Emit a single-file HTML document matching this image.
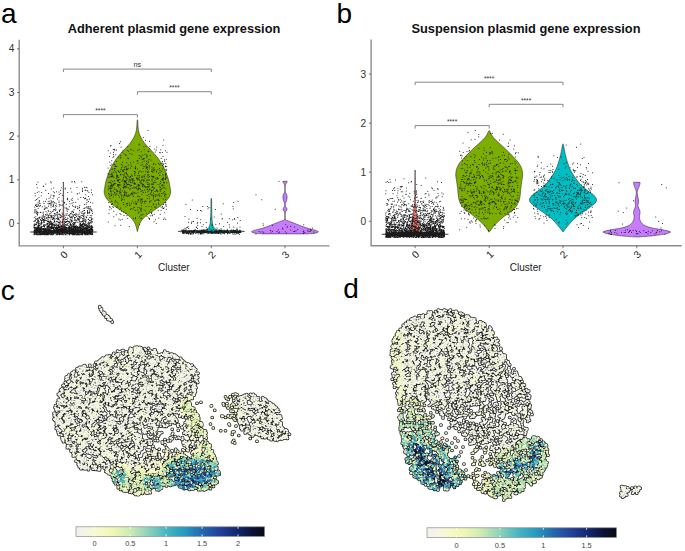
<!DOCTYPE html>
<html><head><meta charset="utf-8"><title>Plasmid gene expression</title>
<style>html,body{margin:0;padding:0;background:#fff}svg{display:block}text{font-family:'Liberation Sans', Arial, Helvetica, sans-serif}</style></head>
<body>
<svg width="685" height="551" viewBox="0 0 685 551">
<rect width="685" height="551" fill="#fff"/>
<g font-size="28" fill="#000"><text x="0.9" y="22.8">a</text><text x="336.5" y="23">b</text><text x="0.8" y="299.7">c</text><text x="343.2" y="297.6">d</text></g>
<g font-size="12.8" font-weight="bold" fill="#111" text-anchor="middle"><text x="174" y="32.8">Adherent plasmid gene expression</text><text x="526" y="33.3">Suspension plasmid gene expression</text></g>
<path d="M19.2 39.7V245.9H329.5" fill="none" stroke="#8c8c8c" stroke-width="1.4"/>
<path d="M19.2 223.4h-2.2M19.2 179.8h-2.2M19.2 136.1h-2.2M19.2 92.5h-2.2M19.2 48.8h-2.2M63.4 245.9v2.4M137.4 245.9v2.4M211.3 245.9v2.4M285 245.9v2.4" stroke="#555" stroke-width="0.8"/>
<g font-size="10.2" fill="#333" text-anchor="end"><text x="14.3" y="227">0</text><text x="14.3" y="183.3">1</text><text x="14.3" y="139.7">2</text><text x="14.3" y="96.1">3</text><text x="14.3" y="52.4">4</text></g>
<g font-size="10.2" fill="#222" text-anchor="end"><text transform="translate(68.4 255.2) rotate(-45)">0</text><text transform="translate(142.4 255.2) rotate(-45)">1</text><text transform="translate(216.3 255.2) rotate(-45)">2</text><text transform="translate(290 255.2) rotate(-45)">3</text></g>
<text x="173.8" y="270.6" font-size="10" fill="#222" text-anchor="middle">Cluster</text>
<path d="M371.1 39.4V245.8H681.7" fill="none" stroke="#8c8c8c" stroke-width="1.4"/>
<path d="M371.1 221.3h-2.2M371.1 172.2h-2.2M371.1 123.1h-2.2M371.1 74h-2.2M415.1 245.8v2.4M489.2 245.8v2.4M563 245.8v2.4M636.8 245.8v2.4" stroke="#555" stroke-width="0.8"/>
<g font-size="10.2" fill="#333" text-anchor="end"><text x="366.2" y="224.9">0</text><text x="366.2" y="175.8">1</text><text x="366.2" y="126.7">2</text><text x="366.2" y="77.6">3</text></g>
<g font-size="10.2" fill="#222" text-anchor="end"><text transform="translate(420.1 255.1) rotate(-45)">0</text><text transform="translate(494.2 255.1) rotate(-45)">1</text><text transform="translate(568 255.1) rotate(-45)">2</text><text transform="translate(641.8 255.1) rotate(-45)">3</text></g>
<text x="525.7" y="270.6" font-size="10" fill="#222" text-anchor="middle">Cluster</text>
<path d="M63.4 182.7C63.4 182.8 63.3 180.6 63.2 183.5C63.2 186.4 63.2 194.8 63.2 200C63.2 205.2 63.1 211.3 63 215C62.9 218.7 62.8 220.2 62.6 222C62.5 223.8 62.4 224.8 62.1 226C61.8 227.2 61.5 228.2 61 229C60.5 229.8 60.3 230.1 59.4 230.5C58.5 230.9 60.3 231.2 55.4 231.4C50.5 231.7 30.1 231.8 30.1 232C30.1 232.2 49.9 232.5 55.4 232.7C60.9 232.9 62.1 233.1 63.4 233.2L63.4 233.2C64.7 233.1 65.9 232.9 71.4 232.7C77 232.5 96.7 232.2 96.7 232C96.7 231.8 76.3 231.7 71.4 231.4C66.5 231.2 68.3 230.9 67.4 230.5C66.5 230.1 66.2 229.8 65.8 229C65.3 228.2 65 227.2 64.7 226C64.4 224.8 64.4 223.8 64.2 222C64 220.2 63.9 218.7 63.8 215C63.7 211.3 63.6 205.2 63.6 200C63.6 194.8 63.6 186.4 63.5 183.5C63.5 180.6 63.4 182.8 63.4 182.7Z" fill="#F8766D" stroke="#1a1a1a" stroke-width="0.5" stroke-linejoin="round"/>
<path d="M137.4 119.7C137.3 119.9 137.2 120 137.1 121C137 122 136.9 124.3 136.8 126C136.7 127.7 136.5 129.4 136.2 131C135.9 132.6 135.4 134.1 134.8 135.5C134.2 136.9 133.4 138.2 132.6 139.5C131.8 140.8 131.3 141.8 129.9 143.5C128.5 145.2 126.1 147.6 123.9 150C121.7 152.4 118.8 155.5 116.9 158C115 160.5 113.8 162.6 112.4 165C111.1 167.4 109.8 170 108.8 172.5C107.8 175 106.9 177.6 106.2 180C105.5 182.4 105.2 185 104.8 187C104.5 189 104 190.3 104.1 192C104.2 193.7 104.8 195.4 105.6 197C106.4 198.6 107.5 200 109 201.5C110.5 203 112.5 204.6 114.4 206C116.3 207.4 118.6 208.9 120.6 210.2C122.6 211.5 124.7 212.8 126.4 214C128.1 215.2 129.4 216.3 130.6 217.5C131.8 218.7 132.8 219.8 133.6 221C134.4 222.2 134.9 223.3 135.4 224.5C135.9 225.7 136.2 226.8 136.5 228C136.8 229.2 137.2 231 137.4 231.6L137.4 231.6C137.6 231 138 229.2 138.3 228C138.6 226.8 138.9 225.7 139.4 224.5C139.9 223.3 140.4 222.2 141.2 221C142 219.8 143 218.7 144.2 217.5C145.4 216.3 146.7 215.2 148.4 214C150.1 212.8 152.2 211.5 154.2 210.2C156.2 208.9 158.5 207.4 160.4 206C162.3 204.6 164.3 203 165.8 201.5C167.3 200 168.4 198.6 169.2 197C170 195.4 170.6 193.7 170.7 192C170.8 190.3 170.3 189 170 187C169.7 185 169.3 182.4 168.6 180C167.9 177.6 167 175 166 172.5C165 170 163.8 167.4 162.4 165C161.1 162.6 159.8 160.5 157.9 158C156 155.5 153.1 152.4 150.9 150C148.7 147.6 146.3 145.2 144.9 143.5C143.5 141.8 143 140.8 142.2 139.5C141.4 138.2 140.6 136.9 140 135.5C139.4 134.1 138.9 132.6 138.6 131C138.3 129.4 138.1 127.7 138 126C137.9 124.3 137.8 122 137.8 121C137.7 120 137.5 119.9 137.4 119.7Z" fill="#7CAE00" stroke="#1a1a1a" stroke-width="0.5" stroke-linejoin="round"/>
<path d="M211.3 198.5C211.2 198.6 211.1 197.7 211 199.3C210.9 200.9 210.9 205.2 210.9 208C210.9 210.8 210.8 213.7 210.7 216C210.6 218.3 210.5 220.3 210.3 222C210.1 223.7 209.9 224.9 209.5 226C209.1 227.1 208.9 227.8 207.7 228.5C206.5 229.2 207.2 229.7 202.3 230.2C197.4 230.7 178 231 178 231.4C178 231.8 196.8 232.1 202.3 232.4C207.9 232.7 209.8 232.9 211.3 233L211.3 233C212.8 232.9 214.8 232.7 220.3 232.4C225.9 232.1 244.6 231.8 244.6 231.4C244.6 231 225.2 230.7 220.3 230.2C215.4 229.7 216.1 229.2 214.9 228.5C213.7 227.8 213.5 227.1 213.1 226C212.7 224.9 212.5 223.7 212.3 222C212.1 220.3 212 218.3 211.9 216C211.8 213.7 211.8 210.8 211.7 208C211.7 205.2 211.7 200.9 211.6 199.3C211.5 197.7 211.4 198.6 211.3 198.5Z" fill="#00BFC4" stroke="#1a1a1a" stroke-width="0.5" stroke-linejoin="round"/>
<path d="M282.9 181.3C282.9 181.5 282.8 181.8 283.1 182.4C283.4 183.1 284.4 183.6 284.7 185.2C285 186.8 284.9 190.3 284.7 191.8C284.5 193.3 283.8 193.2 283.5 194C283.2 194.8 282.9 195.8 282.9 196.9C282.9 198 283.1 199.4 283.4 200.5C283.7 201.6 284.4 202.5 284.6 203.4C284.9 204.3 284.8 205.5 284.6 206.2C284.5 206.9 283.8 207.2 283.5 207.7C283.2 208.2 283 208.7 283 209.2C283 209.7 283.2 210.2 283.5 210.7C283.8 211.2 284.4 210.8 284.6 212.2C284.8 213.6 285.2 217.7 284.7 219.2C284.2 220.7 282.8 220.4 281.4 221C280 221.6 278.4 222.2 276.3 223C274.2 223.8 271.2 225.1 269 225.9C266.8 226.7 265.5 227.3 263.2 228C260.9 228.7 256.9 229.6 255 230.2C253.1 230.8 251.6 231.2 251.6 231.7C251.6 232.2 253.1 232.8 255 233.2C256.9 233.6 261.7 233.8 263 233.9L307 233.9C308.3 233.8 313.1 233.6 315 233.2C316.9 232.8 318.4 232.2 318.4 231.7C318.4 231.2 316.9 230.8 315 230.2C313.1 229.6 309.1 228.7 306.8 228C304.5 227.3 303.2 226.7 301 225.9C298.8 225.1 295.8 223.8 293.7 223C291.6 222.2 290 221.6 288.6 221C287.2 220.4 285.8 220.7 285.3 219.2C284.8 217.7 285.2 213.6 285.4 212.2C285.6 210.8 286.2 211.2 286.5 210.7C286.8 210.2 287 209.7 287 209.2C287 208.7 286.8 208.2 286.5 207.7C286.2 207.2 285.5 206.9 285.4 206.2C285.2 205.5 285.1 204.3 285.4 203.4C285.6 202.5 286.3 201.6 286.6 200.5C286.9 199.4 287.1 198 287.1 196.9C287.1 195.8 286.8 194.8 286.5 194C286.2 193.2 285.5 193.3 285.3 191.8C285.1 190.3 285 186.8 285.3 185.2C285.6 183.6 286.6 183.1 286.9 182.4C287.2 181.8 287.1 181.5 287.1 181.3Z" fill="#C77CFF" stroke="#1a1a1a" stroke-width="0.5" stroke-linejoin="round"/>
<path transform="scale(0.25)" d="M146 737h0m6-9h0m31 8h0m20-9h0m2 4h0m83-3h0m0-2h0m10 0h0m2 5h0m27-4h0m21 24h0m-4-2h0m-6 0h0m-8 4h0m-1 6h0m-21-9h0m-25 3h0m-22-1h0m0 4h0m-16-5h0m-30 1h0m-10 4h0m-30-12h0m-2 2h0m-24 5h0m-9 22h0m9-4h0m7-2h0m11 3h0m0 0h0m16-9h0m11 13h0m19-7h0m5 4h0m8-4h0m10 1h0m1 10h0m5-17h0m1 13h0m28-4h0m16-2h0m22 8h0m0-2h0m8-2h0m13-6h0m0-2h0m11-4h0m0 2h0m2 17h0m5-17h0m3 2h0m5 5h0m10-9h0m0 11h0m4 8h0m-12 17h0m-4-10h0m-3 13h0m-8-7h0m-1 2h0m-4 1h0m-4-5h0m-11 0h0m-11 6h0m-23-3h0m-4 6h0m-14 0h0m-1-6h0m-1 3h0m-19-15h0m-14 9h0m-6 6h0m-13-13h0m-2 4h0m-2-6h0m-1 13h0m-8-14h0m-2 8h0m-6 5h0m-10 3h0m-21-13h0m-9 6h0m-5 6h0m-5 3h0m-5-15h0m0 18h0m6 16h0m5-6h0m1 8h0m4-17h0m0 4h0m0 6h0m3 1h0m15-6h0m1 7h0m6-9h0m10 8h0m1-7h0m3 10h0m2-3h0m1-9h0m2 8h0m2 4h0m2-13h0m1 5h0m0 8h0m3-5h0m3-5h0m1 0h0m0 12h0m3-7h0m3 0h0m0 1h0m6 3h0m11-11h0m0 5h0m1 9h0m6 1h0m5-15h0m10 8h0m1-3h0m6 8h0m13-12h0m2 10h0m8-2h0m1-12h0m4 8h0m10 1h0m35 8h0m7-2h0m2-16h0m1 9h0m6-3h0m8 3h0m9 3h0m-7 23h0m-1 4h0m-2-13h0m-1 2h0m-1 7h0m-3 1h0m-1-2h0m-1-6h0m-1-2h0m-3 6h0m-3-5h0m-3 4h0m-5 1h0m-3 2h0m0 0h0m-17-13h0m-1 10h0m-1-3h0m-5 7h0m-1-8h0m-1 6h0m-7-9h0m-1 6h0m-2-2h0m-4 11h0m-3-13h0m-3-5h0m-13 6h0m-2 10h0m-6-1h0m-2-4h0m-2 1h0m-5-2h0m-10-11h0m-6 1h0m-3 17h0m-4-14h0m-12 1h0m-1 12h0m-1-15h0m-1 10h0m-4 6h0m-3 1h0m0-1h0m0-11h0m-1-5h0m-3 3h0m-7 3h0m0-6h0m-10 2h0m-5 8h0m-2-2h0m0 2h0m-5 0h0m-2 0h0m-1 3h0m0-11h0m-2 14h0m-8-11h0m-7-6h0m-3 4h0m-4-2h0m-2 10h0m-3-8h0m-1 0h0m-3 1h0m-2-5h0m-2 1h0m0-2h0m-2 17h0m-1-9h0m0 15h0m0 8h0m1-6h0m4-5h0m0 11h0m2 4h0m1-10h0m0 0h0m1 3h0m2 10h0m1-7h0m0 2h0m1-4h0m9 1h0m2-1h0m9 3h0m1-4h0m1 11h0m8-1h0m2-13h0m4 7h0m3 7h0m2-18h0m2 5h0m4 13h0m1-5h0m0-1h0m3-8h0m2 6h0m5-6h0m5-1h0m2 10h0m2 2h0m2-1h0m1-14h0m3 15h0m2-7h0m2 10h0m1-11h0m1 4h0m4 5h0m2-15h0m1 4h0m0 10h0m2-16h0m0 18h0m1 1h0m7-7h0m3 5h0m13-1h0m4-16h0m1 15h0m0-9h0m8 11h0m5-3h0m2 2h0m3-9h0m0 5h0m3 7h0m1-15h0m1 3h0m2 3h0m1 9h0m4 0h0m1-2h0m4-4h0m2 6h0m6-2h0m5-1h0m1-14h0m2 6h0m6 4h0m3-6h0m0 7h0m4-10h0m2 10h0m0 4h0m3-4h0m0-11h0m1 9h0m1 0h0m10-2h0m0 5h0m0-12h0m0 4h0m2 4h0m4 3h0m1-5h0m1-5h0m1 8h0m7-8h0m2-3h0m1 7h0m1 7h0m1 22h0m-4-15h0m0 14h0m-1 4h0m-1-3h0m0-8h0m-1 1h0m-3-7h0m-2 8h0m-5 8h0m-1-2h0m-2-15h0m-4 10h0m-2-2h0m-1-4h0m-4 12h0m-1 0h0m0-1h0m-3-14h0m0 7h0m-1 5h0m0-8h0m-2 0h0m-1 10h0m-1-15h0m-1 0h0m-1 12h0m-4-11h0m0 8h0m-3 2h0m-1-7h0m-3 7h0m-1-2h0m0-4h0m-1 0h0m0 11h0m-2 1h0m-1-4h0m-1-11h0m-1 9h0m-1 4h0m0 1h0m-4-11h0m-4-5h0m-1 9h0m-1 9h0m-1-4h0m-1-5h0m-1 1h0m-2-10h0m-2 4h0m-3 7h0m-2-1h0m0-6h0m-1 5h0m-2-2h0m-2 8h0m-2-7h0m0 1h0m-1 9h0m-1-13h0m0-4h0m-6 0h0m-1 11h0m-3-1h0m-3 6h0m-1-17h0m-3 16h0m-1-8h0m-2-6h0m0 12h0m-5 1h0m-3-10h0m-2 13h0m-2-16h0m-2 4h0m-1 2h0m-3 2h0m0-9h0m-1 6h0m-4 10h0m-1-3h0m-2-1h0m-1 5h0m0 0h0m0-11h0m0 1h0m-1 9h0m-1-7h0m-1-7h0m0-2h0m-1 13h0m-3-1h0m-4-13h0m-1 15h0m-1 0h0m0-11h0m-3 10h0m0-4h0m-1-2h0m0-7h0m-1 13h0m-2-3h0m0 5h0m-2 1h0m-2-7h0m0-6h0m0-4h0m-1 8h0m-1-5h0m0 3h0m-2 9h0m-2-8h0m-1-6h0m-3 9h0m-1 0h0m-1-1h0m-2-8h0m-1 4h0m0 4h0m-1-1h0m0 0h0m0 9h0m-1-6h0m-3-12h0m-2 13h0m-1-2h0m0-1h0m-1-10h0m-4 5h0m-1 10h0m-2-4h0m-1 7h0m0-11h0m-3 1h0m0-7h0m-1 16h0m-2-2h0m-1-11h0m-1 5h0m-1 4h0m-5 5h0m-2-10h0m-1 4h0m-2 1h0m-1-3h0m-3 6h0m-3-16h0m0 19h0m0-5h0m-5 4h0m0 0h0m-1-5h0m-1-6h0m0 9h0m-6-6h0m-1 16h0m1 11h0m0-13h0m3 11h0m1-13h0m1 16h0m0-14h0m4 12h0m0-6h0m1 9h0m0-8h0m4-8h0m0 4h0m0 5h0m1-2h0m0 1h0m0 1h0m0-5h0m2-5h0m0 13h0m1 4h0m1-14h0m0 3h0m1 6h0m6 2h0m0-16h0m1 12h0m0 7h0m1-17h0m0 9h0m0 7h0m0-9h0m1-4h0m1-3h0m0 12h0m1-4h0m0-10h0m3 0h0m2 1h0m2 7h0m0-8h0m0 9h0m0-4h0m2 5h0m0 8h0m0-11h0m1-5h0m3-2h0m1 1h0m2 17h0m1-16h0m3 12h0m1-10h0m0 13h0m2 2h0m0-12h0m0 6h0m0-8h0m0 9h0m1-10h0m0 3h0m1-3h0m2 3h0m1 8h0m0-4h0m1-2h0m2 7h0m0-9h0m0 1h0m1 9h0m1-7h0m0-7h0m0 3h0m1 8h0m1 2h0m0-10h0m1 12h0m0-12h0m1 8h0m1-6h0m1 3h0m1 8h0m0-3h0m0 3h0m2-3h0m0-1h0m0-2h0m0 3h0m2 3h0m2-3h0m0 0h0m0 0h0m1-7h0m2-7h0m1 15h0m0-10h0m0-3h0m1 4h0m4 11h0m1-6h0m1-8h0m1 14h0m2 0h0m0-13h0m4 1h0m0 1h0m1 2h0m1 6h0m3-7h0m1 2h0m1 2h0m0 6h0m0-16h0m1 9h0m2-7h0m1 14h0m1-8h0m5-4h0m0 3h0m0-3h0m1-2h0m3 14h0m4-6h0m2-8h0m1-1h0m1 14h0m0-8h0m2-2h0m1-1h0m0 3h0m1 9h0m0-13h0m1 0h0m3 10h0m1-1h0m0-15h0m0 6h0m3-1h0m0 1h0m2 6h0m2-2h0m0-3h0m1 0h0m3 7h0m0 4h0m1-3h0m0-7h0m0 11h0m1-2h0m0 0h0m1 2h0m0-2h0m1-15h0m0-1h0m0 7h0m1-1h0m2-1h0m0-6h0m1 3h0m1 10h0m2 5h0m2-8h0m1 8h0m0-3h0m1-1h0m1-13h0m1 8h0m1 8h0m0-4h0m3-2h0m1-11h0m0 1h0m1-1h0m0 8h0m3-5h0m4 6h0m2-9h0m4 8h0m1-8h0m1 18h0m0-13h0m1 9h0m1 5h0m0-6h0m1 2h0m0-3h0m2 7h0m0-13h0m1 1h0m2 0h0m1 10h0m2-2h0m0 4h0m0-15h0m1 14h0m0-11h0m1-3h0m0 13h0m0 2h0m1-3h0m0-2h0m0-14h0m1 11h0m1 5h0m1-13h0m1 11h0m0-11h0m1 13h0m0 1h0m1-12h0m3-5h0m1 12h0m0-2h0m0-4h0m0 11h0m1 1h0m1-17h0m0 18h0m1 0h0m2 0h0m3-6h0m2-1h0m2-4h0m0 10h0m0 1h0m0 0h0m1-5h0m0-5h0m2-7h0m1 14h0m0-13h0m0-1h0m1 10h0m0-11h0m3 7h0m1 2h0m0 0h0m1-10h0m0 12h0m2-7h0m1 2h0m2 1h0m1 29h0m0 1h0m0 0h0m0-8h0m-1 6h0m0-9h0m-1 10h0m0 1h0m-1-2h0m0 3h0m0-11h0m-1 5h0m0-4h0m0-6h0m-1 14h0m0-3h0m-1-3h0m0 7h0m0-6h0m0-2h0m0 0h0m0-4h0m0-4h0m-1 16h0m0-7h0m0-7h0m-1 15h0m0-12h0m-1 12h0m0-6h0m-1 5h0m0-2h0m-1 0h0m-1-6h0m0 7h0m0-6h0m0-5h0m-1 10h0m0-14h0m-1 16h0m0 1h0m0-9h0m-2 0h0m0-3h0m-2 10h0m0-2h0m0-10h0m-1 12h0m0-10h0m0 2h0m0-4h0m0 6h0m0-10h0m-1 18h0m0-1h0m-1-4h0m0 4h0m0-15h0m0 12h0m0 1h0m0-11h0m-1 7h0m0 5h0m0-13h0m0 3h0m-1 11h0m0-1h0m0-3h0m0 4h0m-1-2h0m0 3h0m0-11h0m0 6h0m-1 5h0m0-2h0m0 1h0m0 0h0m0-11h0m0-4h0m-1 14h0m0-6h0m0 6h0m-1-4h0m-1 3h0m0 3h0m0-8h0m0-9h0m0-2h0m0 16h0m0-7h0m-1 7h0m0-3h0m0-10h0m-1 6h0m0 0h0m-2 5h0m0 2h0m0-3h0m0 4h0m0-17h0m-1 17h0m0-3h0m0-10h0m0-2h0m-1 17h0m0-1h0m0 0h0m-1-2h0m0-6h0m-1 7h0m0-5h0m0-2h0m-1 4h0m0-8h0m-1 11h0m0-1h0m-1 2h0m0-7h0m0-8h0m0 3h0m-1 9h0m0 3h0m-1-2h0m0 0h0m0 3h0m0-8h0m-2 0h0m0-10h0m0 15h0m0-5h0m0 6h0m0-11h0m0 1h0m-1 8h0m0-11h0m-1 14h0m0-11h0m0 8h0m0-15h0m-1 19h0m0-16h0m-1 14h0m0-5h0m-2-3h0m0 7h0m0-13h0m0-1h0m-1 12h0m0-8h0m0 3h0m0 2h0m-1 8h0m-1 0h0m-1-9h0m0-1h0m0-2h0m0 1h0m-1 5h0m0 6h0m0-16h0m-1 9h0m0 2h0m0-4h0m-1 7h0m0 1h0m0-3h0m0-5h0m-1 2h0m0-3h0m-1 8h0m0-5h0m0-1h0m-1-4h0m0 12h0m-1-1h0m0 0h0m-1 0h0m0-6h0m0-6h0m0 1h0m-1 6h0m0 6h0m0-5h0m0 0h0m0-6h0m-1 1h0m-1 2h0m0-1h0m-1 2h0m0-6h0m0 3h0m-1 7h0m0-15h0m-1 18h0m0-6h0m0 6h0m-1-2h0m0-8h0m-1 7h0m0 2h0m0-1h0m0-9h0m0 10h0m0-12h0m0-1h0m-1 14h0m0-4h0m-1-3h0m0 7h0m0-8h0m0 4h0m0-11h0m0 14h0m-1-10h0m0 6h0m0 4h0m0-10h0m0-1h0m-1 4h0m-1 1h0m0 7h0m0-16h0m0 2h0m-1 2h0m-1 2h0m-1 9h0m0 1h0m0-6h0m0 3h0m0 2h0m0-15h0m0 0h0m0 2h0m-1 1h0m0 6h0m0-10h0m0-2h0m-1 16h0m0 3h0m0 0h0m0-18h0m-1 14h0m0 4h0m0-2h0m-1-11h0m0 11h0m0 1h0m0-3h0m-1 1h0m0-7h0m-1 7h0m-1-1h0m0-2h0m0-7h0m0 13h0m0-3h0m0-16h0m0 5h0m-1 13h0m0-3h0m0-4h0m-1-1h0m0-1h0m0-1h0m0 0h0m0-8h0m-1 19h0m0-3h0m0-3h0m0 4h0m0-4h0m0-3h0m-1 1h0m0-1h0m0-7h0m0 11h0m-3-4h0m0 8h0m0-11h0m-1 11h0m0-1h0m0-9h0m0 7h0m0-15h0m-1 12h0m0-6h0m-1 8h0m0-9h0m-1 8h0m0-3h0m0 9h0m0-2h0m0 0h0m0-8h0m-1 3h0m0 3h0m0 3h0m-1-2h0m0 1h0m0-14h0m-1 12h0m0 0h0m0 0h0m0-1h0m0-4h0m-1 2h0m-3 7h0m0-1h0m0-18h0m0 1h0m-1 16h0m0-4h0m0-12h0m0 10h0m-1 2h0m0-4h0m-1 1h0m0 1h0m0 7h0m0-2h0m0-16h0m-1 17h0m0 0h0m0-3h0m-1 0h0m0-13h0m-1 11h0m0-4h0m0 7h0m0-6h0m0-8h0m-1 14h0m0-6h0m-1 5h0m0 4h0m0-3h0m-1 2h0m0-11h0m0 0h0m-1 12h0m0-8h0m0 8h0m-1-4h0m0 4h0m0-2h0m0-7h0m-1-8h0m0 8h0m-1 9h0m0-8h0m-1-2h0m0 11h0m0-2h0m-1-13h0m-1 10h0m0-1h0m-1 1h0m0 4h0m0-5h0m0 3h0m0 2h0m-1 0h0m0-18h0m-1 17h0m0-10h0m-1 10h0m0-10h0m0 0h0m0 2h0m-1 6h0m0-3h0m-1-6h0m0 12h0m-1-16h0m-1 11h0m0 2h0m0-10h0m0 10h0m-1 2h0m0-1h0m0-8h0m-1-8h0m-1 19h0m-1-9h0m0 2h0m-1 5h0m0-12h0m0 8h0m0-7h0m-1 5h0m0 3h0m0-2h0m-1 4h0m-1 3h0m0-9h0m-1-2h0m0 9h0m0-13h0m-1-2h0m0 6h0m0 8h0m0-8h0m0-5h0m-1 15h0m0-13h0m0 5h0m-1-4h0m-1 13h0m0-2h0m0-4h0m0-3h0m0-10h0m-1 17h0m0-6h0m0-9h0m0 2h0m-1 7h0m-1 6h0m0-1h0m-1 1h0m0-8h0m-1 4h0m0-3h0m-1 8h0m0-2h0m0-11h0m0 5h0m-1 4h0m0 5h0m0-14h0m0 5h0m-1 4h0m0 5h0m-1-6h0m0-11h0m-1 11h0m0-2h0m0 3h0m-1-1h0m-1 6h0m0-9h0m-1 9h0m0-11h0m0-6h0m-2 15h0m0 0h0m0-15h0m-1 7h0m0 4h0m0-8h0m0-4h0m-1 14h0m-1-1h0m0 3h0m0-1h0m0-7h0m-1 3h0m0 1h0m-2 1h0m0-3h0m-1-1h0m0 3h0m-1-3h0m0-3h0m0-3h0m0-2h0m-1 4h0m0 8h0m0-2h0m0-12h0m-1 10h0m-1 4h0m-1-11h0m0 2h0m0 3h0m0 3h0m-1 4h0m0-2h0m-1 6h0m-1-9h0m-2-3h0m0 8h0m-1 1h0m0-2h0m0-6h0m0 2h0m0 0h0m0 0h0m0-5h0m-1 10h0m0 0h0m0-6h0m0-9h0m0 9h0m-1 7h0m0 2h0m0-17h0m-1 8h0m0-9h0m-1 16h0m0 1h0m0-1h0m-1-12h0m0 5h0m0-3h0m0 12h0m0-16h0m-1 13h0m0 4h0m0-12h0m-1 5h0m0 1h0m-1 3h0m0-7h0m0-3h0m-1 6h0m0-2h0m-1-5h0m0 11h0m0-6h0m0-5h0m-1 13h0m0-12h0m0 11h0m0-14h0m0 7h0m0 1h0m0 0h0m-1 6h0m0-3h0m0 2h0m-3 1h0m0 2h0m-2-5h0m-1 2h0m0-15h0m0 0h0m-2 13h0m0-6h0m0 9h0m-1-11h0m0 2h0m0 9h0m0-14h0m-1 14h0m-1-3h0m0-10h0m0-1h0m-1 14h0m0 0h0m0-14h0m0 0h0m-1 10h0m0-8h0m0-5h0m-1 18h0m-1 0h0m-1-4h0m0-1h0m-1 3h0m-1-11h0m-1 12h0m-1-2h0m0 2h0m0 0h0m0-10h0m0-1h0m-1 10h0m0-6h0m-1 7h0m0-1h0m0-3h0m-1-5h0m0 8h0m0-1h0m-1-6h0m-1 9h0m0-2h0m0-4h0m0 0h0m-1 3h0m0 3h0m0 1h0m-1-4h0m0 0h0m0-11h0m-1 11h0m0 1h0m0 3h0m-1-7h0m0-12h0m-1 19h0m0-2h0m0-15h0m-1 9h0m0 8h0m0-3h0m0-7h0m-1 5h0m0-1h0m0-4h0m0-3h0m0 1h0m-1-5h0m0 6h0m0 0h0m-1 7h0m0-10h0m0-3h0m-1 14h0m0-13h0m0 12h0m0-3h0m0 0h0m0-7h0m0-3h0m-1 17h0m0-3h0m0-5h0m0 2h0m-1 0h0m-1 1h0m0-6h0m-1 8h0m0-4h0m-1-1h0m0 7h0m-1 0h0m0-1h0m0 1h0m0-1h0m0-3h0m-1 5h0m0-6h0m0 4h0m-1-2h0m0-5h0m-1 9h0m0-2h0m0-7h0m-1 8h0m-1-5h0m0 5h0m0 0h0m-1-15h0m0 10h0m-1-10h0m-1-1h0m0 8h0m-1 5h0m0-6h0m-1-2h0m0-7h0m0 10h0m0-9h0m0 21h0m0 14h0m0-1h0m0 4h0m0-13h0m0 0h0m0 3h0m1 0h0m0 5h0m0 1h0m0-10h0m1 0h0m0 7h0m0-4h0m0 1h0m0-8h0m0-1h0m0 1h0m0 6h0m0-5h0m1 2h0m0 1h0m0 6h0m0-7h0m0 1h0m1 6h0m0-3h0m0 3h0m0-9h0m0 7h0m0-2h0m0 10h0m0-4h0m0 2h0m1-6h0m0-2h0m1 0h0m0 1h0m0 0h0m1-3h0m0-1h0m1 15h0m0 0h0m0-8h0m0-9h0m0 10h0m1-1h0m0-10h0m0 7h0m0 1h0m0 7h0m1-13h0m0-3h0m0 5h0m0 7h0m0 6h0m1-6h0m0 1h0m0-13h0m0 10h0m1 8h0m0-11h0m0 5h0m1-7h0m0 2h0m0-1h0m0 7h0m0-11h0m1 17h0m0-17h0m1-1h0m0 4h0m0-5h0m0 1h0m0 14h0m0-10h0m0 4h0m0 0h0m0-3h0m1 1h0m0-2h0m0 0h0m1 0h0m0 10h0m0-5h0m0-6h0m1 13h0m0-8h0m0 10h0m1-19h0m0 8h0m0-1h0m0-3h0m1 12h0m0-11h0m0 5h0m0-8h0m0 2h0m1-2h0m0 4h0m0 8h0m0-9h0m0 6h0m0-3h0m0 0h0m1-6h0m0 10h0m0-5h0m0-3h0m0 5h0m0-1h0m0-3h0m0 6h0m0-4h0m1-7h0m0 18h0m0 1h0m0-3h0m0-5h0m1-7h0m0 0h0m0-4h0m0 15h0m0-2h0m0-13h0m1 7h0m0 11h0m0-3h0m1 4h0m0-9h0m0 0h0m0 2h0m0-4h0m1-1h0m0-4h0m0 8h0m0-10h0m0 5h0m1 6h0m0-7h0m0 5h0m0-1h0m0 8h0m0-1h0m1-4h0m0 6h0m1-18h0m1 3h0m0 3h0m1-2h0m0 2h0m0 8h0m0 2h0m0 3h0m1-14h0m0-1h0m0 5h0m0-3h0m1-3h0m0 2h0m0 6h0m1 1h0m0 6h0m0-3h0m1-12h0m0 2h0m1 2h0m0 6h0m1-3h0m0 4h0m0-11h0m0 12h0m0-6h0m1 9h0m0-13h0m0 3h0m0 3h0m1-10h0m0 2h0m0-3h0m0 3h0m0 0h0m1 1h0m0 8h0m0-9h0m0-3h0m0 1h0m0 11h0m0 1h0m1 2h0m0 4h0m0-17h0m0 3h0m0-5h0m0 11h0m1-4h0m0-3h0m0-3h0m0-1h0m0 17h0m0-14h0m0 1h0m1 0h0m0 7h0m1 1h0m0-4h0m0 0h0m0 4h0m1-9h0m0 10h0m0 4h0m0-8h0m0-4h0m0-4h0m0-1h0m0 3h0m1-3h0m0 2h0m0 10h0m0 7h0m0-13h0m0-4h0m0 12h0m0 2h0m1-4h0m0-4h0m0-4h0m0-3h0m0 1h0m0 3h0m1-1h0m0 4h0m0 1h0m0-6h0m0 10h0m0-2h0m1 4h0m0-4h0m0-10h0m0 18h0m0-12h0m0-7h0m1 4h0m0 0h0m0 14h0m0-7h0m0 8h0m0-15h0m0 3h0m1 12h0m0 0h0m0-4h0m0-9h0m1 9h0m0-5h0m0 8h0m0-6h0m0 7h0m1-17h0m0 0h0m0 7h0m0 1h0m0 0h0m1 9h0m0-18h0m0 6h0m0-5h0m0-1h0m1 5h0m0 13h0m0-18h0m0 10h0m0 8h0m0-5h0m1 5h0m0-11h0m0 5h0m0-7h0m0-3h0m0 6h0m0-7h0m0 8h0m0-9h0m1 12h0m0-7h0m0 10h0m0-12h0m0-2h0m1-1h0m0 7h0m1 6h0m0-8h0m0 3h0m0-2h0m0-3h0m1 8h0m0-7h0m0 2h0m0-7h0m0 5h0m0 2h0m1-5h0m0 4h0m0 8h0m0-4h0m0-3h0m1 5h0m0 0h0m0 5h0m0-5h0m0-11h0m0 2h0m0 14h0m0-2h0m0-5h0m1 7h0m0-14h0m0-2h0m0 1h0m1 6h0m0-5h0m0 1h0m0 5h0m0 0h0m0-5h0m0 15h0m0-13h0m1 4h0m0 0h0m1-2h0m0-5h0m0 10h0m0 6h0m0-16h0m0 1h0m1 3h0m0-3h0m0 5h0m0-8h0m1 1h0m0 9h0m0-11h0m0 14h0m0-3h0m0 6h0m0-16h0m0 2h0m0 6h0m0-9h0m1 13h0m0-11h0m0 8h0m0 7h0m0-6h0m1-4h0m0-3h0m0 2h0m0-1h0m0 11h0m0-14h0m1 8h0m0-9h0m0 0h0m0 18h0m1 0h0m0-6h0m1-9h0m0 6h0m1 9h0m0-15h0m0-3h0m0 8h0m0-8h0m0 2h0m1 16h0m0-14h0m0 5h0m0-2h0m0 11h0m0-17h0m1 2h0m0 5h0m0 3h0m0 2h0m1-9h0m0-3h0m0 7h0m0-4h0m0-3h0m0 4h0m0-1h0m0-3h0m1 5h0m0 11h0m0-17h0m0 5h0m0-2h0m0-2h0m1 12h0m0-9h0m0-5h0m0 2h0m0 4h0m0-5h0m1 4h0m0 6h0m0-7h0m1-1h0m0 4h0m0-5h0m0 11h0m1-11h0m0 2h0m0 1h0m0-3h0m0 7h0m1 4h0m0-6h0m1-1h0m0-3h0m0 1h0m0 5h0m0 4h0m0-7h0m0 6h0m1 0h0m0-12h0m0 4h0m0-1h0m0 3h0m1 4h0m0-2h0m0-5h0m0-3h0m0 5h0m0 5h0m0-2h0m1-1h0m0 0h0m0-4h0m0 6h0m0 0h0m0 10h0m1-19h0m0 0h0m0 5h0m0 3h0m0-6h0m0 3h0m1-4h0m0 5h0m0 4h0m0 0h0m0 3h0m0-10h0m0 6h0m0-6h0m1 5h0m0 5h0m0-11h0m0 6h0m0 9h0m0-6h0m1 4h0m0-3h0m0-9h0m0 3h0m1-2h0m0-3h0m0 11h0m0-11h0m0 18h0m0-18h0m0 8h0m1 4h0m0-13h0m0 17h0m0-4h0m1-4h0m0-2h0m0-1h0m0 0h0m0 1h0m0-5h0m1 8h0m0 7h0m0-13h0m0 8h0m1-8h0m0 7h0m0-8h0m0 1h0m1-3h0m0 3h0m0-3h0m1 9h0m0-3h0m0 3h0m0-3h0m0-7h0m0 12h0m1-3h0m0-7h0m0 15h0m0-17h0m0 3h0m0 13h0m0-1h0m0-9h0m0 10h0m1-12h0m0-2h0m0 9h0m0 0h0m1 2h0m0-10h0m0 16h0m1-1h0m0-14h0m0 10h0m0-2h0m0-12h0m1 1h0m0 10h0m0-2h0m0 0h0m0-4h0m0 3h0m1 1h0m0-3h0m0-4h0m0 9h0m0-6h0m0 6h0m0-3h0m0 5h0m1-10h0m0 11h0m0-12h0m0 0h0m1 16h0m0-13h0m1-5h0m0 0h0m1 5h0m0 13h0m0-12h0m0-2h0m0 0h0m1-1h0m0 3h0m0 2h0m0-1h0m0-7h0m0 13h0m0-13h0m0 0h0m0 11h0m1 1h0m0-7h0m0-4h0m0 5h0m1-3h0m0 4h0m0 2h0m1 3h0m0-6h0m0 13h0m0-3h0m0-14h0m0-2h0m1 14h0m0-11h0m0 7h0m0 1h0m0-6h0m0 2h0m1-2h0m0 0h0m0 2h0m0 7h0m0 1h0m0-14h0m0 7h0m0 2h0m1-6h0m0-2h0m0 2h0m1-2h0m0 7h0m0-4h0m0 6h0m0-2h0m1-9h0m0 5h0m0 14h0m0-7h0m0-10h0m1 17h0m0-12h0m0 4h0m0-6h0m0-5h0m1 2h0m0 10h0m0-8h0m0-4h0m1 8h0m0-1h0m0 3h0m0 1h0m0-4h0m1-7h0m0 2h0m0 2h0m0-3h0m0 4h0m0 0h0m1 10h0m0-10h0m1 3h0m0-2h0m0-3h0m0 6h0m1-6h0m0 16h0m0-6h0m0-1h0m0-10h0m0-2h0m0 16h0m0-10h0m0 3h0m1-5h0m0 1h0m0 14h0m1-19h0m0 8h0m0-1h0m1-1h0m0 4h0m1-10h0m0 9h0m0 1h0m1-4h0m0 9h0m1-11h0m0 7h0m0 1h0m1 1h0m0-12h0m0 6h0m0 5h0m0-2h0m0 9h0m0-12h0m1 2h0m0-6h0m0 2h0m0 1h0m1 0h0m0-5h0m0 9h0m0 2h0m0 1h0m0 1h0m0-12h0m1 1h0m0 8h0m0 2h0m0-9h0m0 9h0m1-9h0m0 9h0m0-11h0m0 4h0m1-3h0m0 4h0m0-5h0m1 1h0m0 11h0m0-1h0m1-9h0m1-4h0m0 15h0m0-4h0m0 6h0m0-4h0m0-13h0m0 16h0m1-13h0m0 1h0m0 4h0m1 11h0m0-19h0m0 19h0m1-11h0m0 6h0m0 4h0m0-11h0m0-2h0m0 6h0m0-7h0m0-1h0m1 9h0m0 1h0m0-4h0m0 1h0m1-4h0m0-3h0m0-2h0m1 3h0m0 0h0m0 9h0m0-6h0m0 7h0m0-10h0m1-3h0m0 0h0m0 9h0m0-7h0m0 10h0m0-5h0m1-5h0m0 5h0m0-8h0m0 8h0m0 7h0m0-15h0m0 11h0m0-10h0m1 15h0m0-15h0m0-1h0m0 5h0m0 4h0m2 5h0m0-9h0m0-1h0m0-2h0m0-1h0m1 11h0m0-2h0m0-6h0m0-2h0m1 4h0m0-5h0m0 17h0m0-16h0m0-2h0m1 14h0m0-3h0m0-8h0m0 5h0m0 11h0m1 0h0m0-10h0m1-6h0m0 9h0m0-6h0m0-4h0m0 9h0m0-7h0m0 6h0m1-5h0m0 2h0m0-1h0m0-5h0m1 18h0m0-4h0m0-10h0m0 2h0m1 1h0m0 6h0m0-13h0m0 18h0m1 0h0m0-9h0m0-5h0m0 7h0m0-8h0m0 0h0m0 6h0m1-1h0m1 3h0m0-7h0m0 10h0m0 4h0m0-5h0m0-5h0m1 6h0m0-9h0m0 0h0m0 10h0m0-13h0m0-3h0m0 12h0m1 3h0m0-3h0m1-8h0m1 0h0m0 9h0m0-10h0m0 1h0m0-2h0m0 5h0m0 1h0m1-2h0m0-2h0m0 12h0m0-10h0m0 2h0m1-6h0m0 0h0m0 17h0m0 0h0m0-8h0m0-9h0m0-1h0m1 18h0m0-3h0m0-7h0m0-5h0m0 3h0m1-3h0m0 7h0m1-10h0m0 3h0m0-4h0m0 0h0m0 19h0m1-15h0m0 2h0m0-1h0m0-2h0m0 5h0m1 2h0m0-10h0m0 5h0m0-5h0m0 4h0m0 15h0m0 0h0m0-6h0m0-12h0m1 15h0m0-5h0m0-8h0m1 2h0m0 11h0m0-11h0m0-1h0m0 15h0m0-11h0m0-4h0m0 9h0m0-2h0m1 8h0m0-17h0m0-1h0m0 6h0m0 4h0m1 0h0m0-4h0m0-2h0m0 12h0m0-8h0m0 7h0m1-5h0m0-6h0m0-3h0m0 14h0m0-9h0m0 12h0m1 0h0m1-16h0m0 16h0m0-18h0m0 5h0m0 0h0m0-2h0m0-3h0m0 1h0m0 5h0m0-1h0m1-3h0m0 2h0m0 0h0m0-4h0m0 11h0m1-9h0m0 16h0m0-9h0m0-3h0m0 3h0m0 9h0m0-6h0m0-8h0m1 1h0m0 12h0m0 0h0m0-17h0m1 3h0m0 15h0m0-19h0m0 4h0m0 2h0m0 7h0m0-13h0m0 11h0m1-2h0m0 8h0m0-13h0m1 1h0m0-4h0m0 6h0m0 4h0m0-5h0m1 6h0m0-1h0m0-3h0m1 2h0m0-6h0m0 0h0m0 3h0m0-6h0m0 6h0m1 11h0m0-9h0m0 1h0m1 2h0m0-7h0m0 1h0m0-5h0m0 3h0m0-2h0m0 7h0m0-5h0m0 12h0m1-13h0m0 8h0m0-9h0m0 7h0m0-5h0m0 11h0m1-12h0m0 5h0m0-4h0m0 1h0m0-4h0m1 6h0m0 4h0m0-8h0m0 2h0m0 14h0m0-11h0m0 3h0m0 3h0m1-10h0m0 11h0m0-14h0m0 2h0m0 1h0m1 11h0m0 2h0m0-9h0m0 10h0m0-15h0m0 8h0m0-6h0m1 4h0m0 10h0m0-5h0m0-14h0m0 6h0m0-6h0m0 8h0m1 0h0m0-5h0m0 0h0m0 2h0m0 4h0m0-9h0m0 8h0m0-5h0m1 6h0m0-6h0m0 2h0m0-3h0m1 1h0m0 5h0m0-2h0m0-5h0m0 6h0m0 2h0m0-9h0m1 14h0m0-8h0m0-1h0m0 6h0m1-10h0m0 4h0m0 4h0m0-3h0m0-5h0m1 15h0m0-13h0m0 9h0m1-6h0m0 4h0m0-6h0m0 9h0m0 0h0m0-5h0m0-5h0m0 11h0m1 3h0m0 1h0m0-14h0m0 14h0m0 1h0m0-2h0m1-13h0m0 1h0m0 1h0m0-1h0m0 9h0m1-6h0m0-4h0m0 2h0m0 4h0m1-6h0m0 13h0m0-13h0m0 14h0m0-10h0m0-6h0m0 6h0m0 5h0m1-3h0m0 5h0m0-6h0m0 10h0m0-13h0m0-5h0m0 17h0m1-3h0m0-12h0m0 0h0m0 2h0m0 0h0m1 6h0m0-3h0m0 3h0m0-7h0m1-3h0m0 11h0m0-3h0m0-2h0m0 0h0m0-3h0m0-3h0m1 6h0m0-4h0m0 10h0m0 3h0m0-15h0m0 7h0m0-8h0m0 12h0m1 7h0m0-12h0m0 1h0m0-6h0m1 3h0m0 3h0m0 2h0m0 9h0m0-12h0m0-2h0m0 1h0m0-4h0m1 7h0m0-2h0m0 7h0m1-4h0m0 3h0m0-10h0m0 2h0m0-5h0m0 2h0m0 17h0m0-4h0m0-14h0m1 11h0m0 0h0m0 7h0m0-13h0m0-2h0m0 5h0m1-3h0m0-1h0m0 7h0m0-8h0m0 0h0m1 4h0m0 6h0m0-1h0m0-9h0m0 3h0m1 5h0m0-11h0m0 8h0m0-5h0m0 2h0m0-6h0m0 1h0m0 6h0m0 8h0m1-6h0m0-4h0m0-1h0m0 6h0m0 0h0m1 4h0m0-12h0m0 12h0m0-10h0m0-3h0m0 13h0m1-7h0m0-2h0m0 6h0m0-9h0m0 9h0m0-11h0m0 18h0m0-14h0m1 7h0m0-11h0m0 5h0m0-1h0m0 7h0m1 5h0m0-15h0m0 13h0m1-12h0m0 13h0m0-4h0m0 0h0m1-5h0m0-1h0m0-5h0m0 8h0m0-1h0m1-7h0m0 4h0m0 0h0m0 3h0m0 0h0m0 0h0m0 2h0m0 9h0m1-5h0m0 3h0m0-3h0m1-9h0m0 5h0m0-3h0m0 12h0m0-10h0m1 2h0m0-4h0m0 6h0m0-9h0m0 2h0m0 0h0m1 6h0m0-11h0m0 19h0m0-14h0m1 1h0m0-5h0m0 17h0m0-10h0m0-7h0m0 1h0m1 11h0m0 2h0m0-14h0m0 4h0m1-2h0m0 13h0m0-11h0m0-4h0m0 2h0" stroke="#1a1a1a" stroke-width="4.5" stroke-linecap="round" fill="none"/>
<path transform="scale(0.25)" d="M592 521h0m-19 29h0m-95 24h0m4-7h0m77 9h0m23-15h0m16 4h0m57-5h0m-3 21h0m-9 18h0m-16-11h0m-8 8h0m-19-11h0m-2 9h0m-15-9h0m-6 14h0m-2-12h0m-18 11h0m-2-18h0m-31 19h0m-1-2h0m-12-10h0m-27 1h0m-25 9h0m-2 0h0m-4 1h0m-9-16h0m-2 2h0m-9 19h0m8 9h0m13-3h0m0 9h0m5-15h0m4 16h0m3-19h0m22 9h0m4-6h0m4 12h0m7 3h0m6-17h0m5 4h0m5 9h0m9 3h0m5-14h0m18-2h0m14 6h0m15 10h0m12-12h0m3 0h0m1 0h0m25 3h0m4-8h0m14 10h0m2 1h0m8-1h0m13-7h0m6 6h0m-3 28h0m-7 2h0m-6-13h0m-7 8h0m-44-12h0m-5 15h0m-6-13h0m-4 4h0m0-8h0m-9 14h0m-3 0h0m-2 4h0m-1-18h0m-3 16h0m-2-8h0m-3-4h0m-5 9h0m-1 0h0m0-11h0m-43 12h0m-5-2h0m-5-10h0m-20 7h0m-1-7h0m-2 10h0m-8-4h0m-18-3h0m-3 5h0m-14-4h0m1 22h0m6 8h0m2-13h0m8 14h0m4 0h0m7-11h0m19 12h0m5-9h0m17 2h0m15 0h0m11-3h0m15-4h0m3-2h0m0 2h0m1 9h0m17-4h0m1 10h0m7-15h0m0 0h0m9 10h0m0-9h0m3 12h0m3-13h0m1 6h0m11-10h0m11 14h0m0 4h0m8-1h0m11-4h0m5 5h0m5-4h0m6-2h0m0-6h0m3 13h0m2-4h0m4-10h0m0-1h0m4 10h0m4 23h0m0-11h0m-5 1h0m0-3h0m-1 15h0m-6-11h0m-4 8h0m-1-14h0m-12 12h0m-7 5h0m-12-1h0m0 1h0m-3-8h0m-3 4h0m-5 2h0m0-9h0m-11-1h0m0 5h0m-1-10h0m-6 15h0m0-7h0m-3-4h0m-1 4h0m-1 4h0m-2-13h0m-3 6h0m-5-2h0m-2 8h0m-9-13h0m-14 16h0m-7-5h0m-1-6h0m0 10h0m-2-3h0m-13-6h0m-3-6h0m-2 12h0m-9-12h0m0 13h0m-2 4h0m-4 2h0m0-5h0m-1-6h0m0 10h0m-2 1h0m-2-13h0m-4 11h0m-1 0h0m0-8h0m-7-6h0m-3 6h0m-1 8h0m-2 0h0m-17-11h0m-4-2h0m-1 2h0m-1 9h0m-1-10h0m-3 9h0m-8 2h0m-1 2h0m-5-16h0m-11 10h0m1 22h0m3 3h0m3-14h0m2 16h0m6-4h0m1-3h0m0 6h0m7-9h0m3-8h0m5 6h0m2 4h0m7-9h0m2 4h0m4 3h0m3-3h0m1 13h0m0-2h0m2 2h0m7-15h0m0 1h0m0-2h0m1 15h0m1-18h0m1 6h0m5 7h0m5-4h0m1 4h0m2 2h0m1 1h0m29-11h0m1 10h0m1-9h0m3 5h0m12 3h0m1-7h0m5-3h0m5 3h0m7 0h0m8 12h0m3-14h0m6 4h0m3-1h0m0 9h0m0-8h0m1-5h0m13 2h0m2-2h0m4 5h0m0-5h0m4-3h0m9 7h0m1-3h0m8 9h0m6-5h0m0-8h0m7 4h0m4 14h0m11-1h0m1-1h0m1-4h0m2-10h0m1 27h0m-4-3h0m0 6h0m-1 2h0m0 3h0m-1-17h0m-6 15h0m-1-5h0m-2 1h0m-2 6h0m0-3h0m-5 4h0m-6-17h0m-6 12h0m-3-1h0m-1-4h0m-2 8h0m-5-4h0m-7-3h0m0-4h0m-1-1h0m-1 0h0m-4 1h0m0 6h0m-1 7h0m-2-15h0m-8 2h0m-3-6h0m-2 10h0m-1 8h0m-3-14h0m-8 9h0m-4-6h0m-1-2h0m0-1h0m-7 6h0m0-6h0m-1 14h0m-2-10h0m-8-5h0m-1 6h0m0 8h0m0-8h0m-3 6h0m-2-13h0m-1 1h0m-1 16h0m-1-4h0m-2-3h0m0-1h0m-1 2h0m-6-12h0m-7 15h0m-1-1h0m-3-11h0m0 14h0m-2-4h0m0-14h0m-4 7h0m0 12h0m-1-14h0m-3 4h0m-2 8h0m-4-12h0m-2 11h0m-2-16h0m-3 11h0m0 2h0m-2-3h0m-1-3h0m-4-3h0m-4-1h0m-1 13h0m0-6h0m-14 9h0m-4-1h0m-1-9h0m-4-6h0m0 5h0m-1 11h0m0-18h0m-2 8h0m-1-9h0m0 5h0m-2 9h0m-9-5h0m-5-7h0m0 5h0m0-2h0m-4-1h0m-1 3h0m-2-2h0m-4 3h0m-1 0h0m-6 1h0m2 21h0m4 0h0m3 0h0m1 1h0m1-8h0m2 13h0m5-11h0m0 0h0m1 13h0m3-2h0m2-3h0m0 3h0m1-13h0m3 10h0m8-10h0m1 15h0m3-15h0m0-2h0m1 3h0m0 14h0m4-8h0m0 9h0m1-9h0m9-5h0m2-5h0m7 13h0m0-9h0m0 3h0m1 11h0m1-16h0m1 4h0m2 2h0m0-4h0m1 1h0m2 5h0m0 4h0m1-13h0m3 16h0m2 0h0m3 0h0m1-10h0m4 11h0m0-17h0m2 0h0m0 7h0m2 2h0m6 1h0m0-7h0m2-1h0m5-1h0m0 11h0m1-4h0m0 5h0m2 3h0m3-2h0m10 3h0m3 1h0m4-17h0m1 7h0m3-3h0m0 9h0m4-13h0m0 10h0m2 4h0m5-16h0m0 4h0m0 13h0m4-16h0m6 7h0m3-7h0m4 8h0m0 8h0m1 0h0m0-16h0m3 15h0m3-16h0m1 16h0m7 0h0m2-12h0m0 13h0m1-1h0m4-5h0m0 6h0m4-7h0m2-8h0m4 8h0m9 8h0m7-2h0m3-3h0m1-7h0m7 13h0m2-18h0m2 8h0m2 3h0m2-2h0m9 1h0m-3 24h0m-7-6h0m-1-8h0m-1 11h0m-6-8h0m-1 9h0m-1-11h0m-2 17h0m-3-9h0m-1 8h0m-1 1h0m-2-12h0m-21 6h0m0-2h0m-3 6h0m-2-9h0m-2-1h0m-2 2h0m-8 7h0m-2 1h0m0-13h0m-1 12h0m-3-9h0m-2 2h0m-2 9h0m-1-13h0m0 1h0m-1 10h0m-1-8h0m-6 2h0m-1-4h0m-1 0h0m-3-4h0m-4 5h0m0 0h0m-1-7h0m-1 5h0m-8 12h0m-3-3h0m0-11h0m-2 0h0m-2 11h0m-1-6h0m-1 10h0m0-17h0m-1 14h0m-5-10h0m-1 8h0m-3-3h0m-4 2h0m-4-4h0m-4 4h0m-5-10h0m-3 13h0m-2-11h0m-2-4h0m0 16h0m-5-5h0m-6-3h0m-1-8h0m-3 11h0m-1-6h0m-3 3h0m-2-3h0m-3 3h0m0-8h0m0 13h0m-3-3h0m-9-10h0m-2 15h0m-5-12h0m-1-1h0m0 6h0m-5-5h0m-5 14h0m-6 1h0m-2-6h0m-3-12h0m-2 2h0m-2 5h0m-3 6h0m0-8h0m0-4h0m-3 12h0m-1-11h0m0 13h0m-1-8h0m-1 5h0m-4 1h0m-1 0h0m0 0h0m-1-8h0m-2 14h0m1 14h0m5 5h0m4-16h0m0 3h0m1 1h0m1 6h0m8-8h0m0 14h0m5-6h0m2-3h0m4 9h0m2-14h0m1 10h0m2-9h0m2-2h0m1 4h0m6 5h0m1-7h0m2 6h0m0-11h0m2 9h0m1 9h0m5-15h0m7 7h0m2-7h0m0 13h0m1 3h0m1-12h0m1 5h0m5 4h0m1-6h0m16 7h0m2-1h0m1-1h0m1-3h0m4 3h0m0 4h0m1-11h0m4 4h0m3-3h0m5 5h0m7-14h0m1 11h0m12-6h0m1 0h0m3 12h0m3-15h0m1 7h0m1 0h0m6-9h0m3 9h0m9-2h0m4 11h0m0-15h0m7 12h0m3-12h0m0 6h0m0 10h0m2-15h0m1-3h0m6 11h0m6-6h0m3 13h0m2-16h0m1-3h0m4 7h0m1-4h0m3 16h0m4-4h0m3-10h0m5 9h0m2 0h0m7-3h0m2 4h0m1-9h0m4 10h0m2 2h0m0 13h0m-2 7h0m-2-13h0m-2-3h0m-4 14h0m-1-1h0m-8-11h0m-6-1h0m-1 1h0m-4 13h0m-5-16h0m0 16h0m-7-11h0m-2-6h0m-6 9h0m0-8h0m0 6h0m-1 9h0m-4-16h0m-12 15h0m0-9h0m-8 8h0m-1-13h0m-18 15h0m-4 2h0m-1-1h0m-5-2h0m-1-9h0m-6 12h0m-1-13h0m-2 0h0m-16 0h0m-15-2h0m-1 0h0m-4-3h0m-2 6h0m-3-2h0m-4-1h0m-5-1h0m-3 17h0m-2-10h0m0-6h0m0 6h0m-6 9h0m-1-2h0m-1-14h0m0 2h0m-2 8h0m-7-4h0m-4-7h0m-13 1h0m-8 6h0m-7-6h0m-1-2h0m-5 13h0m-1-8h0m-4 25h0m11 8h0m1-13h0m3 10h0m10-7h0m2-7h0m6 7h0m4 8h0m14-14h0m7 8h0m2 8h0m10-3h0m3 0h0m1-2h0m8-1h0m8 2h0m4-10h0m6 8h0m7-5h0m2 11h0m0-5h0m1 3h0m1-3h0m5-5h0m2-6h0m8 3h0m3-4h0m0 0h0m1 13h0m3-3h0m2-6h0m7 1h0m2 6h0m3-8h0m2 2h0m15-1h0m0 3h0m5-5h0m9 12h0m1 4h0m5-15h0m4-3h0m2 17h0m7-16h0m2 10h0m1 5h0m1-15h0m18 15h0m6-6h0m3 6h0m0-7h0m2 15h0m0 12h0m-1-17h0m-8 11h0m-2 3h0m-4-2h0m0-7h0m-1 7h0m-5-4h0m-20-1h0m-4 2h0m-1-1h0m-12-1h0m-3 11h0m-8-12h0m-12 0h0m-17 10h0m-1-13h0m-2 9h0m-1 6h0m-4-6h0m-7-2h0m-14-1h0m-2 0h0m-3 7h0m-8-2h0m-3 4h0m-2-16h0m-1-2h0m-9 2h0m-7 5h0m-20 5h0m-4 7h0m-9-14h0m-3 5h0m-14 0h0m-2-5h0m-6 10h0m-5-5h0m-1-4h0m-2 13h0m-1 14h0m19-8h0m10 14h0m15-5h0m4 4h0m2-14h0m9 4h0m8 5h0m38-11h0m10-2h0m3 12h0m2-4h0m8-5h0m1 2h0m7 12h0m8-16h0m7 12h0m11-6h0m8 7h0m1-4h0m10 7h0m16-16h0m8 16h0m3-16h0m15 10h0m4 26h0m-6-5h0m-2 6h0m-20-6h0m-13 7h0m-13-19h0m0 3h0m-8 0h0m-3 11h0m0 3h0m-4-5h0m-6-7h0m-21-5h0m0 13h0m-3-13h0m-1 13h0m-5-6h0m-16 8h0m0-4h0m-8 2h0m-23 1h0m-3-12h0m-12 0h0m-7 15h0m-13-1h0m-21-9h0m-22 21h0m48-8h0m77 17h0m58-10h0m9 6h0m-108 13h0m-34-5h0m-23 2h0" stroke="#1a1a1a" stroke-width="4.5" stroke-linecap="round" fill="none"/>
<path transform="scale(0.25)" d="M744 817h0m25-17h0m124 15h0m42-5h0m17-5h0m-19 30h0m-1-10h0m-70 13h0m-26-8h0m-4 5h0m-2-9h0m-19 0h0m-49 12h0m28 4h0m12 0h0m5 2h0m78 12h0m66 14h0m-12 8h0m-1-4h0m-7 5h0m-14-4h0m-27 0h0m-2 0h0m-31-7h0m-15 8h0m-39 3h0m-15-6h0m-32 3h0m-16-10h0m14 23h0m12 4h0m0-5h0m6-2h0m2-1h0m15 8h0m2-4h0m11 2h0m11 8h0m12-9h0m38 7h0m15-2h0m32-6h0m7 10h0m33-7h0m11-10h0m-1 26h0m-11 10h0m-1-6h0m-3 7h0m-10-11h0m-17 0h0m-9 9h0m-14-11h0m-11 9h0m-16-3h0m-14 6h0m-3-8h0m-1-10h0m-3 0h0m-7 16h0m-9 1h0m-3 2h0m-3-9h0m-10 9h0m-7-13h0m-17-5h0m-1 13h0m-3-4h0m-2-2h0m-3 11h0m-27-5h0m-2-7h0m-3 2h0m-4 2h0m-2 6h0m-4-4h0m-5 4h0m-8 6h0m1-2h0m0-1h0m1 7h0m0-5h0m1 5h0m0 3h0m0 1h0m1-2h0m0-5h0m0 9h0m0 0h0m0-7h0m1-4h0m0 5h0m0-4h0m0 0h0m1 1h0m0 0h0m0-1h0m0 1h0m1 1h0m0-2h0m1 7h0m0 0h0m0 1h0m0 3h0m0-8h0m1 6h0m1-10h0m0 8h0m0-9h0m0 6h0m1 5h0m1-5h0m1-5h0m1 6h0m2-1h0m0 3h0m0-8h0m1 3h0m0 2h0m0 2h0m0 5h0m0-6h0m1 3h0m0-1h0m1-7h0m0 5h0m1-1h0m0 2h0m0-1h0m0 5h0m1-9h0m0 0h0m0 1h0m1 9h0m0-5h0m0-1h0m0-1h0m1 3h0m0 1h0m1-2h0m1-5h0m0 8h0m1-1h0m0-1h0m0-1h0m1 5h0m0-11h0m0 5h0m0 8h0m1-8h0m1 0h0m1-5h0m1 1h0m0 4h0m0 2h0m0-6h0m1 2h0m0-3h0m0 10h0m1-5h0m0 4h0m0-10h0m0 6h0m1-3h0m0-1h0m0 12h0m1-11h0m0 12h0m1-4h0m0-1h0m2 0h0m0-7h0m0 7h0m0-9h0m0 1h0m0 1h0m1 3h0m0-5h0m0 4h0m1-2h0m0 11h0m1-7h0m0 0h0m1-1h0m1 2h0m1-6h0m0-1h0m0 5h0m1 4h0m0 4h0m1-7h0m0-8h0m0 13h0m0-7h0m0-2h0m1 5h0m0-2h0m1 4h0m0-4h0m0 1h0m0-7h0m0 4h0m1 1h0m0 0h0m0-4h0m1 5h0m0-4h0m1-2h0m0-2h0m0 5h0m1 0h0m1-1h0m0 5h0m1-8h0m2 13h0m1-1h0m0-6h0m1 4h0m0-2h0m0 0h0m1-7h0m1 6h0m1 1h0m0-3h0m1-3h0m1 4h0m1 4h0m0-5h0m0-2h0m0 0h0m1 2h0m0 3h0m0-1h0m1 3h0m0 5h0m1-6h0m0-3h0m0-1h0m1 1h0m0-2h0m0 5h0m1-4h0m0 4h0m1-4h0m0 4h0m0-5h0m1-2h0m2 5h0m0-1h0m0 5h0m1 0h0m0-4h0m0-2h0m0 9h0m0-11h0m1 10h0m0-10h0m0 0h0m0 6h0m1-6h0m1-1h0m0 14h0m0-5h0m1-4h0m0-2h0m1 0h0m1 6h0m0-5h0m0 1h0m0-8h0m0 14h0m0-4h0m0-3h0m1 7h0m0-3h0m0-7h0m0 6h0m1-7h0m0 0h0m1 7h0m1-9h0m0 4h0m1 3h0m0-2h0m0-2h0m0 12h0m0-9h0m0 3h0m1-2h0m1 0h0m0-1h0m0-1h0m1-1h0m0-1h0m0 0h0m0-2h0m0 2h0m1 1h0m0 8h0m1-11h0m0 5h0m0 3h0m1-3h0m0 1h0m0-3h0m0 1h0m1 3h0m0-3h0m0 3h0m0 1h0m0-4h0m0 0h0m0 1h0m1 0h0m0-5h0m1 2h0m0 1h0m0 5h0m1-2h0m0-2h0m1 1h0m0 1h0m0 2h0m1-5h0m0 6h0m0-2h0m1-1h0m0 0h0m0 2h0m1-4h0m0-6h0m1 5h0m0 4h0m3-5h0m0 3h0m1 0h0m0 5h0m0-8h0m1 6h0m0 1h0m0 3h0m1-4h0m0-2h0m1 4h0m1-4h0m0-3h0m0 6h0m1-3h0m1-1h0m1 0h0m1-2h0m0 0h0m1 8h0m0-7h0m0 2h0m1-5h0m0 7h0m2-4h0m1 2h0m0-1h0m2 7h0m0-1h0m0-9h0m0 5h0m1 1h0m0 0h0m0-2h0m0 3h0m1-1h0m0-5h0m0-2h0m0-3h0m1 9h0m1 4h0m1-4h0m1 2h0m0-1h0m2-1h0m0 3h0m0-3h0m0 0h0m1-1h0m0-3h0m0 4h0m1 4h0m0-5h0m1-5h0m0 3h0m1 7h0m1-6h0m1-3h0m0 1h0m1 5h0m0-1h0m0-6h0m0 2h0m1 1h0m0 1h0m0 6h0m1-3h0m1-2h0m0-4h0m1 2h0m0 0h0m0-1h0m0-4h0m1 2h0m0 10h0m1-10h0m0 9h0m1-7h0m1 3h0m0 5h0m0-2h0m1-6h0m0 4h0m1 1h0m0 2h0m2-6h0m0 7h0m1-4h0m1 5h0m1-11h0m1-3h0m0 7h0m0 3h0m0-1h0m1-5h0m0 4h0m0 0h0m1 2h0m0 2h0m0-11h0m1 6h0m0-2h0m1 2h0m1-5h0m0 1h0m0 5h0m1 6h0m0-6h0m0-6h0m1 5h0m0 9h0m1-7h0m0-9h0m1 8h0m0-4h0m0 4h0m1-1h0m0-2h0m1 1h0m0 6h0m1-1h0m0-6h0m1-3h0m0 4h0m0-1h0m1 7h0m0-2h0m0-1h0m0-1h0m1 1h0m0-2h0m2 4h0m0 2h0m1-4h0m0-5h0m0 5h0m1-9h0m0 9h0m1 0h0m0-5h0m1 10h0m0-7h0m1 8h0m0-10h0m1 5h0m0-2h0m1-3h0m0-1h0m1 3h0m1-4h0m1 7h0m1-3h0m1 1h0m0-3h0m2-1h0m0 7h0m1-9h0m0 7h0m1-8h0m0 10h0m0 0h0m0-8h0m0 8h0m0 4h0m1-4h0m0 1h0m1 0h0m0-5h0m0-2h0m1 5h0m0 1h0m0-7h0m1 7h0m0-2h0m0-2h0m1-1h0m1 4h0m0 2h0m1 0h0m3-3h0m0 5h0m1-13h0m0 2h0m1 5h0m1-1h0m1 3h0m2-10h0m0 9h0m0-5h0m1 5h0m0 0h0m0-1h0m0 1h0m1 1h0m1 2h0m0-1h0m0-1h0m1-9h0m0 0h0m1 4h0m0 1h0m0 1h0m1 2h0m0 8h0m0-10h0m1 3h0m0-1h0m0-6h0m0 2h0m0 1h0m1-6h0m0 11h0m0-2h0m1-2h0m1 0h0m0 3h0m0-7h0m0 6h0m0-8h0m1 9h0m0 2h0m1 0h0m0-6h0m0-2h0m0 1h0m1 6h0m0-9h0m0 9h0m0 0h0m0-3h0m1-4h0m0 0h0m0 3h0m0 10h0m0-6h0m0-4h0m1-1h0m0 1h0m0 2h0m0 1h0m1-2h0m0 3h0m0-9h0m0 7h0m0-1h0m1 2h0m1-4h0m0 5h0m1 0h0m0-5h0m0 2h0m0-3h0m1 5h0m0-4h0m0 0h0m1-3h0m0 4h0m0 8h0m0-12h0m1 8h0m0-5h0m1 0h0m0 4h0m0-1h0m0-5h0m1-2h0m0 1h0m1 5h0m0-1h0m0-1h0m1 7h0m1 1h0m1-4h0m0-1h0m1-2h0m0 0h0m0 5h0m0-8h0m0 7h0m1-4h0m0 0h0m0-2h0m0 5h0m1-4h0m0-2h0m1 5h0m0 8h0m0-13h0m1-3h0m1 8h0m0-3h0m0 4h0m0-9h0m1 6h0m1-4h0m1 4h0m0 3h0m0-6h0" stroke="#1a1a1a" stroke-width="4.5" stroke-linecap="round" fill="none"/>
<path transform="scale(0.25)" d="M1116 725h0m-92 54h0m23 20h0m54 38h0m-49 58h0m91 4h0m72 0h0m35 13h0m-8 5h0m-51 0h0m-13-9h0m-15-3h0m-14 4h0m0-2h0m-18 9h0m0-4h0m-18 7h0m-22-17h0m-38-1h0m-29 35h0m12-10h0m7 2h0m8-1h0m4 4h0m27-10h0m2 7h0m6-3h0m18 1h0m7 5h0m2-3h0m24-1h0m5 5h0m17-12h0m12 6h0m4 0h0m5-3h0m29 3h0m1 6h0m0 2h0m1-10h0m4 6h0m13-10h0m0 4h0m5 2h0m5-2h0m3-3h0m0-1h0m11 8h0" stroke="#1a1a1a" stroke-width="4.5" stroke-linecap="round" fill="none"/>
<path d="M415.1 171.2C415.1 171.3 415 168.9 415 172C414.9 175.1 414.9 185.3 414.9 190C414.9 194.7 414.8 197.3 414.7 200C414.6 202.7 414.4 203.9 414.2 206.2C414 208.5 413.6 211.3 413.2 213.9C412.9 216.5 412.7 219.3 412.3 221.6C411.9 223.9 411.3 226.3 410.8 227.8C410.3 229.3 409.9 229.7 409.3 230.5C408.7 231.3 408.4 231.9 407.4 232.4C406.4 232.9 407.4 233.1 403.1 233.4C398.8 233.7 381.5 234 381.8 234.3C382.1 234.6 399.6 235 405.1 235.3C410.7 235.6 413.4 235.8 415.1 235.9L415.1 235.9C416.8 235.8 419.6 235.6 425.1 235.3C430.7 235 448.1 234.6 448.4 234.3C448.7 234 431.4 233.7 427.1 233.4C422.8 233.1 423.8 232.9 422.8 232.4C421.8 231.9 421.5 231.3 420.9 230.5C420.3 229.7 419.9 229.3 419.4 227.8C418.9 226.3 418.3 223.9 417.9 221.6C417.5 219.3 417.3 216.5 417 213.9C416.6 211.3 416.2 208.5 416 206.2C415.8 203.9 415.6 202.7 415.5 200C415.4 197.3 415.3 194.7 415.3 190C415.3 185.3 415.3 175.1 415.2 172C415.2 168.9 415.1 171.3 415.1 171.2Z" fill="#F8766D" stroke="#1a1a1a" stroke-width="0.5" stroke-linejoin="round"/>
<path d="M489.2 130.5C489 130.8 488.6 131.3 488.2 132C487.8 132.7 487.5 133.6 487 134.5C486.5 135.4 485.7 136.6 485 137.5C484.3 138.4 483.7 139 482.6 140.1C481.5 141.2 480.1 142.5 478.4 144C476.7 145.5 474.6 147.3 472.6 149.2C470.6 151.1 468.3 153.4 466.6 155.2C464.9 157 463.5 158.5 462.2 160C460.9 161.5 459.7 162.7 458.8 164.2C457.9 165.7 457.1 167.2 456.6 169C456.1 170.8 455.7 172.8 455.7 174.8C455.7 176.8 456.3 178.7 456.6 181C456.9 183.3 457.3 186.1 457.6 188.4C457.9 190.7 457.9 193 458.2 195C458.5 197 458.5 198.5 459.2 200.4C459.9 202.3 461 204.7 462.2 206.4C463.4 208.1 464.9 209.2 466.4 210.5C467.9 211.8 469.6 212.8 471.2 214C472.8 215.2 474.7 216.8 476.2 218C477.7 219.2 478.9 220.2 480.2 221.5C481.5 222.8 483.1 224.2 484.2 225.5C485.3 226.8 486.1 227.9 486.9 229C487.7 230.1 488.8 231.7 489.2 232.2L489.2 232.2C489.6 231.7 490.7 230.1 491.5 229C492.3 227.9 493.1 226.8 494.2 225.5C495.3 224.2 496.9 222.8 498.2 221.5C499.5 220.2 500.7 219.2 502.2 218C503.7 216.8 505.6 215.2 507.2 214C508.8 212.8 510.5 211.8 512 210.5C513.5 209.2 515 208.1 516.2 206.4C517.4 204.7 518.5 202.3 519.2 200.4C519.9 198.5 519.9 197 520.2 195C520.5 193 520.5 190.7 520.8 188.4C521.1 186.1 521.5 183.3 521.8 181C522.1 178.7 522.7 176.8 522.7 174.8C522.7 172.8 522.3 170.8 521.8 169C521.3 167.2 520.5 165.7 519.6 164.2C518.7 162.7 517.5 161.5 516.2 160C514.9 158.5 513.5 157 511.8 155.2C510.1 153.4 507.8 151.1 505.8 149.2C503.8 147.3 501.7 145.5 500 144C498.3 142.5 496.9 141.2 495.8 140.1C494.7 139 494.1 138.4 493.4 137.5C492.7 136.6 491.9 135.4 491.4 134.5C490.9 133.6 490.6 132.7 490.2 132C489.8 131.3 489.4 130.8 489.2 130.5Z" fill="#7CAE00" stroke="#1a1a1a" stroke-width="0.5" stroke-linejoin="round"/>
<path d="M563 143.8C562.9 144.2 562.6 144.8 562.3 146C562 147.2 561.8 149 561.4 151C561 153 560.4 155.7 559.8 158C559.2 160.3 558.3 162.9 557.6 165C556.9 167.1 556.3 168.5 555.4 170.3C554.5 172.1 553.2 174.2 552 176C550.8 177.8 549.6 179.4 548.4 181C547.2 182.6 546.1 184 544.8 185.3C543.5 186.6 541.9 187.9 540.5 189C539.1 190.1 537.7 191.1 536.4 192C535.1 192.9 533.8 193.7 532.8 194.6C531.8 195.5 531 196.6 530.4 197.5C529.8 198.4 529.3 199.1 529.4 200C529.5 200.9 529.8 201.8 530.8 203C531.8 204.2 533.5 205.4 535.6 207C537.7 208.6 541.1 210.8 543.4 212.5C545.7 214.2 547.8 215.6 549.6 217C551.4 218.4 552.8 219.8 554 221C555.2 222.2 556 223.3 557 224.5C558 225.7 559 226.8 560 228C561 229.2 562.5 231.3 563 232L563 232C563.5 231.3 565 229.2 566 228C567 226.8 568 225.7 569 224.5C570 223.3 570.8 222.2 572 221C573.2 219.8 574.6 218.4 576.4 217C578.2 215.6 580.3 214.2 582.6 212.5C584.9 210.8 588.3 208.6 590.4 207C592.5 205.4 594.2 204.2 595.2 203C596.2 201.8 596.5 200.9 596.6 200C596.7 199.1 596.2 198.4 595.6 197.5C595 196.6 594.2 195.5 593.2 194.6C592.2 193.7 590.9 192.9 589.6 192C588.3 191.1 586.9 190.1 585.5 189C584.1 187.9 582.5 186.6 581.2 185.3C579.9 184 578.8 182.6 577.6 181C576.4 179.4 575.2 177.8 574 176C572.8 174.2 571.5 172.1 570.6 170.3C569.7 168.5 569.1 167.1 568.4 165C567.7 162.9 566.8 160.3 566.2 158C565.6 155.7 565 153 564.6 151C564.2 149 564 147.2 563.7 146C563.4 144.8 563.1 144.2 563 143.8Z" fill="#00BFC4" stroke="#1a1a1a" stroke-width="0.5" stroke-linejoin="round"/>
<path d="M633.6 182.3C633.6 182.5 633.4 182.9 633.6 183.6C633.7 184.3 634.1 185.4 634.5 186.5C634.9 187.6 635.6 189 635.9 190C636.2 191 636.4 191.5 636.4 192.5C636.4 193.5 636.1 194.6 635.9 196C635.7 197.4 635 199.6 635 201.2C635 202.8 635.6 204.5 635.6 205.6C635.6 206.7 635.2 207 634.9 208C634.6 209 633.8 210.2 633.6 211.4C633.4 212.6 633.8 213.9 633.9 215C634 216.1 634.2 216.9 634.1 217.9C634 218.9 633.7 220 633.2 221C632.7 222 632.1 222.9 631.3 223.7C630.5 224.5 629.5 225.2 628.3 225.8C627.1 226.4 625.6 226.9 624 227.3C622.4 227.8 620.7 228.1 618.8 228.5C616.9 228.9 614.5 229.1 612.4 229.5C610.3 229.9 607.9 230.4 606.3 230.8C604.7 231.2 602.9 231.6 603 232.1C603.1 232.6 604.8 233.1 606.8 233.6C608.8 234.1 611.8 234.6 614.8 235C617.8 235.4 621.1 235.9 624.8 236.2C628.5 236.5 634.8 236.9 636.8 237L636.8 237C638.8 236.9 645.1 236.5 648.8 236.2C652.5 235.9 655.8 235.4 658.8 235C661.8 234.6 664.8 234.1 666.8 233.6C668.8 233.1 670.5 232.6 670.6 232.1C670.7 231.6 668.9 231.2 667.3 230.8C665.7 230.4 663.3 229.9 661.2 229.5C659.1 229.1 656.7 228.9 654.8 228.5C652.9 228.1 651.2 227.8 649.6 227.3C648 226.9 646.5 226.4 645.3 225.8C644.1 225.2 643.1 224.5 642.3 223.7C641.5 222.9 640.9 222 640.4 221C639.9 220 639.6 218.9 639.5 217.9C639.4 216.9 639.6 216.1 639.7 215C639.8 213.9 640.2 212.6 640 211.4C639.8 210.2 639 209 638.7 208C638.4 207 638 206.7 638 205.6C638 204.5 638.6 202.8 638.6 201.2C638.5 199.6 637.9 197.4 637.7 196C637.5 194.6 637.2 193.5 637.2 192.5C637.2 191.5 637.4 191 637.7 190C638 189 638.7 187.6 639.1 186.5C639.5 185.4 639.9 184.3 640 183.6C640.1 182.9 640 182.5 640 182.3Z" fill="#C77CFF" stroke="#1a1a1a" stroke-width="0.5" stroke-linejoin="round"/>
<path transform="scale(0.25)" d="M1703 712h0m-87 3h0m-56 2h0m-16 12h0m5-3h0m6 4h0m8-2h0m19-8h0m52 11h0m10-3h0m2-2h0m21 12h0m83-11h0m16 3h0m-14 27h0m-1-3h0m-21 1h0m-3-4h0m-42-9h0m-59 10h0m-17-6h0m-4 0h0m0 3h0m-4 8h0m0-10h0m-9 6h0m-14-2h0m-4 4h0m-31 20h0m1-12h0m26-1h0m2 13h0m7-13h0m12 10h0m1-9h0m13 4h0m6 0h0m13 11h0m0-2h0m1-12h0m14 9h0m18-8h0m0 7h0m8-8h0m0 11h0m0-6h0m1-5h0m1 13h0m33-1h0m4-2h0m7-9h0m4 11h0m21-15h0m16 12h0m15-1h0m6 4h0m-4 11h0m-14-4h0m-7 8h0m0-4h0m-5 5h0m-27-9h0m-15 6h0m-16 4h0m-1 1h0m-15-6h0m-4 1h0m-3-7h0m-4 10h0m-16 7h0m-3-11h0m-6-4h0m-17 8h0m-5-8h0m-10 13h0m-7 1h0m-3-7h0m-3-8h0m-17 10h0m-4 1h0m-6 0h0m-5 5h0m-6-1h0m-3 15h0m2 3h0m3 1h0m2-14h0m11 13h0m3 2h0m1-2h0m3-11h0m6-1h0m12 4h0m5-5h0m8 6h0m3-6h0m0 16h0m5 0h0m1-11h0m3 5h0m2-6h0m1 10h0m3-12h0m2 14h0m1-2h0m11-2h0m16 4h0m2-14h0m6 13h0m9 1h0m0-18h0m2 9h0m3-2h0m1-5h0m8 5h0m2-3h0m2 10h0m2 1h0m3-9h0m3 3h0m1-6h0m5 12h0m5 3h0m7-1h0m4-11h0m1-5h0m0 8h0m6-4h0m4 0h0m0 7h0m2-13h0m1 10h0m4 2h0m1 6h0m4-10h0m8 3h0m3 8h0m8-12h0m5-2h0m11 28h0m-1-4h0m-11-4h0m-1 13h0m-5-5h0m-3-8h0m-3 2h0m-3-1h0m-3 12h0m-2-13h0m-3 6h0m-3 4h0m-2 4h0m0-3h0m-5-11h0m-8 2h0m-1 7h0m-4-13h0m-8 13h0m-1-8h0m-5-4h0m-2 7h0m0 2h0m0 7h0m-3-14h0m-1 2h0m-1-3h0m-2 16h0m0-6h0m-1-11h0m0 11h0m-10-1h0m0-2h0m-2 0h0m0 9h0m-3-16h0m-1 7h0m0 8h0m-6-13h0m-3 4h0m-3-1h0m-2 0h0m-2-6h0m-3 4h0m-2 4h0m-2-2h0m-2-2h0m-2-6h0m-1 5h0m0 13h0m-1-13h0m-3-1h0m-4 9h0m-7 4h0m-1-1h0m-2 1h0m0-1h0m-2 1h0m-1 0h0m0-5h0m-1 6h0m0-15h0m-9-3h0m-2 3h0m-8 14h0m-2-9h0m-5 9h0m0-10h0m-4 12h0m-1-16h0m-1 13h0m-8-16h0m-6 0h0m-5 19h0m0-8h0m-2-6h0m-8 1h0m0 5h0m-4 5h0m0-2h0m-5 3h0m-2 0h0m-6-15h0m-5 30h0m1-1h0m7-8h0m3 2h0m0 13h0m2-4h0m1-13h0m1 5h0m1 10h0m1-3h0m11-3h0m2-5h0m5 12h0m1-17h0m2 10h0m2 7h0m2-5h0m0 5h0m1-13h0m1 1h0m1 8h0m3 0h0m0-6h0m2 11h0m6-4h0m1-4h0m1 7h0m0 0h0m0-2h0m4-11h0m1 15h0m4-14h0m3 14h0m3-17h0m3 16h0m2-16h0m1 7h0m2-4h0m2-2h0m1 8h0m7-8h0m1 2h0m1 13h0m1-17h0m2 5h0m2 1h0m1 10h0m3 0h0m2 0h0m3-2h0m2-13h0m1 17h0m6-18h0m1 1h0m1 6h0m1-1h0m5-5h0m2 17h0m3-13h0m3-1h0m0-5h0m0 5h0m1 1h0m4-4h0m0 0h0m2 11h0m0-5h0m1 8h0m0-2h0m2-12h0m3 7h0m3-6h0m1-2h0m1 18h0m1-4h0m1-12h0m2 0h0m1 0h0m1 13h0m2-2h0m1-12h0m2 3h0m2 13h0m3-4h0m0-7h0m2-5h0m2 12h0m2 2h0m3-4h0m0 2h0m6-5h0m0 7h0m1-14h0m1 5h0m1 11h0m3 1h0m0-15h0m4 12h0m2-5h0m0-8h0m1 2h0m1-5h0m0 1h0m1 1h0m1 11h0m0-11h0m1 5h0m0 4h0m3-6h0m3-1h0m1 3h0m6 1h0m0 7h0m2-11h0m1 12h0m1 1h0m1-5h0m1-11h0m1 6h0m2 3h0m5-1h0m1 10h0m2-7h0m1-12h0m4 12h0m0-12h0m1 22h0m0 4h0m-2 10h0m-1-12h0m0 6h0m-1 7h0m-1-12h0m-1 13h0m-1-11h0m-1-1h0m-2-1h0m0 5h0m-2-9h0m0 18h0m-1-3h0m-2-2h0m0-4h0m-1-9h0m0 2h0m-2 1h0m-2 12h0m0-3h0m0 2h0m-1-9h0m-4-5h0m0 18h0m-1-3h0m0 1h0m-1 0h0m-2-9h0m-1 6h0m-1-6h0m-4-5h0m-5 14h0m-1-1h0m-1 3h0m-3-3h0m0-13h0m-1 4h0m-3 12h0m-1-9h0m0 4h0m-2 5h0m-1-3h0m0-1h0m-1-8h0m-2-3h0m0 8h0m0 3h0m-1-7h0m0-4h0m-1 15h0m0-2h0m-5-6h0m0-7h0m-2 6h0m-1 8h0m-2-17h0m-1 0h0m-2 1h0m-2 0h0m0 17h0m-1-15h0m-3 6h0m-1-8h0m-1 16h0m-1-13h0m-1 0h0m-1 4h0m0 6h0m-3 1h0m-1-1h0m-2-15h0m0 18h0m0-17h0m-3 12h0m0 1h0m-3 1h0m0-11h0m-1-2h0m-1 8h0m-3-7h0m-1 10h0m0 2h0m0-1h0m-1-5h0m-1 3h0m-2-8h0m-3 2h0m-2 3h0m0 6h0m-3-12h0m-1 10h0m-4 0h0m-1 2h0m0-13h0m-2 15h0m-3-5h0m0-3h0m-2 8h0m-2-6h0m-1 7h0m0-4h0m0-8h0m-1 13h0m-1-10h0m-5 1h0m-3-1h0m0 3h0m0-7h0m-1 11h0m0-16h0m-1 7h0m0-5h0m-1 6h0m-2 7h0m-1 3h0m-1-5h0m-2-10h0m-1 3h0m-3-3h0m0 13h0m-2-5h0m-1 7h0m-1-18h0m0 1h0m-3 4h0m-1 5h0m-1-8h0m-3 17h0m0-6h0m-1 5h0m0-4h0m0 2h0m-1-6h0m0-7h0m0 4h0m-4 8h0m-3-11h0m0 15h0m0-13h0m-3 11h0m-10-15h0m-1 8h0m0-6h0m-7 11h0m-1 2h0m-2-5h0m-1-3h0m0-2h0m-1-5h0m0 12h0m-1-4h0m0-4h0m-1 9h0m-2-1h0m0 2h0m-1-13h0m-1-2h0m-1 9h0m-2-1h0m-1 4h0m-1 6h0m0-11h0m-2 11h0m-1-5h0m-4-14h0m-1 12h0m-4-4h0m-3-2h0m0 4h0m-1 4h0m-2 4h0m-1-6h0m0-6h0m-1 9h0m-1-3h0m-1 4h0m-1-10h0m-2 5h0m0 8h0m0-19h0m0 13h0m1 9h0m0 7h0m1 7h0m0-12h0m1 15h0m1-10h0m1-4h0m0-1h0m0-2h0m2-1h0m0 11h0m1-9h0m2 10h0m0 0h0m2-2h0m0-1h0m2 8h0m1 0h0m1-6h0m0 4h0m1-2h0m0 3h0m0-7h0m1 4h0m1-1h0m1-7h0m1 12h0m1-12h0m0 7h0m1-3h0m0-9h0m0 12h0m0 6h0m1-9h0m0-10h0m2 19h0m1-19h0m2 5h0m0 12h0m2-15h0m2 10h0m0-10h0m0 17h0m1-8h0m1 6h0m1-14h0m0 14h0m3 0h0m0-14h0m0 16h0m2-18h0m1 15h0m2-7h0m3 0h0m2 8h0m2-10h0m0 10h0m0-15h0m1 3h0m2 10h0m0 3h0m0-16h0m1 7h0m3 10h0m1-16h0m1 3h0m2 1h0m1 12h0m2-14h0m1 5h0m0 1h0m0 0h0m2 1h0m1 1h0m0-13h0m1 16h0m1 0h0m1-2h0m0-8h0m1 4h0m0 9h0m1-17h0m1 11h0m1-5h0m2-3h0m0 0h0m1 2h0m1 1h0m3 11h0m1-4h0m1-6h0m1 0h0m0 3h0m1 6h0m1-1h0m0-11h0m1 2h0m2-6h0m3 17h0m1-15h0m2 2h0m0-2h0m0 12h0m1-9h0m0 9h0m2-8h0m0-3h0m1 0h0m2 10h0m0-1h0m1 2h0m0-15h0m1 11h0m1-8h0m0 1h0m1-4h0m0 11h0m0 3h0m0-6h0m3-3h0m1-3h0m2 2h0m3 11h0m0-11h0m0 5h0m2-9h0m1 11h0m1-9h0m1 11h0m2-13h0m1 17h0m0-2h0m1 2h0m0-10h0m0 11h0m1-9h0m0 0h0m1-5h0m1 1h0m1 3h0m1-1h0m1-1h0m1 3h0m0-2h0m0-6h0m1 3h0m1-2h0m1 12h0m0-6h0m1 6h0m2-3h0m0 1h0m0 5h0m1-11h0m1 10h0m1-12h0m0-2h0m1 13h0m5-1h0m1 4h0m0-5h0m2-4h0m0 6h0m0-6h0m1 9h0m0 0h0m0-3h0m1-12h0m0-2h0m3 17h0m1-4h0m1-8h0m1 12h0m4-1h0m2-4h0m0-1h0m3-4h0m2 9h0m0-4h0m0-7h0m1-2h0m1 9h0m0 0h0m1-9h0m0 14h0m1-6h0m1 6h0m1-5h0m0-13h0m1 8h0m0 9h0m1-2h0m0-12h0m2-1h0m0-2h0m1 9h0m1 9h0m0-14h0m0-2h0m2 16h0m0-15h0m1 8h0m1-3h0m0-3h0m0-6h0m3 5h0m0 1h0m0 10h0m0-11h0m1 9h0m1-3h0m1 0h0m0-5h0m1 8h0m2-2h0m0 0h0m1 5h0m2-6h0m0-5h0m2 8h0m1-5h0m0 5h0m0-9h0m1 11h0m1-9h0m0-4h0m1 6h0m0-7h0m2 5h0m0-6h0m0 15h0m1 3h0m1-1h0m0-6h0m1-10h0m0-2h0m0 0h0m0 5h0m1 14h0m0-17h0m3 9h0m1-7h0m0 0h0m1 6h0m0-7h0m1 14h0m1-7h0m2 6h0m1-1h0m0-7h0m1-2h0m0 9h0m4-6h0m0-4h0m1 0h0m0-1h0m0 6h0m0 0h0m1 2h0m3-11h0m1 7h0m0-4h0m5 29h0m-2-8h0m0 1h0m-1 4h0m-1 9h0m-1-11h0m-1-3h0m-1 6h0m0-5h0m0 0h0m-1 5h0m-2-7h0m-1 2h0m0 13h0m0-13h0m-2 12h0m-1-10h0m-1-6h0m0 14h0m-1-13h0m0 2h0m-1 1h0m-1 11h0m0 2h0m0-8h0m0-11h0m-1 10h0m-1-6h0m0 6h0m-1 3h0m0-5h0m0 9h0m-1-7h0m0 0h0m0-4h0m-1 3h0m0-3h0m0 10h0m-1-12h0m0-2h0m-1 0h0m-4 16h0m-1-4h0m-1 4h0m-1-3h0m-1 4h0m0-17h0m-1 15h0m0-12h0m0 11h0m-1 3h0m0-1h0m0-2h0m-1-5h0m0-3h0m0 7h0m0-12h0m0 3h0m-1-1h0m-1 9h0m-1-11h0m0 6h0m0-1h0m0 7h0m-2-13h0m0 12h0m0-9h0m0 13h0m-1-5h0m-1-2h0m-1-4h0m-1 4h0m0 8h0m0-6h0m-1 2h0m0 0h0m0 3h0m0-1h0m-1 1h0m0-8h0m-1 6h0m0-9h0m-1 4h0m0 8h0m0-7h0m-1 4h0m-4-7h0m0-5h0m0 11h0m-1 2h0m0 1h0m0 1h0m0 0h0m0-16h0m0 9h0m-1-7h0m-1 1h0m0 5h0m-1 0h0m0 6h0m0-5h0m0 6h0m0-16h0m0 11h0m0 2h0m-2 2h0m0-1h0m0-5h0m0 4h0m0 0h0m-1-7h0m-2 3h0m0 2h0m0-2h0m0 5h0m-1 3h0m0-9h0m0 8h0m-1-9h0m0 3h0m0-10h0m-1 10h0m0-2h0m0-2h0m0 5h0m-1 6h0m0-12h0m-1 0h0m-1 6h0m-1 6h0m0-12h0m0-5h0m0 10h0m0 4h0m0-6h0m-1 1h0m0-1h0m0-10h0m-2 4h0m0 7h0m0 1h0m-1 1h0m0-11h0m-1 10h0m0 6h0m-1 0h0m0-4h0m0 4h0m0-7h0m-1 4h0m-1-11h0m0 13h0m0-6h0m-1-5h0m-1 10h0m0-9h0m0-2h0m-1 0h0m0 0h0m-1-4h0m0 10h0m0-3h0m0 9h0m-1-15h0m-1 11h0m0 3h0m-1-10h0m-1 11h0m0-14h0m-1-2h0m0 1h0m-1 2h0m0-1h0m-1 8h0m0 8h0m-1-6h0m0 5h0m-1 1h0m0-6h0m-1 2h0m0-13h0m0 14h0m-2-13h0m-1 5h0m0-2h0m-1-6h0m-1 12h0m-1-2h0m-1-10h0m-1 16h0m-1-4h0m0-12h0m0 11h0m0-1h0m-1-3h0m-2 1h0m0 10h0m-1 0h0m0-6h0m0 4h0m0-6h0m-1 2h0m-2 4h0m-1-3h0m-4-3h0m0 4h0m-1 0h0m0-10h0m0 6h0m0-3h0m-2 12h0m0-9h0m0-2h0m-1 9h0m-1-13h0m-1 15h0m0-11h0m0 11h0m-1-7h0m-1 5h0m0-11h0m0-1h0m-1 1h0m0-2h0m-1 1h0m-1 12h0m-1-13h0m0 2h0m-1-3h0m0 2h0m0 0h0m0-5h0m-1 9h0m-2-7h0m0 12h0m-1 5h0m-1-5h0m0-7h0m-1 6h0m-1-11h0m0 3h0m-1 4h0m0-6h0m-1-1h0m-3 15h0m0 1h0m0-11h0m0 4h0m0-4h0m-2-4h0m0 11h0m0-14h0m0 1h0m-1 15h0m-1-4h0m0 0h0m-1 0h0m0-5h0m0 2h0m-1-7h0m-1 0h0m0 8h0m-1-10h0m0 16h0m0-12h0m0-1h0m-2-1h0m-1 5h0m0 10h0m0-8h0m-1 5h0m0-7h0m-1-2h0m-1 14h0m0-16h0m0-3h0m-1 6h0m0-3h0m-1 13h0m-1-4h0m-1-2h0m0 0h0m0 1h0m-1 6h0m0-2h0m-1 2h0m-1-2h0m-1 4h0m-1-2h0m0 0h0m0 1h0m-1-10h0m0 9h0m0-16h0m0 7h0m-1 3h0m0-2h0m0 7h0m-1 0h0m0-15h0m0 3h0m-3 11h0m0-12h0m0-3h0m-1 1h0m0 14h0m-1 3h0m0-14h0m-3 10h0m-1 5h0m0-16h0m0 16h0m-1-11h0m-1 1h0m0 4h0m-2 1h0m-1 0h0m-1 2h0m-1-14h0m-1-1h0m0 7h0m0 10h0m0-16h0m-1 16h0m-1-1h0m0-7h0m-1 2h0m-1-4h0m0 4h0m-1-6h0m0-4h0m-1 8h0m0 1h0m-1 3h0m-1-5h0m0 1h0m-1-5h0m0 0h0m-1 2h0m-1 2h0m0-2h0m-1 11h0m-1 1h0m-1-11h0m-1 3h0m0-6h0m0 5h0m0 1h0m0-1h0m0 3h0m-1 1h0m0-10h0m-1 5h0m0 5h0m0-2h0m-1-1h0m-1 7h0m-1-15h0m0 13h0m0-8h0m-1 9h0m-2-11h0m-2 4h0m-1 7h0m-1-11h0m0 2h0m-2 1h0m0-3h0m0-3h0m0 3h0m-1 11h0m-1-8h0m0-2h0m0 12h0m-2-9h0m-3-10h0m-1 15h0m0-12h0m0 14h0m0-11h0m-1 13h0m-1-15h0m0 15h0m-1-11h0m0 2h0m0 6h0m-1-11h0m0 6h0m-2 4h0m0 3h0m-1-12h0m-1 11h0m0-10h0m0 3h0m-1 7h0m0 2h0m-1-13h0m0-1h0m0 3h0m0-3h0m-2 10h0m-1-9h0m0-1h0m-1 10h0m-1 4h0m-1-4h0m-1-11h0m0 14h0m-1 19h0m1-4h0m0 5h0m1-10h0m0 10h0m0 0h0m0 1h0m0-11h0m0-3h0m0-2h0m1 9h0m1-1h0m0-1h0m1 9h0m0-9h0m0 8h0m0 0h0m0-4h0m0-8h0m0 7h0m0 4h0m0-13h0m0-3h0m1 18h0m0-3h0m0-6h0m0-3h0m0 10h0m0-6h0m0 6h0m1-8h0m0 7h0m0 1h0m0-3h0m0-2h0m0 6h0m0-6h0m0 3h0m0 2h0m0-8h0m0 3h0m1-3h0m0-1h0m1 7h0m0-2h0m0 2h0m0-1h0m0 3h0m0 0h0m0-6h0m1 2h0m1-12h0m1 17h0m0 0h0m0 0h0m0-18h0m1 12h0m0 5h0m0-9h0m0 9h0m0-5h0m0-2h0m0-8h0m1 14h0m0 2h0m0-12h0m0 6h0m0 7h0m0-11h0m1 8h0m0 2h0m0-4h0m0-1h0m0 4h0m0-12h0m0 14h0m0 0h0m1-4h0m0 0h0m1 2h0m0 2h0m0-8h0m0-3h0m0 4h0m0 2h0m1 1h0m0 3h0m0 0h0m0 0h0m0-18h0m1 16h0m0-2h0m0 2h0m0-2h0m0-13h0m1 17h0m1 1h0m0-7h0m0 4h0m0-3h0m0 1h0m0-8h0m0 10h0m0 3h0m0-19h0m1 0h0m0 6h0m0 10h0m0 1h0m0-2h0m0-11h0m0-3h0m1 5h0m0 3h0m0 9h0m0-4h0m0 2h0m0 3h0m0-6h0m0 5h0m0-1h0m1 1h0m0-4h0m0 0h0m0 1h0m0-4h0m0-8h0m1 6h0m0 10h0m0-2h0m0 1h0m0-3h0m0-4h0m1 2h0m0 5h0m0-6h0m0 3h0m0 3h0m0-8h0m0 8h0m0-1h0m0-4h0m0 2h0m1-7h0m0-1h0m0 10h0m0-3h0m0 4h0m0 0h0m1-2h0m0 3h0m0-2h0m0-1h0m0-1h0m0-5h0m0-2h0m0-7h0m1 18h0m0-1h0m0-4h0m0 5h0m0-11h0m0 11h0m0-2h0m0-1h0m0-16h0m1 15h0m0-2h0m0 4h0m0-7h0m0 4h0m0-4h0m0 7h0m0-2h0m0 0h0m0-14h0m0-1h0m1 9h0m0 6h0m0-4h0m0-10h0m1 14h0m0 2h0m0-9h0m0 5h0m0 1h0m0-2h0m0 7h0m0-19h0m1 18h0m0-9h0m0 8h0m0 2h0m0-14h0m0 8h0m0 6h0m0-4h0m0-1h0m0-12h0m1 6h0m0 8h0m0-8h0m0 6h0m0 0h0m0 5h0m0-2h0m0-6h0m1 2h0m0 1h0m0-6h0m0 10h0m1-4h0m0-2h0m0 2h0m0-6h0m0 2h0m1 6h0m0-6h0m0 8h0m0-5h0m0 4h0m0-4h0m0 3h0m0-1h0m0-14h0m0-1h0m1 15h0m0-9h0m0 10h0m0-12h0m0-1h0m1 6h0m1-1h0m0 9h0m0-6h0m0 5h0m0 1h0m0-13h0m0 0h0m1 13h0m0-2h0m0 1h0m0 2h0m0-16h0m0 13h0m0-15h0m0 4h0m1 15h0m0-3h0m0-4h0m0-5h0m0 11h0m0-5h0m0 6h0m0-19h0m1 9h0m0-1h0m0 9h0m0 2h0m0-13h0m0 10h0m0-16h0m0 3h0m1 6h0m0 6h0m0 0h0m0-12h0m1 10h0m0 2h0m0 2h0m1-5h0m0 2h0m0 5h0m0-1h0m0-7h0m0 6h0m0-1h0m1 3h0m1-4h0m0 3h0m0 0h0m0-4h0m0 0h0m0 1h0m0-3h0m0-11h0m1 16h0m0 0h0m0 2h0m0-15h0m1 12h0m0-2h0m0 3h0m0-8h0m0 4h0m0-9h0m1 9h0m0 4h0m0-3h0m0 1h0m0-3h0m1 2h0m0-1h0m0 1h0m0 0h0m0 4h0m1-11h0m0 8h0m0-6h0m1 8h0m0 2h0m0 0h0m0-4h0m0 3h0m0-6h0m0 7h0m0-2h0m0-5h0m0-9h0m1 15h0m0-5h0m0-5h0m0 3h0m0 7h0m0-3h0m0-8h0m0 9h0m0-16h0m1 16h0m0-2h0m0 2h0m0 3h0m0-7h0m0-12h0m1 19h0m0-1h0m0-5h0m0 0h0m0 0h0m0 2h0m0 4h0m0-4h0m0-2h0m0-12h0m1 17h0m0 0h0m0-3h0m0-5h0m0-1h0m0 10h0m0-16h0m0-1h0m1 13h0m0 2h0m0 2h0m0-3h0m0-4h0m1-2h0m0 7h0m0-8h0m0 8h0m0 1h0m0-15h0m0 10h0m0 4h0m1-2h0m0 0h0m0 1h0m0 3h0m0-3h0m0 2h0m0-7h0m0 6h0m0-8h0m0 8h0m0-8h0m1 2h0m0 3h0m0 5h0m0-6h0m0 5h0m1 1h0m0-13h0m0-3h0m0-1h0m0-1h0m1 6h0m0 10h0m1-2h0m0 0h0m0-1h0m0 0h0m0-14h0m1 4h0m0 13h0m0-5h0m0-1h0m0 3h0m0-8h0m0 11h0m0-15h0m0 8h0m0 7h0m0 2h0m1-5h0m0 1h0m0 0h0m0-3h0m0 6h0m0 0h0m0-8h0m0 7h0m0-7h0m1 9h0m0-5h0m0-4h0m1 2h0m0 3h0m0-4h0m0 2h0m0-9h0m1 12h0m0-5h0m0 5h0m0-12h0m0 8h0m0 3h0m0-1h0m0-6h0m0-6h0m0 5h0m1 3h0m0 7h0m0-4h0m0 3h0m1-2h0m0 3h0m0-6h0m1 2h0m0 4h0m0-7h0m0 6h0m0 1h0m0-4h0m0 3h0m0-5h0m1 7h0m0-1h0m0-6h0m0 4h0m1-10h0m0 8h0m0 0h0m0 2h0m0-5h0m0 9h0m0-5h0m0-4h0m1 3h0m0-10h0m1 16h0m0-1h0m0 0h0m0 1h0m0-10h0m0-6h0m0 13h0m0-3h0m0 3h0m0-13h0m1 15h0m0-4h0m0 4h0m0-7h0m0 3h0m0-1h0m0 0h0m0-3h0m0 9h0m0-3h0m1 0h0m0-4h0m0 2h0m0 3h0m0-4h0m0 3h0m1 0h0m0-10h0m0 9h0m0-9h0m0-4h0m1 6h0m0 11h0m0-16h0m0 0h0m1 11h0m0 1h0m0-7h0m0 1h0m0 4h0m0 6h0m0-4h0m0-1h0m0 4h0m0-15h0m0 0h0m1 14h0m0-6h0m0 5h0m0-6h0m1 1h0m0 7h0m0-12h0m0 13h0m0-3h0m0 0h0m1-6h0m0 5h0m0-3h0m0-5h0m1 1h0m0 6h0m0-3h0m0-5h0m0 13h0m0 0h0m0-16h0m1 16h0m0-3h0m0-6h0m0-2h0m0 11h0m0 0h0m0-2h0m0-5h0m0-9h0m0-1h0m1 12h0m0 4h0m0 0h0m0-8h0m0 0h0m0 8h0m0-3h0m0 3h0m0-10h0m0 6h0m1 3h0m0-1h0m0 3h0m0-15h0m1 2h0m0 11h0m0 1h0m0 0h0m1-2h0m0-6h0m0 3h0m0 0h0m0-2h0m0 8h0m0-8h0m0-7h0m1 6h0m0 6h0m0 2h0m0-16h0m0 2h0m1 12h0m0 2h0m0-5h0m1 3h0m0 3h0m0-7h0m0-2h0m0 5h0m0-2h0m0-4h0m0 6h0m0-1h0m0 0h0m0 5h0m0-1h0m0 1h0m0-8h0m1-1h0m0 6h0m0 3h0m0-9h0m0 1h0m0 0h0m0-8h0m1 7h0m0 9h0m0-11h0m1 6h0m0-2h0m0 5h0m0-6h0m0 6h0m0-4h0m0-2h0m0 7h0m0-4h0m0 1h0m0-4h0m1 4h0m0-1h0m0-6h0m0 10h0m0-2h0m0 3h0m0-7h0m1 0h0m0 4h0m0-11h0m0 8h0m0 5h0m0-16h0m1 16h0m0 1h0m0-6h0m0 4h0m0-7h0m0 1h0m0 3h0m0-11h0m0-2h0m1 8h0m0 3h0m0-4h0m0-5h0m1 14h0m0-5h0m0-5h0m0 11h0m0-4h0m0-13h0m1 17h0m0-3h0m0 0h0m0 0h0m0 3h0m0-16h0m0 0h0m1 12h0m0 4h0m0-4h0m0-10h0m1 4h0m0 1h0m0 1h0m0 1h0m0-2h0m0-7h0m1 11h0m0 3h0m0-12h0m0 11h0m0 4h0m0-19h0m1 10h0m0 1h0m0-9h0m0 10h0m0-9h0m0 7h0m0 8h0m0-15h0m1 7h0m0 3h0m0 6h0m1-4h0m0 4h0m0-7h0m0 3h0m0-1h0m0 3h0m0-4h0m0-2h0m0 7h0m0-14h0m1 9h0m0-2h0m0 8h0m0-9h0m1 6h0m0 3h0m0-3h0m0-1h0m0-3h0m0 0h0m0 0h0m0-3h0m0-6h0m1 5h0m0 6h0m0 3h0m0 0h0m0 2h0m1 0h0m0-12h0m0 11h0m1-1h0m0-3h0m0 4h0m0-2h0m0-16h0m1 11h0m0-7h0m0 15h0m0-5h0m0 0h0m0-13h0m0 2h0m1 16h0m0-7h0m0 3h0m0 1h0m0-5h0m0 7h0m0-11h0m0-5h0m1 7h0m0 7h0m0-4h0m1 2h0m0-1h0m0-1h0m0 3h0m0-15h0m1 19h0m0-2h0m0-6h0m0 7h0m0-6h0m0 7h0m0-19h0m0 4h0m0-4h0m1 17h0m0 0h0m0-8h0m0 8h0m0-4h0m0-8h0m0 5h0m1 3h0m1 5h0m0-1h0m0-11h0m0-2h0m0 14h0m0 1h0m0-3h0m0-2h0m0 1h0m0-15h0m1 17h0m0-8h0m0 9h0m0-14h0m0 8h0m0 0h0m0-7h0m0 14h0m0-7h0m0 2h0m1-3h0m0 2h0m0 3h0m0-5h0m0 8h0m0-7h0m1 4h0m0 1h0m0-5h0m0 7h0m0-9h0m0 9h0m0 0h0m1 0h0m0-13h0m0 11h0m0 1h0m0-2h0m0-4h0m1-4h0m0-1h0m0 10h0m0-6h0m0-2h0m0 9h0m0-12h0m1 11h0m0 2h0m0-5h0m0 4h0m0-14h0m0 15h0m1-2h0m0-3h0m0 2h0m0 3h0m0-2h0m0-16h0m0 0h0m1 17h0m0-6h0m0-1h0m0 5h0m0 1h0m0 2h0m1-1h0m0-11h0m0 8h0m0-11h0m0 7h0m0-3h0m1 9h0m0 2h0m0-11h0m1 8h0m0 1h0m0-3h0m0 1h0m0 1h0m1-3h0m0 3h0m0 3h0m0-8h0m0 4h0m0 2h0m0 0h0m0-4h0m0-5h0m1 4h0m0 4h0m0-6h0m0 0h0m0 7h0m1-2h0m0 0h0m1-3h0m0 3h0m1-6h0m0 0h0m0 5h0m1 2h0m0-5h0m0-8h0m0 13h0m0-2h0m0-8h0m0 13h0m0-2h0m1 2h0m0-4h0m0-8h0m0-1h0m0 1h0m0 4h0m0-7h0m1 8h0m0-4h0m0 9h0m0-15h0m1 10h0m0 7h0m0-3h0m0 3h0m0-16h0m1 15h0m0-4h0m0 2h0m0 1h0m0-1h0m0 0h0m0-5h0m0 3h0m0-1h0m0 3h0m0-7h0m0 4h0m0 1h0m0-12h0m1 13h0m0 3h0m0-6h0m0 7h0m1-8h0m0 2h0m0 1h0m0 2h0m1-1h0m0-5h0m0 6h0m0 2h0m0-12h0m0 9h0m0 2h0m0 1h0m0-18h0m0 0h0m1 11h0m0-2h0m0 1h0m0 5h0m0-6h0m1 9h0m0-4h0m0 4h0m0-2h0m0-4h0m0 4h0m0 3h0m0-7h0m0-12h0m1 16h0m0-7h0m0 10h0m0-5h0m0 1h0m1 4h0m0-19h0m0 18h0m0 0h0m0-3h0m1 4h0m0-1h0m0-3h0m1-2h0m0 6h0m0-3h0m0 0h0m0-7h0m1 6h0m0 0h0m0 4h0m0-3h0m0-5h0m0-1h0m0 2h0m0 4h0m0 3h0m0-16h0m1 16h0m0-3h0m0-1h0m0 1h0m0 1h0m0-1h0m1 1h0m0 2h0m0-11h0m1 4h0m0 2h0m1 0h0m0 2h0m0-7h0m0-9h0m1 9h0m1-8h0m0 16h0m0-2h0m0-4h0m0-3h0m1 9h0m0 2h0m0-7h0m0 7h0m0-3h0m0 2h0m0-4h0m0 1h0m0-13h0m1 13h0m0 3h0m0-2h0m0 1h0m0 1h0m0-4h0m0-5h0m0 0h0m0 6h0m0-13h0m0 13h0m0-4h0m0-10h0m1 11h0m0-3h0m0 7h0m0 3h0m0-1h0m1-5h0m0 2h0m0-5h0m0 2h0m0-5h0m0-3h0m0-4h0m1 11h0m0 5h0m0-1h0m1 0h0m0-4h0m0 0h0m0-5h0m0 11h0m0-4h0m1 3h0m0-1h0m0-8h0m0 12h0m0-19h0m0 0h0m1 19h0m0 0h0m0-8h0m0-3h0m0 9h0m0 0h0m0-3h0m1 2h0m0-4h0m0 2h0m0 4h0m0-14h0m0 8h0m0 1h0m0-4h0m0 4h0m0 1h0m0 5h0m0 0h0m1-7h0m0-3h0m0 3h0m0 6h0m0 1h0m0-17h0m1 14h0m0 2h0m0 1h0m0-9h0m0 6h0m0-7h0m0 8h0m0 2h0m0-19h0m0 1h0m0 0h0m1 18h0m0-8h0m0-8h0m1 5h0m0 8h0m0 0h0m1 0h0m0 0h0m0 0h0m0-6h0m0 7h0m1-9h0m0 10h0m0-3h0m0-9h0m0 10h0m0-5h0m0-5h0m0 7h0m0 2h0m0 4h0m1 0h0m0-11h0m0 3h0m0 5h0m0-6h0m0-6h0m1 7h0m0-1h0m0 6h0m0-8h0m0 11h0m0-2h0m0-2h0m1 4h0m0-11h0m0 1h0m0 9h0m0-2h0m0-6h0m0-1h0m0-5h0m1 10h0m0 0h0m0-2h0m0-2h0m0 8h0m0 1h0m0-19h0m1 9h0m0 3h0m0 7h0m0-6h0m0-6h0m1 8h0m0-3h0m0 2h0m0-2h0m1 7h0m0-3h0m0-1h0m0-2h0m0-8h0m0 10h0m0 3h0m0-8h0m0-9h0m1 15h0m0 1h0m0-4h0m0 2h0m0-5h0m0 8h0m0-2h0m0-2h0m0 1h0m0-15h0m1 14h0m0 5h0m0-12h0m0-5h0m0 9h0m1 7h0m0-1h0m0-11h0m0 13h0m0 0h0m0-9h0m1 3h0m0 1h0m0 2h0m0-5h0m0 3h0m0 5h0m0-9h0m0 0h0m0 8h0m0-5h0m0 4h0m0-5h0m0-1h0m0 5h0m1-15h0m0 17h0m0-3h0m0-8h0m0 6h0m0-1h0m0 1h0m0 0h0m0-1h0m0 4h0m0 0h0m0-6h0m1 3h0m0-1h0m0 1h0m0 3h0m0 2h0m0-8h0m0-4h0m0 10h0m1 3h0m0-9h0m0 4h0m0 0h0m0-10h0m1 11h0m0-6h0m0-2h0m0 0h0m0-3h0m0 13h0m1 2h0m0-5h0m0-9h0m0 9h0m0 1h0m0-3h0m0 5h0m0-3h0m1 0h0m0-2h0m0 7h0m0-8h0m0-8h0m0-3h0m1 16h0m0 0h0m0-2h0m0-1h0m0-7h0m0 10h0m0-6h0m0-7h0m0-3h0m1 16h0m0 0h0m0-3h0m0-12h0m0 1h0m1 9h0m0 6h0m0 0h0m0-6h0m1 1h0m0 3h0m0-1h0m0 5h0m0-4h0m0-5h0m0 7h0m1 1h0m0-15h0m0 14h0m0 1h0m1-5h0m0-1h0m0-2h0m0 3h0m0 6h0m0-1h0m0-8h0m0 9h0m1-7h0m0 3h0m0 0h0m0 1h0m0-3h0m0-5h0m0 0h0m0 5h0m1-3h0m0 3h0m0 6h0m0-7h0m0-10h0m1 16h0m0-3h0m0-6h0m0 5h0m0 1h0m0 2h0m0-3h0m1 1h0m0 4h0m0 0h0m0 0h0m0 0h0m0-3h0m1-7h0m0 7h0m0-10h0m0 5h0m0-2h0m0 7h0m0 2h0m0-3h0m0 3h0m0-13h0m0-2h0m1 3h0m0 4h0m0 8h0m0-18h0m1 18h0m0-1h0m0 0h0m0-2h0m0 1h0m0 1h0m0-13h0m1-4h0m0 15h0m0-11h0m1 12h0m0 1h0m0-1h0m0-1h0m0 2h0m0-10h0m0 9h0m1 2h0m0-5h0m0-1h0m0 7h0m0-9h0m0 6h0m1 3h0m0-9h0m1 9h0m0-9h0m1 7h0m0-3h0m0-7h0m0 10h0m0-13h0m0 10h0m0-12h0m1 15h0m0-6h0m0 5h0m0-3h0m0 2h0m0 1h0m1-2h0m0-2h0m0-8h0m0 13h0m0-1h0m0 3h0m1-6h0m0 1h0m0 1h0m0 1h0m1-1h0m0 0h0m0-1h0m0 3h0m0-3h0m1-3h0m0 2h0m0 3h0m0 0h0m0 2h0m0-5h0m0 2h0m0-3h0m0 5h0m0 1h0m0 1h0m0-18h0m1 11h0m0-1h0m0 5h0m0-12h0m0 0h0m1 6h0m0 2h0m0 2h0m0 3h0m0 1h0m0 0h0m1-9h0m0 5h0m0-2h0m0 6h0m0 1h0m0-6h0m0-1h0m1 0h0m0-1h0m0-1h0m0 8h0m0-10h0m0-7h0m0-1h0m1 16h0m0-7h0m0 10h0m1 0h0m0-15h0m1 15h0m0-3h0m0-5h0m0 5h0m0-5h0m0 6h0m0-11h0m1 7h0m0-10h0m0 7h0m0 8h0m0-16h0m1 10h0m0 7h0m0-16h0m0 9h0m0 3h0m0-5h0m0 5h0m0-6h0m0 7h0m0-3h0m0-9h0m1 10h0m0-1h0m0 6h0m0-5h0m0-1h0m0 2h0m0 2h0m1 1h0m0-7h0m0-2h0m0-1h0m0 5h0m0 3h0m0-4h0m0 4h0m0-1h0m1-6h0m0 3h0m0 5h0m0-5h0m0 1h0m0 0h0m0-13h0m1 19h0m0 0h0m0-7h0m0-5h0m0 2h0m0 10h0m1-4h0m0-4h0m0-11h0m0 4h0m1 12h0m0 3h0m0-10h0m0 9h0m0-12h0m1-1h0m0 9h0m0 1h0m0-6h0m0 3h0m0 3h0m0-5h0m0 2h0m0-8h0m1 13h0m0-11h0m0-6h0m1 12h0m0 1h0m0 6h0m0-9h0m0 6h0m0-2h0m0 1h0m0 4h0m0-19h0m0 4h0m1 14h0m0-16h0m0 2h0m0 0h0m1 11h0m0-2h0m0 1h0m0-12h0m1 16h0m0-3h0m0-4h0m0-3h0m0 15h0m0 3h0m0-4h0m-1 3h0m0-4h0m0 0h0m-1 7h0m-1-8h0m0 4h0m0-4h0m0 3h0m-1 4h0m0-7h0m0 2h0m-1 7h0m0-6h0m-1-2h0m0-1h0m0 9h0m-1-6h0m-1-1h0m0 2h0m0 6h0m-1-7h0m-1 7h0m0-3h0m0-3h0m0-4h0m-1 2h0m0 5h0m0-7h0m0 8h0m0-6h0m-1-2h0m0 9h0m-1-1h0m0-7h0m0 1h0m0 7h0m0 1h0m-1-6h0m0-2h0m0-1h0m-1 7h0m0-1h0m0-4h0m-2 6h0m0-1h0m-1-5h0m-1 2h0m0-1h0m0 2h0m-1 4h0m0-10h0m0 2h0m0-1h0m0 4h0m0 1h0m-1-6h0m0 0h0m0 3h0m0-3h0m0 4h0m-1 2h0m0-5h0m-1 9h0m0-5h0m-1 2h0m0-1h0m-1-3h0m0 4h0m0-1h0m0 0h0m-1-4h0m-1 2h0m-1 3h0m-1-1h0m0-6h0m-2 0h0m0 0h0m-1 1h0m0 1h0m0 2h0m0-3h0m0-1h0m0 3h0m-1 2h0m-1 1h0m0-6h0m-1 5h0m0-4h0m0 9h0m-1-5h0m-1-4h0m0 0h0m0 4h0m0-3h0m0-1h0m0 5h0m0-5h0m0-1h0m-1 1h0m-1 3h0m0 3h0m-1-3h0m0 0h0m0-1h0m-1-3h0m-1 1h0m0 0h0m0 5h0m0-3h0m0-3h0m0 0h0m-1 0h0m0 5h0m0-4h0m0-1h0m0 0h0m-1 5h0m0-2h0m0 3h0m-1-5h0m0 7h0m0-6h0m0-2h0m0 8h0m-1-5h0m0 6h0m0-9h0m0 1h0m0 4h0m0-5h0m-1 1h0m-1 7h0m-1-7h0m0 5h0m0 1h0m0 3h0m0 0h0m0-3h0m0 0h0m0 0h0m-1-5h0m0 1h0m0 2h0m0 4h0m0-2h0m-1-3h0m-1-4h0m0 2h0m-1-1h0m-1 0h0m-1-1h0m-1 2h0m-1-2h0m0 10h0m0-3h0m0-4h0m0 7h0m0-4h0m-1-5h0m0 7h0m-1-7h0m0 9h0m0-2h0m0-8h0m-1 8h0m-1-2h0m0-2h0m-1 3h0m0-6h0m-1 9h0m0-9h0m0 9h0m0-7h0m-1 1h0m-1-4h0m0 0h0m-1 0h0m0 1h0m-1 0h0m0 5h0m0-4h0m0 7h0m0-5h0m-1 2h0m0-3h0m-1-1h0m0-2h0m0 0h0m0 0h0m0 1h0m0 4h0m-2-2h0m0-3h0m0 2h0m0 0h0m-1 3h0m0 4h0m-1-8h0m0-1h0m-1 0h0m0 4h0m0-4h0m-1 1h0m0 4h0m0-2h0m-1 0h0m0 5h0m0-5h0m0 1h0m0-3h0m0 0h0m0-1h0m-1 7h0m0-2h0m0 0h0m0-5h0m0 6h0m-1-3h0m0 1h0m0 6h0m0-6h0m0-2h0m-1-1h0m0 2h0m-1 0h0m-1 2h0m0-4h0m0-1h0m0 2h0m-1 8h0m-1-9h0m0 2h0m0-3h0m0 4h0m0 6h0m0-6h0m0 0h0m0 4h0m-1 2h0m0-3h0m0-2h0m0-3h0m-1-2h0m0 0h0m0 0h0m0 4h0m0 6h0m-1-5h0m0-4h0m-1 0h0m0 3h0m0-2h0m0 3h0m0 2h0m-1-3h0m-1 3h0m0-7h0m0 1h0m0 8h0m0-5h0m-1 1h0m0-5h0m0 1h0m0 5h0m-1 4h0m0-5h0m0-5h0m0 1h0m-1 9h0m0-7h0m-1 0h0m0-3h0m0 3h0m0-2h0m0 0h0m-1 9h0m0-6h0m-1-3h0m-1 1h0m0 1h0m-1-3h0m0 1h0m-1 1h0m0 0h0m-1-2h0m0 6h0m-1-4h0m0 1h0m0-2h0m0-1h0m0 6h0m0-3h0m-1 5h0m0-7h0m-1 1h0m0 7h0m0-5h0m-1-4h0m0 0h0m0 4h0m0-1h0m-1 4h0m0-7h0m0 10h0m0-8h0m0-1h0m0 3h0m-1 0h0m-1-3h0m0-1h0m0 0h0m-1 3h0m-1 3h0m0-5h0m-2 9h0m0-9h0m0 5h0m0-4h0m-1 2h0m0-1h0m0 7h0m-1-4h0m0-5h0m0 3h0m-1-3h0m0 0h0m0 3h0m-1 0h0m-1 6h0m0-10h0m0 0h0m0 0h0m-2 9h0m-1-8h0m0 0h0m-1 4h0m0-1h0m-1-2h0m0 1h0m0 2h0m0-4h0m0 2h0m-1-3h0m0 0h0m0 1h0m-1-1h0m0 7h0m-1 3h0m0-7h0m-1 1h0m-2 3h0m0-3h0m-1 3h0m0-6h0m-1 2h0m0-2h0m-1 2h0m-1 6h0m0-6h0m0 4h0m-1-6h0m0 1h0m0 0h0m-1 0h0m0 4h0m-1-3h0m0-1h0m0 5h0m0-4h0m0-2h0m-1-1h0m0 2h0m-1-1h0m0 7h0m0-5h0m-1-2h0m0 3h0m-1 2h0m0-3h0m0-2h0m0 4h0m0 0h0m-1 0h0m0-1h0m0-2h0m-1 1h0m0-2h0m0 0h0m-1 8h0m0-9h0m0 3h0m-1 2h0m0 3h0m0-8h0m-1 7h0m0-4h0m0 5h0m0-2h0m-1-6h0m0 0h0m-1 3h0m0 1h0m0 1h0m-1-5h0m0 1h0m0 2h0m0 4h0m-1-1h0m0-2h0m0 0h0m0-3h0m0-1h0m0 0h0m0 3h0m-1 2h0m-1-3h0m0 3h0m0-5h0m0 1h0m0-1h0m-1 6h0m0-2h0m0 1h0m0-4h0m0 1h0m-1 8h0m0 0h0m0-10h0m-1 1h0m-1 3h0m0-2h0m-1-1h0m0 1h0m0 5h0m0-3h0m-1-2h0m0 3h0m-1-1h0m0 3h0m-1 0h0m0-7h0m-1 4h0m-1-3h0m0-1h0m-1 0h0m0 0h0m0 6h0m-1-5h0m0-1h0m-1 4h0m0-1h0m-1-2h0m0 2h0m0 6h0m0-2h0m0-1h0m-1 2h0m0-8h0m-1 1h0m0 2h0m-1-2h0m0 8h0m0-7h0m-1 1h0m-1 3h0m0-2h0m-1 1h0m0-4h0m0 0h0m-1 5h0m-2-4h0m0 4h0m-1-4h0m0 3h0m0-5h0m-2 7h0m0-6h0m0 4h0m0 1h0m-1-5h0m0 5h0m0-1h0m0-1h0m-1-3h0m0 2h0m0 2h0m0-3h0m0-2h0m-1 3h0m0-1h0m0 3h0m0 3h0m0-7h0m0-1h0m0 9h0m-1-9h0m-1 1h0m0 4h0m0 2h0m0-4h0m0-2h0m-1-1h0m0 5h0m-1 1h0m0-5h0m0 0h0m-1 1h0m0-1h0m0-1h0m0 4h0m0-1h0m0-3h0m0 0h0m0 9h0m-1-3h0m0-4h0m-1 0h0m-1 2h0m0 0h0m0 0h0m-1-3h0m0 6h0m-1-4h0m0-3h0m0 1h0m0 2h0m0 7h0m-1-8h0m0 0h0m0 8h0m-1-2h0m0-7h0m-1 7h0m0-6h0m0 0h0m0-2h0m-1 2h0m0-1h0m0 8h0m0-3h0m0-4h0m0 1h0m0 4h0m0-6h0m0 1h0m-1-1h0m0 7h0m0-7h0m-1 2h0m0-1h0m0 7h0m-1-8h0m0 0h0m-1 0h0m0 8h0m-1-5h0m-1-1h0m0 5h0m-1-3h0m0-4h0m0 1h0m0 0h0m0 8h0m0-5h0m-1 1h0m0-6h0m-1 4h0m0 2h0m-2-2h0m0-1h0m0 5h0m0-4h0m0 6h0m-1-8h0m0 2h0m0-2h0m-1 0h0m-1 1h0m0 1h0m0 1h0m-1-5h0m0 1h0m-1 0h0m-1 6h0m0-5h0m0 2h0m0-1h0m-1 0h0m0 0h0m0 1h0m0 2h0m-1 0h0m0-3h0m-1-2h0m-1 2h0m-1-1h0m0 0h0m-1 6h0m0-6h0m0-1h0m-1 9h0m-1-9h0m0 5h0m0-5h0m0 3h0m-1-4h0m0 5h0m0 3h0m-1-5h0m0-3h0m-1 9h0m0-6h0m0-1h0m0 5h0m-1-6h0m0 2h0m-1 1h0m0-4h0m0 9h0m-1 1h0m0-5h0m-1 5h0m0-4h0m0 0h0m0-6h0m-1 5h0m0-5h0m0 4h0m0-3h0m0-1h0m0 7h0m-1-5h0m0 0h0m0-2h0m-1 8h0m0-7h0m-1 3h0m0-3h0m0 1h0m0-2h0m-1 0h0m0 5h0m0-5h0m0 0h0m0 5h0m0-3h0m-1 5h0m0-3h0m0 6h0m-1-9h0m0 2h0m0-2h0m-1 5h0m0-5h0m0 1h0m0 7h0m-1-5h0m-1-2h0m0 1h0m-1 0h0m0 1h0m-1 2h0m0-1h0m0 4h0" stroke="#1a1a1a" stroke-width="4.5" stroke-linecap="round" fill="none"/>
<path transform="scale(0.25)" d="M1872 529h0m29-7h0m14 16h0m48-3h0m7-2h0m43 4h0m-98 10h0m-15 11h0m-15 1h0m-33 13h0m146-12h0m36 12h0m6-12h0m18 23h0m-3 13h0m-21-11h0m-2 0h0m-71 4h0m-25 3h0m-21 1h0m-39-2h0m-37 14h0m14 5h0m15-4h0m8-2h0m2-2h0m18 16h0m38-3h0m3-13h0m9 7h0m11 7h0m2-7h0m3 6h0m2-4h0m4-6h0m1 4h0m2 6h0m43-6h0m21 9h0m27-4h0m2-4h0m9 1h0m-10 17h0m-27 8h0m-3-8h0m-9 9h0m-4 1h0m-2-17h0m0 18h0m-9-16h0m-7 15h0m-7-9h0m0-3h0m-11 6h0m-12 2h0m-28-10h0m0 10h0m-9-2h0m-9-4h0m-8 10h0m-17-15h0m-3 6h0m-14-2h0m-1-1h0m-18-1h0m-6 7h0m-11-9h0m-2 9h0m-2-12h0m-2 2h0m7 37h0m1-16h0m8 10h0m6 5h0m5-16h0m21 16h0m8-16h0m2 8h0m16 8h0m11-4h0m3-3h0m4-11h0m3 19h0m0-4h0m8 3h0m1-8h0m1 9h0m3-17h0m0 1h0m5 11h0m5-12h0m2 10h0m25 5h0m4 0h0m3-17h0m6 12h0m2 0h0m13 0h0m10-6h0m5-5h0m12 14h0m7-1h0m11-7h0m1 8h0m0 1h0m8 12h0m-10 5h0m-21-7h0m-3 0h0m-4 11h0m-2-6h0m-5-2h0m0-1h0m-4-1h0m-8 7h0m-5 4h0m-12-13h0m-9-4h0m-5 3h0m-1 0h0m-1 14h0m-3-14h0m-2 7h0m-1 5h0m-18-4h0m-2-7h0m-4 2h0m-7 5h0m-5-11h0m-7-1h0m-16 13h0m-3 6h0m-2-12h0m-2 2h0m-1-2h0m-12-7h0m-12 2h0m-2 7h0m-9 2h0m-1-11h0m-19 14h0m-6 1h0m13 5h0m4 10h0m4 1h0m1-8h0m3 0h0m9 10h0m3 0h0m2-5h0m1 4h0m3-12h0m7 18h0m13-11h0m0 5h0m7-5h0m4 1h0m1 7h0m14-13h0m9 6h0m9 7h0m3-15h0m14 13h0m2 0h0m13 3h0m0-5h0m4-4h0m3 0h0m3 0h0m4 3h0m1-1h0m1-9h0m2 16h0m5 3h0m2-12h0m3-3h0m10 0h0m3 0h0m13 1h0m0 5h0m1-3h0m2-3h0m3 11h0m15-13h0m3 11h0m0-10h0m1-3h0m5 2h0m4 30h0m-5 0h0m-2-4h0m-14 0h0m-5 3h0m0-2h0m-6 7h0m0-10h0m-3 12h0m-4-7h0m-18-6h0m-2 4h0m0 3h0m-1-10h0m0 9h0m-1-9h0m-8 13h0m-5-8h0m-1 12h0m-1 0h0m-2-18h0m-1 4h0m0 4h0m-5-1h0m-3 10h0m-12-2h0m-1-11h0m-3-3h0m-1 2h0m-2 6h0m-5-2h0m0-7h0m-4 13h0m-1-8h0m-3 9h0m-16 4h0m-3-9h0m-3-3h0m-1-4h0m-2-1h0m-6 5h0m-1-1h0m-1 3h0m-1 4h0m-2-12h0m-4-1h0m-5 1h0m-2 11h0m-1-1h0m-1 0h0m-4 8h0m-2-15h0m0 2h0m-1 2h0m-3 11h0m-2-9h0m-4-2h0m-9-8h0m-1 16h0m-1-10h0m-3 8h0m-4 5h0m0-1h0m-1-3h0m-2-13h0m-6 4h0m-2 10h0m-4-13h0m-3-2h0m-1 8h0m0 9h0m-5 0h0m-3 18h0m2-10h0m9 0h0m0 0h0m2 4h0m3 1h0m5 2h0m2 3h0m1-9h0m4 6h0m2-13h0m1 19h0m2-5h0m3-5h0m0 6h0m2-1h0m3-13h0m3 13h0m10-4h0m2 4h0m0-5h0m4-3h0m0 3h0m35-5h0m8-3h0m0 1h0m5 8h0m1 7h0m4 0h0m6-13h0m1 10h0m10-5h0m5-2h0m3 0h0m5-6h0m3 9h0m4-8h0m0 15h0m2-5h0m5 2h0m1-14h0m3 9h0m2 9h0m1-2h0m5-11h0m2 12h0m2 1h0m16-6h0m3-8h0m0 11h0m1-6h0m4 2h0m1-10h0m2 10h0m2-8h0m1-2h0m4 8h0m4-1h0m6-3h0m2 1h0m2-5h0m4 10h0m3 18h0m-1-7h0m-13 17h0m0-2h0m-3-1h0m-5-11h0m-3 12h0m-1-1h0m-6-12h0m-2 1h0m-2 6h0m-2 8h0m-1-18h0m-4 18h0m-1-2h0m-9 0h0m0 2h0m-6-10h0m-8 5h0m-1 4h0m-4-8h0m0 9h0m-7-11h0m-2 9h0m0-7h0m-2 0h0m0 4h0m-2-7h0m-1 11h0m0-1h0m-2 0h0m-10-1h0m0 0h0m-3-7h0m-2 2h0m0-3h0m-10 2h0m-1-9h0m0 8h0m-16-5h0m-5 10h0m-1-12h0m-9 9h0m-2-5h0m-13 10h0m-2-8h0m-4 8h0m-3-10h0m-7 12h0m-2-16h0m-11 0h0m-10-1h0m0 0h0m-11 4h0m-2 9h0m-7 0h0m-7-2h0m-2-8h0m-3 10h0m-1-3h0m6 9h0m4 3h0m8-2h0m12 3h0m0 9h0m6-7h0m8-6h0m1 7h0m2 4h0m1 2h0m1-4h0m0 1h0m4-3h0m0 12h0m4-8h0m0-4h0m3-2h0m7-1h0m9-1h0m2 11h0m0-3h0m1-7h0m2 4h0m5 6h0m8-9h0m0 8h0m1-3h0m0-6h0m3 4h0m3 4h0m5-12h0m6 7h0m6 1h0m1 10h0m5-14h0m0 1h0m1 7h0m0-11h0m6 6h0m3 12h0m1-7h0m0-4h0m3 4h0m4-12h0m4 8h0m6 11h0m4-7h0m6-9h0m9 2h0m4 4h0m5-2h0m5-2h0m5 0h0m2 8h0m1-4h0m6 4h0m6-3h0m4-5h0m4-1h0m4 1h0m1-1h0m2 4h0m13 2h0m0 22h0m-1-11h0m-11 18h0m-6-14h0m-6 2h0m-5 12h0m-2-19h0m-4 18h0m-15-6h0m-2 5h0m-8-17h0m-3 15h0m-2-8h0m0 5h0m-3-3h0m-7-9h0m-1 0h0m-2 3h0m-16 12h0m-11 1h0m-4 1h0m-12-7h0m0 5h0m-5-8h0m-3 7h0m0-11h0m-1 7h0m-2 6h0m-2-12h0m-8 4h0m-3-6h0m-16 3h0m-2-1h0m-1 7h0m0-2h0m-2-7h0m-4 0h0m-4 13h0m-4-5h0m-3-7h0m-2 0h0m-1 1h0m-7 3h0m-1-5h0m-14 16h0m-4 0h0m-2-1h0m-3-2h0m-5 0h0m-4-9h0m-1 13h0m-5 0h0m-1 13h0m5-11h0m2 8h0m4-8h0m0 9h0m1-5h0m6 14h0m5-2h0m8-7h0m12 6h0m3 2h0m6-9h0m2 2h0m6-1h0m2 3h0m4 4h0m1-13h0m1 3h0m6-3h0m1 14h0m4-7h0m2-7h0m1 10h0m0-6h0m2 8h0m1-10h0m1 4h0m5 5h0m4-15h0m2 18h0m3-12h0m3-5h0m10 14h0m3-12h0m0 11h0m1-3h0m3 5h0m3-6h0m5-5h0m1 4h0m2-2h0m2-1h0m2 0h0m3 4h0m2 4h0m2 4h0m1-18h0m0 15h0m8-15h0m1 6h0m1-5h0m8-1h0m2 6h0m10 0h0m1 5h0m5 7h0m0-12h0m8 10h0m7-8h0m2 5h0m9-3h0m0 1h0m3-11h0m2 16h0m6-3h0m2-2h0m2 6h0m1-15h0m4 2h0m2-4h0m2 5h0m2 28h0m-6 2h0m-8 3h0m-4 0h0m-8-16h0m-2 5h0m0 2h0m-4 7h0m-11-7h0m0-4h0m-4 11h0m0-1h0m-1-4h0m-2-6h0m-4 7h0m-2 5h0m-11-17h0m-6 15h0m-7 3h0m-1 0h0m-4-10h0m-1 2h0m-8-5h0m-4 7h0m-17 5h0m0-13h0m-2 10h0m-14 5h0m0-9h0m-4-1h0m-5 6h0m-3-4h0m-4 5h0m0-16h0m-1 16h0m-5-1h0m-1-15h0m-1 19h0m-3-19h0m-6 11h0m-6 8h0m-1-14h0m-4 4h0m-9-4h0m-9-1h0m0 10h0m-2 1h0m-2-13h0m-1 16h0m-5-11h0m-2-6h0m0 13h0m-4-14h0m-1 6h0m-3-1h0m-1 4h0m-12-5h0m-6 29h0m5-7h0m11-6h0m1 10h0m2 4h0m5-12h0m1 2h0m9 9h0m1 4h0m8-8h0m5-9h0m8 11h0m9-2h0m11 6h0m2-7h0m12 2h0m5 7h0m5-16h0m1 8h0m10 0h0m1-9h0m5 8h0m1 7h0m5-2h0m7 2h0m14-1h0m15-2h0m1 1h0m2-7h0m2 10h0m12-16h0m4 15h0m8 4h0m3-11h0m2 11h0m2-4h0m1 1h0m4-9h0m5 0h0m5-5h0m8 7h0m0 3h0m13 18h0m-11-9h0m-7 7h0m-12 8h0m-3-12h0m-3 7h0m-83 1h0m-5 3h0m-4-1h0m-6 1h0m-1-7h0m-1 7h0m-10 0h0m-10-10h0m-9 13h0m-1-17h0m-10 11h0m-18-12h0m-5 17h0m-13-2h0m-14 0h0m33 13h0m3 4h0m3-8h0m1 0h0m4 4h0m14-7h0m0 4h0m1 8h0m75 4h0m40-17h0m9 11h0m5-1h0m31-2h0m-49 18h0m-1 7h0m-34-12h0m0 12h0m-41-11h0m-18 6h0m-1-8h0m-53 9h0m-28 10h0m115 2h0m0 2h0" stroke="#1a1a1a" stroke-width="4.5" stroke-linecap="round" fill="none"/>
<path transform="scale(0.25)" d="M2323 576h0m-17 13h0m-41-9h0m71 49h0m-7 5h0m-84-6h0m-15 2h0m-15-7h0m-62 6h0m-1-4h0m13 26h0m38 5h0m53-1h0m0 1h0m8-5h0m26 5h0m5-4h0m15 1h0m12 6h0m32-5h0m-7 22h0m-2-6h0m-35 0h0m-17 7h0m-13-6h0m-16-4h0m-3 5h0m-26 5h0m-23 1h0m-2-13h0m-21 0h0m-13 10h0m-11-3h0m-14-12h0m-2 6h0m-11 21h0m1-1h0m0-1h0m19 14h0m2-9h0m36 0h0m0-8h0m5 8h0m2-9h0m6 4h0m1 4h0m57 9h0m27-16h0m3 2h0m0 5h0m2-6h0m4 0h0m21 10h0m9 5h0m19-13h0m0 0h0m18 6h0m-20 27h0m-9-16h0m-10 6h0m-7 9h0m-2-11h0m-1 0h0m-1-2h0m-12 1h0m0 4h0m-18 1h0m-1 9h0m-12-1h0m-1-13h0m-6 10h0m-2 2h0m-3-6h0m-5 6h0m-7-8h0m-6 3h0m-7-3h0m0 10h0m-5-18h0m-7 18h0m-12-6h0m-9-6h0m-2 5h0m-26 3h0m-1-15h0m-3 8h0m-1-4h0m-5 15h0m-3-11h0m-5 1h0m-14-5h0m0 14h0m-6-10h0m-3 11h0m0-10h0m-2 16h0m10-1h0m1 7h0m1 4h0m2-14h0m0 2h0m0-1h0m1 3h0m0 4h0m1 4h0m14-6h0m9 5h0m2-12h0m2 2h0m2 14h0m10-15h0m5 4h0m6 14h0m7-1h0m3-2h0m17-8h0m7 2h0m1 3h0m4 4h0m11-14h0m18-1h0m8-2h0m3 19h0m4-3h0m1-11h0m4-5h0m5 13h0m1-11h0m0 10h0m11 6h0m15-16h0m6 4h0m5 3h0m1-1h0m3 8h0m4-7h0m1-7h0m0 11h0m1-1h0m3-5h0m1 12h0m4-7h0m1 3h0m1 2h0m2-1h0m15 2h0m-4 18h0m-2-8h0m-3 5h0m-7 2h0m-13 4h0m-3-11h0m-1-8h0m-2 6h0m-2 4h0m-7-10h0m0 16h0m-1 1h0m-4 0h0m0-6h0m-11-8h0m-8 10h0m-2 0h0m-6-1h0m-5-6h0m-8-5h0m-2 7h0m-1 6h0m-11-12h0m-2 10h0m-2 1h0m-2-6h0m-7-3h0m-6 6h0m-4-8h0m-5 14h0m-3-16h0m-1 10h0m-3-5h0m-7 2h0m-2 5h0m0 0h0m-15-3h0m-12-1h0m-8 10h0m-4-13h0m-5-2h0m-1 3h0m-3-5h0m-9 5h0m-11 9h0m0-13h0m-16 15h0m-3 5h0m1 14h0m10-7h0m7 7h0m7-12h0m5 1h0m3 14h0m0-15h0m1 8h0m5 0h0m6-11h0m1 17h0m0-4h0m3-10h0m5 3h0m2 4h0m1-6h0m3 2h0m3 3h0m0 9h0m2-15h0m3 1h0m2 10h0m4-9h0m2 6h0m2 0h0m1-10h0m12 10h0m5 0h0m5-10h0m2 12h0m1-8h0m7-6h0m1 2h0m3 14h0m1-14h0m9 11h0m2 5h0m2-16h0m2 15h0m0-10h0m9 7h0m0 5h0m6-12h0m3-6h0m9 14h0m0-1h0m4-2h0m9 6h0m0-9h0m2 10h0m1-5h0m0-12h0m2 8h0m0-7h0m2 11h0m2 4h0m3-17h0m1 16h0m1-15h0m2 13h0m0-6h0m3-5h0m3-2h0m8 7h0m2-9h0m1 13h0m0-9h0m7 10h0m5-2h0m0-4h0m6-8h0m4 10h0m0-6h0m-6 28h0m-7 0h0m-6 0h0m-4 0h0m-1-4h0m0-7h0m-9 9h0m0 1h0m-7-7h0m-7 3h0m-7 1h0m-2-4h0m0 12h0m-4-5h0m-2-6h0m-7 2h0m-1 12h0m-4-2h0m-4-16h0m-5 13h0m-5 3h0m-16-15h0m-4 5h0m-14 1h0m0-2h0m-6 2h0m-3-5h0m-6 14h0m-1-7h0m0 7h0m-1-5h0m-2-1h0m-3-9h0m-7 16h0m-1 1h0m-1-16h0m-6 5h0m-3 8h0m-4 3h0m-3-8h0m-2 6h0m-2-2h0m-3-9h0m-2 13h0m-2-11h0m-2 10h0m-1-17h0m-2 4h0m-2 7h0m-4 7h0m-3-14h0m-1 14h0m-3-4h0m-4-15h0m-8 19h0m-2-9h0m-2 0h0m-5 9h0m-6-11h0m-1-6h0m-1 26h0m4-8h0m1 16h0m6 0h0m4-7h0m0-9h0m10 18h0m3-7h0m8 3h0m3-4h0m9-3h0m2 7h0m0-1h0m11-8h0m1 10h0m0-6h0m14 6h0m0-1h0m4 1h0m7-7h0m3 3h0m3-4h0m3 7h0m1 1h0m7-6h0m0-8h0m2 12h0m2-9h0m5 1h0m3 9h0m1 1h0m2 2h0m1-1h0m0-8h0m1-7h0m0 12h0m4 0h0m4-11h0m1 17h0m6-3h0m2 0h0m3-4h0m1-7h0m2 6h0m4-9h0m3 10h0m2-5h0m1 8h0m3 3h0m0-10h0m3 3h0m7 1h0m1-1h0m18 1h0m2 2h0m4 0h0m1 4h0m1-9h0m0-8h0m0 5h0m4 6h0m2-12h0m4 10h0m0 1h0m0-9h0m1-2h0m5 8h0m2-7h0m2 18h0m1-12h0m1 11h0m1-15h0m1 7h0m5 3h0m3-3h0m3 7h0m5 12h0m-13-4h0m-5 6h0m-9-8h0m-1 7h0m-5 9h0m-12-6h0m-1-5h0m-2 4h0m-4-11h0m-4 13h0m-1 1h0m0-10h0m-1 6h0m-12-6h0m-3 0h0m0 8h0m-1-13h0m-2 4h0m-6 0h0m-1 5h0m-3 5h0m-3-6h0m0 9h0m-2 1h0m-6-13h0m0 4h0m-4-6h0m-1 13h0m-5-3h0m-4-5h0m-1-3h0m-11-5h0m-8 17h0m-1-11h0m-3-6h0m-2 19h0m-3-9h0m-1 3h0m-5-12h0m-3 13h0m-4-3h0m-3-11h0m-5 14h0m-5 2h0m-5-1h0m-2-9h0m-4 7h0m0-8h0m-8 14h0m-6-9h0m0-7h0m-9 1h0m-1 2h0m-19 11h0m-4-14h0m-3 1h0m-6 12h0m-2-2h0m0-11h0m5 29h0m12-7h0m1 11h0m0-2h0m33 4h0m3-12h0m3-6h0m13 3h0m4-2h0m6 5h0m4 9h0m13-8h0m9 10h0m3-7h0m20 3h0m4 4h0m0-10h0m1 8h0m7-13h0m5 2h0m3-2h0m1 4h0m3 5h0m3-7h0m11 7h0m5-9h0m0 7h0m2 6h0m6 2h0m7-5h0m8-6h0m1 9h0m13 1h0m2-16h0m9 8h0m9-3h0m0 5h0m2-6h0m4 25h0m-4-7h0m-10 1h0m-9 10h0m-7-3h0m-12 0h0m-3-10h0m-12 1h0m-4 0h0m-7 6h0m0-6h0m-76 16h0m-28-7h0m-1-10h0m-10 12h0m-1-12h0m-2 6h0m-8 1h0m-12-4h0m-4 11h0m-3 3h0m-13-4h0m-3-8h0m36 27h0m12-10h0m47 9h0m2-3h0m28-7h0m0 15h0m5-5h0m38 8h0m13-4h0m5-1h0m32-6h0m-4 25h0m-21-12h0m-19 9h0" stroke="#1a1a1a" stroke-width="4.5" stroke-linecap="round" fill="none"/>
<path transform="scale(0.25)" d="M2476 731h0m171 7h0m18 13h0m-131 52h0m-27 29h0m-34 12h0m20 6h0m130 18h0m-133 28h0m145-10h0m15 8h0m-6 18h0m-134 7h0m-75 14h0m5-1h0m1 6h0m0-17h0m1 4h0m4 6h0m0 7h0m13-8h0m3-8h0m6 11h0m18-4h0m11 1h0m5-10h0m0 9h0m12 0h0m4-6h0m1 3h0m2-4h0m5 7h0m6-7h0m11-1h0m2 14h0m1-9h0m2 8h0m4 1h0m5-10h0m4 5h0m14-7h0m8 7h0m3 0h0m6 5h0m1-10h0m10 5h0m7-7h0m10 12h0m5-4h0m2-3h0m3-6h0m9 5h0m7-4h0m14 14h0" stroke="#1a1a1a" stroke-width="4.5" stroke-linecap="round" fill="none"/>
<path d="M63.4 72.1V69.1H211.3V72.1" fill="none" stroke="#6a6a6a" stroke-width="0.8"/><text x="137.3" y="66.8" font-size="7.2" fill="#333" text-anchor="middle">ns</text>
<path d="M137.4 94.7V91.7H211.3V94.7" fill="none" stroke="#6a6a6a" stroke-width="0.8"/><text x="174.4" y="90.1" font-size="6.6" fill="#333" text-anchor="middle">****</text>
<path d="M63.4 117.6V114.6H137.4V117.6" fill="none" stroke="#6a6a6a" stroke-width="0.8"/><text x="100.4" y="113" font-size="6.6" fill="#333" text-anchor="middle">****</text>
<path d="M415.1 85.2V82.2H563V85.2" fill="none" stroke="#6a6a6a" stroke-width="0.8"/><text x="489.1" y="80.6" font-size="6.6" fill="#333" text-anchor="middle">****</text>
<path d="M489.2 107.3V104.3H563V107.3" fill="none" stroke="#6a6a6a" stroke-width="0.8"/><text x="526.1" y="102.7" font-size="6.6" fill="#333" text-anchor="middle">****</text>
<path d="M415.1 128.6V125.6H489.2V128.6" fill="none" stroke="#6a6a6a" stroke-width="0.8"/><text x="452.1" y="124" font-size="6.6" fill="#333" text-anchor="middle">****</text>
<g id="umap-c">
<g transform="scale(0.25)" fill="none" stroke-linecap="round">
<path d="M406 1235h0m-4 4h0m-3-13h0m0 4h0m7 10h0m0 5h0m5 7h0m4-3h0m1 10h0m3-2h0m0-5h0m25 27h0m-7 0h0m0-7h0m-3 1h0m-1-6h0m-1 11h0m-2-12h0m0 2h0m-2-5h0m-2 0h0m-2 6h0m18 11h0m7 8h0m171 111h0m-3 0h0m-23-6h0m-10 6h0m-5-5h0m-13-2h0m-1 7h0m-2-6h0m-4-4h0m-1 7h0m-3-5h0m-1 3h0m0 5h0m-2-6h0m-4-5h0m0 11h0m-1 0h0m-3-7h0m-3 6h0m-1-9h0m-2 9h0m-1-6h0m-9 4h0m-4-1h0m-3-2h0m-66 20h0m10 5h0m2 1h0m2-3h0m1-12h0m2 11h0m2 4h0m3-12h0m3-1h0m1 9h0m8-13h0m5 0h0m8 13h0m1-3h0m1 7h0m1-12h0m5 9h0m8-15h0m0 5h0m1-5h0m0 5h0m0 4h0m0 2h0m0 4h0m3-4h0m1 2h0m1-4h0m2-9h0m3 3h0m0 15h0m4-2h0m4-4h0m0 4h0m1-10h0m1-4h0m3 2h0m1 7h0m2-5h0m1 11h0m1-16h0m1 8h0m3-4h0m2 9h0m2-8h0m3-5h0m1 14h0m2-8h0m0 10h0m4-2h0m3-12h0m1-2h0m0 7h0m3-4h0m0 12h0m4-3h0m0-2h0m7-12h0m12 10h0m5-9h0m7 5h0m1 3h0m2 6h0m5-9h0m0 7h0m0 0h0m3-8h0m2 0h0m0 10h0m4-7h0m0 1h0m2 8h0m9 1h0m5 1h0m6-3h0m7 2h0m3-6h0m0 6h0m3-14h0m4 6h0m1 6h0m2 2h0m5-7h0m1 8h0m10 0h0m3-3h0m3 2h0m2-1h0m36 22h0m-3-6h0m-9-1h0m-3 1h0m-2-5h0m-2-2h0m-1 6h0m-2-8h0m-3 6h0m-2-10h0m-1 4h0m-1 0h0m0 7h0m0 1h0m-3-8h0m0-3h0m-8 7h0m-1-2h0m-5-2h0m-3-3h0m-6 5h0m-5 7h0m-2-11h0m0 3h0m-1-3h0m0 12h0m0 3h0m-4-13h0m-5 13h0m-2-16h0m-13-1h0m-3 1h0m-2-1h0m0 15h0m-1-5h0m-6-3h0m0 9h0m-5-7h0m-3-5h0m-1 9h0m-2-11h0m-4 16h0m-3-4h0m-2-12h0m-2 1h0m-2 15h0m-15-15h0m-5 9h0m-2-12h0m-3 10h0m0 4h0m-3-10h0m-1 7h0m-1 3h0m-1 4h0m-4-15h0m-2 2h0m-3 11h0m-1-4h0m-1-2h0m-2 8h0m-1 1h0m-7-2h0m-4-3h0m-3-11h0m-2 12h0m-1-11h0m-3 8h0m-1 0h0m-6 4h0m-1-9h0m-3 6h0m0 3h0m-4-15h0m0 5h0m-4 0h0m0 11h0m-4-9h0m-16-3h0m-4 2h0m-5 5h0m-3-10h0m0 4h0m-1 3h0m-4-3h0m0 9h0m-2-5h0m-4 4h0m-4-10h0m-11 1h0m-2 1h0m-3 13h0m-1-7h0m-1-11h0m-2-1h0m-1 13h0m-13-10h0m0 12h0m-3-9h0m-3 12h0m-1-7h0m-2-6h0m-1 10h0m-2-10h0m0 10h0m0 3h0m-3-9h0m-4 5h0m-1-1h0m-3 6h0m-5-7h0m0 5h0m-5 0h0m-21 12h0m8-1h0m0 1h0m0 6h0m4-10h0m3 5h0m2-10h0m0 3h0m6 3h0m0 11h0m2 2h0m2-15h0m4 12h0m4-3h0m2-11h0m0 2h0m1 10h0m1 1h0m4-15h0m2 7h0m2 3h0m4-6h0m0 13h0m1-11h0m1 12h0m2-14h0m1 7h0m1 4h0m1-13h0m2-2h0m0 9h0m2-2h0m2-3h0m1-2h0m0 11h0m0 6h0m2-19h0m0 5h0m1 13h0m2-7h0m6-2h0m6-9h0m5 7h0m5 12h0m1-5h0m1 4h0m11-15h0m0 10h0m4-3h0m3-1h0m0 5h0m1-14h0m1 1h0m1 10h0m2 1h0m11 6h0m3-4h0m2-2h0m3-5h0m2 6h0m2-2h0m6-5h0m0 6h0m3-10h0m2 0h0m1-1h0m10 4h0m3-4h0m2 14h0m0 2h0m2-15h0m1 5h0m4 1h0m0 3h0m0 2h0m3-12h0m2 0h0m12 3h0m7 9h0m2-4h0m3-9h0m4 6h0m3-5h0m4 11h0m0 2h0m1-12h0m0 2h0m2 13h0m2-10h0m2 1h0m0 11h0m1-3h0m1-14h0m4 3h0m1 6h0m3 8h0m1-17h0m2 4h0m1 7h0m3-6h0m1 4h0m3-10h0m1 16h0m1-1h0m3-9h0m3-7h0m2 6h0m5 13h0m0 0h0m1-9h0m1 1h0m4-8h0m0 11h0m4-5h0m1 8h0m1-13h0m2 11h0m3-7h0m2 11h0m1-9h0m1-8h0m0-2h0m4 15h0m3-5h0m7 9h0m2-3h0m3-3h0m2-10h0m1 16h0m2-10h0m1 1h0m4 0h0m0 6h0m5 2h0m4-10h0m10 8h0m7 3h0m1-11h0m1-1h0m2 0h0m1 2h0m2 8h0m2-8h0m0 8h0m2-15h0m3 1h0m7 6h0m1 4h0m6 1h0m8 2h0m4 3h0m26 19h0m-5-4h0m-3-5h0m-1 7h0m-2-6h0m-4-10h0m-3 12h0m-3-5h0m0 5h0m-1-9h0m-5 6h0m-1-2h0m-1 10h0m-4-16h0m0 14h0m-3-5h0m-8-6h0m-1 8h0m0 7h0m-2-17h0m0 12h0m-1-14h0m0 10h0m-2 7h0m-2-12h0m-2 4h0m-1-7h0m-1 13h0m-1-10h0m0 9h0m-10-8h0m-5-4h0m-6 5h0m-7 8h0m-7-3h0m-4-11h0m-2 3h0m-1-1h0m-1 1h0m-2 8h0m-2 6h0m-3-11h0m-1-5h0m-1 3h0m-7 8h0m-1-11h0m-5-2h0m-2 13h0m0 5h0m-1-10h0m-3-5h0m-4 6h0m-1 4h0m-2-9h0m-5 0h0m-2 11h0m-2 4h0m-3-9h0m-3 8h0m-3-9h0m0 7h0m-7-15h0m0 15h0m-1-4h0m-1 7h0m-6-5h0m-2-12h0m-2-2h0m0 7h0m-5 5h0m-1-6h0m-5 3h0m-2 10h0m-1-5h0m-1-4h0m-5-9h0m-2 7h0m0 8h0m-4-7h0m0 5h0m-11-8h0m-1-3h0m-2 7h0m-1 5h0m-2-10h0m0 7h0m-5-4h0m0 11h0m-3-4h0m-9-9h0m-1-4h0m-3 9h0m-2-9h0m-4 2h0m0 5h0m-5 2h0m-6 8h0m-7-13h0m-1-3h0m0 12h0m-3-14h0m0 8h0m-4 5h0m-1-12h0m-3 9h0m0 5h0m-1-8h0m-1-6h0m-2 9h0m-1 1h0m-1-12h0m-1 11h0m-3-7h0m-4 7h0m0-3h0m-5 6h0m-1-13h0m-6 8h0m-1-5h0m-8-3h0m-1 6h0m-1 6h0m0 5h0m-1-13h0m-7 9h0m-6 0h0m-1-2h0m-6 7h0m-8-18h0m0 12h0m-3-11h0m0 1h0m-5 6h0m-2 6h0m-2-7h0m-3 11h0m-1-5h0m-4-5h0m-1 7h0m-4-13h0m-1 12h0m-6-5h0m0 9h0m-2-13h0m0 12h0m-1-6h0m-3-8h0m-3 2h0m-2 0h0m-1 9h0m0 4h0m-2-13h0m-2 6h0m-2-10h0m-2 17h0m-4-12h0m-2 1h0m-9-8h0m-8 14h0m-4 4h0m-4-4h0m-3-13h0m0 3h0m-6 10h0m-1 2h0m-7-1h0m-3-8h0m-3-5h0m-1 11h0m-1 4h0m-3-13h0m-2 4h0m0 5h0m-3 5h0m-5-9h0m0 3h0m-6-3h0m-4 4h0m-3 3h0m-3-1h0m-20 17h0m3-2h0m1 8h0m2-3h0m1-3h0m1-7h0m13-1h0m6 10h0m1-13h0m0 11h0m4-7h0m0 10h0m1-15h0m3 8h0m3-7h0m2 10h0m1-1h0m4-2h0m3-7h0m1 7h0m1-5h0m0-2h0m0 10h0m6 5h0m1-6h0m2 7h0m4-4h0m2-6h0m8-1h0m0 3h0m1 6h0m1-6h0m14-8h0m1 7h0m0 7h0m2-9h0m1 1h0m0 11h0m4-12h0m1 6h0m1 7h0m1-14h0m5 11h0m11-16h0m5 3h0m6 7h0m1-4h0m4-4h0m1 10h0m3-8h0m2 6h0m0 7h0m3-7h0m0 3h0m0 5h0m0 0h0m2-11h0m3 9h0m3-6h0m16 0h0m1 3h0m4-9h0m2 14h0m1-12h0m1 8h0m1-14h0m2 6h0m4 2h0m1-7h0m1 5h0m7-3h0m0 6h0m3 8h0m3-10h0m0 4h0m1 8h0m4-12h0m3 7h0m1-3h0m4 7h0m1-11h0m1 4h0m4 7h0m4-11h0m5-4h0m0 5h0m4-6h0m0 0h0m0 8h0m2-10h0m0 15h0m3-8h0m0 9h0m3-12h0m6 5h0m1 6h0m2-9h0m2 7h0m3 4h0m2-14h0m1-3h0m2 5h0m0 6h0m2 6h0m3-17h0m6 11h0m4 0h0m4 6h0m1-14h0m3 11h0m4-14h0m0 5h0m1 12h0m16 2h0m3-10h0m1 7h0m1-14h0m2 15h0m1-9h0m2 5h0m3-4h0m1 8h0m2-7h0m5-6h0m1 6h0m13 1h0m3-7h0m4 10h0m1-10h0m3 11h0m2-11h0m1 6h0m1 1h0m1-1h0m2 6h0m2 2h0m1-15h0m2 1h0m1 3h0m3 0h0m5-1h0m0 9h0m4-15h0m2 10h0m1 6h0m3-12h0m2 11h0m3-15h0m2 16h0m3-2h0m2-3h0m3 2h0m2-8h0m4 12h0m9-6h0m1-3h0m0 9h0m4-12h0m1 5h0m1-7h0m6 15h0m1-6h0m2 7h0m2-16h0m4 2h0m0 13h0m1-8h0m0 8h0m3 0h0m4-4h0m1-12h0m2 14h0m1-6h0m2-2h0m1 11h0m3-16h0m0 8h0m3 8h0m4-11h0m0 8h0m1-16h0m4 11h0m2-5h0m0 9h0m6-3h0m2 4h0m1 0h0m1-13h0m1 9h0m1-7h0m6 7h0m1-10h0m0 7h0m6-6h0m0 12h0m0-1h0m0 5h0m2-10h0m3-5h0m5 9h0m8 0h0m-1 17h0m-4-2h0m0 4h0m-1-11h0m-3 11h0m-3-4h0m0 11h0m-1-9h0m-16-3h0m-3 8h0m-1-3h0m-1-7h0m-3-4h0m0 18h0m-1-13h0m-1-4h0m0 12h0m-3-6h0m-1-3h0m-4 11h0m-1-7h0m-3 10h0m-2-17h0m-2 11h0m0 5h0m-4-4h0m-1-9h0m-3-2h0m0 10h0m-1 6h0m-3-14h0m-2 6h0m-1-9h0m-1 15h0m-2-10h0m-4 0h0m-1 5h0m-1 7h0m-4-8h0m-1-9h0m0 15h0m-4-11h0m-15 9h0m-1-13h0m0 14h0m0 3h0m-6-7h0m-5 2h0m-1-8h0m-3 5h0m-2-7h0m-1 13h0m-2-15h0m-2 8h0m0 8h0m-3-13h0m-1 6h0m-2-11h0m0 16h0m-3-10h0m-5-6h0m-2 13h0m-6 2h0m-1-13h0m-2 16h0m-1-18h0m-3 10h0m-3 7h0m-7-5h0m-1-2h0m-2 4h0m-2-6h0m-4-5h0m0 8h0m-3 6h0m-1-14h0m-1 0h0m-2 11h0m0 5h0m-1-11h0m-10 2h0m-2-6h0m-15 10h0m-1 3h0m-3-4h0m-4 4h0m-2-3h0m-5 4h0m-2-10h0m-3-7h0m-1 3h0m-2-4h0m-3 12h0m-1-5h0m-2 7h0m-1-9h0m-2 11h0m-7-15h0m-17 3h0m-3 0h0m-2 9h0m0 4h0m-3-12h0m0 10h0m-2-15h0m-1 1h0m0 18h0m-1-8h0m-5-7h0m0 13h0m-2-9h0m-2 8h0m-2 1h0m-1-14h0m-2 16h0m-1-13h0m0 4h0m-1 1h0m-2 4h0m-3-13h0m-2 4h0m0 7h0m-1-10h0m0 16h0m-1-6h0m-1-4h0m-4-8h0m-1 9h0m-3-8h0m0-1h0m0 6h0m-2 7h0m-5-8h0m-1 4h0m-3 7h0m-1-3h0m-4-11h0m-3-1h0m-2 2h0m-3 7h0m-2 2h0m-3-12h0m-1 13h0m-1-9h0m-1-4h0m-5 2h0m-7 4h0m0-3h0m-7 5h0m0 4h0m-1-1h0m-3-11h0m-6 0h0m0 10h0m-2 6h0m-5 0h0m-1-7h0m0 2h0m-2-11h0m-4 1h0m-12 11h0m-1-4h0m-6 1h0m-1-5h0m-1-2h0m-1 0h0m0 13h0m-4-3h0m-2-1h0m-2-10h0m-2 6h0m-2 2h0m-1-2h0m-7 3h0m-1 8h0m-5-6h0m-4-5h0m-2-7h0m-2 6h0m0 7h0m-6 2h0m-1-14h0m-1 6h0m0 4h0m-4 0h0m-2-10h0m-1 6h0m-1 10h0m-3-13h0m-1 2h0m0 6h0m-1 3h0m-4-16h0m-4 6h0m-4 0h0m-1 9h0m0 0h0m-1 2h0m-1-10h0m-2 3h0m0 5h0m-6-1h0m-6-1h0m-1 1h0m-6-7h0m-1 7h0m-2-2h0m-1-8h0m-1 15h0m-13-19h0m-2 7h0m-1 8h0m-3-9h0m-1 10h0m-3-6h0m0-2h0m0 11h0m-1-1h0m-3 12h0m3 7h0m3-1h0m12 2h0m6-5h0m1-2h0m0 4h0m4 2h0m2-17h0m3 5h0m0 11h0m3-9h0m2-7h0m0 13h0m3 5h0m8 0h0m2-7h0m2-3h0m1 8h0m5-14h0m5-2h0m1 18h0m2-13h0m7 1h0m0 12h0m1-1h0m2-16h0m1 7h0m6-1h0m1-3h0m5 1h0m0 2h0m0 5h0m12-11h0m1 1h0m1 15h0m3-3h0m1-5h0m1 7h0m4-14h0m0 10h0m1-7h0m4 13h0m3-14h0m3 7h0m0 5h0m1-10h0m2-4h0m0-2h0m1 19h0m3-4h0m1-7h0m3-7h0m0 14h0m4-7h0m3 8h0m2-11h0m2 4h0m0 10h0m2-12h0m8-2h0m2 0h0m4 11h0m2-16h0m2 11h0m1-4h0m1-4h0m3 16h0m3-14h0m0 8h0m2 1h0m8-5h0m1 6h0m6-2h0m4-9h0m2 8h0m2 4h0m1 3h0m3-4h0m3-15h0m3 19h0m1-18h0m1 14h0m1 4h0m2-16h0m4 12h0m1-9h0m0 10h0m4-12h0m1 0h0m6 11h0m2-4h0m3-4h0m0 8h0m6-6h0m2-6h0m1 16h0m3-1h0m7-14h0m9 4h0m1 5h0m0 6h0m2-12h0m1 7h0m3-2h0m3-4h0m1 7h0m2-1h0m5-5h0m4 2h0m1-8h0m2 6h0m8-5h0m3-4h0m3 2h0m1 12h0m3-13h0m1 3h0m4 1h0m1 8h0m2-9h0m0 5h0m4 8h0m3-12h0m2 5h0m2-1h0m0 8h0m9-1h0m1-3h0m4-13h0m2 16h0m5-1h0m5-15h0m1 16h0m3-2h0m1-11h0m1 0h0m0 8h0m1 0h0m2 8h0m4-17h0m1 4h0m4 6h0m0 3h0m1-4h0m1-9h0m2 2h0m0 5h0m3 5h0m8 3h0m8-17h0m5 3h0m2 11h0m10-11h0m1 2h0m11 1h0m4 10h0m2-8h0m5 5h0m1-8h0m4 2h0m0 8h0m5-6h0m1-5h0m2 12h0m4-11h0m0 7h0m1-9h0m1 13h0m3 3h0m0-2h0m3-8h0m1 5h0m1-6h0m1 8h0m1-13h0m3 12h0m1-3h0m2 3h0m1-5h0m1-7h0m0 8h0m3-10h0m0 7h0m2-3h0m6-1h0m2-3h0m5 8h0m1 7h0m2-16h0m0 17h0m5-4h0m3 2h0m6 1h0m4-16h0m2 12h0m3 4h0m5 1h0m5-14h0m2-2h0m2 5h0m2 4h0m-7 21h0m-3-4h0m-1 12h0m-1-19h0m0 9h0m-1-6h0m-1 13h0m-3-3h0m-2-9h0m0 13h0m-3-9h0m0 7h0m-10-1h0m-3-5h0m-3-9h0m0 14h0m-2-6h0m-3-6h0m-5 0h0m-4 5h0m-4-1h0m-2 2h0m0 5h0m-1 1h0m-1-13h0m0 14h0m-2 1h0m-1 1h0m-1-11h0m-1 7h0m-2 0h0m-1 1h0m0 5h0m-1-2h0m-10-11h0m-4-4h0m-1 10h0m-2-9h0m0 5h0m-2 2h0m-1-10h0m-1 14h0m-3-11h0m-1 12h0m-1-5h0m-5 3h0m-7-12h0m-10 12h0m-3-7h0m-4-6h0m0 8h0m0 6h0m-3-12h0m-3 16h0m-3-13h0m-1 8h0m-4 3h0m-7-8h0m-6-1h0m-7-2h0m-2 7h0m-1 6h0m-2-9h0m0 8h0m-5-6h0m0-3h0m-1 10h0m-3-16h0m-2 11h0m-1-9h0m-1 12h0m-1-10h0m0 10h0m-4-4h0m-4 4h0m-2-10h0m-1 2h0m-2 8h0m-1-13h0m0 6h0m-4 10h0m-1-6h0m-1-10h0m-1 15h0m-2-11h0m-2 3h0m0 5h0m-3-14h0m-3 8h0m-1-9h0m-1 12h0m0 7h0m-4-15h0m0 12h0m-2-10h0m-1 4h0m-6 2h0m0 4h0m-5-6h0m-3 6h0m-1-13h0m-7 6h0m-1 1h0m-3-8h0m-1-2h0m-1 6h0m-1 10h0m-4-13h0m-4 2h0m-1 5h0m-4-2h0m-9 3h0m-1-7h0m-3 11h0m-2-5h0m-3 2h0m-5-7h0m-1-2h0m0 16h0m-2-13h0m-2 4h0m-1 0h0m-4-8h0m-2 7h0m-1 2h0m-3-10h0m0 3h0m0 7h0m-4-2h0m-4-6h0m-4 10h0m-5-4h0m-10-5h0m-5 0h0m-4 8h0m-5 5h0m-1-14h0m0 1h0m-1 5h0m-3-6h0m-1 12h0m-2-6h0m-3-9h0m-3 4h0m-21 5h0m-7 7h0m-1-3h0m0 0h0m-4-1h0m0 7h0m-3-2h0m-4-10h0m-9-4h0m-3 6h0m-1 8h0m-4-2h0m-1-9h0m-4 13h0m-1-14h0m-1 4h0m-2 3h0m-2 1h0m-1-12h0m-3 4h0m-2 9h0m-3-3h0m-3-7h0m0 4h0m-1-6h0m0 14h0m-4-15h0m-2 8h0m-1 5h0m-5-1h0m-4 6h0m-1-17h0m0 6h0m-4-5h0m-3 0h0m-1 3h0m-4-1h0m-1 10h0m-1-2h0m-4 3h0m-1-6h0m-2-7h0m-3 2h0m-1 9h0m-2-2h0m-3 5h0m-1-15h0m-1 15h0m-3 2h0m-5-13h0m-3-6h0m-2 8h0m-2-4h0m-1-1h0m0 3h0m-4 9h0m-4-12h0m-3 12h0m-1-11h0m-5 4h0m-6 5h0m-8 0h0m-4-10h0m-4-2h0m-1 1h0m-2 15h0m-4-1h0m-13 21h0m5-5h0m3 3h0m1-15h0m3 3h0m1 8h0m5-9h0m0 6h0m10-3h0m0 13h0m3-8h0m0 3h0m4-9h0m0 14h0m1-16h0m0 12h0m1-7h0m2 8h0m2-12h0m1 5h0m0 3h0m0 7h0m2-15h0m3-3h0m1 0h0m0 17h0m1-2h0m5 4h0m6-3h0m14-13h0m3 6h0m2-5h0m1 15h0m1-8h0m2-11h0m0 18h0m4-14h0m1 3h0m0 9h0m2 0h0m4-3h0m1-10h0m1 6h0m0 7h0m1-16h0m6 13h0m1-5h0m0 2h0m0 9h0m10-17h0m3 1h0m2-3h0m1 19h0m3-1h0m3-5h0m6-13h0m5 0h0m1 3h0m7 0h0m4 7h0m2-9h0m12 17h0m2-7h0m2 0h0m1-6h0m4 7h0m2-10h0m0 5h0m2-6h0m1 1h0m2 2h0m1-4h0m1 0h0m1 3h0m3 3h0m2 11h0m16-1h0m3-15h0m1 4h0m1 5h0m1 5h0m1-2h0m2 3h0m3-16h0m1 15h0m3 4h0m1-7h0m5 1h0m4-2h0m1-7h0m0 13h0m1-16h0m2 0h0m1 9h0m3 8h0m1-15h0m1 8h0m1-2h0m6-8h0m1 4h0m0 12h0m7-2h0m3 2h0m2-15h0m2-2h0m0 12h0m4 3h0m1-10h0m3 7h0m6 0h0m1-4h0m3 6h0m1-10h0m1 8h0m3 6h0m4-11h0m1 10h0m1-17h0m0 13h0m5-13h0m3 13h0m6 1h0m5 4h0m11 0h0m1-12h0m8-4h0m1 15h0m5-6h0m0 7h0m1-14h0m2 1h0m0 7h0m5-3h0m2-8h0m1 18h0m3-15h0m2 4h0m3 4h0m0 7h0m1-17h0m3 14h0m2-16h0m1 3h0m8 15h0m12-14h0m0 7h0m0-2h0m2-8h0m2 3h0m0 3h0m1 8h0m4-4h0m4-4h0m1-4h0m4 6h0m0 7h0m0 3h0m2-6h0m2-4h0m3-4h0m0 13h0m1-4h0m2 2h0m3-4h0m3 6h0m1-9h0m6-2h0m2-7h0m8 2h0m10 7h0m5 2h0m2-8h0m3 15h0m2-12h0m0 10h0m1-5h0m2-4h0m0 3h0m1-10h0m5 16h0m1-3h0m2-13h0m2 17h0m0 2h0m4-9h0m9 5h0m0-1h0m1-4h0m0 3h0m3-6h0m3 0h0m3 0h0m2-4h0m3 15h0m3-15h0m0 7h0m6 5h0m3-5h0m1 1h0m1 5h0m3-6h0m1-5h0m2-4h0m4 6h0m9-3h0m9-1h0m2 14h0m1-1h0m2-13h0m1 4h0m0 9h0m2-4h0m2-8h0m1 3h0m150 11h0m9-2h0m7 2h0m39 0h0m15-1h0m11 0h0m49 20h0m-2 2h0m-1-2h0m-5-4h0m-2 5h0m-1-8h0m-17 1h0m-2 8h0m-6-9h0m0 8h0m0-1h0m-6-15h0m0 6h0m0 5h0m-5 4h0m-3-15h0m-1 7h0m-2 3h0m-1 2h0m-1 2h0m-1-15h0m-11 14h0m-4 2h0m-1-6h0m-4-8h0m0 7h0m-8-9h0m0 16h0m-1-10h0m-3 9h0m0 1h0m-3-12h0m-2 5h0m-1 8h0m-3 0h0m-1-11h0m-1 5h0m-3-3h0m-6 4h0m-1 4h0m-1-7h0m-11-4h0m-6 6h0m-14-6h0m-1 2h0m-7 10h0m-7-4h0m-4-7h0m-126-6h0m-7 4h0m0 4h0m0 5h0m-6-3h0m0-1h0m-1-3h0m-2 8h0m-2-13h0m-1 1h0m0 2h0m0 9h0m0 2h0m-2-7h0m-1-5h0m0 14h0m-5-14h0m-3 11h0m-8-15h0m0 5h0m-3 11h0m-7 2h0m-2 1h0m-7-4h0m-12-5h0m-1-7h0m-5 5h0m-2-7h0m0 5h0m-5-3h0m-4-1h0m-2 8h0m-3-2h0m0 6h0m-7-1h0m-4 3h0m-1-9h0m-10 8h0m-4-6h0m-2-2h0m-2 11h0m-4-3h0m0 0h0m-2 4h0m-1-17h0m0 4h0m-2-3h0m-1 16h0m-4-3h0m-2-1h0m-1-15h0m-1 7h0m-1 2h0m-4-2h0m0 12h0m-14-11h0m-3-6h0m-3 4h0m-1 6h0m-6-2h0m-1 7h0m-2-14h0m0 11h0m-3-14h0m-1 9h0m-2 9h0m-1-16h0m-3 4h0m-1 10h0m0-2h0m-3 1h0m-1-12h0m0 4h0m-5 9h0m-6-14h0m-2 5h0m0 10h0m-2-5h0m-5-7h0m-1 3h0m0 9h0m-1-14h0m-2 10h0m-1 2h0m-2-7h0m-1 10h0m-2-13h0m-2 8h0m-6 2h0m-3-13h0m-1 1h0m-8 6h0m-1-7h0m-4 2h0m-4-1h0m-1 7h0m-1 9h0m-2-17h0m0 12h0m-1-4h0m-1 8h0m-1-17h0m-4 6h0m-3-7h0m-1 8h0m-2 9h0m-3-11h0m0 4h0m-3-10h0m0 2h0m-1 15h0m-5-1h0m-2-7h0m-6-7h0m-1-1h0m-2 4h0m-6 4h0m-1-3h0m-5 4h0m-9 1h0m-10-11h0m-2 3h0m-3 12h0m-3-4h0m-1 5h0m-2-12h0m-1 1h0m-3-2h0m0 2h0m-3 14h0m-2-6h0m-1-8h0m-3-2h0m0 12h0m-2-8h0m-2 4h0m-1 5h0m-1-11h0m-3 1h0m-1-6h0m0 11h0m-3 5h0m-13-8h0m-2 5h0m-2-2h0m0 3h0m-1 0h0m-3 4h0m-3-11h0m-3 12h0m-1-7h0m-3-4h0m0 10h0m-2-2h0m-2-16h0m-4 8h0m-4-6h0m-1 7h0m0 7h0m-2-3h0m-1-13h0m-5 19h0m-1-13h0m0 5h0m-2-5h0m-1 2h0m-2 2h0m-4-1h0m-1-3h0m-1 2h0m-3 8h0m-1 2h0m-3-16h0m0 4h0m-1 11h0m-2-14h0m0 9h0m-3-4h0m-7 10h0m-2-14h0m0 5h0m-1-5h0m-1-4h0m-4 17h0m-4-11h0m-2 6h0m-3-5h0m0 7h0m-7-10h0m-5 14h0m-2-17h0m-2 2h0m0 16h0m-2-16h0m0-3h0m-3 0h0m-2 18h0m-3-9h0m0 7h0m-1-11h0m-2 10h0m-1-10h0m0 13h0m-2-12h0m-8-1h0m-2 1h0m0 10h0m-1-4h0m-2-10h0m-4 1h0m-3 0h0m-4 6h0m-5 7h0m-1-3h0m-8 3h0m-4 3h0m-1-6h0m-2-6h0m-1-1h0m-4-4h0m-7 27h0m1 8h0m2-17h0m3 11h0m1-11h0m1 4h0m2 12h0m4-11h0m1 3h0m1 9h0m2-9h0m3-5h0m0 12h0m3-14h0m0 13h0m0 2h0m4-3h0m2 4h0m1-17h0m0 7h0m0 12h0m6-15h0m1-2h0m1 14h0m2-2h0m3-4h0m2 2h0m2-5h0m3-3h0m1 14h0m6-8h0m1-6h0m2 1h0m3 13h0m4-11h0m4 7h0m2-11h0m1 16h0m1-12h0m3-3h0m0 10h0m4-14h0m0 8h0m1-2h0m0 9h0m2-13h0m3 8h0m0 5h0m2-12h0m2 5h0m5 8h0m4 3h0m8-3h0m1-8h0m2 2h0m2-4h0m3 10h0m0 3h0m5-16h0m0 8h0m1-2h0m1-5h0m9 12h0m1-16h0m0 7h0m1-5h0m5 13h0m3-15h0m4 13h0m0 5h0m3-5h0m3-11h0m2 7h0m0 9h0m1-7h0m1 6h0m2-16h0m0 12h0m4-1h0m0 4h0m1-15h0m0 4h0m5 10h0m1 2h0m6-17h0m2 14h0m6-6h0m0 2h0m6-7h0m7-3h0m0 7h0m0 8h0m2-14h0m5 4h0m4 2h0m1 10h0m2-12h0m1 6h0m4-2h0m1 3h0m3 3h0m1-14h0m0 6h0m2 1h0m2 4h0m2-10h0m6-1h0m8 11h0m1 2h0m3-9h0m1 13h0m2-7h0m1-4h0m2 4h0m1 3h0m1-4h0m2 5h0m2-1h0m1 1h0m3-11h0m1 0h0m1 3h0m1 4h0m4 6h0m5-2h0m3 0h0m3-5h0m2-4h0m0 6h0m2-9h0m1 14h0m1-14h0m0 9h0m2 6h0m2-13h0m0 4h0m1-5h0m0 1h0m4 6h0m1-10h0m0 18h0m1-10h0m14 4h0m2-10h0m4 7h0m0 6h0m2-3h0m1-13h0m0 9h0m0 10h0m4-6h0m1-6h0m5-1h0m4-6h0m0 12h0m1 3h0m2 1h0m2-12h0m0 15h0m6-5h0m3 5h0m4-12h0m1-5h0m3 9h0m2-8h0m3 1h0m3-3h0m4 6h0m1-5h0m7 5h0m1-4h0m0 5h0m4-7h0m2-1h0m3 8h0m3-6h0m4 10h0m6-12h0m1 9h0m3-6h0m15 4h0m2-4h0m5 3h0m0 4h0m2 1h0m4-10h0m0 2h0m4 6h0m2-4h0m3 3h0m0 4h0m3-10h0m4 8h0m0 6h0m1-16h0m0 9h0m2 6h0m1-13h0m0 6h0m4-1h0m2-5h0m0 11h0m2 4h0m4-9h0m6 9h0m7-16h0m1 15h0m6-3h0m0 1h0m3-1h0m1-4h0m5 9h0m2-3h0m1 0h0m1-6h0m1-6h0m0 16h0m1-8h0m5 5h0m1-9h0m0 5h0m1-6h0m3-1h0m4-4h0m0 1h0m5 15h0m3-5h0m4-2h0m1 8h0m3-7h0m2 3h0m1 2h0m27-3h0m16-4h0m89 5h0m15 0h0m24 2h0m3-14h0m1 17h0m17-8h0m6 7h0m2-4h0m1-12h0m0 9h0m2 0h0m2-6h0m2 7h0m3-4h0m0 9h0m0-1h0m6-11h0m3 13h0m2-6h0m2-11h0m0 7h0m1 8h0m20-16h0m2 2h0m4 2h0m3 8h0m4-12h0m1 3h0m1 14h0m1 1h0m1-7h0m1 4h0m2-9h0m1 10h0m0 3h0m2-19h0m0 9h0m3 4h0m4-5h0m3 6h0m2 0h0m3-3h0m6-2h0m0 8h0m1 1h0m4-7h0m2-8h0m2 7h0m0 7h0m1-1h0m7-15h0m2 17h0m2-12h0m8 11h0m1-7h0m4 3h0m4 4h0m24 20h0m-7-8h0m-1 3h0m-4 2h0m-2-9h0m-1 4h0m0 4h0m-2-13h0m0 9h0m-4-2h0m-1-5h0m0 8h0m0 2h0m-3-3h0m-1 9h0m-1-17h0m-3 6h0m-1 7h0m-3-8h0m-1 3h0m-3-7h0m-3 12h0m0-1h0m-2 4h0m-10-3h0m-1-14h0m-2 13h0m-5-9h0m-5 13h0m-2-10h0m0 11h0m-2-10h0m-7 4h0m0 2h0m-1-10h0m-1 8h0m-3-9h0m0 6h0m-5-2h0m0 9h0m-7-12h0m0 4h0m-4-7h0m0 6h0m-4-6h0m-1 7h0m-6 2h0m-2-1h0m-1-5h0m-3 0h0m-5 5h0m-2-7h0m-2 13h0m0 4h0m-2-12h0m-5 6h0m-1-6h0m-5-2h0m-1 5h0m-2-8h0m-4 2h0m-1 12h0m-1-12h0m-4 15h0m-2-9h0m-1-1h0m-4-6h0m-6 5h0m-1-1h0m-7 1h0m-12 2h0m-2-9h0m-14 11h0m-5-9h0m-12-3h0m-49 3h0m-1 1h0m-70 9h0m-4 3h0m-2-5h0m-2-1h0m-5-4h0m-1-4h0m0 10h0m-1-7h0m-2-2h0m0 5h0m0 7h0m-1-9h0m-1-4h0m0 9h0m0 4h0m-2-10h0m0 8h0m-1-12h0m-1 5h0m-1 0h0m0 8h0m-1-7h0m-1 2h0m-2 5h0m-1-6h0m-1-7h0m-1 0h0m0 15h0m0 1h0m-2-17h0m0 16h0m-7-13h0m-7 14h0m-2-13h0m-2-1h0m0 4h0m-8 1h0m-4 11h0m-4-17h0m-3 16h0m-4-17h0m0 12h0m-2-13h0m0 9h0m-1-4h0m-2-3h0m-1 12h0m-4-8h0m-6-3h0m-1 7h0m-3-7h0m-1 14h0m0 2h0m-2-2h0m-1-8h0m-2-4h0m-4 12h0m-1-13h0m0 4h0m0 5h0m-2-13h0m-2 12h0m-4-4h0m-2 11h0m-6 0h0m-3-15h0m-7 8h0m-1-11h0m0 6h0m-3 6h0m-3-1h0m-2-9h0m-1-1h0m0 7h0m-5 6h0m-1-6h0m-7 1h0m-5-3h0m-3 6h0m-7-10h0m-6-1h0m-3 7h0m0 2h0m0 3h0m-2-7h0m0 12h0m-1-19h0m-4 14h0m-3-8h0m0 11h0m-3-12h0m-1 9h0m-3-9h0m-4 2h0m-3-4h0m0 3h0m0 7h0m-4-12h0m0 6h0m-3-4h0m-2 9h0m-5-7h0m-4 11h0m-3-10h0m0 9h0m-2 4h0m-5-3h0m-1-11h0m-1-2h0m-5 14h0m-2-17h0m-1 9h0m-6-3h0m0 5h0m-1-8h0m-3 6h0m-1 4h0m-1-13h0m-3 0h0m-7 1h0m-1 9h0m-2 9h0m-4-16h0m-5 12h0m-3-14h0m-7 15h0m-3-11h0m-6-1h0m0 13h0m-1-4h0m-5-9h0m-1 14h0m-4-15h0m-1-1h0m-2 17h0m-2-11h0m-3 10h0m-2-13h0m-1 1h0m0 6h0m-3-2h0m-1 7h0m-5-4h0m-2 5h0m-2-5h0m-3-13h0m-2 1h0m0 16h0m-2-7h0m-3-1h0m-1 6h0m-6-5h0m0 6h0m-1-10h0m-4-2h0m-14 0h0m-3 11h0m0 3h0m-1-18h0m0 3h0m-1 7h0m-7-4h0m0 1h0m-1 10h0m-3-2h0m0 4h0m-1-9h0m-1-8h0m-4 3h0m-1 5h0m-1 2h0m-1 7h0m-1-15h0m0 14h0m-5-18h0m0 12h0m-2-4h0m-1 8h0m-1-12h0m-4 2h0m0 4h0m-5-10h0m0 11h0m-3-5h0m-1 0h0m-2-6h0m-1 15h0m-1 0h0m-1-10h0m-5 2h0m-3-6h0m-2 16h0m-6-14h0m-4 10h0m-2-9h0m0 5h0m0 7h0m-2 1h0m-2-2h0m-1-8h0m-2-4h0m0 4h0m-3-7h0m-4 18h0m-1-16h0m-6 14h0m-1-16h0m-4 8h0m-1-7h0m0 18h0m-2-2h0m-4-8h0m-1 6h0m-1-11h0m0 5h0m-3-5h0m-1 13h0m-4-5h0m0 7h0m-2-10h0m-1 0h0m0 10h0m-1-1h0m-1-13h0m-3 4h0m0 5h0m-7-8h0m-2 11h0m-1-8h0m-2-9h0m0 3h0m-1 16h0m-4-6h0m-1-1h0m0 6h0m-3-5h0m-7 4h0m-7-7h0m0 8h0m0-1h0m-3 0h0m-3-6h0m-1 6h0m-1 1h0m-1-12h0m-5-2h0m0 15h0m-4-5h0m-3 4h0m-4-5h0m-1 2h0m0 4h0m-2-17h0m-2 8h0m-4 23h0m3 0h0m8-9h0m10 13h0m2-2h0m2 4h0m3-5h0m1-8h0m1 3h0m5-2h0m0 6h0m3-9h0m0 4h0m6 0h0m1-6h0m2-2h0m2 11h0m2-1h0m1 9h0m3-7h0m3 7h0m5-11h0m1 7h0m2-1h0m9-1h0m3-5h0m2-6h0m2 0h0m2 0h0m1 6h0m1-6h0m1 8h0m2 9h0m5-7h0m1-2h0m5-5h0m1-3h0m0 17h0m1-10h0m3 4h0m2-7h0m0 4h0m0 6h0m3-15h0m12 8h0m5-9h0m3 6h0m1-2h0m0 4h0m3 7h0m1-8h0m4-5h0m0 10h0m1 1h0m1 6h0m1-7h0m4-4h0m1 4h0m0 7h0m1-17h0m0 4h0m7 11h0m2-9h0m0 7h0m2-5h0m4 4h0m2-12h0m2 7h0m1 4h0m5 1h0m3 5h0m4-11h0m2-7h0m2 13h0m1-13h0m5 11h0m6-9h0m1-3h0m0 16h0m2-2h0m1 5h0m3-8h0m2 6h0m2-2h0m11-15h0m10 3h0m0 10h0m3-3h0m1 3h0m4-8h0m0 5h0m3 4h0m1-12h0m0 11h0m2 2h0m13-10h0m1 7h0m1-3h0m4 6h0m3-12h0m2 1h0m1 7h0m1 3h0m6-10h0m0 1h0m3 8h0m3-13h0m1 7h0m2 6h0m3-12h0m2 10h0m1-4h0m1 4h0m4-5h0m1-4h0m0 11h0m1 5h0m4-5h0m9-11h0m8 10h0m2-5h0m3-7h0m1 6h0m6-4h0m0 4h0m3 7h0m3 3h0m5-3h0m3-4h0m0 8h0m2 2h0m2-13h0m2 5h0m1-7h0m0 12h0m3 3h0m1-2h0m1-6h0m2-11h0m1 11h0m5-7h0m1 2h0m0 9h0m8-10h0m1 7h0m0 5h0m2-2h0m1-13h0m3 9h0m2-5h0m2-2h0m1 3h0m9 7h0m9 4h0m3-6h0m1-11h0m4 11h0m1 5h0m3-2h0m4-14h0m3 1h0m2 14h0m2-15h0m10-1h0m5 6h0m0 12h0m1-8h0m3-3h0m3 7h0m2-6h0m0 11h0m1-4h0m1-12h0m2 8h0m2-8h0m0 3h0m2-5h0m3 8h0m3 2h0m3-8h0m2 9h0m4-6h0m5 1h0m4-6h0m1 1h0m0 8h0m8 0h0m4-2h0m5 4h0m5-4h0m2-8h0m1 13h0m1-13h0m0 17h0m2-13h0m2-2h0m0 16h0m1-3h0m0 0h0m1-13h0m0 13h0m1-10h0m1 13h0m1-1h0m3-7h0m1 6h0m2-14h0m1 9h0m1-2h0m7-6h0m0 9h0m4 7h0m1-17h0m0 11h0m4-3h0m2 2h0m0 6h0m1-13h0m2-1h0m2 12h0m5-3h0m1-11h0m2 12h0m1 0h0m5-7h0m3-2h0m0 9h0m5 3h0m0-1h0m1 0h0m1 2h0m71-17h0m65 3h0m8 1h0m10 9h0m10-3h0m2 7h0m1-15h0m1 13h0m1-4h0m2-6h0m4 9h0m1-8h0m0 6h0m3 1h0m1-7h0m3 10h0m1-16h0m2 9h0m1 8h0m1-15h0m5 3h0m0 9h0m2-9h0m6 0h0m1 3h0m5-4h0m2 6h0m1 0h0m0-1h0m5 6h0m1-9h0m3 2h0m1 5h0m4 2h0m3-12h0m13 13h0m4-2h0m4 0h0m1-13h0m0 4h0m1 13h0m2-13h0m1 8h0m2-9h0m7-5h0m0 19h0m2-5h0m4-13h0m0 3h0m8 7h0m2 0h0m8-6h0m0 10h0m1-6h0m4-5h0m0 2h0m1 8h0m1-1h0m5 1h0m3-13h0m4 6h0m0 9h0m3-8h0m4 10h0m3-14h0m2-3h0m3 3h0m7 2h0m9 27h0m-1-3h0m-1-6h0m-2 4h0m-2 8h0m-3-14h0m-2 7h0m0 7h0m-1-12h0m-5 14h0m-1-14h0m-3 5h0m-1 9h0m-1-6h0m-2-8h0m-4-1h0m0 8h0m0 8h0m-4-12h0m-5-6h0m0 18h0m-1-16h0m-1 7h0m-3 6h0m-1-13h0m-2 13h0m-2-7h0m-3 0h0m-3 7h0m-7-10h0m-5-1h0m-3-4h0m-1 10h0m-1-1h0m-2 5h0m-3-7h0m-1 3h0m-2-8h0m-10 3h0m-1 5h0m-3-9h0m-3 5h0m-1 2h0m0 3h0m-4 7h0m-2-10h0m-1-8h0m0 10h0m0 2h0m-2-8h0m-1 5h0m-3-4h0m-5 7h0m-3-11h0m-9-1h0m-8 1h0m-3 4h0m-2 13h0m-2-16h0m0 7h0m-4-9h0m-6-1h0m-1 0h0m-5 8h0m0-2h0m-1-5h0m-4 6h0m0 12h0m-1-19h0m-3 7h0m-3 8h0m-1-12h0m-1 7h0m-2-5h0m-13-1h0m-1 11h0m-7-14h0m-4 2h0m-4 7h0m-8-8h0m0 4h0m-11 4h0m-10-5h0m-4 1h0m-1-2h0m-38 6h0m-54 2h0m0 7h0m-1-7h0m-2-11h0m0 12h0m-2-4h0m0 4h0m-1-8h0m-1-5h0m-1 12h0m-1-6h0m-3-6h0m0 10h0m0 8h0m-2-16h0m0 4h0m0-1h0m0 4h0m-1 1h0m-3-4h0m-1 9h0m-3-13h0m-5 15h0m-1-7h0m-9 6h0m-8-14h0m-6 9h0m-10-11h0m0 0h0m-3 8h0m-10-6h0m-2 4h0m-13 13h0m-3-3h0m-1-3h0m-4-5h0m-2-2h0m-1 12h0m-2-8h0m-2 7h0m-2-16h0m-2 10h0m-1-6h0m-1 0h0m-1 14h0m-3-4h0m-2-5h0m-1 2h0m-2 7h0m-2-7h0m-2 2h0m-2-1h0m-2-7h0m-5-5h0m-4 0h0m-6 4h0m-5 0h0m-2 0h0m0 4h0m-4 6h0m0 3h0m-1-10h0m-2 6h0m-1 4h0m-1-9h0m-1-7h0m-1 14h0m-3-9h0m0 2h0m-1 0h0m-3 0h0m-4-8h0m-1 5h0m-5 2h0m0 7h0m-2-15h0m-1 4h0m-3 10h0m-1-1h0m-1-6h0m-2-4h0m-4 8h0m-5-2h0m-3-5h0m-4-4h0m-1 16h0m-1-11h0m-2 9h0m-1-13h0m-1 7h0m-6-5h0m0-2h0m-1 6h0m-3-2h0m-1 11h0m-1-5h0m-1-8h0m-1-2h0m0 13h0m0 5h0m-11-16h0m-1 1h0m-5 7h0m-1-8h0m-4 16h0m-1-16h0m-1 5h0m-4-5h0m0 12h0m-2-3h0m-1-12h0m-1 18h0m-4-6h0m-4 2h0m-8 2h0m-3 3h0m-3-2h0m-8-11h0m-4-2h0m0 7h0m0 5h0m-5 0h0m-1-4h0m-2 3h0m-6-15h0m-10 4h0m-1 2h0m-6 0h0m-2 0h0m0 6h0m-4 7h0m-7-4h0m-4 4h0m-1-17h0m-2 10h0m-5-2h0m-1 7h0m-2-12h0m-2 10h0m0-1h0m-1 5h0m-2 0h0m-2-10h0m-5 4h0m-1 2h0m-11-4h0m-1-4h0m-12 12h0m-4-13h0m0 8h0m-5 2h0m-1-1h0m-2-12h0m-6-2h0m-2 8h0m-3-4h0m0 8h0m-5-13h0m-1 7h0m0 9h0m-1 1h0m-3-16h0m-1 8h0m-4 10h0m-1-16h0m-2 1h0m0 3h0m0 6h0m-2 4h0m-4-4h0m-1-6h0m-1-3h0m-20 13h0m-1-14h0m-3 10h0m-1-13h0m0 18h0m-2-8h0m-3-1h0m0 7h0m-5-4h0m-2-12h0m0 9h0m-4-6h0m0 8h0m-5-3h0m-7-7h0m-2-1h0m-7 14h0m-4 0h0m-2-12h0m0 9h0m-2 0h0m0 4h0m-2-12h0m-4 9h0m-1-6h0m-3-2h0m0 13h0m0 2h0m-4-12h0m0 11h0m-5-11h0m-2 4h0m-3 5h0m0-4h0m-1-12h0m-1 8h0m-4-5h0m0 7h0m0 9h0m-2-9h0m-3 5h0m-1-3h0m-8-12h0m-1 3h0m-4 6h0m0 9h0m-1-13h0m-1 4h0m-5 1h0m-1-9h0m0 6h0m0 3h0m-1-7h0m-1 16h0m-1-5h0m-7-5h0m-1 2h0m0 5h0m-1-9h0m-2-7h0m-3 3h0m0-2h0m-1 16h0m0-1h0m4 5h0m5 7h0m1 6h0m1-11h0m4 12h0m2-7h0m2 6h0m3-10h0m2 5h0m1 9h0m2-3h0m3-13h0m2 5h0m2 4h0m7 6h0m5-4h0m2-8h0m3 2h0m1 9h0m2-3h0m0 5h0m1-16h0m1-2h0m1 9h0m1 10h0m3-2h0m1-4h0m1-9h0m1 4h0m8 2h0m1-9h0m0 5h0m1 4h0m5-6h0m2 11h0m1-5h0m4 6h0m11 1h0m1-17h0m8 5h0m0 10h0m4 1h0m4-5h0m5-7h0m0 11h0m4-6h0m3-6h0m2-2h0m7 7h0m1 8h0m1-15h0m4 18h0m1-19h0m3 14h0m3-10h0m0 5h0m0 4h0m1-9h0m2 7h0m3-2h0m3-8h0m2 4h0m16-1h0m10 12h0m5 0h0m4-2h0m6 5h0m1-10h0m1 0h0m6-3h0m3 12h0m1-6h0m4-12h0m0 8h0m1 6h0m3 0h0m1-13h0m2 16h0m2-8h0m2-4h0m0 8h0m3-6h0m1 7h0m4 0h0m2-8h0m1-1h0m0 7h0m0 5h0m4-8h0m0 9h0m4-3h0m1-4h0m2-11h0m5 18h0m1-17h0m3 0h0m12 8h0m1 9h0m4-3h0m2 4h0m3-4h0m1-6h0m0 2h0m1-6h0m1-1h0m6 3h0m1 6h0m1-11h0m10 8h0m0 9h0m1-14h0m5 7h0m2-5h0m1 11h0m1-11h0m1-7h0m3 19h0m5-18h0m2 2h0m3 3h0m1 2h0m3-5h0m5-2h0m1 5h0m2-4h0m1 10h0m2-6h0m9 0h0m0 13h0m1-6h0m3-13h0m0 4h0m7 5h0m1 1h0m0 3h0m3 4h0m5-3h0m4-3h0m2-7h0m0 6h0m6 8h0m1-7h0m2-6h0m0 1h0m1-6h0m2 2h0m4 8h0m1 8h0m6-7h0m2 6h0m1-12h0m0 11h0m5-8h0m3-4h0m15-4h0m2 16h0m9 1h0m4 2h0m4-16h0m4 3h0m4-6h0m0 18h0m14-9h0m0 9h0m7-15h0m1 7h0m3-4h0m1 2h0m1-4h0m5 8h0m9-7h0m2 14h0m4-1h0m25 1h0m2-9h0m6-8h0m0 3h0m2 3h0m0 7h0m1-5h0m1-8h0m1 13h0m2-8h0m0-1h0m2 3h0m0-1h0m0 6h0m3-9h0m0-1h0m2 9h0m1 3h0m0 2h0m1-9h0m8-2h0m1 1h0m0 7h0m2-13h0m0 17h0m2-11h0m0 8h0m2-10h0m0 1h0m0 6h0m2-8h0m2-1h0m3 11h0m3-13h0m3 8h0m2-2h0m0 1h0m7 3h0m4-1h0m0 2h0m1 2h0m1-3h0m1 4h0m0 2h0m0-1h0m35-1h0m74 0h0m25-15h0m15 1h0m0 6h0m3 7h0m3-1h0m1-8h0m2 6h0m1-6h0m0 3h0m5 4h0m1-13h0m2 2h0m2 15h0m2-5h0m3-4h0m5-5h0m0 5h0m3 0h0m0 7h0m1-4h0m3 4h0m11 0h0m0 4h0m6-11h0m4-2h0m0 11h0m7-1h0m5-10h0m0 7h0m3 6h0m3-12h0m1 3h0m1 7h0m1 0h0m5 2h0m7-17h0m2 13h0m2-12h0m2 3h0m1 8h0m1-6h0m4-7h0m0 17h0m3-12h0m1 4h0m2 6h0m3-4h0m8-4h0m1-2h0m2 2h0m0 7h0m4-14h0m0 4h0m11 8h0m2 6h0m3-15h0m1 7h0m5-1h0m1-5h0m2-4h0m1 8h0m2 5h0m2-13h0m1 4h0m3 1h0m4 8h0m1 4h0m2-8h0m0 9h0m1-4h0m19 24h0m-11-5h0m-4-4h0m-1 9h0m-2-7h0m-1-8h0m-1 0h0m-1 14h0m-3-4h0m-1-13h0m-3 8h0m-4-4h0m0 9h0m-1-7h0m-8 5h0m-1 7h0m-2-12h0m-3 4h0m0 7h0m-1-4h0m0 2h0m-3-9h0m-5-3h0m0 8h0m0 5h0m-6-15h0m-1 9h0m-2-1h0m-2 0h0m0 7h0m-2-14h0m-1-2h0m-3-1h0m-1 10h0m-1-9h0m-1 9h0m-2 9h0m-5-9h0m-5-6h0m-2-1h0m-8-1h0m0 11h0m-6-9h0m0 1h0m-4 0h0m-3 0h0m0 11h0m-2-16h0m-2 19h0m-2-7h0m-1-10h0m-3 7h0m-3-8h0m-2 18h0m-1-11h0m-2 3h0m-5-9h0m-1 13h0m-2-7h0m-1 3h0m0 7h0m-16-3h0m-1-1h0m-11-7h0m-4 1h0m-4 7h0m-2-5h0m0 9h0m-4-14h0m-1 7h0m-19-8h0m-26-4h0m-65 12h0m-46-9h0m-3 12h0m-2-15h0m-8 18h0m-4-11h0m-3 7h0m-2 2h0m0 0h0m-2-11h0m-1 5h0m-3-1h0m-4 2h0m-2-10h0m-4 2h0m0 15h0m-6-9h0m-5-7h0m0 13h0m0 3h0m-1-9h0m0 0h0m-4 2h0m-1 7h0m-5 0h0m-3 1h0m-4-8h0m-1 5h0m-4-12h0m-6 7h0m-2-2h0m-15-4h0m-23 12h0m-18-17h0m-5 6h0m-7-3h0m-3 3h0m-2-6h0m-11 5h0m-13 1h0m-3 9h0m-4-7h0m-1 6h0m-1-14h0m-1 1h0m0 9h0m-1-3h0m-1 10h0m-2-9h0m-1 8h0m-3-13h0m-2 0h0m-4-1h0m0-2h0m-5 2h0m-2 16h0m-5-18h0m-3 18h0m-4-2h0m-4 2h0m-8 0h0m-1-2h0m-3 1h0m-1-15h0m0 5h0m0 3h0m-3-4h0m-5 2h0m-2 6h0m-2-13h0m-2 9h0m-2-4h0m-4-2h0m-7 2h0m-10 8h0m-3-12h0m-2 11h0m-2 2h0m-1-12h0m-3 2h0m0 14h0m0-2h0m-4-11h0m-3 12h0m-2-16h0m0 6h0m-4 10h0m-10-11h0m-3 10h0m-1-7h0m-4-4h0m-1 10h0m-4-6h0m0 8h0m-1-17h0m-2 12h0m-1-10h0m-3-1h0m0 17h0m-2-10h0m0 6h0m-4-13h0m0 10h0m-3-8h0m-11 3h0m-9-1h0m-1-5h0m-1 17h0m-2-8h0m-3 7h0m-1-11h0m-2 7h0m-2-5h0m0 10h0m-1-12h0m-4 4h0m-1 5h0m-1-9h0m-1-5h0m0 9h0m-2-2h0m0 10h0m-1-16h0m-5-2h0m-8 16h0m-4-10h0m-1-6h0m-4 10h0m-13-4h0m-4 5h0m-1-11h0m0 13h0m-2-11h0m-1 5h0m-2 3h0m-2 1h0m0 5h0m-2 1h0m-6-4h0m0 1h0m-4-1h0m-5-12h0m-2 6h0m-1 6h0m-4-7h0m-5 13h0m-1-18h0m-5 12h0m-3 4h0m-3-5h0m-2 2h0m-7 1h0m-2-3h0m-5-9h0m0 4h0m-5 7h0m-2 4h0m-2-12h0m0 2h0m-1 3h0m-3-2h0m-1 7h0m-2-5h0m-2 7h0m-1-17h0m-8 1h0m-3 4h0m-3-3h0m-2 3h0m-7 0h0m-1 13h0m-3 0h0m0-2h0m-3-5h0m-1 4h0m-1-4h0m-2 4h0m-5 3h0m-3-18h0m-2 9h0m-1 0h0m-1-3h0m-1 4h0m-1-9h0m-3 3h0m-2-5h0m-1 18h0m-1-9h0m0 5h0m-1-14h0m-1 4h0m-1-4h0m-1 11h0m-5-4h0m-4 11h0m-4-5h0m-3-3h0m-3 5h0m-1-14h0m0 13h0m6 9h0m2 8h0m3 7h0m4-13h0m2-3h0m3 17h0m6-9h0m3-10h0m3 9h0m1 6h0m3-6h0m3-1h0m1-6h0m0 3h0m4 2h0m0 9h0m2-16h0m0 16h0m1-12h0m1 1h0m1 6h0m4-9h0m5 7h0m0 1h0m1 8h0m5-10h0m2 6h0m2-4h0m1-5h0m2 9h0m1-6h0m3 1h0m2-9h0m0 18h0m9-6h0m1-12h0m1 4h0m3 7h0m0 5h0m7-6h0m0 5h0m3-7h0m1 9h0m1-17h0m1 7h0m2 8h0m1-3h0m1 6h0m2-16h0m2 16h0m2-11h0m0 5h0m3 4h0m1-11h0m0 6h0m3 2h0m1-9h0m1 10h0m2-4h0m0 3h0m5 3h0m1 2h0m1-13h0m3 7h0m1 0h0m3-12h0m0 2h0m4 0h0m13 11h0m1-8h0m2-1h0m0-2h0m6 16h0m2-10h0m0 9h0m8-14h0m1 16h0m5-14h0m1 13h0m1-17h0m0 18h0m3-10h0m8 8h0m5-13h0m2 6h0m4-10h0m0 12h0m3-5h0m0-1h0m0 11h0m2-12h0m1 14h0m5-10h0m1-8h0m0 8h0m5-1h0m2-3h0m3 2h0m0 9h0m2-4h0m8-12h0m2 18h0m9 0h0m4-5h0m1-9h0m0 14h0m4-11h0m1-2h0m4 2h0m3-5h0m1 14h0m1-10h0m2 6h0m3-7h0m1-4h0m1 17h0m2-8h0m0 3h0m3-9h0m5 7h0m2-2h0m0 9h0m7 0h0m1-1h0m0 1h0m1-14h0m6 7h0m1-11h0m3 9h0m1-6h0m2 5h0m2-7h0m0 14h0m3-11h0m2-2h0m3 11h0m0 3h0m1-12h0m2-2h0m5 13h0m21-8h0m1-4h0m2 3h0m3 6h0m3-9h0m1 5h0m3 2h0m4-10h0m1 0h0m3 19h0m11-14h0m4-3h0m0 9h0m2-5h0m9-6h0m0 6h0m0 5h0m2 5h0m3-16h0m12 11h0m1 6h0m3-4h0m7-3h0m42 8h0m2-5h0m22-12h0m22 12h0m6-5h0m2 3h0m1 5h0m2-4h0m2-9h0m1 1h0m2-2h0m2 11h0m2-1h0m1-12h0m1 12h0m2 6h0m1-1h0m1-12h0m1 5h0m7 5h0m4-2h0m1 3h0m1-12h0m6 0h0m0-3h0m5 14h0m9 3h0m0 0h0m2-17h0m1 14h0m1-9h0m1 4h0m0 2h0m2-1h0m1 6h0m1-5h0m1-6h0m1 2h0m3-5h0m0 11h0m1-14h0m0 14h0m1 4h0m7-14h0m0 7h0m2 4h0m2-4h0m0-8h0m2 8h0m59-8h0m19 0h0m27 15h0m1-10h0m6-1h0m45 2h0m0 3h0m3-12h0m1 5h0m3 2h0m1-2h0m4 0h0m1-2h0m3 10h0m3 0h0m4 4h0m2-12h0m0 3h0m4 2h0m0 6h0m1-12h0m3 15h0m1-14h0m1 7h0m4-7h0m3 8h0m2-13h0m0 6h0m2 11h0m1-5h0m4-7h0m0 13h0m2-12h0m6-1h0m0 11h0m2 1h0m1-13h0m1 4h0m5 4h0m1 7h0m2-6h0m1 1h0m4-5h0m1 9h0m1-8h0m1-3h0m3-1h0m0 3h0m15-2h0m1 7h0m0 5h0m2-1h0m7-7h0m4-9h0m4 5h0m2 0h0m3 9h0m0 1h0m3-14h0m0 6h0m3 5h0m8-2h0m0 6h0m1-1h0m6-3h0m1-11h0m4-3h0m9 8h0m1-7h0m1 1h0m8-1h0m1 10h0m0 8h0m1-16h0m2 7h0m8 7h0m-8 17h0m-2-6h0m-2-4h0m0 5h0m-2-9h0m-3 12h0m-1-9h0m-2 9h0m-1-7h0m-2-4h0m-3 5h0m-1-1h0m0 9h0m-2-4h0m0 4h0m-1-5h0m0 7h0m-5-2h0m-1-4h0m-4 6h0m-7 3h0m-3-14h0m-1-3h0m-1 12h0m-4-7h0m0-2h0m-2 9h0m-1 5h0m-2-12h0m-8 4h0m-4 8h0m-2-5h0m-4-11h0m-1 6h0m-1 5h0m-1-6h0m-1-6h0m0 12h0m-7-11h0m-1 3h0m-4-6h0m-2 7h0m-1 4h0m-4-6h0m-7 5h0m-1-8h0m-11 0h0m-27 2h0m-9 10h0m-46-12h0m-130 10h0m-2-10h0m-2 4h0m-3-6h0m0 19h0m-1-11h0m-21-4h0m-7 12h0m-3-11h0m-6 10h0m0 4h0m-3-1h0m-2-9h0m-4-5h0m-2 5h0m0 5h0m-1-3h0m-2 6h0m-3-4h0m-5-10h0m-27 13h0m-1-6h0m-2 8h0m-8-5h0m-2 0h0m-4-4h0m-8 5h0m-5-8h0m-12 9h0m-3-1h0m-1 0h0m-4-3h0m-21 7h0m-26-13h0m-3-3h0m-2 12h0m-11-2h0m-9-6h0m-3 1h0m-3 2h0m-7-3h0m-26 13h0m-5-18h0m0 4h0m-1 6h0m-1 5h0m-5-16h0m0 5h0m-3 1h0m0 9h0m0 0h0m-3-14h0m-3 18h0m-1-8h0m-1-9h0m0 3h0m-4 7h0m-2-12h0m-4 19h0m-1-9h0m-4-6h0m0 10h0m-8-7h0m-3 1h0m0 1h0m0 7h0m-5-6h0m-4-9h0m-5 4h0m-1 2h0m-1-4h0m0 10h0m-3-12h0m-1 1h0m-3 6h0m-1 7h0m-4-5h0m-5 8h0m-1 0h0m-4-16h0m-1 8h0m-5-4h0m-1 2h0m-2-1h0m-5-7h0m0 14h0m-1-11h0m0 7h0m-3 4h0m-1-9h0m-4 4h0m0 7h0m-1-10h0m0 12h0m-3 0h0m-1-5h0m-3-7h0m-6-6h0m-1 7h0m-6-4h0m-6 0h0m-2 6h0m-2-1h0m0 5h0m-1 1h0m-3 5h0m-2-3h0m-3-12h0m-3 15h0m-2-10h0m-2 1h0m-2-3h0m-6 4h0m-2-8h0m-1 4h0m-2 9h0m-2-11h0m-1 6h0m-7 5h0m-3-6h0m-6 2h0m-7 1h0m-2-8h0m-2 5h0m-1 5h0m-5-7h0m-3 7h0m0 3h0m-1-14h0m0-1h0m-2 6h0m0 10h0m-3-3h0m-4-9h0m-1-4h0m-3-3h0m-3 8h0m-4-6h0m-2 5h0m-4-1h0m-2 5h0m-3 1h0m-5 0h0m0 6h0m-4-15h0m0 9h0m-1-1h0m-4 7h0m-1-6h0m-1 3h0m-3-12h0m0 5h0m-2-2h0m-2 6h0m-1-10h0m-5 11h0m-1-13h0m-3 19h0m-1-12h0m-3 6h0m-3-1h0m0 7h0m-10-1h0m-11-10h0m-1-2h0m0 13h0m-1-19h0m-3 11h0m0 4h0m-1-15h0m0 9h0m-3-6h0m-4 9h0m-1 6h0m-5-1h0m-1-6h0m-1-10h0m3 19h0m4 2h0m0 5h0m12-2h0m1-3h0m1 9h0m3 1h0m4-3h0m4 5h0m3-8h0m4 7h0m3-13h0m3 2h0m0 17h0m10-16h0m0 10h0m1 3h0m7-9h0m2-3h0m0 7h0m2-9h0m4 4h0m0 6h0m1-10h0m1 0h0m3 1h0m3 5h0m2 6h0m4 2h0m0-3h0m1 0h0m0 1h0m1-9h0m0 4h0m0 6h0m2 4h0m1-18h0m1 11h0m2-4h0m1-3h0m2 6h0m3-8h0m1 14h0m3 2h0m2-18h0m1 9h0m7 0h0m2-4h0m3-3h0m2 2h0m2 3h0m2 6h0m4-4h0m1-8h0m1-2h0m1 10h0m2 7h0m4-13h0m0 7h0m1-7h0m0 14h0m5-1h0m1-15h0m14 6h0m0 11h0m3-18h0m0 11h0m0 5h0m2-17h0m0 7h0m1-1h0m0 7h0m5-9h0m1 10h0m3-6h0m3-8h0m0 4h0m2 15h0m2-15h0m4 11h0m0-2h0m6-5h0m2-4h0m10-4h0m2 17h0m3-15h0m17 8h0m9-4h0m3-5h0m6 2h0m3 13h0m2-10h0m6 7h0m5 2h0m1-13h0m2 11h0m5 2h0m1-13h0m0 10h0m5-3h0m3-9h0m7 18h0m4 0h0m2-18h0m3 1h0m2 4h0m1 6h0m3 7h0m2-11h0m0 12h0m1-16h0m2 9h0m2-11h0m2 5h0m0 4h0m2-5h0m0 11h0m1 0h0m4-16h0m6 8h0m1 9h0m6-5h0m2 1h0m0 1h0m6-5h0m3-5h0m0 15h0m9-17h0m3 0h0m0 6h0m1 3h0m0 6h0m2-16h0m1 15h0m4 1h0m1-14h0m2 8h0m14-9h0m10 1h0m18 4h0m1 3h0m0 3h0m10 6h0m12-15h0m10-1h0m50 6h0m1 4h0m3-2h0m2-7h0m4 10h0m1 3h0m2-11h0m5 7h0m1-1h0m4 3h0m2-10h0m0 3h0m1 5h0m2-3h0m22 5h0m6-2h0m3-6h0m1 9h0m2 0h0m1-4h0m9 6h0m3-4h0m3-6h0m6 11h0m5-5h0m0-2h0m2-8h0m7 7h0m3 6h0m97-9h0m5-7h0m4 11h0m89-7h0m73-5h0m9 0h0m-270 20h0m0 7h0m0 11h0m-2-17h0m0 14h0m-1-13h0m-1 3h0m-2-2h0m0 8h0m-1 3h0m-1 1h0m-1-12h0m0 2h0m-4 8h0m-3-7h0m-5 0h0m-3 0h0m-10-2h0m0-3h0m0 5h0m-3-2h0m0 1h0m0 8h0m-1 2h0m-1-1h0m0 4h0m-1-10h0m0 1h0m0 0h0m-1 4h0m0 3h0m-1-5h0m-1 8h0m-1-14h0m0 13h0m-2 0h0m-1-10h0m-2-5h0m-2 14h0m-13-8h0m-7 8h0m-6-12h0m-10 10h0m-2-14h0m-1 7h0m-1 2h0m-3-4h0m-1-6h0m-8 2h0m-6 17h0m-28-2h0m-32-1h0m-1 2h0m-4-8h0m-29 7h0m-19 0h0m-6-12h0m-1 11h0m-1-10h0m-22 12h0m-3-18h0m-1 3h0m-6-3h0m-8 1h0m0 3h0m0 11h0m-2-5h0m-1-8h0m-1 16h0m-3-7h0m-2 7h0m-2-11h0m-1-4h0m-4-2h0m-6 9h0m-1 6h0m-2-10h0m0 12h0m-3-12h0m0 7h0m-10 0h0m-5 2h0m-3-11h0m-5 4h0m-7-8h0m-3 14h0m-4 3h0m-7-16h0m-11 7h0m-1-1h0m-7 11h0m-2-5h0m-4 6h0m-3-11h0m-2 5h0m-3-13h0m-2 1h0m-1 3h0m0 13h0m-2-4h0m-1-6h0m-4-1h0m-2 11h0m-1-10h0m0-1h0m0 9h0m-1-5h0m0 1h0m-7-10h0m-3 8h0m-3-8h0m-2 0h0m-2 2h0m0 7h0m-6 3h0m-5-5h0m-1 3h0m-2-10h0m-1 11h0m0 7h0m-1-14h0m-2 4h0m-2-8h0m0 4h0m0 13h0m-2-4h0m-4-4h0m-2-8h0m0 10h0m-1 3h0m-1 4h0m-1-1h0m-4-14h0m-1 3h0m-3-7h0m-1 4h0m-2 6h0m-1-7h0m-4 15h0m-1-3h0m-1-12h0m-4 0h0m-2 12h0m-2-10h0m-1 5h0m-8 5h0m-1-15h0m-5 9h0m-8 9h0m-4-7h0m-1-10h0m-5 1h0m-4-2h0m-2 8h0m-4-3h0m0 7h0m-5-6h0m-1 9h0m-1-15h0m0 16h0m-1-12h0m-2 5h0m-4 0h0m-1 9h0m-1-15h0m-4 8h0m-12 0h0m-1 8h0m-2-15h0m-1 13h0m-1-16h0m-2 0h0m0 10h0m-4-2h0m-3 3h0m-1 5h0m-2-3h0m-7-3h0m-3-4h0m-1-5h0m-4 1h0m-1 8h0m15 13h0m0-1h0m1 2h0m7-5h0m0 13h0m2-9h0m0 3h0m0 2h0m1 10h0m2-2h0m3-14h0m2 0h0m5 16h0m5-4h0m2-14h0m4 2h0m0 11h0m4-8h0m1 9h0m1-11h0m2 6h0m0 3h0m5-3h0m17-2h0m2 3h0m3-10h0m2 3h0m3 4h0m1 5h0m2-9h0m0-2h0m4 13h0m2-1h0m1-10h0m2 6h0m2-5h0m5 10h0m3-7h0m1 9h0m0 1h0m2-9h0m5 0h0m1 6h0m1-5h0m1 8h0m1-14h0m4 5h0m1 2h0m10 8h0m1-8h0m2-8h0m1 13h0m1-5h0m3 3h0m1 5h0m4-9h0m3-9h0m0 15h0m1-12h0m0 6h0m3-4h0m0 8h0m2-5h0m3-7h0m0 9h0m1 1h0m0 5h0m3-11h0m3 9h0m2 0h0m1-6h0m7-2h0m2 7h0m0 3h0m3-3h0m2-13h0m1 15h0m2-13h0m8-1h0m4 11h0m1-9h0m6 9h0m0 5h0m3-10h0m0 6h0m0 4h0m3-13h0m3 4h0m1 4h0m1-1h0m9-4h0m1-3h0m1 8h0m7 4h0m1-16h0m1 17h0m5-18h0m2 7h0m7 4h0m2-9h0m0-1h0m0 6h0m3 8h0m2-12h0m0 4h0m0 8h0m2-11h0m0 6h0m3-10h0m0 7h0m1-4h0m2-1h0m3 2h0m4 11h0m1-3h0m1 6h0m6-18h0m0 12h0m1-8h0m2 9h0m2-8h0m1-1h0m18 13h0m6-3h0m1 4h0m7-8h0m2-10h0m2 14h0m2-4h0m1-10h0m7 13h0m8 0h0m2 5h0m1-14h0m0 4h0m1 11h0m2-8h0m0 8h0m2 0h0m2-16h0m1 8h0m0 8h0m2-16h0m1 4h0m10 10h0m18-13h0m9 0h0m0 13h0m2-3h0m1-5h0m1 9h0m1-2h0m2-10h0m12 13h0m1-2h0m4-15h0m2 2h0m12 0h0m9 1h0m0 9h0m6 4h0m11-1h0m1-6h0m0 8h0m7-17h0m12-2h0m4 3h0m15 9h0m5-5h0m4-3h0m0 3h0m3 5h0m2 7h0m1-2h0m1-16h0m1 2h0m0 4h0m1 0h0m2-5h0m1 1h0m2 2h0m1 12h0m1-1h0m1-2h0m1-11h0m0 14h0m3-1h0m1-5h0m1-5h0m1 2h0m1 6h0m0 5h0m1-15h0m3 3h0m8 11h0m7-7h0m2-5h0m1-3h0m1 12h0m1-14h0m0 10h0m1 5h0m4-2h0m1-12h0m0 16h0m4-10h0m1-8h0m0 15h0m2-10h0m1 4h0m1 0h0m1 9h0m3-5h0m2 3h0m1-12h0m0 6h0m3-6h0m2 12h0m8 16h0m-1 7h0m-2-10h0m-1-7h0m-5 1h0m-1-3h0m-1 5h0m-1 2h0m0-1h0m-1-1h0m0 3h0m0 1h0m0 9h0m-2-7h0m-1-2h0m-2 4h0m-8 4h0m-4-17h0m-4 15h0m-1-12h0m-1 2h0m-4-1h0m0 12h0m-3-12h0m0 5h0m-3 7h0m-1-4h0m0 1h0m-1 0h0m-2 0h0m0 4h0m0 2h0m-2-11h0m0 2h0m-1-1h0m-1 3h0m-3 6h0m-2-4h0m-2-14h0m-1 19h0m-2-11h0m-1-7h0m-2 3h0m-1 13h0m-1-12h0m0 6h0m-1-11h0m0 19h0m-2-15h0m0 3h0m-1-7h0m0 6h0m-3-4h0m-1 0h0m0-2h0m0 6h0m0 10h0m-3-10h0m-4 6h0m-4 4h0m-2-8h0m-8 11h0m-8-6h0m-10-7h0m-4 9h0m0 1h0m-2-15h0m0 7h0m-3 6h0m-3 3h0m-1-16h0m0-1h0m-3 2h0m-3 17h0m-4-19h0m-5 5h0m0 5h0m-1-5h0m0-1h0m0 5h0m-2 0h0m-1-4h0m-1 5h0m-1 1h0m-1 0h0m-1 0h0m0 3h0m-1-5h0m-2-8h0m-3 9h0m-8 0h0m-3 6h0m-1 2h0m-3 0h0m-5-17h0m-1 1h0m0 6h0m0 5h0m-13-13h0m-1 11h0m-2 4h0m-1-3h0m-1-4h0m-1-4h0m0-2h0m-5 10h0m-17-3h0m-1 2h0m-1 0h0m-1-8h0m-11 6h0m-14 10h0m-3-18h0m-8 10h0m-3 1h0m-3 7h0m-8-13h0m0 12h0m-6-18h0m-4 2h0m-1 7h0m-1-2h0m-2 4h0m-4 6h0m-5-3h0m-15-7h0m-1-7h0m-12 10h0m-1 8h0m-5 0h0m-1-10h0m-1 4h0m0 6h0m-1-1h0m-4-10h0m-3 5h0m0 4h0m-8 1h0m-5-5h0m-1-9h0m0 6h0m-3-2h0m-1-2h0m-1-5h0m0 11h0m-1 4h0m-5 1h0m-2-10h0m-2-2h0m-1-4h0m-7 2h0m-2 2h0m-1 7h0m0 1h0m-2-10h0m-3 6h0m0 10h0m-1-7h0m-9 3h0m-2-5h0m-1 4h0m-5 6h0m-2-8h0m-2-4h0m0 6h0m-1-8h0m-1-5h0m-1 7h0m-2-7h0m-1 2h0m-1 6h0m-1 5h0m-3-13h0m0 6h0m-2-5h0m-1 15h0m-2-8h0m-4-6h0m-1 8h0m-3-4h0m-1-3h0m-7-1h0m-5 3h0m-3 11h0m-1-16h0m-4 15h0m-1-6h0m-1 10h0m-2-10h0m0 3h0m-4-1h0m-1 6h0m-1-13h0m-2 4h0m-4 6h0m0 5h0m-8-2h0m-6-2h0m-9-3h0m-3 5h0m-7 2h0m-8-2h0m-5-3h0m-4-2h0m-3-9h0m-3-1h0m-1 5h0m-1 8h0m-1 4h0m-1-9h0m-3 5h0m-2-3h0m-4-4h0m0 9h0m-4-6h0m-1-10h0m-2 5h0m0 11h0m-1-8h0m-1 8h0m-1-17h0m0 12h0m-2 4h0m-1-9h0m-1 2h0m-9-6h0m-7 1h0m11 20h0m7 4h0m2 10h0m1-6h0m4 5h0m6-17h0m1 8h0m0 8h0m6-13h0m2 8h0m0-2h0m7-5h0m1-4h0m1 3h0m1 8h0m1 8h0m5-13h0m4 7h0m3 4h0m1-10h0m0 6h0m0 1h0m4 3h0m1-14h0m1 7h0m1 5h0m1-2h0m1-6h0m1-2h0m17 2h0m3 3h0m3-7h0m1 13h0m2-10h0m1 7h0m4-11h0m3 9h0m2-4h0m2-5h0m2 12h0m2-10h0m1 11h0m1 3h0m5-3h0m1-13h0m4 2h0m6 7h0m5-5h0m3 6h0m0 2h0m4 5h0m6-15h0m1-3h0m5-1h0m5 19h0m3-11h0m0 3h0m1 0h0m11-1h0m5 5h0m1-12h0m5 11h0m1 5h0m4-16h0m0-2h0m2 4h0m1 14h0m3-15h0m1-2h0m1 16h0m0-2h0m2-2h0m4-12h0m0 4h0m3 12h0m5-6h0m2-9h0m4 15h0m1-15h0m2 9h0m1-1h0m1-9h0m0 16h0m4-9h0m4 3h0m3-4h0m1 11h0m6-17h0m4 2h0m0 14h0m3-18h0m2 18h0m1-12h0m3 0h0m1 8h0m8-8h0m2 4h0m1-10h0m0 6h0m2 13h0m1-17h0m3 15h0m1-5h0m1-5h0m1-1h0m4 13h0m14-11h0m1-2h0m2 7h0m1-10h0m0 15h0m3-1h0m1 2h0m2-6h0m4 0h0m2-7h0m0 7h0m2-3h0m7-5h0m1 3h0m3 2h0m2-8h0m0 15h0m1-1h0m1-7h0m2 0h0m5-1h0m0 5h0m2-4h0m5 1h0m0 2h0m1-7h0m0 14h0m6-3h0m2-11h0m1 4h0m0 1h0m3-8h0m1-2h0m5 18h0m5-5h0m1-3h0m4 7h0m1-8h0m2-4h0m2 1h0m3 8h0m2-14h0m2 2h0m0 5h0m0 6h0m1-8h0m1 10h0m0 0h0m1-7h0m2-7h0m4 17h0m2-18h0m3 0h0m1 14h0m0 0h0m0 4h0m1-8h0m7 3h0m4-12h0m7 15h0m3-12h0m5 8h0m1-9h0m0 8h0m4 8h0m5 0h0m2-9h0m1-9h0m1 5h0m1 10h0m5-4h0m11-3h0m6-3h0m1-6h0m0 18h0m1-15h0m1 7h0m3-8h0m4 16h0m2-18h0m1 10h0m1-10h0m0 8h0m0 2h0m1-1h0m0 8h0m1-16h0m2 12h0m1 3h0m1-10h0m0 1h0m1 5h0m4-10h0m4 10h0m6-6h0m1-2h0m4 2h0m2 1h0m2-1h0m2-6h0m0 4h0m2 4h0m3-3h0m2 11h0m1-16h0m6 8h0m4-8h0m1 5h0m2 8h0m6 6h0m0-1h0m3 0h0m1-4h0m0-2h0m2 0h0m3 5h0m3-6h0m2 1h0m0 5h0m5 2h0m2 0h0m2-4h0m0-1h0m1-10h0m0 6h0m3 2h0m0 6h0m1-15h0m1 13h0m1-9h0m1-7h0m1 3h0m0 3h0m0-1h0m1 14h0m2-4h0m2-4h0m1 3h0m-1 15h0m0 3h0m-2 6h0m-1-12h0m-1 1h0m-2 8h0m-3-13h0m-1 16h0m-3-8h0m0 2h0m-1 6h0m-1-14h0m-1 1h0m0 13h0m-1-6h0m0 6h0m-3-15h0m-1 8h0m-11 0h0m-5-10h0m-2 16h0m-1-5h0m-1-9h0m0-2h0m-3 4h0m-2 5h0m-7-5h0m-1 13h0m-2-7h0m-4 6h0m-1-14h0m0 13h0m-1-2h0m-2 4h0m-1-2h0m0 0h0m-3-3h0m-2-8h0m-1 7h0m-2-4h0m-6 9h0m-4 0h0m-7-6h0m-1-9h0m-1 7h0m-1 4h0m-9 3h0m-12-4h0m-3-4h0m-2-8h0m0 11h0m-4-11h0m-4 8h0m-8-5h0m-2 1h0m0 10h0m-2-8h0m0 0h0m-1-2h0m0 4h0m-1 0h0m-1-1h0m-8 1h0m-2-1h0m-1 8h0m-1-6h0m-4 3h0m-5-3h0m-1 0h0m-1-4h0m-2-2h0m0 10h0m-1-12h0m0 5h0m-3-3h0m0 11h0m-7-9h0m-2-4h0m-1 12h0m-2-9h0m0-3h0m-1-1h0m-2 7h0m-1-5h0m-2 5h0m-4 12h0m-2-4h0m-3-6h0m-8 8h0m-1-16h0m-2 4h0m-3 0h0m0 10h0m-1-12h0m-3 9h0m-1 0h0m-2 7h0m0-2h0m-2-12h0m-1 2h0m0 3h0m-1-10h0m0 12h0m0 7h0m-2-17h0m0 7h0m-7-5h0m-3-3h0m-8 1h0m0 0h0m-1 5h0m0 2h0m-7 5h0m0 3h0m-1-13h0m-2 0h0m-1 10h0m-6 5h0m-1-2h0m-4-9h0m0 9h0m-2-13h0m-3 7h0m-2-4h0m-5 4h0m-1 6h0m-1-7h0m-3-2h0m-1-5h0m-8 7h0m-3 8h0m-1-16h0m-1 14h0m0 0h0m-2 0h0m-2 3h0m0-1h0m-5-11h0m-1-3h0m0 8h0m-1-3h0m0 10h0m-1-15h0m0 4h0m-1-6h0m-1 6h0m0 10h0m-1-9h0m0 0h0m-2 9h0m-1-2h0m-1-5h0m0 8h0m-1-15h0m0 7h0m-1 4h0m0 2h0m-1-2h0m0 0h0m0 2h0m0-1h0m-1-1h0m0-2h0m0 6h0m-1-13h0m-1 12h0m-2-2h0m-2 0h0m-1-6h0m-5-6h0m-6 1h0m-4-2h0m-1 8h0m-1-2h0m0 10h0m-2-14h0m-1 6h0m0 6h0m-2-15h0m-2 5h0m0 4h0m-1 0h0m0 8h0m-1-9h0m0 5h0m0-2h0m-1 1h0m-1 2h0m0-2h0m0 3h0m-1 2h0m0-2h0m-1-15h0m-1 8h0m-3-6h0m-1 1h0m-1 7h0m-1 7h0m-1-11h0m0 2h0m-1-10h0m-3 3h0m0 5h0m-1-8h0m-2 2h0m0 9h0m0 2h0m-3-6h0m-8-4h0m-4 3h0m-2-6h0m0 2h0m-6-2h0m-1 1h0m-11 3h0m-2 12h0m-8-11h0m0 6h0m-3-1h0m-1-5h0m-10 2h0m-1 3h0m0 3h0m-1-13h0m0 12h0m-2 7h0m-3-17h0m-1 15h0m-2-15h0m-1 15h0m-7-13h0m-1-4h0m0 12h0m-10-10h0m-8 12h0m-2-2h0m-1 1h0m-3 6h0m-8-14h0m-1 9h0m-1 4h0m-1-12h0m0 6h0m-2 3h0m-2-13h0m-3 6h0m-3 9h0m-4-14h0m0 4h0m-12-5h0m-1 12h0m-1-10h0m0 6h0m0 9h0m-4-8h0m-2-1h0m-4-4h0m0 9h0m0-3h0m-3 3h0m-1-13h0m-3 5h0m0 8h0m-1-1h0m-5-12h0m0 8h0m-5-10h0m0 8h0m-1 6h0m-1 1h0m-3-8h0m-3-7h0m-1 7h0m-1-6h0m82 19h0m25 6h0m5-4h0m1 8h0m0 0h0m4-3h0m0 3h0m3 5h0m2 0h0m0 0h0m5 2h0m10-7h0m0 0h0m2 5h0m1-8h0m2-3h0m0 7h0m2-11h0m2 2h0m1 6h0m1 5h0m1 5h0m1-3h0m0 1h0m2-8h0m1 8h0m3-6h0m0 6h0m4-6h0m2-1h0m0 4h0m6-9h0m0 6h0m6-2h0m7 7h0m0-2h0m2-12h0m0 1h0m2 7h0m0 7h0m0 0h0m0 2h0m4-10h0m1-7h0m0 8h0m1-7h0m0 10h0m1-6h0m0 8h0m1-3h0m1-8h0m0 10h0m0 5h0m3 0h0m3-11h0m0 4h0m0 8h0m0-3h0m4 2h0m1-17h0m0 18h0m0-2h0m16-3h0m11-11h0m0 13h0m4-1h0m2 1h0m0 0h0m2-1h0m5-12h0m3 5h0m1 10h0m1-18h0m0 5h0m1 6h0m1-8h0m1 3h0m0-2h0m0 10h0m1-12h0m1 1h0m0 9h0m0 5h0m2-9h0m0 2h0m0 2h0m1 0h0m1-1h0m1-11h0m0 0h0m2 7h0m0 7h0m2-12h0m4 11h0m5 2h0m3-6h0m1 1h0m1-2h0m1-2h0m4 11h0m1-6h0m1-10h0m0 7h0m2-6h0m2 8h0m1-3h0m0 4h0m2-4h0m1 12h0m1-14h0m1 1h0m1-4h0m2 2h0m0 4h0m1-5h0m0 7h0m2-3h0m1 1h0m0-3h0m1 2h0m1 10h0m2-9h0m5 11h0m1-12h0m0 5h0m1-9h0m1-1h0m6 1h0m1 10h0m1-10h0m2 1h0m0 12h0m1-11h0m0 6h0m1 4h0m1-9h0m4 4h0m0 5h0m1-2h0m0 6h0m6-18h0m3 6h0m0 4h0m1 0h0m0 6h0m1-11h0m0 7h0m1 2h0m1-8h0m0 11h0m1-18h0m3 4h0m0 0h0m5 1h0m3 1h0m11 5h0m4 0h0m6-6h0m1 13h0m13-1h0m1-7h0m1-3h0m1 6h0m0 6h0m2-4h0m0 2h0m2-11h0m2 12h0m3-18h0m1 4h0m2 6h0m8 1h0m2 8h0m1-8h0m1-2h0m2 10h0m1-7h0m1 5h0m4-15h0m2 11h0m6-7h0m4-1h0m1 2h0m1 10h0m11 2h0m5-15h0m2 0h0m8 12h0m3-3h0m2-11h0m4 0h0m0 6h0m1 4h0m0 1h0m1-3h0m5-5h0m0 3h0m1-8h0m0 1h0m0 5h0m0 3h0m0 5h0m1-8h0m2 0h0m0 3h0m1-6h0m0 15h0m2-13h0m5-2h0m9 9h0m8 3h0m2-4h0m1 4h0m1-14h0m4 4h0m0 0h0m6 7h0m2 0h0m0 1h0m3-6h0m0 6h0m1 3h0m1-11h0m1-2h0m1 9h0m1-2h0m2 9h0m2-8h0m3 8h0m5-12h0m0 10h0m3-3h0m2-5h0m0 10h0m2-4h0m1-4h0m0 1h0m1 4h0m1-11h0m0 13h0m1-11h0m0 2h0m1 0h0m1 8h0m-17 13h0m-7-7h0m-4 7h0m-3 5h0m-4-4h0m-3-9h0m-2 15h0m0 0h0m-1-13h0m-1 5h0m-1 3h0m-1-6h0m0 7h0m-1-1h0m-1 2h0m-2 0h0m-2-12h0m-1 17h0m-1-12h0m0 7h0m-1-4h0m-1 7h0m-2-2h0m-1-15h0m0 18h0m-3-12h0m-3 2h0m0 6h0m-3-13h0m-1 2h0m-2-1h0m0 8h0m-1-2h0m-2-1h0m0 10h0m-1-6h0m-1 4h0m0-3h0m-3 0h0m0-1h0m0 2h0m-1 2h0m-1-1h0m0 4h0m-2-13h0m0 4h0m0-1h0m0 4h0m0 1h0m0 4h0m-1-3h0m0 0h0m0-1h0m-1 1h0m-1-6h0m0 5h0m-1 2h0m-1-4h0m-2 4h0m0-1h0m-1 4h0m-2 1h0m-1-7h0m-8 1h0m-2-10h0m0 1h0m0 2h0m0 10h0m-1-10h0m-6-1h0m0 1h0m0 4h0m-3-5h0m0 8h0m-1 2h0m-2-1h0m0 5h0m-1-13h0m-1-5h0m0 7h0m-1-3h0m-1 0h0m-1-3h0m0 17h0m-1-18h0m0 7h0m0 7h0m-1-10h0m0 7h0m-1-1h0m0 3h0m-1-7h0m0 9h0m0 3h0m-1-14h0m0 12h0m-1-16h0m-1 3h0m0 8h0m-4-4h0m-1-5h0m0 12h0m-1-11h0m-5-1h0m0-2h0m-1 6h0m-1-3h0m0 7h0m0 5h0m-2-3h0m0 2h0m-2-2h0m-3-6h0m-5 6h0m-7-7h0m-3-6h0m0 0h0m-4 0h0m0 19h0m-1-17h0m0 0h0m0 0h0m0 2h0m-5 2h0m0 9h0m-1 1h0m-1 0h0m-14-15h0m-1 2h0m-6 0h0m-2-3h0m-4 0h0m-2 4h0m-2-1h0m-2 9h0m-7 3h0m-2 4h0m-3-9h0m-1 3h0m-4-12h0m-4 18h0m-6-12h0m-4 9h0m-5-7h0m-2 6h0m-1-2h0m-1 4h0m-1 0h0m-1-4h0m-1 4h0m-3-15h0m0 8h0m-1 1h0m0 7h0m-1-1h0m-4-17h0m-3 9h0m-6 6h0m-8 1h0m-1-7h0m0 3h0m-3 1h0m-2-7h0m0 8h0m-1-4h0m-1 1h0m-1 5h0m-2-4h0m0 3h0m0 3h0m0 0h0m-1-12h0m0 3h0m0 7h0m-2 0h0m0 1h0m-5-11h0m0 1h0m-3 0h0m-1 1h0m0 0h0m-1-4h0m0 6h0m-1-2h0m-1-6h0m0 10h0m0 4h0m-1-12h0m0 7h0m-3-7h0m-1-1h0m-1 9h0m-1-5h0m0 1h0m-1 8h0m-6 0h0m-2-9h0m-3 3h0m0 6h0m-1-3h0m-2-13h0m-3 4h0m-1 12h0m-1-6h0m-1 5h0m-12-10h0m-3-4h0m-1-1h0m-1 10h0m-1-3h0m0 3h0m-1-9h0m-1 6h0m-2 5h0m0 4h0m-1-9h0m-2-1h0m-1-5h0m-2 1h0m0 8h0m-1-5h0m-6-2h0m-1 3h0m-1-2h0m0 11h0m-1-12h0m-3 11h0m0 5h0m0 0h0m-2-14h0m-2 9h0m-1 2h0m-3-16h0m0 12h0m-2 7h0m-1-14h0m0 7h0m-2-4h0m0 10h0m-3-14h0m0 10h0m-3 3h0m-1-9h0m0 11h0m0-3h0m-2 0h0m-2-3h0m-2 2h0m-2-3h0m-2 5h0m-2-10h0m-4-6h0m-1 10h0m-5-9h0m-4 2h0m0 13h0m-1 1h0m-4-2h0m-1-16h0m-4 10h0m-1-7h0m-2-3h0m7 21h0m4 7h0m1 0h0m1 0h0m0 2h0m2 5h0m2-6h0m2-8h0m10 4h0m2-4h0m2 12h0m3-10h0m0 8h0m1-9h0m1 3h0m1 10h0m7-13h0m0 5h0m1-2h0m0 9h0m0 4h0m1-18h0m0 17h0m1-13h0m0 3h0m0 1h0m0 10h0m2 0h0m2-8h0m2 0h0m1 0h0m1-7h0m0 7h0m1-7h0m1 12h0m0 0h0m1-14h0m0 12h0m1-9h0m1-2h0m1 12h0m1-1h0m4 4h0m5-9h0m1-6h0m4 7h0m3 1h0m1 1h0m8-10h0m1 11h0m0 1h0m3 2h0m3-12h0m0 0h0m4 6h0m2 2h0m1-8h0m0 5h0m0 9h0m2-7h0m1-6h0m0 11h0m1 4h0m3-12h0m5 10h0m4-5h0m1 5h0m1-9h0m3-3h0m0 7h0m3-7h0m0 6h0m1-3h0m0 1h0m1-3h0m0 7h0m1 3h0m2-13h0m4-3h0m1 0h0m1 0h0m2 4h0m6-4h0m0 8h0m1-8h0m0 16h0m1-12h0m1 0h0m17 2h0m1 1h0m2-7h0m0 12h0m1-7h0m0 4h0m1 4h0m1-9h0m1-1h0m0 9h0m0 4h0m2-5h0m4-9h0m2 2h0m1 0h0m2 2h0m0 3h0m4-6h0m4 9h0m1-2h0m0 3h0m0 5h0m1-13h0m2 1h0m1 1h0m2 10h0m1-15h0m4 15h0m2-14h0m0 1h0m0 2h0m1-2h0m2-1h0m0-2h0m0 6h0m2 12h0m4-8h0m1-6h0m3-2h0m2 14h0m3-14h0m1-1h0m3 9h0m0 8h0m3-8h0m1 7h0m2-17h0m1 9h0m0 2h0m0-2h0m1-2h0m2-4h0m1 8h0m0 5h0m1 2h0m2-10h0m2 4h0m3 5h0m2-6h0m0 1h0m2 4h0m0 0h0m3-7h0m1-2h0m1 1h0m2 5h0m1-5h0m0 3h0m4 1h0m1-7h0m0 7h0m0 2h0m1-11h0m1-3h0m0 9h0m1-9h0m0 3h0m1 9h0m3-2h0m1-9h0m3 0h0m0 8h0m3 4h0m2-11h0m1-2h0m2 4h0m1-1h0m0 11h0m1-4h0m3 6h0m6-2h0m3-1h0m1-10h0m1 15h0m2-14h0m1-1h0m2 5h0m1-2h0m0 5h0m2-11h0m0 9h0m18 8h0m2-13h0m1 14h0m2-3h0m1-13h0m0 5h0m1-8h0m0 6h0m1-4h0m3 5h0m0 3h0m1-7h0m1-1h0m0 2h0m0 8h0m1 1h0m1-1h0m8-10h0m2 2h0m2 13h0m2-14h0m1 5h0m4-5h0m2 0h0m0 8h0m2-11h0m0 15h0m2-10h0m0 5h0m1-6h0m1 2h0m3-5h0m1 3h0m0-2h0m3 1h0m0 5h0m8 9h0m2-11h0m3-2h0m1 6h0m2-9h0m7 0h0m0 6h0m4-5h0m0 3h0m0 1h0m0 9h0m2-8h0m1-5h0m0 10h0m0 1h0m2-13h0m0 6h0m1 8h0m1 0h0m6-13h0m1 13h0m0 0h0m1-4h0m1-1h0m1 1h0m0 0h0m2-5h0m1 4h0m-15 17h0m-12 9h0m-2-14h0m-9 6h0m0 5h0m-3-5h0m-1 8h0m-1 0h0m-1-7h0m-1 8h0m0-1h0m0-1h0m-1-13h0m-1-1h0m-1 4h0m0 14h0m-1-18h0m0 15h0m-2 0h0m0-1h0m-1 2h0m-1-14h0m0 0h0m0 6h0m-5 8h0m-3 2h0m-1-10h0m-4 11h0m-3-1h0m-1-6h0m-3-5h0m-2 12h0m-4-15h0m-4-2h0m-3 11h0m-5-1h0m-1-10h0m0 9h0m-2-11h0m0 0h0m-2 16h0m0-1h0m-1 0h0m-1-12h0m0 3h0m-1-4h0m0 3h0m-4 1h0m0 10h0m-2-14h0m0 12h0m-4-7h0m0 1h0m-1-8h0m0 1h0m0 7h0m-2 10h0m-1-14h0m0 3h0m-3 7h0m-3-4h0m-3-7h0m-2 9h0m-4-4h0m-1 1h0m-1 3h0m-1-4h0m-1-8h0m0 15h0m-1-5h0m-5 0h0m-2-3h0m-1 3h0m-4-3h0m-2-4h0m-2 4h0m-1 0h0m-2-3h0m-36-2h0m-15 2h0m-13-3h0m-7 3h0m0 6h0m0 2h0m-1-1h0m-3 2h0m-1-3h0m0 5h0m-2-3h0m0-4h0m0 6h0m0 2h0m-1-1h0m-2-10h0m-2 5h0m-1-2h0m-2 3h0m-3-8h0m0 16h0m-2-19h0m-2 5h0m0 5h0m-3-3h0m0 1h0m-4-8h0m-3 6h0m-5 5h0m-5-3h0m-2-4h0m-2 15h0m-4-5h0m-4-11h0m-3 13h0m0 1h0m-1-1h0m-3-12h0m0 10h0m-2-5h0m-6-6h0m0 3h0m-3-1h0m0 7h0m-1-6h0m-1 3h0m-1 6h0m-1-9h0m0 0h0m0 3h0m-1-9h0m-1 8h0m-2-1h0m0-3h0m-1-1h0m-1 0h0m-1 2h0m0 5h0m-1 8h0m-1-12h0m-7-2h0m-4 12h0m-2-11h0m-4 3h0m-2-6h0m-1 3h0m-2 0h0m-1 3h0m-3-8h0m0 0h0m0 9h0m-3-9h0m-1 5h0m0 0h0m0 9h0m-15-10h0m-2 10h0m-1-5h0m-2-9h0m0 7h0m0 6h0m-1-11h0m-1 0h0m-5 16h0m0-2h0m-1-13h0m0-1h0m-1 10h0m0 3h0m-5 0h0m-1-2h0m-1-10h0m-5 13h0m-3-7h0m-1 5h0m-1-13h0m-2 8h0m-1-5h0m0 14h0m-9-12h0m0 5h0m21 12h0m3-3h0m3 4h0m1-3h0m5 2h0m2 1h0m11 5h0m5-7h0m1 0h0m1 0h0m0 8h0m4-7h0m8 11h0m4 4h0m1-4h0m5 3h0m1-6h0m0 3h0m0 1h0m1 0h0m0 0h0m0 3h0m1-6h0m1-2h0m0 7h0m1-12h0m0 5h0m0 2h0m0 7h0m1-8h0m0 7h0m2-2h0m2-5h0m0 4h0m0-1h0m2-8h0m2 3h0m7-3h0m1 8h0m2-7h0m0 1h0m1-7h0m2 0h0m7 6h0m3 5h0m2-11h0m1 2h0m2-2h0m0 9h0m1 2h0m7-5h0m3 4h0m34-11h0m182 0h0" stroke="#1c1c1c" stroke-width="14.8"/>
<path d="M406 1235h0m-4 4h0m-3-13h0m0 4h0m7 10h0m0 5h0m5 7h0m4-3h0m1 10h0m3-2h0m0-5h0m25 27h0m-7 0h0m0-7h0m-3 1h0m-1-6h0m-1 11h0m-2-12h0m-2-3h0m-2 0h0m-2 6h0m18 11h0m7 8h0m171 111h0m-3 0h0m-23-6h0m-10 6h0m-5-5h0m-13-2h0m-1 7h0m-2-6h0m-5 3h0m-3-5h0m-1 8h0m-2-6h0m-4-5h0m-1 11h0m-3-7h0m-3 6h0m-1-9h0m-2 9h0m-1-6h0m-9 4h0m-4-1h0m-3-2h0m-66 20h0m10 5h0m2 1h0m2-3h0m1-12h0m2 11h0m2 4h0m3-12h0m3-1h0m9-4h0m5 0h0m8 13h0m1-3h0m1 7h0m1-12h0m5 9h0m8-15h0m0 5h0m1-5h0m0 11h0m0 4h0m4-2h0m1-4h0m2-9h0m3 3h0m0 15h0m4-2h0m4-4h0m0 4h0m1-10h0m1-4h0m4 9h0m2-5h0m1 11h0m2-8h0m3-4h0m2 9h0m2-8h0m3-5h0m1 14h0m2 2h0m4-2h0m3-12h0m1-2h0m0 7h0m3-4h0m0 12h0m4-3h0m0-2h0m7-12h0m12 10h0m5-9h0m7 5h0m1 3h0m2 6h0m5-9h0m0 7h0m3-8h0m2 10h0m4-7h0m0 1h0m2 8h0m9 1h0m5 1h0m6-3h0m7 2h0m3-6h0m0 6h0m3-14h0m4 6h0m1 6h0m2 2h0m5-7h0m1 8h0m10 0h0m3-3h0m3 2h0m2-1h0m36 22h0m-12-7h0m-3 1h0m-2-5h0m-2-2h0m-1 6h0m-2-8h0m-3 6h0m-2-10h0m-2 4h0m0 7h0m0 1h0m-3-11h0m-8 7h0m-1-2h0m-5-2h0m-3-3h0m-6 5h0m-5 7h0m-2-8h0m-1 9h0m0 3h0m-4-13h0m-5 13h0m-2-16h0m-13-1h0m-3 1h0m-2-1h0m0 15h0m-1-5h0m-6-3h0m0 9h0m-5-7h0m-3-5h0m-1 9h0m-2-11h0m-4 16h0m-3-4h0m-2-12h0m-2 1h0m-2 15h0m-15-15h0m-5 9h0m-5-2h0m0 4h0m-3-10h0m-1 7h0m-2 7h0m-4-15h0m-2 2h0m-3 11h0m-1-4h0m-1-2h0m-2 8h0m-8-1h0m-4-3h0m-3-11h0m-2 12h0m-1-11h0m-3 8h0m-1 0h0m-6 4h0m-1-9h0m-3 6h0m0 3h0m-4-15h0m0 5h0m-4 0h0m-4 2h0m-16-3h0m-4 2h0m-5 5h0m-3-10h0m0 4h0m-1 3h0m-4-3h0m0 9h0m-2-5h0m-4 4h0m-4-10h0m-11 1h0m-2 1h0m-3 13h0m-1-7h0m-1-11h0m-2-1h0m-1 13h0m-13-10h0m0 12h0m-3-9h0m-4 5h0m-2-6h0m-1 10h0m-2-10h0m0 13h0m-3-9h0m-4 5h0m-1-1h0m-3 6h0m-5-7h0m0 5h0m-5 0h0m-21 12h0m8-1h0m0 1h0m4-4h0m3 5h0m2-10h0m0 3h0m6 3h0m0 11h0m2 2h0m6-3h0m4-3h0m2-11h0m0 2h0m2 11h0m4-15h0m2 7h0m2 3h0m4-6h0m0 13h0m1-11h0m1 12h0m3-7h0m1 4h0m1-13h0m4 5h0m3-5h0m0 11h0m0 6h0m2-19h0m0 5h0m1 13h0m2-7h0m6-2h0m6-9h0m5 7h0m5 12h0m1-5h0m1 4h0m11-5h0m4-3h0m3-1h0m0 5h0m1-14h0m1 1h0m3 11h0m11 6h0m3-4h0m2-2h0m3-5h0m2 6h0m2-2h0m6-5h0m0 6h0m3-10h0m2 0h0m1-1h0m10 4h0m3-4h0m2 14h0m0 2h0m2-15h0m1 5h0m4 1h0m0 3h0m0 2h0m3-12h0m2 0h0m12 3h0m7 9h0m2-4h0m3-9h0m4 6h0m3-5h0m4 11h0m0 2h0m1-12h0m0 2h0m2 13h0m4-9h0m0 11h0m1-3h0m1-14h0m4 3h0m1 6h0m3 8h0m1-17h0m2 4h0m1 7h0m3-6h0m1 4h0m3-10h0m1 16h0m1-1h0m3-9h0m3-7h0m2 6h0m5 13h0m1-9h0m1 1h0m4-8h0m0 11h0m4-5h0m1 8h0m1-13h0m2 11h0m3-7h0m2 11h0m1-9h0m1-8h0m0-2h0m4 15h0m3-5h0m7 9h0m2-3h0m3-3h0m2-10h0m1 16h0m2-10h0m1 1h0m4 0h0m0 6h0m5 2h0m4-10h0m10 8h0m7 3h0m1-11h0m1-1h0m2 0h0m1 2h0m2 8h0m2-8h0m0 8h0m2-15h0m3 1h0m7 6h0m1 4h0m6 1h0m8 2h0m4 3h0m26 19h0m-5-4h0m-3-5h0m-1 7h0m-2-6h0m-4-10h0m-3 12h0m-3-5h0m0 5h0m-1-9h0m-5 6h0m-1-2h0m-1 10h0m-4-16h0m0 14h0m-3-5h0m-8-6h0m-1 8h0m0 7h0m-3-19h0m0 10h0m-2 7h0m-2-12h0m-2 4h0m-1-7h0m-1 13h0m-1-1h0m-10-8h0m-5-4h0m-6 5h0m-7 8h0m-7-3h0m-4-11h0m-2 3h0m-2 0h0m-2 8h0m-2 6h0m-3-11h0m-1-5h0m-1 3h0m-7 8h0m-1-11h0m-5-2h0m-3 8h0m-3-5h0m-4 6h0m-1 4h0m-2-9h0m-7 11h0m-2 4h0m-3-9h0m-3 8h0m-3-9h0m0 7h0m-7-15h0m0 15h0m-1-4h0m-1 7h0m-6-5h0m-2-12h0m-2-2h0m0 7h0m-5 5h0m-1-6h0m-5 3h0m-2 10h0m-1-5h0m-1-4h0m-5-9h0m-2 7h0m0 8h0m-4-7h0m0 5h0m-11-8h0m-1-3h0m-2 7h0m-1 5h0m-2-10h0m0 7h0m-5-4h0m0 11h0m-3-4h0m-9-9h0m-1-4h0m-3 9h0m-2-9h0m-4 2h0m0 5h0m-5 2h0m-6 8h0m-8-16h0m0 12h0m-3-14h0m0 8h0m-4 5h0m-1-12h0m-3 9h0m0 5h0m-2-14h0m-2 9h0m-1 1h0m-1-12h0m-1 11h0m-3-7h0m-4 7h0m0-3h0m-6-7h0m-6 8h0m-9-8h0m-1 6h0m-1 6h0m0 5h0m-1-13h0m-7 9h0m-6 0h0m-1-2h0m-6 7h0m-8-18h0m0 12h0m-3-11h0m-5 7h0m-2 6h0m-2-7h0m-3 11h0m-1-5h0m-4-5h0m-1 7h0m-4-13h0m-1 12h0m-6-5h0m0 9h0m-2-13h0m0 12h0m-1-6h0m-3-8h0m-3 2h0m-2 0h0m-1 9h0m0 4h0m-2-13h0m-2 6h0m-2-10h0m-2 17h0m-4-12h0m-2 1h0m-9-8h0m-8 14h0m-4 4h0m-7-17h0m0 3h0m-6 10h0m-1 2h0m-7-1h0m-3-8h0m-3-5h0m-1 11h0m-1 4h0m-3-13h0m-2 4h0m0 5h0m-3 5h0m-5-9h0m0 3h0m-6-3h0m-4 4h0m-3 3h0m-3-1h0m-20 17h0m3-2h0m1 8h0m2-3h0m1-3h0m1-7h0m13-1h0m6 10h0m1-13h0m0 11h0m4-7h0m0 10h0m1-15h0m3 8h0m3-7h0m2 10h0m1-1h0m4-2h0m3-7h0m1 7h0m1-5h0m0-2h0m0 10h0m6 5h0m1-6h0m2 7h0m4-4h0m2-6h0m8-1h0m0 3h0m1 6h0m1-6h0m14-8h0m1 7h0m0 7h0m2-9h0m1 12h0m4-12h0m1 6h0m1 7h0m1-14h0m5 11h0m11-16h0m5 3h0m6 7h0m1-4h0m4-4h0m1 10h0m3-8h0m2 13h0m3-7h0m0 8h0m2-11h0m3 9h0m19-6h0m1 3h0m4-9h0m2 14h0m1-12h0m1 8h0m1-14h0m2 6h0m4 2h0m1-7h0m1 5h0m7-3h0m0 6h0m3 8h0m3-10h0m0 4h0m1 8h0m4-12h0m3 7h0m1-3h0m4 7h0m1-11h0m1 4h0m4 7h0m4-11h0m5-4h0m0 5h0m4-6h0m0 8h0m2-10h0m0 15h0m3-8h0m0 9h0m3-12h0m6 5h0m1 6h0m2-9h0m2 7h0m3 4h0m2-14h0m1-3h0m2 5h0m0 6h0m2 6h0m3-17h0m6 11h0m4 0h0m4 6h0m1-14h0m3 11h0m4-14h0m0 5h0m1 12h0m16 2h0m3-10h0m1 7h0m1-14h0m2 15h0m1-9h0m2 5h0m3-4h0m1 8h0m2-7h0m5-6h0m1 6h0m13 1h0m3-7h0m4 10h0m1-10h0m3 11h0m2-11h0m1 6h0m2 0h0m2 6h0m2 2h0m1-15h0m2 1h0m1 3h0m3 0h0m5-1h0m0 9h0m4-15h0m2 10h0m1 6h0m3-12h0m2 11h0m3-15h0m2 16h0m3-2h0m2-3h0m3 2h0m2-8h0m4 12h0m10-9h0m0 9h0m4-12h0m1 5h0m1-7h0m6 15h0m1-6h0m2 7h0m2-16h0m4 2h0m0 13h0m1-8h0m3 8h0m4-4h0m1-12h0m2 14h0m1-6h0m2-2h0m1 11h0m3-16h0m0 8h0m3 8h0m4-11h0m0 8h0m1-16h0m4 11h0m2-5h0m0 9h0m6-3h0m4-9h0m1 9h0m1-7h0m6 7h0m1-10h0m0 7h0m6-6h0m0 12h0m0-1h0m0 5h0m2-10h0m3-5h0m5 9h0m8 0h0m-5 15h0m0 4h0m-1-11h0m-3 11h0m-3-4h0m0 11h0m-1-9h0m-16-3h0m-3 8h0m-1-3h0m-1-7h0m-3-4h0m0 18h0m-1-13h0m-1-4h0m0 12h0m-3-6h0m-1-3h0m-4 11h0m-1-7h0m-3 10h0m-2-17h0m-2 11h0m-4 1h0m-1-9h0m-3-2h0m0 10h0m-1 6h0m-3-14h0m-2 6h0m-1-9h0m-1 15h0m-2-10h0m-4 0h0m-1 5h0m-1 7h0m-4-8h0m-1 6h0m-4-11h0m-15 9h0m-1-13h0m0 14h0m0 3h0m-6-7h0m-5 2h0m-1-8h0m-5-2h0m-1 13h0m-2-15h0m-2 8h0m0 8h0m-3-13h0m-1 6h0m-2-11h0m0 16h0m-3-10h0m-5-6h0m-2 13h0m-6 2h0m-1-13h0m-2 16h0m-1-18h0m-3 10h0m-3 7h0m-7-5h0m-1-2h0m-2 4h0m-2-6h0m-4-5h0m0 8h0m-3 6h0m-1-14h0m-3 11h0m0 5h0m-1-11h0m-10 2h0m-2-6h0m-15 10h0m-1 3h0m-3-4h0m-4 4h0m-2-3h0m-7-6h0m-3-7h0m-1 3h0m-2-4h0m-3 12h0m-1-5h0m-2 7h0m-1-9h0m-2 11h0m-7-15h0m-17 3h0m-5 9h0m-3-8h0m0 10h0m-2-15h0m-1 1h0m0 18h0m-1-8h0m-5-7h0m0 13h0m-2-9h0m-2 8h0m-3-13h0m-2 16h0m-1-13h0m0 4h0m-1 1h0m-2 4h0m-3-13h0m-2 11h0m-1-10h0m0 16h0m-1-6h0m-1-4h0m-4-8h0m-1 9h0m-3-9h0m0 6h0m-2 7h0m-5-8h0m-1 4h0m-3 7h0m-1-3h0m-4-11h0m-5 1h0m-3 7h0m-2 2h0m-3-12h0m-1 13h0m-1-9h0m-1-4h0m-5 2h0m-7 4h0m0-3h0m-7 5h0m0 4h0m-1-1h0m-3-11h0m-6 0h0m0 10h0m-2 6h0m-5 0h0m-1-7h0m0 2h0m-2-11h0m-4 1h0m-12 11h0m-1-4h0m-6 1h0m-1-5h0m-1-2h0m-1 13h0m-4-3h0m-2-1h0m-2-10h0m-2 6h0m-2 2h0m-1-2h0m-7 3h0m-1 8h0m-5-6h0m-4-5h0m-2-7h0m-2 6h0m0 7h0m-6 2h0m-1-14h0m-1 6h0m0 4h0m-4 0h0m-2-10h0m-1 6h0m-1 10h0m-3-13h0m-1 2h0m0 6h0m-1 3h0m-4-16h0m-4 6h0m-4 0h0m-1 9h0m-1 2h0m-1-10h0m-2 3h0m0 5h0m-6-1h0m-6-1h0m-1 1h0m-6-7h0m-1 7h0m-2-2h0m-1-8h0m-1 15h0m-13-19h0m-2 7h0m-1 8h0m-3-9h0m-1 10h0m-3-6h0m0-2h0m0 11h0m-1-1h0m-3 12h0m3 7h0m3-1h0m12 2h0m6-5h0m1-2h0m0 4h0m4 2h0m2-17h0m3 5h0m0 11h0m3-9h0m2-7h0m0 13h0m3 5h0m8 0h0m2-7h0m2-3h0m1 8h0m5-14h0m5-2h0m1 18h0m2-13h0m7 1h0m0 12h0m1-1h0m2-16h0m1 7h0m6-1h0m1-3h0m5 1h0m0 2h0m0 5h0m12-11h0m2 16h0m3-3h0m1-5h0m1 7h0m4-14h0m0 10h0m1-7h0m4 13h0m3-14h0m3 7h0m0 5h0m1-10h0m2-4h0m0-2h0m1 19h0m3-4h0m1-7h0m3-7h0m0 14h0m4-7h0m3 8h0m2-11h0m2 4h0m0 10h0m2-12h0m8-2h0m2 0h0m4 11h0m2-16h0m2 11h0m1-4h0m1-4h0m3 16h0m3-14h0m0 8h0m2 1h0m8-5h0m1 6h0m6-2h0m6-1h0m2 4h0m1 3h0m3-4h0m3-15h0m3 19h0m1-18h0m1 14h0m1 4h0m2-16h0m4 12h0m1 1h0m4-12h0m1 0h0m6 11h0m2-4h0m3-4h0m0 8h0m6-6h0m2-6h0m1 16h0m3-1h0m7-14h0m9 4h0m1 5h0m0 6h0m2-12h0m4 5h0m3-4h0m1 7h0m2-1h0m5-5h0m4 2h0m1-8h0m2 6h0m8-5h0m3-4h0m3 2h0m1 12h0m3-13h0m1 3h0m5 9h0m2-9h0m0 5h0m4 8h0m3-12h0m2 5h0m2-1h0m0 8h0m9-1h0m1-3h0m4-13h0m2 16h0m5-1h0m5-15h0m1 16h0m4-13h0m1 0h0m0 8h0m1 0h0m6-9h0m1 4h0m4 9h0m1-4h0m1-9h0m2 2h0m0 5h0m3 5h0m8 3h0m8-17h0m5 3h0m2 11h0m10-11h0m1 2h0m11 1h0m4 10h0m2-8h0m5 5h0m1-8h0m4 2h0m0 8h0m5-6h0m1-5h0m2 12h0m4-11h0m0 7h0m1-9h0m4 16h0m0-2h0m4-3h0m1-6h0m1 8h0m1-13h0m3 12h0m1-3h0m2 3h0m1-5h0m1-7h0m0 8h0m3-10h0m0 7h0m2-3h0m6-1h0m2-3h0m5 8h0m3-9h0m0 17h0m5-4h0m3 2h0m6 1h0m4-16h0m2 12h0m3 4h0m10-13h0m2-2h0m2 5h0m2 4h0m-7 21h0m-3-4h0m-1 12h0m-1-19h0m0 9h0m-1-6h0m-1 13h0m-3-3h0m-2-9h0m0 13h0m-3-9h0m0 7h0m-10-1h0m-3-5h0m-3-9h0m0 14h0m-2-6h0m-3-6h0m-5 0h0m-4 5h0m-4-1h0m-2 2h0m0 5h0m-2-12h0m0 14h0m-2 1h0m-2-10h0m-1 7h0m-2 0h0m-1 1h0m0 5h0m-1-2h0m-10-11h0m-4-4h0m-1 10h0m-2-9h0m-2 7h0m-1-10h0m-1 14h0m-3-11h0m-1 12h0m-1-5h0m-5 3h0m-7-12h0m-10 12h0m-3-7h0m-4-6h0m0 8h0m0 6h0m-3-12h0m-3 16h0m-3-13h0m-1 8h0m-4 3h0m-7-8h0m-6-1h0m-7-2h0m-2 7h0m-3-3h0m0 8h0m-5-6h0m0-3h0m-1 10h0m-3-16h0m-2 11h0m-1-9h0m-2 2h0m0 10h0m-4-4h0m-4 4h0m-2-10h0m-1 2h0m-2 8h0m-1-13h0m-4 16h0m-1-6h0m-1-10h0m-1 15h0m-2-11h0m-2 3h0m-3-9h0m-3 8h0m-1-9h0m-1 12h0m0 7h0m-4-15h0m0 12h0m-2-10h0m-1 4h0m-6 2h0m0 4h0m-5-6h0m-3 6h0m-8-7h0m-1 1h0m-3-8h0m-1-2h0m-1 6h0m-1 10h0m-4-13h0m-4 2h0m-1 5h0m-4-2h0m-9 3h0m-1-7h0m-3 11h0m-2-5h0m-3 2h0m-5-7h0m-1 14h0m-2-13h0m-2 4h0m-1 0h0m-4-8h0m-2 7h0m-1 2h0m-3-10h0m0 3h0m0 7h0m-4-2h0m-4-6h0m-4 10h0m-5-4h0m-10-5h0m-5 0h0m-4 8h0m-5 5h0m-1-14h0m0 1h0m-1 5h0m-3-6h0m-1 12h0m-2-6h0m-3-9h0m-24 9h0m-7 7h0m-1-3h0m-4-1h0m0 7h0m-3-2h0m-4-10h0m-9-4h0m-3 6h0m-1 8h0m-4-2h0m-1-9h0m-4 13h0m-1-14h0m-1 4h0m-2 3h0m-2 1h0m-1-12h0m-3 4h0m-2 9h0m-3-3h0m-3-3h0m-1-6h0m0 14h0m-4-15h0m-2 8h0m-1 5h0m-5-1h0m-4 6h0m-1-17h0m0 6h0m-7-5h0m-1 3h0m-4-1h0m-1 10h0m-1-2h0m-4 3h0m-1-6h0m-5-5h0m-1 9h0m-2-2h0m-4-10h0m-1 15h0m-3 2h0m-5-13h0m-3-6h0m-2 8h0m-2-4h0m-5 11h0m-4-12h0m-3 12h0m-1-11h0m-5 4h0m-6 5h0m-8 0h0m-4-10h0m-4-2h0m-1 1h0m-2 15h0m-17 20h0m5-5h0m3 3h0m1-15h0m3 3h0m1 8h0m5-9h0m0 6h0m10-3h0m0 13h0m3-8h0m0 3h0m4 5h0m1-16h0m0 12h0m1-7h0m4-4h0m1 5h0m0 3h0m0 7h0m2-15h0m3-3h0m1 0h0m0 17h0m6 2h0m6-3h0m14-13h0m3 6h0m2-5h0m1 15h0m1-8h0m2-11h0m0 18h0m4-14h0m1 3h0m0 9h0m2 0h0m4-3h0m1-10h0m1 6h0m1-9h0m6 13h0m1-5h0m0 2h0m0 9h0m10-17h0m3 1h0m2-3h0m1 19h0m3-1h0m3-5h0m6-13h0m5 0h0m1 3h0m7 0h0m4 7h0m2-9h0m12 17h0m4-7h0m1-6h0m4 7h0m2-5h0m2-6h0m5-1h0m1 3h0m3 3h0m2 11h0m16-1h0m3-15h0m2 9h0m1 5h0m1-2h0m2 3h0m3-16h0m1 15h0m3 4h0m1-7h0m5 1h0m4-2h0m1-7h0m0 13h0m1-16h0m2 0h0m1 9h0m3 8h0m1-15h0m1 8h0m7-10h0m1 4h0m0 12h0m7-2h0m3 2h0m2-15h0m2-2h0m0 12h0m4 3h0m1-10h0m9 7h0m1-4h0m4-4h0m1 8h0m3 6h0m4-11h0m1 10h0m1-17h0m0 13h0m5-13h0m3 13h0m6 1h0m5 4h0m11 0h0m1-12h0m8-4h0m1 15h0m5-6h0m0 7h0m3-13h0m0 7h0m5-3h0m2-8h0m1 18h0m3-15h0m2 4h0m3 4h0m0 7h0m4-3h0m2-16h0m1 3h0m8 15h0m12-14h0m0 7h0m0-2h0m4-5h0m0 3h0m1 8h0m4-4h0m4-4h0m1-4h0m4 6h0m0 7h0m0 3h0m4-10h0m3-4h0m0 13h0m1-4h0m5-2h0m3 6h0m1-9h0m6-2h0m2-7h0m8 2h0m10 7h0m5 2h0m2-8h0m3 15h0m2-12h0m0 10h0m1-5h0m2-4h0m0 3h0m1-10h0m5 16h0m1-3h0m2-13h0m2 17h0m0 2h0m13-5h0m1-4h0m0 3h0m3-6h0m3 0h0m3 0h0m2-4h0m3 15h0m3-15h0m0 7h0m6 5h0m3-5h0m1 1h0m1 5h0m4-11h0m2-4h0m4 6h0m9-3h0m9-1h0m2 14h0m1-1h0m2-13h0m1 4h0m0 9h0m2-4h0m2-8h0m1 3h0m205 11h0m26-1h0m49 20h0m-2 2h0m-1-2h0m-5-4h0m-2 5h0m-1-8h0m-17 1h0m-2 8h0m-6-9h0m0 8h0m0-1h0m-6-15h0m0 6h0m0 5h0m-5 4h0m-3-15h0m-1 7h0m-3 5h0m-1 2h0m-1-15h0m-11 14h0m-4 2h0m-5-14h0m0 7h0m-8-9h0m0 16h0m-1-10h0m-3 9h0m0 1h0m-3-12h0m-2 5h0m-1 8h0m-3 0h0m-1-11h0m-1 5h0m-3-3h0m-6 4h0m-1 4h0m-1-7h0m-176-9h0m-7 4h0m0 4h0m-6 1h0m-1-3h0m-5-4h0m0 2h0m-19-5h0m0 5h0m-10 13h0m-9-3h0m-12-5h0m-1-7h0m-5 5h0m-2-2h0m-5-3h0m-4-1h0m-2 8h0m-3-2h0m0 6h0m-7-1h0m-4 3h0m-1-9h0m-10 8h0m-4-6h0m-2-2h0m-2 11h0m-4-3h0m-2 4h0m-1-17h0m0 4h0m-2-3h0m-1 16h0m-4-3h0m-2-1h0m-1-15h0m-1 7h0m-1 2h0m-4-2h0m0 12h0m-14-11h0m-3-6h0m-3 4h0m-1 6h0m-6-2h0m-1 7h0m-2-14h0m0 11h0m-3-14h0m-1 9h0m-2 9h0m-1-16h0m-3 4h0m-1 10h0m0-2h0m-3 1h0m-1-12h0m0 4h0m-5 9h0m-6-14h0m-2 5h0m0 10h0m-2-5h0m-5-7h0m-1 3h0m0 9h0m-1-14h0m-2 10h0m-1 2h0m-5-10h0m-2 8h0m-6 2h0m-3-13h0m-1 1h0m-8 6h0m-1-7h0m-4 2h0m-4-1h0m-1 7h0m-1 9h0m-2-17h0m0 12h0m-1-4h0m-1 8h0m-1-17h0m-4 6h0m-3-7h0m-1 8h0m-2 9h0m-3-11h0m0 4h0m-3-10h0m0 2h0m-1 15h0m-5-1h0m-2-7h0m-6-7h0m-1-1h0m-2 4h0m-6 4h0m-1-3h0m-5 4h0m-9 1h0m-10-11h0m-2 3h0m-3 12h0m-3-4h0m-1 5h0m-2-12h0m-1 1h0m-3-2h0m0 2h0m-3 14h0m-2-6h0m-1-8h0m-3-2h0m0 12h0m-4-4h0m-1 5h0m-1-11h0m-3 1h0m-1-6h0m0 11h0m-3 5h0m-13-8h0m-4 3h0m0 3h0m-1 0h0m-6-7h0m-4 5h0m-3-4h0m0 10h0m-2-2h0m-2-16h0m-4 8h0m-4-6h0m-1 7h0m0 7h0m-2-3h0m-1-13h0m-5 19h0m-1-13h0m0 5h0m-2-5h0m-3 4h0m-4-1h0m-1-3h0m-1 2h0m-4 10h0m-3-16h0m0 4h0m-1 11h0m-2-14h0m0 9h0m-3-4h0m-7 10h0m-2-14h0m0 5h0m-1-5h0m-1-4h0m-4 17h0m-4-11h0m-2 6h0m-3-5h0m0 7h0m-7-10h0m-5 14h0m-4-15h0m0 16h0m-2-16h0m0-3h0m-3 0h0m-2 18h0m-3-9h0m0 7h0m-1-11h0m-2 10h0m-1 3h0m-2-12h0m-8-1h0m-2 1h0m0 10h0m-1-4h0m-6-9h0m-7 6h0m-5 7h0m-1-3h0m-8 3h0m-4 3h0m-1-6h0m-2-6h0m-1-1h0m-4-4h0m-7 27h0m1 8h0m2-17h0m3 11h0m1-11h0m1 4h0m6 1h0m1 3h0m1 9h0m2-9h0m3-5h0m0 12h0m3-14h0m0 13h0m0 2h0m6 1h0m1-17h0m0 7h0m0 12h0m6-15h0m1-2h0m1 14h0m2-2h0m3-4h0m2 2h0m2-5h0m3-3h0m1 14h0m6-8h0m1-6h0m2 1h0m7 2h0m4 7h0m2-11h0m1 16h0m1-12h0m3-3h0m0 10h0m4-14h0m0 8h0m1 7h0m2-13h0m3 8h0m0 5h0m2-12h0m2 5h0m5 8h0m4 3h0m8-3h0m1-8h0m2 2h0m2-4h0m3 10h0m0 3h0m5-16h0m0 8h0m1-2h0m1-5h0m9 12h0m1-16h0m0 7h0m1-5h0m5 13h0m3-15h0m4 13h0m0 5h0m3-5h0m3-11h0m2 7h0m0 9h0m4-17h0m0 12h0m4-1h0m0 4h0m1-15h0m0 4h0m5 10h0m1 2h0m8-3h0m6-6h0m0 2h0m6-7h0m7-3h0m0 7h0m0 8h0m2-14h0m5 4h0m4 2h0m1 10h0m2-12h0m1 6h0m4-2h0m1 3h0m3 3h0m1-14h0m0 6h0m2 1h0m2 4h0m2-10h0m6-1h0m8 11h0m1 2h0m3-9h0m1 13h0m2-7h0m1-4h0m2 4h0m1 3h0m3 1h0m2-1h0m1 1h0m3-11h0m1 0h0m1 3h0m1 4h0m4 6h0m5-2h0m3 0h0m3-5h0m2-4h0m0 6h0m3 5h0m5-12h0m0 4h0m5 2h0m1-10h0m0 18h0m1-10h0m14 4h0m2-10h0m4 7h0m0 6h0m3-16h0m0 9h0m0 10h0m4-6h0m1-6h0m5-1h0m4-6h0m0 12h0m1 3h0m2 1h0m2-12h0m6 10h0m3 5h0m4-12h0m1-5h0m3 9h0m2-8h0m3 1h0m7 3h0m1-5h0m7 5h0m1-4h0m0 5h0m4-7h0m2-1h0m3 8h0m3-6h0m4 10h0m6-12h0m1 9h0m3-6h0m15 4h0m7-1h0m0 4h0m2 1h0m4-10h0m0 2h0m4 6h0m2-4h0m3 3h0m0 4h0m3-10h0m4 8h0m0 6h0m1-16h0m2 15h0m1-13h0m0 6h0m4-1h0m2-5h0m0 11h0m2 4h0m4-9h0m6 9h0m7-16h0m1 15h0m6-3h0m0 1h0m9 4h0m231-7h0m6 7h0m2-4h0m1-12h0m0 9h0m2 0h0m2-6h0m5 3h0m0 9h0m0-1h0m6-11h0m3 13h0m2-6h0m2-11h0m0 7h0m1 8h0m20-16h0m2 2h0m4 2h0m3 8h0m5-9h0m1 14h0m1 1h0m1-7h0m1 4h0m3 4h0m2-19h0m0 9h0m3 4h0m4-5h0m3 6h0m2 0h0m3-3h0m6-2h0m0 8h0m1 1h0m4-7h0m2-8h0m2 7h0m0 7h0m1-1h0m7-15h0m2 17h0m2-12h0m8 11h0m1-7h0m4 3h0m4 4h0m24 20h0m-7-8h0m-1 3h0m-4 2h0m-2-9h0m-1 8h0m-2-13h0m0 9h0m-5-7h0m0 10h0m-3-3h0m-2-8h0m-3 6h0m-1 7h0m-3-8h0m-1 3h0m-3-7h0m-3 12h0m0-1h0m-2 4h0m-10-3h0m-3-1h0m-5-9h0m-5 13h0m-2-10h0m0 11h0m-2-10h0m-7 4h0m0 2h0m-1-10h0m-1 8h0m-3-9h0m0 6h0m-5-2h0m0 9h0m-7-12h0m0 4h0m-4-7h0m0 6h0m-4-6h0m-1 7h0m-6 2h0m-2-1h0m-1-5h0m-3 0h0m-5 5h0m-2-7h0m-2 13h0m0 4h0m-2-12h0m-5 6h0m-1-6h0m-5-2h0m-1 5h0m-2-8h0m-5 14h0m-1-12h0m-4 15h0m-2-9h0m-1-1h0m-4-6h0m-238 5h0m-4 11h0m-4-17h0m-3 16h0m-4-5h0m-2-13h0m0 9h0m-1-4h0m-2-3h0m-1 12h0m-4-8h0m-6-3h0m-1 7h0m-3-7h0m-1 14h0m-2 0h0m-1-8h0m-2-4h0m-4 12h0m-1-13h0m0 4h0m0 5h0m-2-13h0m-2 12h0m-4-4h0m-2 11h0m-6 0h0m-3-15h0m-7 8h0m-1-11h0m0 6h0m-3 6h0m-3-1h0m-2-9h0m-1-1h0m0 7h0m-5 6h0m-1-6h0m-7 1h0m-5-3h0m-3 6h0m-7-10h0m-6-1h0m-3 7h0m0 2h0m0 3h0m-2-7h0m0 12h0m-1-19h0m-4 14h0m-3-8h0m0 11h0m-3-12h0m-1 9h0m-3-9h0m-4 2h0m-3-4h0m0 10h0m-4-12h0m0 6h0m-3-4h0m-2 9h0m-5-7h0m-4 11h0m-3-10h0m0 9h0m-2 4h0m-5-3h0m-1-11h0m-1-2h0m-5 14h0m-2-17h0m-1 9h0m-6-3h0m0 5h0m-1-8h0m-3 6h0m-1 4h0m-1-13h0m-3 0h0m-7 1h0m-1 9h0m-2 9h0m-4-16h0m-5 12h0m-3-14h0m-7 15h0m-3-11h0m-6-1h0m0 13h0m-1-4h0m-5-9h0m-1 14h0m-4-15h0m-1-1h0m-2 17h0m-2-11h0m-3 10h0m-2-13h0m-1 1h0m0 6h0m-3-2h0m-1 7h0m-5-4h0m-2 5h0m-2-5h0m-3-13h0m-2 1h0m0 16h0m-2-7h0m-3-1h0m-1 6h0m-6-5h0m0 6h0m-1-10h0m-4-2h0m-14 0h0m-3 11h0m0 3h0m-1-18h0m0 3h0m-1 7h0m-7-4h0m-1 11h0m-3-2h0m0 4h0m-1-9h0m-1-8h0m-4 3h0m-2 7h0m-1 7h0m-1-15h0m-5-4h0m0 12h0m-2-4h0m-1 8h0m-1-12h0m-4 2h0m0 4h0m-5-10h0m0 11h0m-3-5h0m-3-6h0m-1 15h0m-1 0h0m-1-10h0m-5 2h0m-3-6h0m-2 16h0m-6-14h0m-4 10h0m-2-9h0m0 5h0m-2 8h0m-2-2h0m-1-8h0m-2-4h0m-3-3h0m-4 18h0m-1-16h0m-6 14h0m-1-16h0m-4 8h0m-1-7h0m0 18h0m-2-2h0m-4-8h0m-1 6h0m-1-11h0m0 5h0m-3-5h0m-1 13h0m-4-5h0m0 7h0m-3-10h0m0 10h0m-1-1h0m-1-13h0m-3 4h0m0 5h0m-7-8h0m-3 3h0m-2-9h0m0 3h0m-1 16h0m-4-6h0m-1-1h0m0 6h0m-3-5h0m-7 4h0m-7-7h0m0 7h0m-3 0h0m-3-6h0m-1 6h0m-2-11h0m-5-2h0m0 15h0m-4-5h0m-3 4h0m-4-5h0m-1 2h0m0 4h0m-2-17h0m-2 8h0m-4 23h0m3 0h0m8-9h0m10 13h0m2-2h0m2 4h0m3-5h0m1-8h0m6 1h0m0 6h0m3-9h0m0 4h0m6 0h0m1-6h0m2-2h0m2 11h0m2-1h0m1 9h0m3-7h0m3 7h0m5-11h0m1 7h0m2-1h0m9-1h0m3-5h0m6-6h0m1 6h0m1-6h0m1 8h0m7 2h0m1-2h0m6-8h0m0 17h0m1-10h0m3 4h0m2-7h0m0 4h0m0 6h0m3-15h0m12 8h0m5-9h0m3 6h0m1-2h0m0 4h0m3 7h0m1-8h0m4-5h0m0 10h0m2 7h0m1-7h0m5 0h0m0 7h0m1-17h0m0 4h0m7 11h0m2-9h0m2 2h0m4 4h0m2-12h0m2 7h0m1 4h0m5 1h0m9-13h0m2 13h0m1-13h0m5 11h0m6-9h0m1-3h0m0 16h0m2-2h0m1 5h0m3-8h0m2 6h0m2-2h0m11-15h0m10 3h0m0 10h0m3-3h0m1 3h0m4-8h0m0 5h0m3 4h0m1-12h0m0 11h0m2 2h0m14-3h0m1-3h0m4 6h0m3-12h0m2 1h0m1 7h0m1 3h0m6-10h0m0 1h0m3 8h0m3-13h0m1 7h0m2 6h0m3-12h0m2 10h0m1-4h0m1 4h0m4-5h0m1-4h0m0 11h0m1 5h0m4-5h0m9-11h0m8 10h0m2-5h0m3-7h0m1 6h0m6-4h0m0 4h0m3 7h0m3 3h0m5-3h0m3-4h0m0 8h0m6-6h0m1-7h0m0 12h0m3 3h0m1-2h0m1-6h0m2-11h0m1 11h0m5-7h0m1 2h0m0 9h0m8-10h0m1 7h0m2 3h0m1-13h0m3 9h0m2-5h0m2-2h0m1 3h0m9 7h0m9 4h0m3-6h0m1-11h0m4 11h0m1 5h0m3-2h0m4-14h0m3 1h0m2 14h0m2-15h0m10-1h0m5 6h0m0 12h0m4-11h0m3 7h0m2-6h0m0 11h0m1-4h0m1-12h0m2 8h0m2-5h0m2-5h0m3 8h0m3 2h0m3-8h0m2 9h0m9-5h0m4-6h0m1 1h0m0 8h0m8 0h0m4-2h0m5 4h0m5-4h0m4 9h0m5-2h0m3 3h0m4-8h0m216 1h0m2 7h0m3-6h0m2-6h0m4 9h0m1-8h0m3 7h0m1-7h0m3 10h0m1-16h0m3 17h0m6-12h0m0 9h0m2-9h0m6 0h0m1 3h0m5-4h0m2 6h0m6 5h0m1-9h0m3 2h0m1 5h0m4 2h0m3-12h0m13 13h0m4-2h0m4 0h0m1-13h0m0 4h0m1 13h0m2-13h0m1 8h0m2-9h0m7-5h0m2 14h0m4-13h0m0 3h0m8 7h0m2 0h0m8-6h0m0 10h0m1-6h0m4-5h0m0 2h0m1 8h0m1-1h0m5 1h0m3-13h0m4 6h0m0 9h0m3-8h0m4 10h0m3-14h0m2-3h0m3 3h0m7 2h0m9 27h0m-1-3h0m-1-6h0m-2 4h0m-2 8h0m-3-14h0m-2 7h0m0 7h0m-1-12h0m-5 14h0m-1-14h0m-3 5h0m-1 9h0m-1-6h0m-2-8h0m-4-1h0m0 8h0m0 8h0m-4-12h0m-5-6h0m-1 2h0m-1 7h0m-3 6h0m-1-13h0m-2 13h0m-2-7h0m-3 0h0m-3 7h0m-7-10h0m-5-1h0m-3-4h0m-1 10h0m-1-1h0m-5-2h0m-1 3h0m-2-8h0m-10 3h0m-1 5h0m-3-9h0m-3 5h0m-1 5h0m-4 7h0m-2-10h0m-1 2h0m0 2h0m-2-8h0m-4 1h0m-5 7h0m-3-11h0m-9-1h0m-8 1h0m-3 4h0m-2 13h0m-2-16h0m0 7h0m-4-9h0m-6-1h0m-6 8h0m0-2h0m-1-5h0m-4 6h0m0 12h0m-1-19h0m-3 7h0m-3 8h0m-1-12h0m-1 7h0m-2-5h0m-163 7h0m-53-12h0m-13 2h0m-2 4h0m-13 13h0m-3-3h0m-1-3h0m-4-5h0m-2-2h0m-1 12h0m-2-8h0m-2 7h0m-4-6h0m-1-6h0m-1 0h0m-1 14h0m-3-4h0m-2-5h0m-3 9h0m-2-7h0m-2 2h0m-2-1h0m-2-7h0m-5-5h0m-4 0h0m-6 4h0m-5 0h0m-2 0h0m0 4h0m-4 6h0m0 3h0m-1-10h0m-4 1h0m-2 7h0m-3-9h0m-1 2h0m-3 0h0m-4-8h0m-1 5h0m-5 2h0m0 7h0m-2-15h0m-1 4h0m-3 10h0m-1-1h0m-1-6h0m-2-4h0m-4 8h0m-5-2h0m-3-5h0m-4-4h0m-1 16h0m-1-11h0m-2 9h0m-1-13h0m-1 7h0m-6-5h0m0-2h0m-4 4h0m-1 11h0m-1-5h0m-1-8h0m-1 11h0m0 5h0m-11-16h0m-1 1h0m-5 7h0m-1-8h0m-5 0h0m-1 5h0m-4-5h0m0 12h0m-2-3h0m-1-12h0m-1 18h0m-4-6h0m-4 2h0m-8 2h0m-3 3h0m-3-2h0m-8-11h0m-4-2h0m0 7h0m0 5h0m-5 0h0m-1-4h0m-2 3h0m-6-15h0m-11 6h0m-6 0h0m-2 0h0m0 6h0m-4 7h0m-7-4h0m-4 4h0m-1-17h0m-2 10h0m-5-2h0m-1 7h0m-2-12h0m-2 9h0m-1 5h0m-2 0h0m-2-10h0m-5 4h0m-1 2h0m-11-4h0m-1-4h0m-12 12h0m-4-13h0m0 8h0m-5 2h0m-1-1h0m-2-12h0m-6-2h0m-2 8h0m-3-4h0m0 8h0m-5-13h0m-1 7h0m0 9h0m-1 1h0m-3-16h0m-1 8h0m-4 10h0m-3-15h0m0 3h0m0 6h0m-2 4h0m-4-4h0m-1-6h0m-1-3h0m-20 13h0m-1-14h0m-3 10h0m-1-13h0m0 18h0m-2-8h0m-3-1h0m0 7h0m-5-4h0m-2-12h0m0 9h0m-4-6h0m0 8h0m-5-3h0m-7-7h0m-2-1h0m-7 14h0m-4 0h0m-2-12h0m0 9h0m-2 0h0m0 4h0m-2-12h0m-4 9h0m-1-6h0m-3-2h0m0 13h0m0 2h0m-4-12h0m0 11h0m-5-11h0m-2 4h0m-3 5h0m0-4h0m-1-12h0m-1 8h0m-4-5h0m0 16h0m-2-9h0m-3 5h0m-1-3h0m-8-12h0m-5 9h0m0 9h0m-1-13h0m-1 4h0m-5 1h0m-1-9h0m0 6h0m-1-4h0m-1 16h0m-1-5h0m-7-5h0m-1 2h0m0 5h0m-1-9h0m-2-7h0m-3 3h0m0-2h0m-1 16h0m0-1h0m4 5h0m5 7h0m1 6h0m1-11h0m4 12h0m2-7h0m2 6h0m3-10h0m2 5h0m1 9h0m2-3h0m3-13h0m2 5h0m2 4h0m7 6h0m5-4h0m2-8h0m3 2h0m1 9h0m2-3h0m0 5h0m1-16h0m1-2h0m1 9h0m1 10h0m3-2h0m1-4h0m1-9h0m1 4h0m8 2h0m1-9h0m0 5h0m1 4h0m5-6h0m2 11h0m1-5h0m4 6h0m11 1h0m1-17h0m8 5h0m0 10h0m4 1h0m4-5h0m5-7h0m0 11h0m4-6h0m3-6h0m2-2h0m7 7h0m1 8h0m1-15h0m4 18h0m1-19h0m3 14h0m3-10h0m0 5h0m0 4h0m1-9h0m2 7h0m3-2h0m3-8h0m2 4h0m16-1h0m10 12h0m5 0h0m4-2h0m6 5h0m1-10h0m1 0h0m6-3h0m3 12h0m1-6h0m4-12h0m0 8h0m1 6h0m3 0h0m1-13h0m4 8h0m2-4h0m0 8h0m3-6h0m1 7h0m4 0h0m2-8h0m1-1h0m0 7h0m4-3h0m0 9h0m4-3h0m1-4h0m2-11h0m5 18h0m1-17h0m3 0h0m12 8h0m1 9h0m4-3h0m2 4h0m3-4h0m1-6h0m0 2h0m1-6h0m1-1h0m6 3h0m1 6h0m1-11h0m10 8h0m0 9h0m1-14h0m5 7h0m2-5h0m1 11h0m1-11h0m1-7h0m3 19h0m5-18h0m5 5h0m1 2h0m3-5h0m5-2h0m1 5h0m2-4h0m1 10h0m2-6h0m9 0h0m1 7h0m3-13h0m0 4h0m7 5h0m1 1h0m0 3h0m3 4h0m5-3h0m4-3h0m2-7h0m0 6h0m6 8h0m1-7h0m2-6h0m0 1h0m1-6h0m2 2h0m4 8h0m1 8h0m6-7h0m2 6h0m1-12h0m0 11h0m5-8h0m3-4h0m15-4h0m2 16h0m9 1h0m4 2h0m4-16h0m4 3h0m4-6h0m0 18h0m14-9h0m0 9h0m7-15h0m1 7h0m4-2h0m1-4h0m14 1h0m2 14h0m4-1h0m25 1h0m8-14h0m2 3h0m0 7h0m44-7h0m12 7h0m2 3h0m149-16h0m0 6h0m3 7h0m3-1h0m1-8h0m2 6h0m1-6h0m5 7h0m1-13h0m2 2h0m2 15h0m2-5h0m3-4h0m5-5h0m0 5h0m3 0h0m0 7h0m1-4h0m3 4h0m11 0h0m0 4h0m6-11h0m4-2h0m0 11h0m7-1h0m5-10h0m0 7h0m3 6h0m3-12h0m1 3h0m1 7h0m1 0h0m5 2h0m7-17h0m2 13h0m2-12h0m2 3h0m1 8h0m1-6h0m4-7h0m0 17h0m3-12h0m1 4h0m2 6h0m11-8h0m1-2h0m2 2h0m0 7h0m4-14h0m0 4h0m11 8h0m2 6h0m3-15h0m1 7h0m5-1h0m1-5h0m2-4h0m1 8h0m2 5h0m3-9h0m3 1h0m4 8h0m3-4h0m0 9h0m1-4h0m19 24h0m-11-5h0m-4-4h0m-1 9h0m-2-7h0m-1-8h0m-1 0h0m-1 14h0m-3-4h0m-1-13h0m-3 8h0m-4-4h0m0 9h0m-1-7h0m-8 5h0m-1 7h0m-2-12h0m-3 4h0m0 7h0m-1-2h0m-3-9h0m-5-3h0m0 8h0m0 5h0m-6-15h0m-1 9h0m-2-1h0m-2 0h0m0 7h0m-2-14h0m-1-2h0m-3-1h0m-1 10h0m-1-9h0m-1 9h0m-2 9h0m-5-9h0m-5-6h0m-2-1h0m-8-1h0m0 11h0m-6-8h0m-7 0h0m0 11h0m-4 3h0m-2-7h0m-1-10h0m-3 7h0m-3-8h0m-2 18h0m-1-11h0m-2 3h0m-5-9h0m-1 13h0m-2-7h0m-1 3h0m0 7h0m-16-3h0m-1-1h0m-11-7h0m-4 1h0m-4 7h0m-2-5h0m0 9h0m-4-14h0m-1 7h0m-200-3h0m-6 0h0m-4 2h0m-6 7h0m-3 1h0m-4-8h0m-1 5h0m-4-12h0m-6 7h0m-2-2h0m-15-4h0m-23 12h0m-18-17h0m-5 6h0m-7-3h0m-3 3h0m-2-6h0m-11 5h0m-13 1h0m-3 9h0m-4-7h0m-1 6h0m-1-14h0m-1 1h0m-2 16h0m-2-9h0m-1 8h0m-3-13h0m-2 0h0m-4-1h0m0-2h0m-5 2h0m-2 16h0m-5-18h0m-3 18h0m-4-2h0m-4 2h0m-8 0h0m-1-2h0m-3 1h0m-1-15h0m0 5h0m0 3h0m-3-4h0m-5 2h0m-2 6h0m-2-13h0m-2 9h0m-2-4h0m-4-2h0m-7 2h0m-10 8h0m-3-12h0m-4 13h0m-1-12h0m-3 2h0m0 14h0m0-2h0m-4-11h0m-5-4h0m0 6h0m-4 10h0m-10-11h0m-3 10h0m-1-7h0m-4-4h0m-1 10h0m-4-6h0m0 8h0m-1-17h0m-2 12h0m-1-10h0m-3-1h0m0 17h0m-2-10h0m0 6h0m-4-13h0m0 10h0m-3-8h0m-11 3h0m-9-1h0m-1-5h0m-1 17h0m-2-8h0m-3 7h0m-1-11h0m-2 7h0m-2-5h0m0 10h0m-1-12h0m-5 9h0m-1-9h0m-1-5h0m0 9h0m-2-2h0m0 10h0m-1-16h0m-5-2h0m-8 16h0m-4-10h0m-1-6h0m-4 10h0m-13-4h0m-4 5h0m-1-11h0m0 13h0m-2-11h0m-3 8h0m-2 1h0m-2 6h0m-6-3h0m-4-1h0m-5-12h0m-2 6h0m-1 6h0m-4-7h0m-5 13h0m-1-18h0m-5 12h0m-3 4h0m-3-5h0m-2 2h0m-7 1h0m-2-3h0m-5-9h0m0 4h0m-5 7h0m-2 4h0m-2-12h0m0 2h0m-1 3h0m-3-2h0m-1 7h0m-2-5h0m-2 7h0m-1-17h0m-8 1h0m-6 1h0m-2 3h0m-7 0h0m-1 13h0m-3-2h0m-3-5h0m-1 4h0m-1-4h0m-7 7h0m-3-18h0m-3 9h0m-3-8h0m-3 3h0m-2-5h0m-1 18h0m-1-9h0m0 5h0m-1-14h0m-1 4h0m-2 7h0m-5-4h0m-4 11h0m-4-5h0m-3-3h0m-3 5h0m-1-14h0m0 13h0m6 9h0m2 8h0m3 7h0m4-13h0m2-3h0m3 17h0m6-9h0m3-10h0m3 9h0m1 6h0m3-6h0m3-1h0m1-3h0m4 2h0m0 9h0m2 0h0m1-12h0m1 1h0m1 6h0m4-9h0m5 8h0m1 8h0m5-10h0m2 6h0m6-6h0m5-8h0m0 18h0m9-6h0m1-12h0m1 4h0m3 7h0m0 5h0m7-6h0m0 5h0m3-7h0m1 9h0m1-17h0m1 7h0m3 5h0m1 6h0m2-16h0m4 5h0m0 5h0m3 4h0m1-11h0m0 6h0m4-7h0m3 6h0m0 3h0m5 3h0m1 2h0m1-13h0m3 7h0m1 0h0m3-12h0m4 2h0m13 11h0m1-8h0m2-1h0m0-2h0m6 16h0m2-10h0m0 9h0m8-14h0m1 16h0m5-14h0m2-4h0m0 18h0m3-10h0m8 8h0m5-13h0m2 6h0m4-10h0m0 12h0m3-6h0m0 11h0m2-12h0m1 14h0m5-10h0m1-8h0m0 8h0m5-1h0m2-3h0m3 2h0m2 5h0m8-12h0m2 18h0m9 0h0m4-5h0m1-9h0m0 14h0m4-11h0m1-2h0m7-3h0m1 14h0m1-10h0m2 6h0m3-7h0m1-4h0m1 17h0m2-8h0m0 3h0m3-9h0m5 7h0m2-2h0m0 9h0m7 0h0m2-14h0m6 7h0m1-11h0m4 3h0m2 5h0m2-7h0m0 14h0m3-11h0m5 9h0m0 3h0m1-12h0m2-2h0m5 13h0m21-8h0m1-4h0m2 3h0m3 6h0m3-9h0m1 5h0m3 2h0m4-10h0m1 0h0m3 19h0m11-14h0m4-3h0m0 9h0m2-5h0m9 0h0m0 5h0m2 5h0m3-16h0m12 11h0m1 6h0m3-4h0m7-3h0m42 8h0m2-5h0m22-12h0m22 12h0m6-5h0m2 3h0m1 5h0m2-4h0m2-9h0m1 1h0m2-2h0m2 11h0m2-1h0m2 0h0m2 6h0m1-1h0m2-7h0m219-1h0m0 3h0m3-12h0m1 5h0m3 2h0m1-2h0m5-2h0m3 10h0m3 0h0m4 4h0m2-12h0m0 3h0m4 2h0m0 6h0m1-12h0m3 15h0m1-14h0m1 7h0m4-7h0m3 8h0m2-13h0m0 6h0m2 11h0m1-5h0m4-7h0m0 13h0m2-12h0m6-1h0m0 11h0m2 1h0m1-13h0m1 4h0m5 4h0m1 7h0m3-5h0m4-5h0m1 9h0m1-8h0m1-3h0m3-1h0m0 3h0m15-2h0m1 7h0m2 4h0m7-7h0m4-9h0m4 5h0m2 0h0m3 9h0m0 1h0m3-14h0m0 6h0m3 5h0m8-2h0m0 6h0m1-1h0m6-3h0m1-11h0m4-3h0m9 8h0m1-7h0m1 1h0m8-1h0m1 10h0m0 8h0m1-16h0m2 7h0m8 7h0m-8 17h0m-2-6h0m-2-4h0m0 5h0m-2-9h0m-3 12h0m-1-9h0m-2 9h0m-1-7h0m-2-4h0m-4 4h0m0 9h0m-2-4h0m0 4h0m-1-5h0m-5 5h0m-1-4h0m-4 6h0m-7 3h0m-3-14h0m-1-3h0m-1 12h0m-4-7h0m0-2h0m-2 9h0m-1 5h0m-2-12h0m-12 12h0m-2-5h0m-4-11h0m-1 6h0m-1 5h0m-1-6h0m-1-6h0m0 12h0m-7-11h0m-1 3h0m-4-6h0m-2 7h0m-1 4h0m-4-6h0m-7 5h0m-1-8h0m-11 0h0m-27 2h0m-233 14h0m-6-14h0m-2 5h0m0 5h0m-3 3h0m-3-4h0m-5-10h0m-27 13h0m-1-6h0m-2 8h0m-8-5h0m-2 0h0m-4-4h0m-8 5h0m-5-8h0m-15 8h0m-1 0h0m-4-3h0m-21 7h0m-26-13h0m-3-3h0m-13 10h0m-9-6h0m-3 1h0m-3 2h0m-7-3h0m-31-5h0m0 4h0m-1 6h0m-1 5h0m-5-11h0m-3 1h0m0 9h0m-3-14h0m-3 18h0m-1-8h0m-1-9h0m0 3h0m-4 7h0m-2-12h0m-4 19h0m-1-9h0m-4-6h0m0 10h0m-8-7h0m-3 1h0m0 1h0m0 7h0m-9-15h0m-5 4h0m-1 2h0m-1-4h0m0 10h0m-3-12h0m-1 1h0m-3 6h0m-1 7h0m-4-5h0m-5 8h0m-1 0h0m-4-16h0m-1 8h0m-5-4h0m-1 2h0m-2-1h0m-5-7h0m0 14h0m-1-11h0m0 7h0m-3 4h0m-1-9h0m-4 4h0m0 7h0m-1-10h0m-3 12h0m-1-5h0m-3-7h0m-6-6h0m-1 7h0m-6-4h0m-6 0h0m-2 6h0m-2-1h0m0 5h0m-1 1h0m-3 5h0m-2-3h0m-3-12h0m-3 15h0m-2-10h0m-2 1h0m-2-3h0m-6 4h0m-2-8h0m-3 13h0m-2-11h0m-1 6h0m-7 5h0m-3-6h0m-6 2h0m-7 1h0m-2-8h0m-2 5h0m-1 5h0m-5-7h0m-3 7h0m0 3h0m-1-14h0m-2 5h0m0 10h0m-7-12h0m-1-4h0m-3-3h0m-3 8h0m-4-6h0m-2 5h0m-4-1h0m-2 5h0m-3 1h0m-5 6h0m-4-15h0m0 9h0m-1-1h0m-4 7h0m-1-6h0m-1 3h0m-3-12h0m0 5h0m-2-2h0m-3-4h0m-5 11h0m-1-13h0m-3 19h0m-1-12h0m-3 6h0m-3-1h0m0 7h0m-10-1h0m-11-10h0m-1-2h0m0 13h0m-1-19h0m-3 11h0m-1-11h0m-3 3h0m-4 9h0m-1 6h0m-5-1h0m-1-6h0m-1-10h0m3 19h0m4 2h0m0 5h0m12-2h0m1-3h0m1 9h0m3 1h0m4-3h0m4 5h0m3-8h0m4 7h0m3-13h0m3 2h0m0 17h0m10-16h0m0 10h0m1 3h0m7-9h0m2-3h0m0 7h0m6-5h0m0 6h0m2-10h0m3 1h0m3 5h0m2 6h0m5 0h0m1-9h0m0 4h0m2 10h0m1-18h0m1 11h0m2-4h0m3 3h0m3-8h0m1 14h0m5-16h0m1 9h0m7 0h0m2-4h0m3-3h0m2 2h0m2 3h0m2 6h0m4-4h0m1-8h0m1-2h0m1 10h0m2 7h0m4-13h0m0 7h0m1-7h0m0 14h0m5-1h0m15-9h0m0 11h0m3-18h0m0 11h0m0 5h0m2-17h0m1 6h0m0 7h0m5-9h0m1 10h0m3-6h0m3-8h0m2 19h0m2-15h0m4 11h0m0-2h0m6-5h0m2-4h0m10-4h0m2 17h0m3-15h0m17 8h0m9-4h0m3-5h0m6 2h0m3 13h0m2-10h0m6 7h0m5 2h0m1-13h0m2 11h0m5 2h0m1-13h0m0 10h0m5-3h0m3-9h0m7 18h0m4 0h0m2-18h0m3 1h0m2 4h0m1 6h0m3 7h0m2-11h0m0 12h0m1-16h0m2 9h0m2-11h0m2 5h0m0 4h0m2 6h0m1 0h0m4-16h0m6 8h0m1 9h0m8-4h0m0 1h0m6-5h0m3-5h0m0 15h0m12-17h0m0 6h0m1 3h0m0 6h0m2-16h0m1 15h0m4 1h0m1-14h0m2 8h0m14-9h0m10 1h0m18 4h0m1 3h0m0 3h0m22-9h0m10-1h0m50 6h0m1 4h0m3-2h0m2-7h0m4 10h0m1 3h0m2-11h0m5 7h0m1-1h0m4 3h0m2-10h0m0 3h0m1 5h0m24 2h0m6-2h0m313-13h0m9 0h0m-321 37h0m-13-8h0m-7 8h0m-6-12h0m-10 10h0m-2-14h0m-2 9h0m-3-4h0m-1-6h0m-127 17h0m-30 1h0m-3-18h0m-1 3h0m-6-3h0m-8 1h0m0 3h0m0 11h0m-2-5h0m-1-8h0m-1 16h0m-3-7h0m-2 7h0m-2-11h0m-1-4h0m-4-2h0m-6 9h0m-1 6h0m-2-10h0m0 12h0m-3-12h0m0 7h0m-10 0h0m-5 2h0m-3-11h0m-5 4h0m-7-8h0m-3 14h0m-11-13h0m-11 7h0m-1-1h0m-7 11h0m-2-5h0m-4 6h0m-3-11h0m-2 5h0m-3-13h0m-2 1h0m-1 3h0m0 13h0m-2-4h0m-1-6h0m-4-1h0m-2 11h0m-1-11h0m0 9h0m-1-5h0m-7-9h0m-3 8h0m-3-8h0m-2 0h0m-2 2h0m0 7h0m-6 3h0m-5-5h0m-1 3h0m-2-10h0m-1 11h0m0 7h0m-3-10h0m-2-8h0m0 4h0m0 13h0m-2-4h0m-4-4h0m-2-8h0m0 10h0m-1 3h0m-1 4h0m-1-1h0m-4-14h0m-1 3h0m-3-7h0m-1 4h0m-3-1h0m-4 15h0m-1-3h0m-1-12h0m-4 0h0m-2 12h0m-2-10h0m-1 5h0m-9-10h0m-5 9h0m-8 9h0m-4-7h0m-1-10h0m-5 1h0m-4-2h0m-2 8h0m-4-3h0m0 7h0m-5-6h0m-1 9h0m-1-15h0m0 16h0m-1-12h0m-2 5h0m-4 0h0m-1 9h0m-1-15h0m-4 8h0m-12 0h0m-1 8h0m-2-15h0m-1 13h0m-3-16h0m0 10h0m-4-2h0m-3 3h0m-1 5h0m-2-3h0m-7-3h0m-3-4h0m-1-5h0m-4 1h0m-1 8h0m15 13h0m0-1h0m1 2h0m7-5h0m0 13h0m2-9h0m0 3h0m0 2h0m1 10h0m2-2h0m3-14h0m2 0h0m10 12h0m2-14h0m4 2h0m0 11h0m4-8h0m1 9h0m1-11h0m2 6h0m0 3h0m5-3h0m17-2h0m2 3h0m3-10h0m2 3h0m3 4h0m1 5h0m2-9h0m0-2h0m4 13h0m2-1h0m1-10h0m2 6h0m2-5h0m5 10h0m3-7h0m1 9h0m0 1h0m2-9h0m6 6h0m1-5h0m1 8h0m1-14h0m4 5h0m1 2h0m10 8h0m1-8h0m2-8h0m2 8h0m3 3h0m1 5h0m7-18h0m0 15h0m1-12h0m0 6h0m3-4h0m0 8h0m5-12h0m0 9h0m1 6h0m3-11h0m3 9h0m2 0h0m8-8h0m2 7h0m0 3h0m3-3h0m2-13h0m1 15h0m2-13h0m8-1h0m4 11h0m1-9h0m6 9h0m3-5h0m0 6h0m0 4h0m3-13h0m3 4h0m1 4h0m1-1h0m9-4h0m1-3h0m1 8h0m7 4h0m1-16h0m1 17h0m5-18h0m2 7h0m7 4h0m2-9h0m0 5h0m3 8h0m2-12h0m0 12h0m2-5h0m3-10h0m1 3h0m2-1h0m3 2h0m4 11h0m1-3h0m1 6h0m6-18h0m0 12h0m1-8h0m2 9h0m2-8h0m1-1h0m18 13h0m6-3h0m1 4h0m9-18h0m4 10h0m1-10h0m7 13h0m8 0h0m3-9h0m0 4h0m1 11h0m4 0h0m5-16h0m11 14h0m30-8h0m23-5h0m21 10h0m65-7h0m7-6h0m11 2h0m66 29h0m-179-10h0m0 11h0m-24-1h0m-17-3h0m-1 2h0m-1 0h0m-1-8h0m-11 6h0m-14 10h0m-3-18h0m-11 11h0m-3 7h0m-8-1h0m-6-18h0m-4 2h0m-1 7h0m-3 2h0m-4 6h0m-5-3h0m-15-7h0m-1-7h0m-12 10h0m-1 8h0m-5 0h0m-1-10h0m-1 4h0m0 6h0m-1-1h0m-4-10h0m-3 5h0m0 4h0m-8 1h0m-5-5h0m-1-9h0m0 6h0m-3-2h0m-2-7h0m0 11h0m-1 4h0m-5 1h0m-2-10h0m-2-2h0m-1-4h0m-7 2h0m-2 2h0m-1 8h0m-2-10h0m-3 6h0m0 10h0m-1-7h0m-9 3h0m-2-5h0m-1 4h0m-5 6h0m-2-8h0m-2-4h0m0 6h0m-1-8h0m-1-5h0m-1 7h0m-3-5h0m-2 11h0m-3-13h0m0 6h0m-2-5h0m-1 15h0m-2-8h0m-4-6h0m-1 8h0m-3-4h0m-1-3h0m-7-1h0m-5 3h0m-3 11h0m-1-16h0m-4 15h0m-1-6h0m-3 3h0m-4-1h0m-1 6h0m-1-13h0m-2 4h0m-4 6h0m0 5h0m-8-2h0m-6-2h0m-12 2h0m-7 2h0m-8-2h0m-5-3h0m-4-2h0m-3-9h0m-3-1h0m-1 5h0m-1 8h0m-1 4h0m-1-9h0m-3 5h0m-2-3h0m-4-4h0m0 9h0m-4-6h0m-1-10h0m-2 5h0m0 11h0m-3-17h0m0 12h0m-2 4h0m-1-9h0m-1 2h0m-9-6h0m4 21h0m7 4h0m2 10h0m1-6h0m4 5h0m6-17h0m1 8h0m0 8h0m6-13h0m2 8h0m0-2h0m7-5h0m1-4h0m1 3h0m1 8h0m1 8h0m5-13h0m4 7h0m3 4h0m1-10h0m0 7h0m4 3h0m1-14h0m1 7h0m1 5h0m1-2h0m1-6h0m18 0h0m3 3h0m3-7h0m1 13h0m2-10h0m1 7h0m4-11h0m3 9h0m2-4h0m2-5h0m2 12h0m2-10h0m2 14h0m5-3h0m1-13h0m4 2h0m6 7h0m5-5h0m3 6h0m0 2h0m4 5h0m6-15h0m1-3h0m5-1h0m5 19h0m3-11h0m0 3h0m1 0h0m11-1h0m6-7h0m5 11h0m5-11h0m0-2h0m2 4h0m4-1h0m1-2h0m3 12h0m4-12h0m0 4h0m3 12h0m5-6h0m2-9h0m4 15h0m1-15h0m2 9h0m1-1h0m1-9h0m0 16h0m4-9h0m4 3h0m3-4h0m1 11h0m6-17h0m4 2h0m0 14h0m3-18h0m2 18h0m4-12h0m1 8h0m8-8h0m2 4h0m1-10h0m0 6h0m2 13h0m1-17h0m3 15h0m1-5h0m1-5h0m5 12h0m17-6h0m1 5h0m6-5h0m4 0h0m2-7h0m0 7h0m9-8h0m1 3h0m3 2h0m2-8h0m1 14h0m10-7h0m6-4h0m8 20h0m-30 9h0m-1-10h0m-2 0h0m-12 4h0m-2-4h0m-3 7h0m-2-4h0m-6 10h0m-5-14h0m-8 7h0m-5 6h0m-10-12h0m-1 15h0m-3-1h0m-6-14h0m-7 12h0m-8-12h0m-10-1h0m-4 2h0m-1 6h0m-2-9h0m-2 5h0m-2 6h0m-3 4h0m-2-7h0m-4-5h0m-1 7h0m-44-8h0m-24 3h0m-1 3h0m0 3h0m-1-13h0m-2 19h0m-3-17h0m-1 15h0m-2-15h0m-1 15h0m-7-13h0m-1-4h0m0 12h0m-10-10h0m-8 12h0m-2-2h0m-1 1h0m-3 6h0m-8-14h0m-1 9h0m-1 4h0m-1-12h0m0 6h0m-2 3h0m-2-13h0m-3 6h0m-3 9h0m-4-14h0m0 4h0m-12-5h0m-1 12h0m-1-10h0m0 6h0m0 9h0m-6-9h0m-4-4h0m0 9h0m0-3h0m-3 3h0m-1-13h0m-3 5h0m0 8h0m-1-1h0m-5-12h0m0 8h0m-5-10h0m0 8h0m-1 6h0m-1 1h0m-3-8h0m-3-7h0m-1 7h0m-1-6h0m82 19h0m25 6h0m6 4h0m137-10h0m37 2h0m7 3h0m2-3h0m17 1h0m1-1h0m-92 92h0m4 4h0m16-7h0m0 4h0m27-3h0" stroke="#F3F4E8" stroke-width="8.8"/>
<path d="M554 1394h0m19 40h0m-129 6h0m4 4h0m288 18h0m-77 11h0m-297 1h0m356 24h0m40-2h0m-21 22h0m-208 16h0m221 2h0m-135 20h0m-26-1h0m-30-12h0m-277 32h0m47 1h0m81-14h0m159 2h0m19-2h0m28-1h0m89 9h0m52 26h0m-8-12h0m-350 14h0m-6 1h0m-29-11h0m-11 8h0m-95 17h0m36 5h0m227-14h0m0 1h0m48 14h0m158-16h0m7 4h0m21 11h0m49-9h0m131-7h0m13 26h0m-8 0h0m-33-5h0m-155 3h0m-28-3h0m-23-2h0m-338 5h0m-113 12h0m66 7h0m40 8h0m40-5h0m261 2h0m65-10h0m4 4h0m4-2h0m1 3h0m10 4h0m16 1h0m270 19h0m-269 7h0m-24-16h0m-155 7h0m-7-6h0m-22 18h0m-304-16h0m292 20h0m154 3h0m49 4h0m20 3h0m17-7h0m26 5h0m0 2h0m236 11h0m-246 14h0m-9-2h0m-27 2h0m-1-9h0m-373-2h0m-4 9h0m-103 3h0m-17-9h0m-14-10h0m54 29h0m37 9h0m70 0h0m45-2h0m35-9h0m288-3h0m34 10h0m13-3h0m80-8h0m230 23h0m-309-4h0m-5-2h0m-22 4h0m-16 15h0m-12-8h0m-413 5h0m-92-1h0m-1-6h0m52 13h0m96 5h0m13-3h0m132 1h0m18 7h0m20-10h0m67 17h0m132-3h0m2 0h0m145-4h0m89-7h0m-190 16h0m-40 10h0m-2 7h0m-2 0h0m-44-10h0m-13-6h0m-66 14h0m-5-6h0m-29 7h0m-25-12h0m-2 1h0m-105 11h0m-137-2h0m65 17h0m9-3h0m83-8h0m66 9h0m28 9h0m4-16h0m1 8h0m0 8h0m31-15h0m16 2h0m58 5h0m7-9h0m52 1h0m2 2h0m11 9h0m12 4h0m31-5h0m8 3h0m7 23h0m-52-10h0m-102-8h0m-38 10h0m-3 1h0m-162-7h0m-22 6h0m-32-11h0m-81 25h0m231 14h0m23-2h0m9-4h0m31 24h0m-29-16h0m-45 9h0m-3-2h0m-16 8h0m-2 3h0m-5-12h0m-3-3h0m-9 13h0m-1-2h0m-1-2h0m0 6h0m-1-13h0m-22 5h0m-1-2h0m-3 8h0m-6-7h0m-2 4h0m-2-12h0m-4 2h0m-3 15h0m-19-16h0m-38 2h0m-18 17h0m5 5h0m80 11h0m56-4h0m5-2h0m4 2h0m6-1h0m16-2h0m15-1h0m-45 13h0m-51-1h0m22 33h0m3-12h0m44 33h0m-19-16h0m-86 9h0m14 11h0m54 12h0m2 7h0m3-3h0m16-9h0" stroke="#F8FAD2" stroke-width="8.8"/>
<path d="M519 1410h0m28-8h0m73 3h0m43 17h0m-82-2h0m-23 19h0m-126-1h0m-21 6h0m28 0h0m297 30h0m-77 4h0m-16-14h0m-120 2h0m-93 32h0m208-7h0m57 0h0m13 11h0m-35 9h0m-151 6h0m-18 0h0m-12-11h0m-176 9h0m397 21h0m6-7h0m-89 29h0m-294-15h0m-64 32h0m135-13h0m33 3h0m194 8h0m8 3h0m348 15h0m-77 7h0m-11-11h0m-145 7h0m-22 2h0m-175-8h0m-155 5h0m-100-12h0m9 25h0m93-6h0m107 3h0m35 10h0m101-10h0m75 12h0m1-6h0m34 5h0m258-14h0m78 29h0m-6-2h0m-1 3h0m-32-10h0m-145 12h0m-17-12h0m-133 6h0m-18-5h0m-20 6h0m-426 15h0m7 17h0m68-4h0m19 4h0m197-2h0m134-4h0m1-13h0m4 2h0m20 10h0m4 7h0m1-6h0m6-1h0m5 4h0m5-3h0m1-11h0m17 14h0m1 2h0m154-4h0m13-11h0m1 13h0m8-3h0m-35 8h0m-27 9h0m-112 3h0m-2-13h0m-149 14h0m-3-12h0m-154 2h0m-37 11h0m120 24h0m191-11h0m50 4h0m135-11h0m25 8h0m-159 14h0m-435 10h0m-79-7h0m-10 23h0m11-4h0m52 8h0m18-11h0m155 15h0m0 1h0m100-18h0m142 5h0m8 10h0m4-2h0m24-12h0m13 13h0m242-1h0m-227 19h0m-36 4h0m-14-7h0m-86 6h0m-134 0h0m-153-8h0m-42-4h0m-36 9h0m8 21h0m1 0h0m1 2h0m16 4h0m410-9h0m61 2h0m109-4h0m-90 12h0m0 18h0m-2-3h0m-35-2h0m-4 0h0m-2 6h0m-6-16h0m-339 4h0m-34-2h0m-30 24h0m41 0h0m101-2h0m136 7h0m2 4h0m34-14h0m65 8h0m5-5h0m27-1h0m3-2h0m36 1h0m8 11h0m1-12h0m1 22h0m-1 3h0m-17-9h0m-115 4h0m-7 10h0m-18 4h0m-25-3h0m-3-13h0m-61 9h0m-195 8h0m4 16h0m138-9h0m82 2h0m7 2h0m1 9h0m9-9h0m3-8h0m28 0h0m1 3h0m181 2h0m-205 28h0m-11-3h0m-2-3h0m-41 8h0m-44-15h0m-6 9h0m-28 8h0m-10-5h0m-11-4h0m-10-3h0m-42-2h0m-17 25h0m30-2h0m3 8h0m10-6h0m23-8h0m2 7h0m6-7h0m9 9h0m0 5h0m45-13h0m19-1h0m12 7h0m1 1h0m21-6h0m4 4h0m39-1h0m1 4h0m12-6h0m194 2h0m-246 13h0m-23 6h0m-2 5h0m-16-1h0m-10 6h0m-11 0h0m-25-16h0m-44 17h0m-33-17h0m12 21h0m14 12h0m3-2h0m42-2h0m50 2h0m2-5h0m0 7h0m78-9h0m2-1h0m0-2h0m6 10h0m186 4h0m-41 23h0m-219-1h0m-16-11h0m-3 0h0m-26 2h0m-30 6h0m-10 4h0m0-2h0m-2-4h0m-8 11h0m6 1h0m8 0h0m42 14h0m2-1h0m39-5h0m226-12h0" stroke="#F5F9C7" stroke-width="8.8"/>
<path d="M519 1437h0m49 81h0m5 7h0m27 24h0m-162-5h0m510 34h0m-42 16h0m-207-13h0m-183 22h0m420 16h0m11 8h0m-172 6h0m-14-1h0m-5-10h0m-5 12h0m-2-5h0m-5 8h0m-16 0h0m-2-13h0m133 17h0m66 22h0m-4 7h0m-34-6h0m-119 13h0m-17 5h0m3 5h0m22 9h0m24-4h0m268 0h0m-215 20h0m-72 9h0m25 7h0m12 31h0m-38-4h0m-321 3h0m345 20h0m29-1h0m-27 7h0m-3 0h0m-3 5h0m-4-4h0m-79 33h0m62-6h0m44-9h0m3 13h0m10-1h0m14-11h0m-59 27h0m-60-11h0m-16 5h0m-358 28h0m505-10h0m1 16h0m-13 13h0m-206-12h0m-78 18h0m-14-2h0m-40 0h0m0 1h0m-76 18h0m2 0h0m40-2h0m28-12h0m4 17h0m56-13h0m4-3h0m3 6h0m21 0h0m25-1h0m21 9h0m1-5h0m6 4h0m11 2h0m1-4h0m3-13h0m49 13h0m138 17h0m-51 8h0m-23-12h0m-65-4h0m-132 6h0m-56-2h0m-1-5h0m-9 2h0m-5 18h0m31 12h0m57 3h0m216-1h0m4-9h0m37 6h0m14-2h0m-42 26h0m-7 0h0m-21-9h0m-13 6h0m-150-5h0m-67-4h0m-35 1h0m-46-4h0m41 29h0m4-7h0m19 11h0m5 4h0m21-17h0" stroke="#F1F8BC" stroke-width="8.8"/>
<path d="M742 1602h0m12 8h0m34 3h0m-30 22h0m-4-2h0m-3-7h0m-4 8h0m-12-11h0m24 35h0m165-14h0m8 1h0m5 19h0m-24 2h0m-132 3h0m-19 29h0m1-9h0m8-2h0m1 1h0m27 38h0m4 11h0m2-11h0m196 28h0m-210 13h0m43 16h0m-28-2h0m-3 4h0m-2 9h0m-73 23h0m54 0h0m19 17h0m-5-6h0m-9-8h0m-4 0h0m-3 6h0m-40 10h0m-9-15h0m-22 10h0m-2-2h0m-45 21h0m14-10h0m13 0h0m43 10h0m28 0h0m101 25h0m-47-10h0m-84 9h0m-76-11h0m-6 14h0m-153-4h0m57 22h0m12-7h0m9 2h0m2 1h0m30-1h0m36-5h0m158 3h0m65 9h0m10-12h0m-49 29h0m-8-8h0m-24 7h0m-28-8h0m-8 14h0m-24-6h0m-75-3h0m-27 3h0m-49-7h0m-3 1h0m-2-3h0m-1 4h0m-21 5h0m-23-12h0m-30 13h0m-40 21h0m47-13h0m41 9h0m71 5h0m26 1h0m5 0h0m5-10h0m15-4h0m173 4h0m4-5h0m16 7h0m-11 17h0m-43 10h0m-66-4h0m-6 0h0m-168 3h0m-5-8h0m-3-2h0m-1 13h0m-59-15h0m-21 15h0m-9-12h0m28 15h0m5 2h0m18-1h0m29 8h0m9-1h0m10-1h0" stroke="#EAF5B5" stroke-width="8.8"/>
<path d="M760 1625h0m-6 0h0m-10 11h0m28 18h0m11 24h0m2 17h0m-6 14h0m21 21h0m33 64h0m-27-8h0m-13 28h0m37 0h0m9-5h0m8 29h0m-3-9h0m-10 8h0m-10-12h0m-34-5h0m-7 16h0m-13-8h0m-54-3h0m0 5h0m-6 1h0m-36 23h0m6 1h0m53-14h0m24 5h0m15 11h0m62-3h0m19 0h0m8-14h0m6 11h0m-79 26h0m-328 3h0m56 19h0m51-8h0m39 0h0m169-7h0m18 8h0m67 18h0m-34 9h0m-16-16h0m-55 2h0m-1 6h0m-16-4h0m-68 5h0m-92-4h0m-10-1h0m-21 8h0m-12-10h0m-5 5h0m-19-4h0m-2-3h0m-31 18h0m76 3h0m100-1h0m10 2h0m48 10h0m30 0h0m58 2h0m21 21h0m-3-3h0m-61 3h0m-91-14h0m-64 0h0m-6 10h0m-33-4h0m-28-10h0m-22 9h0m13 13h0m26 8h0m17-4h0m18-5h0" stroke="#DBF0B4" stroke-width="8.8"/>
<path d="M746 1628h0m32 59h0m43 87h0m3 41h0m7 3h0m11 15h0m-29 0h0m-7-1h0m-3 6h0m-19-16h0m-71 7h0m-46 20h0m45 7h0m13 3h0m48-18h0m4 5h0m85-1h0m6 9h0m-181 7h0m-32 4h0m-5 7h0m-188 10h0m43 6h0m4 3h0m139 8h0m153-13h0m52 17h0m-19 9h0m-11 5h0m-23-4h0m-200-4h0m-96 14h0m2 12h0m23-4h0m174-3h0m1 1h0m19-7h0m113 8h0m13-5h0m5-5h0m-23 27h0m-41-3h0m-24 2h0m-124 7h0m-42 6h0m-58-17h0m-31 5h0m-8-5h0m50 23h0" stroke="#CCEAB4" stroke-width="8.8"/>
<path d="M760 1645h0m14 37h0m46 154h0m-10-3h0m-132 14h0m166 5h0m-41 26h0m-27-16h0m-50 6h0m-273 22h0m167 7h0m135-12h0m96 7h0m-99 13h0m-72-5h0m-52 13h0m-5-2h0m-41-4h0m-72-3h0m-36 3h0m21 30h0m5-7h0m68 7h0m46-11h0m28-1h0m31-3h0m10 8h0m0 2h0m14 1h0m17-3h0m1-6h0m40-3h0m30 2h0m28 2h0m11 30h0m-2-15h0m-49 16h0m-120-15h0m-32 7h0m-134 1h0m-5-5h0" stroke="#B2E1B6" stroke-width="8.8"/>
<path d="M817 1829h0m-27 10h0m-36-6h0m-22 4h0m-40 3h0m13 1h0m137 10h0m12-1h0m11 5h0m-169 8h0m-22 16h0m-196 10h0m6 1h0m315-5h0m77 4h0m-102 17h0m-12 13h0m-109-18h0m-23 16h0m-6-7h0m-49 2h0m-69 7h0m-13-1h0m10 12h0m82-10h0m42 2h0m13 10h0m40 6h0m19-1h0m53-8h0m78 8h0m24-11h0m10 4h0m-46 24h0m-137-12h0m-53 1h0m-4 2h0" stroke="#99D7B9" stroke-width="8.8"/>
<path d="M740 1835h0m-2-7h0m-45 26h0m57 14h0m-18-5h0m-33 3h0m-15-5h0m-183 35h0m209-9h0m73 9h0m53-11h0m-12 25h0m-13-9h0m-55 7h0m-26-1h0m-133 6h0m-91 6h0m-8-7h0m-5-4h0m-17 17h0m29-2h0m67 9h0m3-7h0m1 3h0m65 10h0m66-6h0m38 2h0m8-2h0m99-10h0m11 12h0m-39 20h0m-65-6h0m-135 2h0m-50-5h0" stroke="#7DCCBC" stroke-width="8.8"/>
<path d="M762 1839h0m64 24h0m-29 2h0m-44 7h0m-13-4h0m-13 0h0m-230 25h0m259-6h0m36-5h0m8 12h0m67 0h0m5-2h0m-68 19h0m-101 5h0m-208-11h0m-36 13h0m1 10h0m134 0h0m98 5h0m15-4h0m12 2h0m36-1h0m52-7h0m28 1h0m20 10h0m7-13h0m-221 34h0m-32-4h0" stroke="#61C2C0" stroke-width="8.8"/>
<path d="M810 1837h0m-85 2h0m10 17h0m5-4h0m53-8h0m43 8h0m31 17h0m-61-6h0m-106 0h0m-14 10h0m-2 18h0m144 4h0m2-4h0m24 8h0m-89 14h0m-15-9h0m-39 15h0m-1-17h0m-5 4h0m-125 17h0m49 1h0m15 2h0m68 7h0m35 6h0m39-15h0m-9 18h0m-131 2h0m-15 7h0m-42 5h0" stroke="#45B7C4" stroke-width="8.8"/>
<path d="M687 1858h0m85-9h0m31-9h0m8 0h0m41 24h0m-127 3h0m-36-2h0m-6-5h0m-217 35h0m6-5h0m249-6h0m129-1h0m6 8h0m13-2h0m2 6h0m-86 17h0m-40-9h0m-35-1h0m-71 14h0m-49-1h0m-120-14h0m118 23h0m42 0h0m11 6h0m155-8h0m6 1h0m19 21h0m-229-1h0" stroke="#38ABC3" stroke-width="8.8"/>
<path d="M721 1843h0m13 3h0m44 6h0m69 11h0m-147 10h0m38 19h0m111-7h0m10 14h0m-24 10h0m-10-2h0m-32 1h0m-33-7h0m-160 11h0m-120 3h0m-2-3h0m-14-10h0m355 20h0m-63 25h0m-16 2h0m-106 1h0" stroke="#2B9FC2" stroke-width="8.8"/>
<path d="M805 1848h0m3-3h0m22 14h0m3-1h0m24 20h0m-4 0h0m-47-2h0m-4 0h0m-74-10h0m120 30h0m-6 15h0m-15-9h0m-19 0h0m-33 14h0m-31-12h0m-62-1h0m-87 11h0m-112 9h0m229 3h0m4 7h0m34-9h0m99 2h0m-71 26h0m-56-9h0" stroke="#248FBD" stroke-width="8.8"/>
<path d="M830 1858h0m-31 15h0m-25 0h0m-46-7h0m-26-1h0m98 24h0m14 19h0m-6 2h0m-31 3h0m-9-8h0m-58-1h0m-89 28h0m11-6h0m146 10h0m25-8h0m-32 15h0m-15 1h0m-3 10h0m-33-7h0" stroke="#237BB5" stroke-width="8.8"/>
<path d="M771 1850h0m5 6h0m-59 12h0m-13 1h0m-10 16h0m21 1h0m20 3h0m2 10h0m105-7h0m5-5h0m-10 30h0m-23-3h0m-53-8h0m-164 18h0m116 0h0m15-1h0m47 17h0" stroke="#2267AC" stroke-width="8.8"/>
<path d="M767 1858h0m-2 18h0m-45 4h0m84 18h0m-99 17h0m-3 15h0m120-2h0m-63 13h0m-30 6h0" stroke="#2356A4" stroke-width="8.8"/>
<path d="M821 1870h0m-37 7h0m-70-2h0m106 17h0m24 0h0m-5 10h0m-6 4h0m-1 6h0m-79-5h0m-24 14h0" stroke="#24449C" stroke-width="8.8"/>
<path d="M803 1886h0m3-1h0m25 29h0m-11 4h0m-13-10h0m-50-6h0m-7 10h0m-13 28h0" stroke="#1E388D" stroke-width="8.8"/>
<path d="M734 1891h0m66-5h0m-25 17h0m-16 2h0m-3 10h0m23 8h0" stroke="#172E7B" stroke-width="8.8"/>
<path d="M747 1943h0" stroke="#102467" stroke-width="8.8"/>
<path d="M736 1937h0" stroke="#0D1A4B" stroke-width="8.8"/>
<path d="M430 1268h0m129 121h0m-17 16h0m73 8h0m108 20h0m-25-9h0m-4 0h0m-30-2h0m-238 13h0m18 14h0m45-6h0m114 4h0m81 16h0m-192 11h0m-50-11h0m-60 24h0m56 3h0m319 6h0m34 14h0m-178-7h0m-89 1h0m-43-2h0m-19 0h0m-5 22h0m165 15h0m83 9h0m-347-4h0m-48 13h0m88 14h0m14-7h0m302 11h0m288 2h0m7 15h0m-68-6h0m-172 8h0m-6-3h0m-3 4h0m-5-6h0m-1-5h0m0 14h0m-28 1h0m-75-4h0m-92 3h0m-270-13h0m-15-3h0m113 29h0m97-1h0m34 8h0m199-9h0m191 5h0m117-8h0m-264 16h0m-188 4h0m-185 4h0m-3 8h0m-49-2h0m-7-9h0m-38 2h0m-15 8h0m-34 1h0m54 4h0m66 6h0m199 11h0m110-16h0m17 3h0m40 12h0m1-3h0m44-1h0m203-11h0m22 8h0m52 8h0m36 20h0m-66-18h0m-228 0h0m-3 4h0m-8 0h0m-37 6h0m-13-3h0m-42-7h0m-11 11h0m-40 6h0m-377-8h0m-27 0h0m518 25h0m4-1h0m3-10h0m15 15h0m33-3h0m0 1h0m35-1h0m74 0h0m206 2h0m-26 16h0m-309 0h0m-12-3h0m-17 4h0m-6 3h0m-237 0h0m-167 16h0m85-7h0m97 2h0m226-9h0m68 11h0m59-8h0m196 16h0m49 17h0m-558 3h0m-12-19h0m-42 10h0m-197 12h0m13 14h0m508 11h0m-4-2h0m-35 13h0m-70 1h0m-28-2h0m-33 1h0m-59-2h0m-314-15h0m181 37h0m117-4h0m20 4h0m4-7h0m8-4h0m37-3h0m0 13h0m5-1h0m14 3h0m5-17h0m60-2h0m36 3h0m1 4h0m2-5h0m18 5h0m30 1h0m21 14h0m-9 3h0m-139 6h0m-26-10h0m-1 7h0m-13-8h0m-6 4h0m-75 2h0m-12 1h0m-99 28h0m19 3h0m0-2h0m77-10h0m18 2h0m1-2h0m6 11h0m11-7h0m15-1h0m2 0h0m12 3h0m7 4h0m7-16h0m-6 30h0m-3-8h0m-18 0h0m0 0h0m-1 5h0m-7 10h0m-4-3h0m-7 3h0m-16-6h0m-17 7h0m-1-16h0m-11 10h0m-1-3h0m-1-1h0m-2 0h0m-1 1h0m0 0h0m-4 10h0m-3-4h0m-8-5h0m-11-5h0m-14 6h0m-14-11h0m-4 0h0m-2 2h0m-24-1h0m-21 10h0m-3-1h0m-13 2h0m-5 18h0m77-1h0m10-2h0m4 11h0m1-1h0m48-13h0m32-3h0m0 7h0m5-1h0m9-4h0m2 4h0m5 1h0m25 2h0m-128 20h0m-9 5h0m-61-12h0m118 29h0m78 19h0m-77-3h0m-3-5h0m-24 2h0m-6 4h0m-33 6h0m-5 0h0m-1-2h0m53 22h0m1 0h0m3-3h0m1-1h0" stroke="#F8FAD2" stroke-width="8.8"/>
<path d="M548 1399h0m-67 16h0m38-9h0m3 6h0m39-4h0m-169 47h0m30-1h0m77-3h0m142 8h0m-131 9h0m-26-4h0m-57 26h0m90-8h0m-152 40h0m116 4h0m136 8h0m14-2h0m149 5h0m-52 20h0m-220-14h0m-99 10h0m-90-10h0m-27 0h0m0 3h0m-24 18h0m145-4h0m60 9h0m29 3h0m10 2h0m234-4h0m186 8h0m-11 8h0m-163-4h0m-12 13h0m-315-8h0m-164-4h0m-27 33h0m148 1h0m128-5h0m78-11h0m84 8h0m38 4h0m11 6h0m15-18h0m8 11h0m335 26h0m-118-14h0m-198 7h0m-2-1h0m-9-7h0m-5-2h0m-3 6h0m-70 12h0m-281-12h0m-153 22h0m225-4h0m92 1h0m167 9h0m3 2h0m4-1h0m3-5h0m46 5h0m188-6h0m24 0h0m53 25h0m-34-5h0m-46-10h0m-79 5h0m-97 7h0m0 7h0m-1-7h0m-8-6h0m-5 0h0m-1 4h0m-148-1h0m-261-6h0m68 34h0m15 0h0m245-5h0m48-10h0m3 8h0m4-4h0m26-1h0m2-1h0m331-3h0m-82 19h0m-248 5h0m-25-3h0m-138 8h0m-1-3h0m-186 3h0m-163 6h0m-12-9h0m-1 4h0m8 11h0m6-2h0m22 10h0m3 4h0m35 1h0m209-13h0m234 14h0m24-1h0m20-11h0m0 7h0m2 4h0m116-8h0m57-2h0m96 26h0m-303-6h0m-157 9h0m-288 11h0m50-3h0m404 10h0m15-4h0m20 3h0m4 20h0m-34-3h0m-1 8h0m-6-8h0m-342 3h0m-59-1h0m19 26h0m9-6h0m115-3h0m149 10h0m27-12h0m41-2h0m24 1h0m8 3h0m36 4h0m30 9h0m-2 7h0m-3 4h0m-46-11h0m-4 1h0m-2 3h0m-6 2h0m-43 0h0m-81 2h0m-259 1h0m-35 3h0m-55 5h0m-21-13h0m190 35h0m7 0h0m104-16h0m53 6h0m24-3h0m22 8h0m128-14h0m30 25h0m-21-4h0m-185 6h0m-10-3h0m-12 5h0m-17 10h0m-53-1h0m-3-7h0m-2 6h0m0-1h0m-1-1h0m-2 3h0m-4-2h0m-25-5h0m-1 8h0m-1-4h0m-3 4h0m-13-16h0m-18 3h0m-2-4h0m-6-2h0m-14 16h0m-108-5h0m108 20h0m79 3h0m11-11h0m23 0h0m0 9h0m0 5h0m37-10h0m1 12h0m2-13h0m3 2h0m22-5h0m7 3h0m18 12h0m4-14h0m8 2h0m-105 22h0m-9-1h0m-11 3h0m-21-3h0m-21 7h0m-2-9h0m-18 30h0m9-15h0m9 10h0m3 3h0m4 0h0m33-10h0m11 16h0m41-15h0m256 9h0m-32 22h0m-21-3h0m-27 3h0m-12-7h0m-119 2h0m-106-10h0m-4 14h0m-21-12h0m-20 14h0m92 11h0m8-6h0m8 6h0" stroke="#F5F9C7" stroke-width="8.8"/>
<path d="M726 1465h0m-296 28h0m-46 10h0m348 51h0m-486 2h0m695 20h0m-6 16h0m-211 23h0m11-9h0m3-1h0m20 6h0m135 3h0m39 2h0m36-4h0m58 4h0m-180 7h0m-88 5h0m-2 3h0m25 14h0m0 9h0m5 3h0m150 18h0m-23-13h0m-25 4h0m-39 4h0m-57 3h0m-2-4h0m-13-3h0m-1 9h0m-3-13h0m-17 27h0m3-4h0m3 11h0m10-1h0m264 10h0m-234-5h0m-29 1h0m-245 12h0m274 18h0m8-11h0m1 18h0m11-15h0m107 15h0m-108 8h0m-4 2h0m-511 4h0m629 9h0m-104 22h0m0 2h0m-4 8h0m-3-7h0m-22 9h0m-495 24h0m225-15h0m249 15h0m13-2h0m4-6h0m2-3h0m22-2h0m3-5h0m22 9h0m10 19h0m-6-6h0m-2 2h0m-36 7h0m-1 1h0m-4-5h0m-70-7h0m-292 7h0m-131 1h0m331 16h0m23 0h0m102 3h0m64 23h0m-120-4h0m-6 5h0m-6-3h0m-43-8h0m-16 18h0m-74-3h0m-21-1h0m-47-7h0m-4 0h0m-20-8h0m-22 27h0m2-3h0m7 14h0m45-15h0m11-2h0m0 18h0m44-1h0m11-18h0m0 0h0m2 7h0m11 8h0m6-9h0m23-1h0m9 14h0m1-12h0m9 6h0m1-10h0m4 12h0m15-4h0m52-1h0m14 0h0m151 8h0m-28 17h0m-46-4h0m-5 2h0m-121-9h0m-11 11h0m-2 4h0m-92-7h0m-8 4h0m-5-6h0m-31 2h0m0 4h0m-24 0h0m-5 3h0m-3 8h0m27 1h0m8 2h0m9-9h0m14 2h0m7 4h0m26-7h0m2 0h0m59 7h0m9-1h0m202 8h0m-16 7h0m-20-1h0m-20 18h0m-36-4h0m-190-2h0m-2-3h0m-18-5h0m4 30h0m2-8h0m10 8h0m20-4h0m11 1h0" stroke="#F1F8BC" stroke-width="8.8"/>
<path d="M920 1588h0m-192 23h0m5 5h0m28 0h0m167 14h0m-2-9h0m-81 3h0m-74 12h0m-23 7h0m30 4h0m5 13h0m-5 33h0m13-3h0m2-1h0m151 15h0m-26-4h0m-114 15h0m-35-12h0m0 15h0m17 17h0m23-12h0m121 5h0m25 14h0m-118 40h0m-37 7h0m-71 30h0m63-3h0m44-16h0m4 9h0m1 9h0m6 10h0m-64-2h0m-7 6h0m-48-10h0m-7-2h0m-10 10h0m-17 0h0m-7 8h0m-26 15h0m20-5h0m118-1h0m55-3h0m13 28h0m-73-4h0m-46-8h0m-49 1h0m-27 14h0m-24 4h0m-140 7h0m2 7h0m58-10h0m1 3h0m30 11h0m29-5h0m12-8h0m20 11h0m215-6h0m-38 28h0m-77-9h0m-6 6h0m-111-7h0m-11 8h0m-103-8h0m-47 6h0m-6 4h0m-21-1h0m43 22h0m96-18h0m24 5h0m5 6h0m53 8h0m11-7h0m3-3h0m138 18h0m-2 8h0m-198 4h0m-14-13h0m-76 2h0m-27-8h0m0 13h0m8 16h0m6-7h0m18 12h0m5 3h0m1-6h0m1 4h0" stroke="#EAF5B5" stroke-width="8.8"/>
<path d="M734 1612h0m23 14h0m-15-6h0m0 16h0m-3 6h0m14 0h0m30 28h0m-2-8h0m-31 0h0m26 26h0m12-6h0m7 56h0m9-6h0m3 42h0m9 5h0m7-15h0m9 31h0m-41 22h0m6-1h0m29 19h0m-1-12h0m-5 1h0m-12 6h0m-96-5h0m-10 5h0m-46 28h0m27-17h0m47 18h0m80-3h0m7-8h0m41-5h0m7 35h0m-11-6h0m-3 6h0m-24-6h0m-100-8h0m-69 1h0m-163 6h0m-57 24h0m69-3h0m47 4h0m0 0h0m2-1h0m17-3h0m86-6h0m29 5h0m69 6h0m35-9h0m1 5h0m7-12h0m3 8h0m8-6h0m21-2h0m37 18h0m-40 15h0m-33-9h0m-173 13h0m-31-2h0m-17-14h0m-1 2h0m-46-3h0m-59 10h0m-22-11h0m7 21h0m54 3h0m2 10h0m28-2h0m31-4h0m79-6h0m21 15h0m14-7h0m97-4h0m6 6h0m77 2h0m5-9h0m-74 34h0m-8-17h0m-13 13h0m-7 1h0m-25-8h0m-95 4h0m-7 4h0m-35-8h0m-21 1h0m-19-6h0m-3 3h0m-11 10h0m-2-11h0m-39-3h0m-14 1h0m-9 11h0m-13-3h0m100 10h0" stroke="#DBF0B4" stroke-width="8.8"/>
<path d="M756 1635h0m11 35h0m23 37h0m-5 9h0m-3-6h0m-1 14h0m14 14h0m6 81h0m24-8h0m6-9h0m-14 22h0m-102 5h0m-24 7h0m-13 17h0m37-9h0m43 14h0m93 1h0m2-4h0m-27 6h0m-78 10h0m-97 1h0m-154 23h0m2-14h0m9 13h0m40 2h0m100-3h0m6-12h0m91 12h0m8 23h0m-64-15h0m-80 14h0m-15-5h0m-4 8h0m-1-12h0m-2 10h0m0 1h0m-16-13h0m-18-4h0m-3 4h0m-1 12h0m-31-11h0m-32 11h0m8 9h0m0 9h0m0 4h0m8-8h0m4 5h0m9 2h0m33-8h0m3-1h0m0 9h0m2-7h0m1 5h0m9 2h0m9-12h0m4 4h0m39-2h0m4 6h0m40 6h0m8-16h0m12 8h0m41-9h0m6 12h0m20-10h0m42 8h0m78-2h0m-24 25h0m-67-15h0m-47 10h0m-82 0h0m-69-7h0m0 3h0m-7 0h0m-31-1h0m-8 0h0m57 18h0" stroke="#CCEAB4" stroke-width="8.8"/>
<path d="M747 1617h0m-2 4h0m17 23h0m38 88h0m19 54h0m-3 0h0m-18 53h0m-7-14h0m-3-1h0m-5-2h0m-117 35h0m28-7h0m57-1h0m41-3h0m32 7h0m15 4h0m5 0h0m18-11h0m-12 32h0m-181-9h0m-226 28h0m10-7h0m16 6h0m15-12h0m229 13h0m91-14h0m27 12h0m-35 22h0m-8 1h0m-63-5h0m-14-13h0m-54 13h0m-8 6h0m-15-10h0m-60 2h0m-45-1h0m-5-3h0m-34 7h0m-30-10h0m61 18h0m167 17h0m92-19h0m33 10h0m18 22h0m-4 3h0m-11-13h0m0 6h0m-231-4h0m0 10h0m-15-5h0m-38-9h0m-16 4h0" stroke="#B2E1B6" stroke-width="8.8"/>
<path d="M814 1836h0m-22 1h0m-4-10h0m-16 9h0m-37-2h0m62 12h0m52 13h0m8-1h0m-46 13h0m-356 24h0m206-8h0m52 8h0m159-4h0m-69 21h0m-7 1h0m-38-8h0m-2-4h0m-5 0h0m-6 14h0m-27-9h0m-94-4h0m-2 15h0m-7-8h0m-25 3h0m0 6h0m-1-9h0m-14 7h0m-125-6h0m46 14h0m0 14h0m140-15h0m18 1h0m30 4h0m11 10h0m2-6h0m76 6h0m3 1h0m42-18h0m4 2h0m29 4h0m18 2h0m-44 19h0m-87 0h0m-19-1h0m-83-2h0" stroke="#99D7B9" stroke-width="8.8"/>
<path d="M680 1855h0m79-12h0m4-1h0m8-2h0m86 12h0m7 14h0m-6-4h0m-81 9h0m-33-11h0m-31 9h0m-249 24h0m26-5h0m11 8h0m0 2h0m210 1h0m164-12h0m-42 26h0m-34 2h0m-13 4h0m-47-18h0m-2 10h0m-247-7h0m-32 24h0m6 1h0m20-7h0m148 7h0m44 2h0m6-10h0m51 10h0m78-11h0m12 21h0m-20 18h0m-164-7h0m0 2h0m-1 1h0m-3 5h0" stroke="#7DCCBC" stroke-width="8.8"/>
<path d="M693 1858h0m8-5h0m19-1h0m49-12h0m1 10h0m33-6h0m56 12h0m-163 18h0m-16-12h0m-2 5h0m-13 17h0m103 15h0m105-3h0m-77 13h0m-57-6h0m-35 13h0m-244 1h0m36 10h0m99-7h0m22 0h0m24 13h0m45-9h0m46 0h0m54-2h0m-62 25h0" stroke="#61C2C0" stroke-width="8.8"/>
<path d="M758 1840h0m105 27h0m-17 4h0m-71-2h0m-303 27h0m236 1h0m23-6h0m146 6h0m-79 17h0m-23-10h0m-23 13h0m-123 0h0m-2 0h0m-132-5h0m-9-4h0m0 11h0m-27 9h0m26-3h0m11 3h0m125-5h0m66 14h0m120 11h0" stroke="#45B7C4" stroke-width="8.8"/>
<path d="M782 1842h0m52 10h0m-11 13h0m-16 12h0m-2-3h0m-121-10h0m-3 3h0m-213 21h0m368-3h0m8 8h0m-39 24h0m-2-2h0m-8-1h0m-42 5h0m-77-19h0m-4 3h0m-71 13h0m-12 0h0m-91-16h0m-38 30h0m33-8h0m85 14h0m154-1h0m77-4h0m-32 20h0m-138-3h0m-18-1h0" stroke="#38ABC3" stroke-width="8.8"/>
<path d="M810 1839h0m-89 12h0m54 2h0m2-6h0m24-1h0m21-1h0m32 25h0m-137 28h0m56-14h0m13 9h0m50 11h0m-42 10h0m-176 15h0m88 5h0m5-1h0m98-10h0m7 19h0" stroke="#2B9FC2" stroke-width="8.8"/>
<path d="M786 1852h0m42 25h0m-98-13h0m-35 34h0m152-5h0m-47 19h0m-8 3h0m-3 0h0m-21-5h0m-22-2h0m-11 5h0m-20-13h0m-27 3h0m-204 13h0m136 8h0m79 13h0m99-13h0m-27 22h0m-21 4h0m-33-6h0" stroke="#248FBD" stroke-width="8.8"/>
<path d="M796 1872h0m56 18h0m-31 25h0m-25-7h0m0 4h0m-59-8h0m-14 26h0m58-8h0m64-1h0m-75 21h0m-33 13h0" stroke="#237BB5" stroke-width="8.8"/>
<path d="M733 1899h0m18-13h0m43 4h0m6-10h0m-63 36h0m-120 16h0m167-5h0m3 6h0m-17 12h0m-34 5h0m-5 0h0m-105-10h0m-9 0h0" stroke="#2267AC" stroke-width="8.8"/>
<path d="M813 1878h0m-70 4h0m45 0h0m7 32h0m-33 0h0m-47 7h0m69 9h0m30-6h0m18 2h0m6-5h0m-74 21h0" stroke="#2356A4" stroke-width="8.8"/>
<path d="M802 1876h0m3 31h0m14 17h0m-59 23h0m-1-7h0" stroke="#24449C" stroke-width="8.8"/>
<path d="M739 1897h0m81 3h0m-31 14h0m-25 1h0m-9-3h0m-40-12h0m38 27h0m22-2h0" stroke="#1E388D" stroke-width="8.8"/>
<path d="M791 1911h0m-23-5h0m-33 9h0m-21 6h0m65 7h0" stroke="#172E7B" stroke-width="8.8"/>
<path d="M731 1925h0" stroke="#102467" stroke-width="8.8"/>
<path d="M749 1925h0" stroke="#0A0D1E" stroke-width="8.8"/>
</g>
</g>
<g id="umap-d">
<g transform="scale(0.25)" fill="none" stroke-linecap="round">
<path d="M1712 1259h0m1-8h0m1-3h0m2 1h0m3 6h0m4-7h0m0 8h0m2-8h0m0 5h0m10 3h0m7-10h0m4 7h0m0 5h0m4-1h0m3-17h0m0 17h0m1 0h0m1-15h0m2 10h0m2-10h0m0 5h0m2 10h0m3-3h0m1-11h0m2 12h0m1-7h0m2 2h0m1-4h0m4-3h0m0 11h0m2-14h0m3 12h0m1 3h0m2-2h0m1-11h0m12 4h0m4-5h0m0 13h0m2-14h0m3 17h0m1 1h0m6-12h0m9 0h0m0 11h0m2-6h0m2-6h0m3 13h0m1-8h0m11 3h0m2 2h0m3-2h0m7 4h0m47 19h0m-5 1h0m-5-3h0m-3 0h0m-1 3h0m-6-2h0m-2-5h0m-2 9h0m-1-14h0m-3 4h0m-3-5h0m0 12h0m-3-4h0m-2-7h0m-1 9h0m-7 0h0m-1 4h0m-3 0h0m-3-8h0m-4 9h0m-7-13h0m-1 10h0m-1-4h0m-1-9h0m-3-2h0m0 14h0m-1-6h0m-1 5h0m-2-13h0m0 5h0m-5 10h0m-5-12h0m-4 11h0m-4 1h0m-1-6h0m-7-3h0m-4 9h0m-1-11h0m-6 10h0m-2-11h0m0 15h0m-3-10h0m-3-7h0m0 13h0m-2-11h0m-1 15h0m-3-8h0m0-1h0m-4 3h0m-7-11h0m0 11h0m-8 3h0m-7-4h0m-1 7h0m-2-7h0m-1-11h0m-5 11h0m-1-7h0m0 3h0m-2-7h0m-4 17h0m-11-15h0m-2 3h0m-4-4h0m-3 4h0m-1 5h0m-1-5h0m-1-1h0m-1 5h0m-1 4h0m-4 2h0m-1-14h0m0 10h0m-1-6h0m-5 10h0m-5-16h0m0 2h0m-1 4h0m0 3h0m-2 3h0m-3-3h0m0 10h0m-2-16h0m-1 15h0m-7-6h0m-1-10h0m-7 12h0m-8 0h0m-1-5h0m0 7h0m-5-3h0m-2 2h0m-3-1h0m-6 3h0m-22 16h0m5 3h0m5-11h0m0 4h0m2 3h0m2 5h0m4-11h0m3 6h0m4-4h0m3-8h0m2 3h0m0 11h0m1-12h0m2 11h0m1 4h0m2-11h0m0 13h0m2-15h0m2 15h0m1-9h0m1 8h0m5-14h0m0 5h0m2-8h0m0 13h0m3 2h0m1-11h0m4 9h0m1-14h0m1 8h0m2-4h0m0 0h0m9-2h0m1 1h0m3-3h0m2 2h0m1 17h0m3-18h0m0 8h0m0 8h0m2-12h0m2 5h0m3 2h0m0-3h0m1 9h0m1-17h0m2 0h0m0 3h0m1 12h0m1-11h0m0 7h0m1-11h0m4 9h0m1-1h0m1-8h0m4 4h0m8 0h0m8 2h0m3-7h0m0 15h0m2 4h0m1-7h0m1-8h0m4 7h0m4-11h0m2 2h0m6-2h0m2 2h0m0 14h0m5-16h0m0 5h0m1 10h0m0-3h0m4-5h0m3 6h0m3 5h0m2-5h0m1-8h0m1 12h0m1-14h0m3 6h0m1-2h0m3 5h0m1-10h0m1-2h0m0 8h0m1-6h0m1 17h0m5-2h0m9-15h0m0 16h0m4-6h0m2 0h0m4-2h0m1-3h0m0 12h0m2-6h0m4-6h0m1-5h0m1 6h0m2 4h0m0-2h0m0 5h0m2-11h0m1 3h0m3 12h0m1-18h0m1 9h0m3 9h0m1-13h0m1 6h0m4-10h0m5 2h0m2 0h0m2 0h0m0 6h0m1 7h0m4-5h0m4-9h0m11 5h0m0 4h0m2-7h0m0 12h0m2-4h0m1 4h0m1-11h0m4-2h0m0 9h0m2-5h0m0 5h0m2 4h0m3-17h0m1 8h0m4-2h0m2 12h0m10 1h0m5-6h0m1-6h0m3 0h0m0 11h0m2-5h0m5 5h0m2-6h0m0 6h0m7-2h0m25 19h0m-2-3h0m-3-4h0m-2 10h0m-15-3h0m-1 2h0m-1-15h0m-5-2h0m-2 12h0m-2-6h0m0 1h0m-7 12h0m-1-7h0m-1-8h0m-2 6h0m-1-6h0m-1 8h0m0 3h0m-5 4h0m-3-6h0m-1-12h0m-5-1h0m0 17h0m-1-7h0m-6-7h0m-2-1h0m-2 10h0m-2-5h0m-2-5h0m0 2h0m-1-2h0m0 12h0m-2-2h0m0 4h0m-1-4h0m-2-7h0m-4 8h0m-1-9h0m-3 10h0m-4-4h0m0 3h0m-3-2h0m-5-7h0m0 4h0m-6-5h0m-3-2h0m0 12h0m-2-10h0m0 7h0m-5-6h0m-1 2h0m-2 4h0m-4-8h0m0 5h0m0 5h0m-3-2h0m-1 6h0m-2-13h0m-1 9h0m-1 0h0m0 5h0m-4-16h0m0 16h0m-2-14h0m-2 6h0m-1-3h0m-1 13h0m-1-17h0m-1 8h0m-2-10h0m-9 12h0m-1-6h0m-3 11h0m-1 1h0m-1-13h0m-1 13h0m-2-7h0m-1 1h0m-3-12h0m0 16h0m0 2h0m-11-16h0m0 7h0m-3-1h0m-3 9h0m-1-17h0m-3 6h0m-4-4h0m-3 6h0m-1-6h0m0 11h0m-3 4h0m-1-4h0m-2-8h0m-3-2h0m-1 8h0m0 2h0m-2 5h0m-3-15h0m0 9h0m-4-3h0m-3-2h0m-4-6h0m-4 13h0m-4-6h0m-1 9h0m-4-5h0m-1 6h0m-2-3h0m-5-3h0m-2-10h0m0 15h0m-1-5h0m-4-1h0m0 8h0m-2-18h0m0 4h0m-1 13h0m-1-9h0m-2 5h0m-2 5h0m-1-11h0m-1-7h0m-4 9h0m-4 6h0m-3-7h0m-4 8h0m-6-4h0m-7-11h0m0 7h0m-3 6h0m-3-5h0m0 4h0m-1 2h0m-16-2h0m0 3h0m-2-10h0m-2-3h0m-1 11h0m-4-15h0m0 6h0m-5 2h0m-5-7h0m-3 11h0m-7-11h0m0 17h0m-1-17h0m0-1h0m-5 7h0m0 6h0m-2 3h0m-2-15h0m-1 10h0m-3 8h0m-1-2h0m-7 0h0m-15 19h0m4-3h0m1-6h0m0 0h0m4 11h0m2-7h0m0-1h0m1 9h0m2-2h0m2-7h0m2-7h0m1 5h0m2 11h0m1-14h0m2 8h0m0 5h0m4-6h0m1-4h0m1-5h0m2 4h0m3 3h0m3-5h0m0 9h0m0 1h0m1-7h0m6 0h0m1-8h0m9 5h0m3 4h0m3-1h0m5 3h0m0 7h0m1-11h0m4-1h0m2 9h0m2-14h0m1 12h0m1 6h0m1-11h0m1-1h0m3 1h0m2 8h0m1-7h0m2-8h0m0 11h0m7 6h0m10-2h0m8-14h0m4 6h0m0 8h0m1-15h0m10 6h0m3 4h0m7-9h0m0-1h0m1 12h0m2-12h0m0 11h0m1-8h0m0 14h0m2-4h0m5 1h0m2 3h0m1-4h0m1-10h0m4 8h0m1 5h0m2-6h0m7-3h0m3 0h0m3-5h0m1 2h0m1-1h0m7-2h0m17 0h0m1 12h0m10-9h0m1-3h0m3-2h0m0 9h0m4-4h0m1 8h0m1-5h0m2 0h0m6 2h0m3 9h0m3-13h0m2-5h0m1 17h0m4-17h0m3 15h0m1-6h0m0 6h0m4-12h0m5 3h0m3-6h0m0 15h0m1 1h0m1-3h0m3-5h0m1 9h0m2-16h0m2 10h0m5-7h0m9 0h0m3 13h0m8-13h0m0 8h0m1-12h0m5-1h0m1 16h0m2-8h0m0 9h0m1 2h0m0-2h0m2 1h0m2-2h0m2 2h0m3-7h0m3 1h0m0 5h0m2-13h0m1-3h0m0 7h0m1 4h0m8-6h0m5 0h0m3-5h0m4 2h0m0 13h0m4-14h0m7 6h0m1 8h0m2-7h0m1-4h0m2-2h0m2 10h0m7-2h0m0 2h0m5-2h0m3-6h0m0 13h0m1-6h0m2-11h0m0 13h0m3-8h0m0 11h0m2 1h0m3-7h0m2 3h0m1-6h0m1 5h0m14 20h0m-5 3h0m-1-1h0m-10-9h0m-4 9h0m-1-14h0m-1 3h0m-4 5h0m-5-6h0m-2 6h0m-5-5h0m-9 2h0m-4 4h0m-11-5h0m-1 11h0m-6-15h0m0 9h0m0 6h0m-1-13h0m0 7h0m-8-4h0m0 2h0m-1 8h0m-4-5h0m-1-11h0m-5 17h0m-1-2h0m-2-13h0m0 5h0m-8-3h0m-4 4h0m-1-7h0m-1 8h0m-5-3h0m-2-5h0m0 9h0m-3 9h0m-4-5h0m0 5h0m-4-17h0m0 10h0m-3-12h0m-4 0h0m-4 13h0m-2-8h0m0 12h0m-1-2h0m-3-5h0m-1-10h0m-4 10h0m-1-3h0m-1 11h0m-1-15h0m-1 9h0m-1 5h0m-2-13h0m-3 2h0m-2-2h0m-5 14h0m-3-16h0m-3 12h0m-2-8h0m-3 6h0m-3-5h0m-1-5h0m-2 9h0m-1 5h0m-5-14h0m-4 13h0m-1 2h0m-4-6h0m0 4h0m-2-8h0m-1 0h0m-5-2h0m-7 3h0m-2 6h0m-4 1h0m-1-15h0m-1 8h0m-1 1h0m-2-6h0m-1 10h0m-1-1h0m0-4h0m-1 5h0m-5-12h0m-1 7h0m-3 4h0m0 3h0m-4-1h0m-1 3h0m-2-8h0m0 10h0m-9-12h0m-4-2h0m-1-3h0m0-1h0m-4 11h0m0 7h0m-2-14h0m-1 8h0m-2 5h0m-1-18h0m0 2h0m0 6h0m-4 1h0m-2-2h0m-11 6h0m-2-9h0m-1 2h0m-2 12h0m-2-17h0m-1 10h0m-3-10h0m-2 6h0m0 10h0m-5-17h0m0 12h0m-3-4h0m-2-2h0m-4 4h0m0 8h0m-2-4h0m-1-13h0m-3 0h0m-5 8h0m-1-3h0m-2 0h0m-1 3h0m-2-9h0m-1 14h0m0 2h0m-1 2h0m-5 0h0m-1-3h0m-1-15h0m-2 1h0m0 8h0m0 2h0m-2 2h0m-1-5h0m0 9h0m-5-9h0m-3 6h0m-1-13h0m-2 14h0m-1-7h0m-5 9h0m0 1h0m-3-6h0m-2-6h0m-1 2h0m-3 10h0m-4-1h0m-1-8h0m-1 8h0m-3 0h0m-3-9h0m-1-5h0m0 10h0m0 3h0m-1 1h0m0 0h0m-2-4h0m-3-8h0m-1 1h0m-3 4h0m-3 3h0m-1-10h0m-3-3h0m-2 0h0m-2 2h0m-1 6h0m-6 4h0m0-3h0m-1 8h0m-2 1h0m-1-1h0m-3 6h0m1 7h0m1-8h0m0 2h0m1-4h0m6 1h0m2 5h0m4-3h0m2 0h0m6 9h0m1-5h0m2-1h0m0 12h0m1 0h0m1-3h0m1-5h0m1-8h0m0-1h0m0 11h0m1-8h0m0-3h0m0 12h0m1-5h0m3-3h0m2-3h0m0 7h0m2-4h0m2 14h0m2-10h0m4-6h0m0 13h0m2-15h0m2 4h0m13 9h0m3-9h0m2 13h0m2-6h0m1 5h0m1-9h0m3 6h0m1-9h0m0 5h0m3-5h0m0 12h0m2-14h0m2 9h0m0 7h0m4-4h0m2 2h0m1 0h0m0 2h0m2-19h0m6 10h0m4-4h0m2-4h0m0 17h0m2-10h0m1-7h0m0 13h0m1-7h0m1 2h0m5-8h0m0 9h0m2 4h0m2-1h0m2-9h0m2 4h0m13 7h0m3-5h0m1 8h0m3-5h0m1-4h0m0 9h0m1-7h0m1-12h0m2 5h0m0 8h0m1-13h0m1 9h0m3 8h0m1-12h0m0 7h0m2-9h0m3 3h0m2-1h0m0 12h0m5 0h0m3-11h0m1-4h0m2 11h0m1-1h0m3-11h0m0 12h0m1-8h0m2 13h0m3-7h0m1-7h0m1 6h0m3-2h0m1-1h0m1-4h0m6 14h0m3-9h0m5-5h0m0 13h0m3-16h0m0 7h0m0 6h0m0 0h0m3-13h0m0 8h0m0 11h0m3-3h0m3-1h0m1-9h0m0 5h0m3-9h0m3 5h0m1 11h0m1-3h0m2-4h0m6-1h0m1-8h0m0 15h0m5-14h0m1 13h0m1-16h0m3 4h0m3 1h0m1-1h0m1 12h0m1 0h0m3-9h0m6 9h0m4-14h0m0 4h0m0 8h0m2 0h0m2 4h0m2-16h0m0 5h0m2 7h0m5 2h0m8 2h0m1-5h0m1-11h0m0 7h0m4-2h0m0 6h0m7-4h0m1 7h0m2-1h0m0 3h0m23 1h0m1-11h0m2 3h0m0 8h0m2-17h0m1 7h0m3 3h0m1 7h0m3-12h0m2 8h0m2-7h0m3 0h0m1 7h0m3-8h0m6-1h0m2 12h0m3-9h0m0 10h0m1-10h0m6-2h0m6-3h0m6-2h0m0 8h0m1-5h0m3 5h0m2-7h0m5 13h0m1-7h0m5-2h0m1 5h0m1-9h0m0 12h0m2-15h0m2 6h0m2-6h0m4 13h0m5-3h0m1-6h0m2 14h0m3-14h0m0 10h0m3-12h0m2 17h0m10 17h0m-1-3h0m-18 2h0m-1 2h0m-3-5h0m-2-5h0m-3 12h0m-1-14h0m-12 1h0m0 11h0m-2-7h0m-1 9h0m-1-16h0m-3-2h0m-1 10h0m-4-8h0m0 4h0m-2 10h0m-4-6h0m-1-10h0m0 5h0m-5-4h0m-1 1h0m-10 15h0m-2-1h0m-12 0h0m-4-17h0m0 11h0m0 2h0m-5-9h0m0 15h0m-1-12h0m-2 5h0m-3-6h0m-3-6h0m-2 17h0m-1-17h0m0 1h0m-3 11h0m-17 4h0m-2-14h0m-3 11h0m-1-5h0m-1 9h0m-2-17h0m-1 2h0m-2 9h0m-4-7h0m-8 0h0m-1 8h0m-1 1h0m-5-11h0m-2 11h0m-1-3h0m-3-8h0m0 9h0m-2 4h0m-2-4h0m-1-5h0m-1-6h0m-6 3h0m-4 8h0m-1 2h0m-5-12h0m-2 7h0m0 6h0m-3-8h0m-1-6h0m-6 14h0m-2-3h0m0 6h0m-1-8h0m-4 6h0m-2-4h0m-1-7h0m-7-1h0m-2 16h0m-2-9h0m-3-6h0m-3 7h0m-2-10h0m0 16h0m-1-9h0m-6-4h0m0 8h0m-1-10h0m-3 7h0m-2-4h0m-2 14h0m-2-4h0m-5-5h0m-1-10h0m-2 0h0m-4 6h0m0 1h0m-3-1h0m-2-5h0m-3 13h0m-3-6h0m-1 0h0m-1-6h0m-3 10h0m-4-8h0m-1 3h0m0 5h0m0 1h0m-6-6h0m-1-3h0m0 12h0m-4-4h0m0 3h0m-16-4h0m-4-2h0m0 7h0m-1-4h0m-1-10h0m-1 5h0m0 8h0m-4-2h0m-2-10h0m0 7h0m0 4h0m-1-14h0m-1 13h0m0 5h0m-4-17h0m-2 16h0m-5-15h0m-3-2h0m-6 10h0m-5-1h0m-2 5h0m-1 4h0m-1-14h0m-1 1h0m-1 4h0m-1-6h0m-1 6h0m0 3h0m-2 3h0m-5-6h0m-16-2h0m-1 6h0m-1-13h0m-1 12h0m-1-12h0m-1 5h0m-2 13h0m-2-13h0m-1 5h0m-1 2h0m-1-12h0m0 11h0m-1 1h0m0 7h0m-3-15h0m-1 0h0m0 8h0m-2 3h0m0-2h0m0 6h0m-1-16h0m0 8h0m-3-1h0m-2 5h0m-5-14h0m-1 10h0m0-3h0m-2-5h0m0 9h0m-4-10h0m-2 5h0m-5-6h0m-1 7h0m-1 0h0m-1-7h0m-1 6h0m-1 2h0m-1 8h0m-1 1h0m-2 1h0m-1-10h0m-1-5h0m-1 2h0m-4 33h0m1-17h0m0 8h0m1 5h0m0 3h0m1-5h0m5-4h0m1 9h0m7-3h0m1-6h0m6 0h0m1 4h0m13-8h0m0 12h0m3-1h0m2 3h0m2-9h0m1 9h0m2-16h0m1 16h0m2-8h0m3 1h0m1-7h0m0 6h0m2-4h0m2 9h0m6-5h0m2-1h0m6-8h0m2 9h0m2-4h0m3-7h0m1 19h0m2-15h0m1 8h0m2-10h0m1 14h0m3-16h0m5 17h0m8 0h0m0 1h0m2-17h0m3 14h0m3-5h0m4-6h0m1 2h0m3 11h0m2-15h0m1 2h0m2 3h0m1 0h0m0 8h0m4 0h0m1 2h0m3-7h0m0 7h0m1-8h0m5-9h0m0 3h0m2 12h0m0-2h0m4-2h0m2 8h0m2-6h0m0 3h0m2-9h0m3-4h0m8 9h0m3-3h0m1 8h0m5-12h0m1 8h0m1 5h0m1-12h0m4 2h0m0 11h0m1-19h0m0 15h0m2-15h0m1 9h0m4-8h0m1 15h0m2-7h0m4-4h0m3-5h0m13 2h0m4 0h0m4 8h0m3 2h0m1-11h0m11-1h0m3 15h0m1-7h0m2 10h0m3-4h0m6-1h0m1 1h0m0 4h0m1 0h0m4-18h0m0 7h0m1 1h0m2 8h0m1-15h0m1 14h0m1-6h0m1-1h0m1-3h0m1-1h0m3-3h0m3 8h0m11 1h0m1-7h0m1-2h0m0 10h0m3 6h0m2 1h0m3-8h0m0-1h0m1-4h0m0 8h0m1-11h0m0 10h0m2 7h0m2-9h0m2-6h0m1 15h0m2-19h0m0 13h0m1-8h0m0 11h0m1-8h0m0 5h0m3 0h0m2-13h0m2 1h0m2-1h0m2 18h0m3-1h0m8-3h0m1-3h0m1-7h0m1 14h0m4-8h0m1 6h0m1-14h0m6 4h0m1 9h0m5 3h0m11 1h0m1-2h0m4-2h0m4 4h0m2-11h0m0 5h0m6-11h0m3 8h0m0 6h0m10-10h0m2 2h0m3-1h0m2 7h0m5-8h0m0 12h0m2-5h0m1 2h0m1-9h0m0 3h0m3 8h0m4-7h0m1 6h0m3-7h0m5-8h0m3 8h0m2 0h0m9 3h0m1 2h0m2 0h0m2-4h0m3 3h0m1-3h0m5 7h0m11 9h0m0 7h0m-1-12h0m-2-1h0m-3 16h0m-1-8h0m-3-6h0m0 11h0m-1-9h0m-3 1h0m-1-2h0m0 10h0m-2 6h0m-4-14h0m0 5h0m-1 5h0m-2-10h0m-1-3h0m-1 15h0m-3-4h0m-5-4h0m-3 2h0m0 5h0m-3-3h0m-4 3h0m-4 0h0m-1-14h0m-4 14h0m-2-16h0m-3 0h0m-1 8h0m0 3h0m-1-4h0m-12 1h0m-1 11h0m-8-18h0m-3 3h0m-6 6h0m-2-6h0m-6-1h0m-3 16h0m-2-12h0m-8 3h0m-8-3h0m0 7h0m-1-10h0m-4 0h0m-2 7h0m-1-4h0m-2 2h0m-2 2h0m-1-8h0m-2 7h0m-1-10h0m-4 2h0m0 7h0m-4 7h0m-2-11h0m-4-3h0m-3 15h0m-1 1h0m-2-1h0m-3-7h0m-3-5h0m0 9h0m-1 4h0m-1-9h0m-3-7h0m-1 13h0m-2 4h0m-8-2h0m-2-8h0m-6 5h0m-2 4h0m-1-2h0m-3-4h0m-1-5h0m-1 11h0m-1-6h0m-1-7h0m-3-4h0m-2 5h0m0 11h0m-3-4h0m0 5h0m-11-11h0m-4-2h0m-9 5h0m-1-2h0m-7 5h0m-1-2h0m-1 6h0m0 2h0m-7-9h0m-1-5h0m0 11h0m-2-8h0m-2 7h0m-3-6h0m-2 3h0m-2-12h0m0 2h0m-1 2h0m0 12h0m-2-6h0m-2 9h0m-3-13h0m-2 9h0m-6-5h0m-2-7h0m0 7h0m-8 0h0m0 6h0m-7-14h0m0 11h0m-1-10h0m-6-3h0m-3 15h0m-4-2h0m-1-11h0m-1 3h0m-2 11h0m-2-14h0m0 1h0m-8-2h0m-6 5h0m-1-5h0m-16 3h0m-1 3h0m-1 8h0m-1-8h0m-4-6h0m0 16h0m-4-11h0m-1-2h0m-8 9h0m-1 4h0m-1-9h0m-3-4h0m-1 3h0m-1 10h0m-2-4h0m-1-9h0m-3 4h0m-1 9h0m-2-10h0m0 12h0m-2-7h0m-1-3h0m0 0h0m-3 4h0m-4-13h0m0 4h0m-2 3h0m-1 7h0m-2-8h0m-2 3h0m-3 6h0m-1-8h0m-1 5h0m-6-2h0m-1-8h0m0 11h0m-4-12h0m-1 8h0m-1 7h0m-2-15h0m-2 15h0m-1 2h0m-1-17h0m0 11h0m-2 1h0m-1-4h0m-4-7h0m0 8h0m-4 4h0m-2-7h0m0 6h0m-2-10h0m-2 3h0m-3 12h0m-1-12h0m-1 8h0m-1 5h0m-3-1h0m0 0h0m-2-5h0m-2-13h0m-2 11h0m-2-10h0m0 10h0m1 14h0m2 8h0m4 0h0m2 2h0m2-8h0m1 3h0m2 9h0m1-3h0m1 2h0m2-12h0m1 2h0m2 3h0m0 2h0m0 6h0m1-8h0m0 2h0m1-7h0m1 3h0m0 0h0m0 10h0m1-18h0m0 8h0m0 0h0m0 7h0m0-2h0m3 2h0m0-4h0m1-5h0m0 4h0m0 2h0m1-11h0m0 12h0m2-13h0m0 18h0m1-4h0m2-7h0m3-8h0m0 19h0m1-17h0m1 13h0m5-14h0m1 16h0m3-14h0m1 7h0m5 8h0m1-5h0m1-1h0m4 5h0m3-9h0m2-8h0m1 11h0m1-3h0m1 8h0m3-7h0m1 1h0m0 8h0m1-15h0m2 0h0m0 15h0m2-6h0m4 7h0m4-17h0m4 8h0m1-4h0m2 11h0m3-6h0m0 8h0m2-13h0m3-3h0m0 14h0m3-10h0m0 5h0m3-3h0m6-9h0m3 15h0m2-13h0m1 7h0m0 7h0m4-3h0m1-6h0m4-2h0m1 2h0m4 12h0m1-19h0m0 1h0m0 8h0m1-1h0m18 5h0m2-6h0m2 8h0m2-12h0m0 2h0m1 8h0m2 4h0m1-11h0m2-2h0m1 2h0m1 5h0m0 2h0m2-8h0m2-5h0m0 2h0m11 12h0m6-6h0m5 2h0m0 6h0m1-14h0m1 2h0m0 13h0m3-9h0m1 1h0m1-9h0m0 16h0m2-13h0m1 9h0m2-1h0m2 8h0m1-16h0m0 14h0m2-8h0m6 1h0m8 7h0m2-17h0m5 16h0m1-3h0m2-8h0m2 1h0m5 4h0m1-10h0m0 6h0m2 7h0m0 5h0m4 0h0m1-14h0m0 5h0m4-1h0m3-5h0m5 0h0m2 4h0m1 0h0m3-5h0m4 9h0m2 5h0m1-2h0m2-9h0m1 8h0m2-3h0m0 3h0m6-7h0m1-4h0m1 8h0m1 7h0m12-3h0m1 5h0m5-8h0m1-3h0m2-6h0m1 10h0m3-3h0m1 10h0m2-15h0m0 7h0m3 3h0m1-1h0m1-11h0m1 3h0m2 6h0m0 5h0m10-15h0m13 8h0m1-1h0m2 9h0m10-4h0m3-7h0m6-4h0m0 4h0m4 1h0m9-5h0m1-2h0m11 3h0m0 5h0m2-5h0m0 2h0m8-5h0m1 3h0m6 0h0m2 5h0m3 1h0m2-7h0m1 16h0m1-4h0m0 5h0m5-16h0m3 8h0m0 6h0m2-6h0m0 7h0m1-13h0m1 12h0m3-10h0m1 7h0m3-13h0m5 6h0m1-7h0m10 2h0m6 7h0m2-2h0m0 2h0m0 4h0m4 6h0m2 0h0m17 16h0m-19 3h0m-1-7h0m-2 6h0m-17-13h0m-1-2h0m-1 9h0m-5 7h0m-1-4h0m-6 4h0m-11-16h0m0 9h0m-1 4h0m-1-8h0m-5 6h0m-2-12h0m0 6h0m-3-6h0m0 6h0m-3-5h0m-6 6h0m-4-5h0m-1 11h0m-2-1h0m-3-7h0m-2 8h0m-2-9h0m0 12h0m-1 0h0m-2-4h0m-1 1h0m-10 0h0m-5 3h0m-1-15h0m-17 12h0m-15 4h0m-3-2h0m-2-7h0m0 5h0m-5-3h0m-2-1h0m-11-10h0m-16 15h0m-6-4h0m-3 6h0m-1-1h0m-5-15h0m-1 7h0m-1-8h0m0 13h0m-1-9h0m0 7h0m-2 3h0m-8-9h0m0-1h0m-1 0h0m-9 6h0m-1-6h0m0 14h0m-3-9h0m-2 4h0m-3-10h0m-1 10h0m-2-9h0m-1 6h0m-4 8h0m-4-16h0m-1-1h0m0 6h0m-4 3h0m-1 9h0m-14 0h0m-1-5h0m-3-6h0m-4-6h0m0 13h0m-2-9h0m-1 9h0m-1-15h0m0 14h0m-3-6h0m-3 9h0m-2-13h0m0 11h0m0-1h0m-1 3h0m-3-16h0m-5 17h0m-5-6h0m-1 6h0m-1-14h0m-3-4h0m0 16h0m-3-6h0m-2-3h0m-4-7h0m0 5h0m-4 9h0m-1-9h0m-2 7h0m-3-12h0m0 16h0m-1-4h0m-1-4h0m0 3h0m-8 1h0m-6 4h0m-1-2h0m-4-4h0m-4 0h0m-6-4h0m0-1h0m-4-2h0m-2 0h0m-5-2h0m-1 12h0m-1-6h0m0 6h0m-3-2h0m-3 3h0m-16-9h0m0 14h0m-1-7h0m-6-1h0m-1-9h0m0 4h0m0 8h0m-1-11h0m-4 9h0m-2-8h0m-6 9h0m-1-9h0m0 14h0m-2-12h0m-1 11h0m-1-14h0m-4 1h0m-10-2h0m0 4h0m-4 4h0m-3-7h0m-2 0h0m0 10h0m-1-7h0m-4-3h0m-1 0h0m0 9h0m0 1h0m0 4h0m-2-1h0m-2-14h0m-1 8h0m0 5h0m-1-13h0m0 17h0m-1-14h0m-1-5h0m0 3h0m0-1h0m0 3h0m-1 1h0m-1 9h0m0 4h0m-1-16h0m0 1h0m0 8h0m0 0h0m-1-9h0m-2 0h0m-1 3h0m-1 6h0m-1-12h0m-2 2h0m0 1h0m0 1h0m-4-2h0m-4 1h0m0-2h0m-1-1h0m-1 0h0m-2 2h0m0 2h0m-1-1h0m-2-1h0m-3 9h0m-2-6h0m0 5h0m-1-4h0m-2 2h0m5 27h0m5-3h0m3-9h0m2 12h0m1 0h0m6-7h0m4 4h0m3-7h0m3 4h0m1-9h0m1 1h0m0 5h0m0 8h0m2-10h0m1-4h0m0 1h0m0 3h0m1-3h0m0 17h0m1-1h0m0 0h0m1-6h0m1 6h0m2-10h0m0 9h0m3-7h0m2 10h0m2-15h0m0 12h0m3-4h0m4 1h0m1-2h0m7-3h0m10-6h0m1 0h0m3 17h0m3-10h0m0 3h0m2-12h0m2 3h0m0 8h0m0 7h0m4-13h0m2 7h0m6 3h0m16 2h0m1-7h0m4-3h0m2-2h0m0 0h0m0 9h0m5-11h0m0 6h0m0 5h0m2-12h0m0 16h0m3-13h0m0 5h0m3 6h0m2-2h0m5-12h0m9-2h0m1 18h0m1-8h0m0 2h0m2 1h0m1-6h0m2 6h0m1-2h0m1-5h0m0 12h0m6-2h0m1-12h0m1 6h0m6 4h0m0 4h0m1-14h0m1 4h0m2 7h0m1-5h0m2-6h0m1 1h0m4-1h0m1 8h0m1 1h0m5-7h0m2 1h0m1-3h0m3-1h0m3 10h0m4-2h0m0 3h0m1-7h0m1-6h0m0 6h0m1 11h0m3-3h0m1-15h0m2 8h0m2 8h0m2-8h0m0-3h0m4 10h0m2-2h0m7 3h0m10-1h0m1-10h0m7 7h0m2-4h0m4 7h0m1-12h0m2 2h0m3 4h0m1 8h0m3-14h0m0 3h0m2 1h0m0 3h0m1 7h0m1-16h0m6 16h0m3-11h0m2 10h0m1 0h0m1-1h0m2-8h0m14 4h0m3-10h0m4 5h0m0 5h0m1-9h0m2 2h0m11-3h0m6 1h0m2-2h0m3 7h0m2-3h0m1 14h0m1-9h0m3-6h0m1 12h0m5-2h0m1-7h0m0 10h0m3-11h0m3-4h0m3 9h0m4 3h0m1-3h0m1 5h0m8-13h0m1 16h0m2-16h0m4 16h0m1-9h0m1-3h0m5-2h0m1-3h0m2 4h0m1 3h0m2-1h0m3 4h0m3-5h0m3 6h0m1 5h0m5-10h0m7-1h0m4 5h0m6 6h0m1-8h0m5 2h0m0 1h0m1-8h0m2-3h0m2 3h0m3 0h0m5-4h0m0 1h0m4 1h0m0 17h0m3-1h0m2-5h0m3-4h0m10 8h0m1-13h0m3 4h0m8 7h0m2-8h0m1-5h0m17 8h0m1 9h0m7-10h0m1 7h0m17 20h0m-3-5h0m-2 0h0m0 6h0m-4-5h0m-1-2h0m-4-7h0m0 10h0m-1-13h0m-3 7h0m0 7h0m-6-4h0m-1-8h0m-3 0h0m0 16h0m-2-2h0m-3-11h0m-4-2h0m-2-3h0m-17 5h0m-7 9h0m-3-6h0m0 11h0m-1-8h0m-1-8h0m-3 13h0m-3-6h0m-1 9h0m-2-19h0m-5 19h0m-5-13h0m-5-1h0m0 7h0m-1-6h0m-2 4h0m-3 6h0m-3-7h0m-1 8h0m-3-10h0m0 5h0m-4-11h0m0 13h0m-2-2h0m-1-12h0m-9 10h0m-5-7h0m-2 6h0m-7 0h0m0 8h0m-2-17h0m0 15h0m-3-9h0m0 4h0m-9 7h0m-2-8h0m0 8h0m-2 0h0m-2-2h0m-1-14h0m0 15h0m-5-1h0m-3 4h0m-1-18h0m-4-1h0m-1 5h0m0 3h0m-4 3h0m0 3h0m-2-8h0m-1 2h0m-1-6h0m-4 13h0m-1-12h0m-1 15h0m-2-7h0m-2-3h0m0-3h0m0 4h0m0 6h0m0 4h0m-1-19h0m-1 19h0m-7-15h0m0 12h0m-5-16h0m0 7h0m-5 7h0m-1-3h0m-1-7h0m-1 0h0m-3 2h0m-2-6h0m-2 14h0m-1-13h0m0 18h0m-2-13h0m-2 4h0m-3 7h0m-4-8h0m-1 4h0m-7 1h0m-2-6h0m-4 4h0m0 5h0m-2-15h0m-2 3h0m0 8h0m-3-1h0m-2-3h0m-1-4h0m-1 12h0m-1-7h0m-4 5h0m-3 2h0m-4-13h0m-1 10h0m-2-13h0m-2 3h0m0-4h0m-1 17h0m-4-11h0m-3 13h0m-7-15h0m0 10h0m-3-13h0m-3 6h0m-1-3h0m-3 12h0m-17-9h0m0 6h0m-1-12h0m-2 5h0m-2 6h0m-1 5h0m-1-3h0m0 3h0m-3-14h0m-4 3h0m-7 6h0m0 5h0m-3-9h0m-4 5h0m0 5h0m-4-10h0m-3-2h0m-3-2h0m-1 9h0m-1-3h0m0 6h0m-4-6h0m-1-6h0m-1 10h0m-4-9h0m0 14h0m-3-6h0m-1-13h0m0 15h0m0 4h0m-1-14h0m-7 12h0m-9-17h0m-1 9h0m-1 3h0m-1 6h0m-3-18h0m-1 18h0m-2 0h0m-1-9h0m-2-8h0m-2 4h0m-1 6h0m-2-9h0m0 11h0m-2-3h0m-1 3h0m-2 3h0m-2-7h0m-3 3h0m0 7h0m-11-7h0m-1 5h0m-1-17h0m0 7h0m-2 7h0m-1-7h0m-4-5h0m-1-2h0m0 18h0m-1-8h0m-1-9h0m-2-1h0m-1 6h0m0 7h0m-1-10h0m-6 8h0m-6 3h0m-2-4h0m-5 4h0m-4-4h0m-4-3h0m-4-6h0m0 9h0m0 8h0m-6-13h0m0 7h0m-5-3h0m-1-7h0m0 13h0m-2 2h0m-1-8h0m-2 1h0m-1 7h0m-3-4h0m-20-11h0m0 4h0m-5 11h0m7 17h0m5-12h0m6 9h0m4 1h0m0 1h0m1-13h0m2 6h0m0 8h0m2-3h0m0 4h0m2-13h0m2 5h0m1 10h0m2-6h0m1-9h0m1 7h0m1 4h0m1 0h0m0 6h0m1-14h0m2-5h0m1 18h0m2-9h0m2 2h0m1 5h0m0 3h0m1-13h0m1 4h0m1-10h0m3 3h0m1 11h0m2-7h0m5-6h0m1 12h0m2-2h0m3 0h0m1 4h0m1-9h0m0 9h0m2-6h0m3-2h0m2 8h0m1-14h0m2 4h0m3 7h0m2 7h0m3-13h0m1-4h0m0 11h0m2-4h0m1-7h0m0 15h0m4-6h0m1-9h0m2 4h0m4 6h0m3-5h0m2 5h0m2-9h0m2 3h0m4-6h0m1 7h0m0 5h0m4-9h0m5 7h0m2-2h0m4 3h0m1 2h0m5 5h0m11-16h0m8 5h0m0-1h0m8 2h0m6-2h0m0 12h0m1-12h0m5-5h0m0 15h0m3-3h0m0 6h0m2-10h0m8 7h0m1 2h0m1-12h0m0 6h0m1 1h0m6-6h0m1-3h0m2 8h0m3 2h0m1-8h0m1-6h0m1 11h0m2-2h0m1-7h0m2 4h0m11 5h0m9-3h0m7-5h0m7 6h0m1-1h0m1 6h0m2-14h0m3 5h0m0 3h0m2 10h0m1-11h0m4-5h0m4 1h0m1 2h0m1 9h0m4-11h0m1 5h0m1 11h0m3-7h0m2-6h0m1-4h0m1 17h0m1-14h0m2-5h0m0 17h0m1-16h0m0 12h0m7-10h0m0 12h0m11-13h0m11 13h0m1-9h0m1-6h0m0 9h0m0 8h0m1-3h0m2-11h0m2 4h0m1 4h0m1-5h0m2 5h0m1 3h0m1-9h0m2-3h0m1 12h0m2-5h0m1 3h0m6-10h0m0-1h0m2 6h0m2-1h0m13 0h0m13 11h0m4-3h0m9-3h0m7-8h0m2-2h0m13 12h0m1-12h0m6 11h0m1-8h0m0 8h0m5 5h0m5-15h0m12 3h0m3 2h0m5-7h0m3 5h0m7 1h0m4 2h0m1-7h0m2 3h0m0 12h0m11 2h0m13-3h0m3 3h0m9 1h0m1-9h0m2-2h0m4-5h0m0 12h0m2 4h0m2-13h0m5 4h0m1 1h0m9-5h0m7 13h0m2 0h0m9 19h0m-8-18h0m-4 12h0m-2 3h0m-1-6h0m-3-6h0m-1-3h0m-5 19h0m-8-18h0m0 12h0m-1-10h0m-2 3h0m-4 10h0m-1-16h0m0 11h0m-7-4h0m-4-6h0m-1 5h0m-3-5h0m-8 8h0m-2 0h0m-2 7h0m-11 3h0m-2-7h0m-3-8h0m-4 7h0m-4-10h0m0 17h0m-3-12h0m-1 8h0m-1-9h0m-2 12h0m-1-5h0m-3-7h0m-4 3h0m-17-4h0m0 5h0m-1-2h0m0 6h0m-2 4h0m-1-17h0m0 3h0m-2 10h0m-4-6h0m-1-2h0m0 6h0m-3 4h0m-2-11h0m0 13h0m-15-13h0m-1-1h0m-5 0h0m-3 2h0m-1 4h0m-1 4h0m-1-1h0m-5-8h0m0 11h0m-4-13h0m-2 5h0m0 8h0m-4 2h0m-9-13h0m0 1h0m-10 7h0m-3-5h0m-2 2h0m-4 4h0m-1-10h0m-1 14h0m-1-11h0m-5 7h0m-1-3h0m-3 8h0m-1-1h0m-8-11h0m-3-5h0m-5 9h0m-5-10h0m0 2h0m-2 4h0m-4 5h0m-1-3h0m0 8h0m-5-14h0m0 12h0m0 4h0m-3-17h0m-4 4h0m0 14h0m-14-17h0m-1 4h0m-1 12h0m-1-16h0m-1 4h0m-4-1h0m0 13h0m-2-6h0m-1-7h0m-4 1h0m0 2h0m-2-3h0m-22 2h0m-1 5h0m0 5h0m-4-6h0m-4 5h0m-4-13h0m-3 10h0m-2 5h0m-4-12h0m-2 4h0m-2 4h0m-1-13h0m-1 17h0m-3-13h0m0 4h0m-3 4h0m-4-3h0m-1-4h0m-1 2h0m-3 10h0m-1-8h0m-4 8h0m-1-1h0m-6-7h0m0 3h0m-3 4h0m-2-2h0m-2-12h0m-6 12h0m-14-11h0m-1 4h0m-12-8h0m-1 13h0m-3-11h0m0 12h0m-3-13h0m-2 5h0m-2-5h0m-4 9h0m0 4h0m-1-11h0m-5 6h0m0 7h0m-3-13h0m0 13h0m-2-6h0m-1 3h0m0 4h0m-9-1h0m-8-8h0m-4-5h0m0 2h0m0 10h0m-4-1h0m-1 5h0m-1-5h0m-1-12h0m0 4h0m-2-5h0m0 13h0m-3-7h0m-1 8h0m-1-9h0m0 8h0m-1 4h0m-4-3h0m-2-15h0m-3 11h0m-5 6h0m-4-6h0m-2-5h0m-1-3h0m-1 8h0m-1-2h0m-3 5h0m-2-1h0m-1-4h0m-1-1h0m-1 8h0m0-4h0m-1 3h0m-3 1h0m-1-13h0m-1-3h0m-4 2h0m0 4h0m-1-6h0m-7 2h0m-5-2h0m-1 9h0m9 24h0m4-9h0m0 15h0m3-15h0m2-3h0m1 6h0m0 5h0m1-8h0m3-4h0m0 15h0m1-12h0m0-1h0m0 12h0m2-13h0m2 7h0m1-3h0m0 5h0m2-10h0m0 7h0m2 5h0m2 3h0m2-8h0m2 9h0m0-2h0m10-6h0m3-7h0m2 8h0m1 7h0m1-12h0m2 5h0m2-3h0m3-4h0m2 6h0m3 9h0m2-16h0m0 2h0m1 10h0m0 4h0m5-8h0m0 10h0m5 0h0m4-9h0m6-4h0m0 12h0m1-3h0m1-5h0m0 6h0m4-12h0m2 9h0m2-3h0m3-10h0m0 1h0m3 6h0m4-3h0m0 3h0m0 8h0m4-6h0m2-9h0m0 16h0m1-6h0m10-7h0m1 16h0m10-19h0m0 6h0m1-1h0m3 6h0m1-4h0m0 12h0m2-5h0m1-14h0m5 4h0m1 3h0m0 10h0m2-9h0m2-3h0m1-4h0m2 9h0m6 4h0m2-4h0m7 6h0m1-16h0m3 7h0m0 3h0m3-6h0m0 13h0m5-13h0m0-4h0m0 12h0m2 7h0m2-5h0m2-8h0m2-5h0m0 4h0m0 12h0m0 2h0m2-16h0m5 2h0m4 2h0m18 0h0m1 0h0m6-2h0m0 11h0m2-12h0m2 4h0m5 8h0m1-12h0m4 4h0m1-1h0m0 12h0m4-4h0m8-4h0m5-10h0m1 5h0m1 8h0m3-11h0m0 14h0m5-11h0m1 6h0m2-7h0m3 12h0m1-3h0m3-11h0m23 10h0m1-1h0m5-10h0m2 3h0m3 14h0m4-2h0m1-8h0m0 9h0m2-1h0m15-14h0m0 10h0m0 6h0m12-18h0m2 11h0m7-4h0m1-6h0m3 9h0m0 5h0m2-10h0m3 4h0m3-10h0m14 17h0m5 1h0m2-17h0m4 6h0m5 3h0m7 4h0m3-6h0m0-2h0m4 11h0m5-2h0m2-4h0m3-10h0m2 7h0m1-7h0m5 12h0m3 4h0m8 1h0m1-5h0m2-1h0m14-4h0m3-5h0m13 12h0m1-4h0m2 7h0m5-7h0m2-3h0m2-2h0m0 9h0m2-7h0m1-3h0m0 5h0m0 3h0m5-10h0m4 6h0m5-1h0m4 4h0m3 1h0m4-9h0m4 8h0m6-11h0m3 4h0m6-1h0m4 20h0m-1 1h0m0 7h0m-3-1h0m-2-11h0m-5 12h0m-11-5h0m-2-3h0m-2 3h0m-3-5h0m-5 1h0m-6-1h0m0 4h0m-4-3h0m-2 14h0m-11-16h0m-4 3h0m-4 4h0m-1 2h0m-2-10h0m-18 2h0m-7 17h0m0-3h0m-6-8h0m-5-4h0m-16-2h0m-2 17h0m-1-3h0m-3-11h0m0 5h0m0 1h0m-2-6h0m0 3h0m0 7h0m-4-13h0m-17 15h0m-6-3h0m-7-5h0m-4-7h0m-14 12h0m0 2h0m-4-10h0m-1 11h0m-1-17h0m-2 11h0m-3-7h0m-2 4h0m0 9h0m-7-12h0m-4 6h0m-7-7h0m-5 13h0m-3-15h0m-1 3h0m-1-1h0m-3 14h0m-6-18h0m0 13h0m-2-9h0m-6-3h0m-3 10h0m0 4h0m-4-6h0m-3 7h0m-9-3h0m-3-4h0m0 7h0m-6-10h0m0 7h0m-2-11h0m0 10h0m-6-5h0m-4 7h0m-2-10h0m0 3h0m-1-6h0m-4 18h0m-3-12h0m-6-2h0m-1 12h0m-1-16h0m-1 4h0m0 3h0m-3 2h0m-1-3h0m-2 8h0m-1-2h0m-2-11h0m-1 9h0m-1 7h0m-3-9h0m-2-2h0m-1-6h0m-2 16h0m-11-4h0m-9 2h0m-2 0h0m-5-10h0m0 9h0m-1-6h0m-3 9h0m-2-9h0m-1 3h0m0 0h0m-2-8h0m-3 1h0m-1 10h0m-2 0h0m-1-10h0m0 6h0m-6 5h0m-3-13h0m0 2h0m0 3h0m-1-2h0m0 12h0m-1-17h0m0 12h0m-5 5h0m-1-4h0m-1-12h0m-2 4h0m0 10h0m-1-7h0m-3 3h0m-1 6h0m-1-9h0m-2-8h0m0 17h0m-3-9h0m-2 4h0m-2-12h0m-3 5h0m0 9h0m-2-8h0m-4 3h0m-3-4h0m-1 7h0m-12 5h0m-4-8h0m0 3h0m-3-8h0m-1 13h0m-3-17h0m0 9h0m-1 6h0m-3-10h0m-1 13h0m-3 0h0m-1-7h0m-1-4h0m-3-5h0m-1 12h0m-1-10h0m0 7h0m-13-8h0m0 14h0m-7-17h0m-11 5h0m0 13h0m-5-18h0m-1 5h0m-2 5h0m0 6h0m-3 3h0m-2-16h0m-2 9h0m-1-1h0m-1 1h0m0 6h0m-19-18h0m-1 0h0m-1 19h0m-1-3h0m-1-9h0m0 8h0m-2-12h0m0 1h0m-1 7h0m0 5h0m-1-16h0m0 6h0m0 5h0m-1-5h0m-1-3h0m0 8h0m-1 5h0m0-3h0m-1-4h0m-1 3h0m-1-8h0m-1 6h0m-1-2h0m-1 4h0m0-2h0m-1-2h0m6 13h0m1 4h0m1 4h0m0 7h0m5-5h0m13 1h0m2-8h0m0 1h0m2 4h0m0 10h0m6-19h0m2 1h0m15 3h0m3 9h0m3-8h0m0 9h0m8-11h0m6 2h0m1-3h0m2 4h0m0 5h0m2-5h0m1 10h0m13-14h0m5 10h0m2 7h0m2-12h0m5-2h0m5-4h0m21-1h0m2 18h0m4-11h0m0 4h0m1 0h0m1-6h0m6 6h0m2-9h0m5 4h0m12-4h0m7 11h0m6-9h0m4 3h0m2-2h0m0 10h0m1-7h0m1 4h0m3 6h0m1-6h0m1-8h0m2 15h0m2-7h0m13-9h0m1 14h0m3 1h0m3-9h0m3-6h0m7-3h0m0 3h0m6 7h0m11-2h0m1 8h0m2 1h0m4-2h0m1 1h0m2-6h0m2-6h0m3 0h0m1 9h0m8-7h0m1-2h0m1 12h0m7-16h0m2 4h0m1 11h0m2 0h0m5 2h0m1 0h0m1-16h0m5 13h0m2-2h0m1 3h0m4-6h0m3-8h0m0 8h0m5 9h0m2-14h0m1 7h0m7 8h0m0-1h0m1-11h0m4-5h0m2 8h0m2 7h0m10-3h0m1-1h0m2-11h0m9-1h0m24 1h0m0 12h0m17 3h0m1-2h0m7-2h0m3 5h0m6-17h0m14 10h0m3 6h0m11-6h0m7-6h0m8 0h0m1 8h0m3-11h0m6 12h0m15-11h0m2 16h0m14-6h0m5-7h0m6 5h0m1 2h0m9-2h0m2-1h0m4-6h0m3 12h0m2-12h0m4 5h0m6 12h0m-1 3h0m-1 7h0m-4-1h0m-10 4h0m0 3h0m-1-9h0m0 10h0m-1-6h0m-3-1h0m-1 7h0m-5-5h0m-1-4h0m-19-9h0m-10 15h0m-5-3h0m0 5h0m-2-14h0m-4 3h0m-1 13h0m-5 0h0m-3-17h0m-2-2h0m-2 13h0m-3-13h0m-8 11h0m0 6h0m-1-10h0m-4 5h0m-6-8h0m-3 7h0m-1 3h0m-1-12h0m-3 10h0m-2-10h0m0 14h0m-2-11h0m-16 9h0m-11-13h0m-3 2h0m0 13h0m-16-10h0m-3-6h0m-9 8h0m-1-3h0m-4 3h0m-2 4h0m-1 7h0m-1-2h0m-8-15h0m-1-2h0m-1 4h0m-3 5h0m-2-3h0m-1 4h0m-36-10h0m-12 3h0m-1 2h0m0 5h0m-8 2h0m-4-10h0m-12 11h0m-3 2h0m-1-2h0m-6 5h0m-2-15h0m-4 4h0m-2 7h0m-7-12h0m-6 9h0m-4-5h0m-1-6h0m-7 17h0m-1-4h0m-6-8h0m0 4h0m-3 9h0m-5-1h0m-13-16h0m-4 8h0m-1 3h0m-3-5h0m-2-4h0m-2 3h0m-3-2h0m-5 9h0m-1-7h0m-8 10h0m-3-11h0m-7 10h0m-2-6h0m-7 2h0m-14-9h0m-19-1h0m-4 16h0m-19-10h0m-2 0h0m-4 3h0m-4 0h0m-1 0h0m-4-1h0m-5 7h0m-5 3h0m-3-10h0m0 4h0m-1 0h0m-3-11h0m-1 15h0m-3 1h0m-1-17h0m-15 17h0m-5-3h0m-3-5h0m-1-8h0m-2 8h0m0 2h0m-12 2h0m-5 7h0m11 2h0m1 16h0m10-12h0m1-3h0m18-3h0m0 15h0m1-4h0m5-11h0m0 6h0m2 6h0m7-12h0m1 6h0m1 4h0m3 6h0m18-15h0m9 0h0m13 1h0m6 16h0m21-8h0m25-3h0m13 1h0m2 1h0m1 8h0m2 0h0m1-10h0m2 6h0m4 5h0m12-3h0m7-7h0m5 0h0m6-2h0m1-6h0m3 16h0m16-14h0m3 6h0m2 3h0m13-9h0m4 0h0m1 11h0m4-5h0m15-8h0m9 3h0m1 2h0m9-3h0m12 11h0m1 5h0m11-6h0m6 4h0m1-2h0m1 1h0m4-1h0m1-13h0m0 9h0m3-11h0m6 17h0m10-11h0m0-1h0m2 1h0m15-5h0m6 18h0m1-13h0m2 2h0m3 9h0m10-17h0m1 8h0m18-4h0m5-2h0m0-1h0m6 14h0m0 4h0m3-18h0m2 1h0m1 11h0m3 0h0m1-5h0m1-2h0m6 3h0m2 1h0m10-5h0m6-3h0m0 3h0m8 9h0m1-12h0m0 7h0m1 8h0m3-11h0m2-4h0m3 8h0m1-1h0m2-1h0m1 3h0m3 8h0m16-8h0m3-3h0m6 6h0m1-6h0m1-3h0m2-4h0m3 8h0m1 0h0m0 5h0m2-9h0m0 13h0m1-11h0m0 7h0m15-10h0m6 4h0m2 10h0m-14 9h0m0 6h0m-1-8h0m-1 9h0m-1 4h0m-5-4h0m-6-10h0m-3 4h0m-8 0h0m-12-8h0m0 4h0m0 2h0m0 10h0m-21 1h0m-17-7h0m-22-10h0m-2 6h0m-2 5h0m-1-7h0m-4 9h0m-2-6h0m-2-5h0m-1 17h0m-3-13h0m-3-2h0m-20-4h0m0 2h0m-2 9h0m-2-5h0m-4-1h0m-1-3h0m-10 12h0m-21-11h0m-2 13h0m-5-1h0m-30-13h0m-5 7h0m-2-5h0m-5 1h0m0 2h0m-4 3h0m-4-10h0m-16 2h0m-4 8h0m-2-9h0m0 10h0m-5-10h0m-9 2h0m-5 1h0m-4 0h0m-6 5h0m-10 7h0m-6-5h0m-3 0h0m-14 6h0m-5-15h0m-19 1h0m0 9h0m-40-8h0m-2 3h0m-10 5h0m-4-4h0m-6 3h0m-7-1h0m-2-10h0m-2 3h0m-2 11h0m-10-1h0m-1-5h0m-5-5h0m-1 1h0m-1 1h0m-1 5h0m0 2h0m-1-7h0m0 5h0m-1 4h0m0 3h0m-2-15h0m-1 2h0m0-3h0m-1 6h0m-2 0h0m-1 6h0m0 3h0m-4-13h0m-9 4h0m0 1h0m-8 6h0m-1-11h0m-2 14h0m-1-15h0m0 11h0m-1-7h0m-2 4h0m-1-9h0m-1 2h0m-1 10h0m-5-11h0m-1 17h0m-2-14h0m-17 14h0m-3-4h0m-3-9h0m-1-4h0m0 9h0m-3-10h0m0 1h0m-1-2h0m0 6h0m-3 10h0m-1-8h0m0 4h0m-1-1h0m-1-2h0m7 23h0m0 6h0m1-16h0m1 12h0m13-6h0m4 2h0m10-10h0m1 18h0m1-16h0m7-1h0m5 0h0m0 18h0m2-17h0m0 10h0m6-10h0m13 11h0m1-9h0m18-1h0m2 9h0m3-4h0m6-3h0m2 9h0m0 1h0m2-14h0m4 11h0m1-7h0m1 12h0m11-7h0m11 1h0m3 0h0m73-10h0m0 10h0m4 1h0m3 3h0m3-7h0m4 6h0m5-6h0m14 5h0m16-4h0m1-8h0m13 6h0m14 6h0m12 0h0m13 5h0m16-4h0m6-2h0m7-11h0m0 4h0m0 3h0m1-6h0m1 12h0m2-4h0m4-3h0m3-6h0m17 13h0m1 5h0m4-2h0m5-8h0m2-8h0m1-1h0m0 18h0m13-14h0m10 9h0m2-5h0m2 11h0m2-8h0m4 1h0m10 2h0m28 0h0m1-11h0m0 13h0m8-7h0m1 10h0m2-10h0m2-5h0m18-3h0m6 8h0m1 2h0m2 8h0m1-15h0m21 2h0m7-5h0m-11 33h0m0 4h0m-8-5h0m-8-5h0m-10 8h0m-6-2h0m-5-10h0m0 12h0m-2-9h0m-1 7h0m-3 3h0m-1-17h0m-2 8h0m-1 10h0m-1-11h0m-1 9h0m-5-7h0m-2 8h0m-2-11h0m-1-2h0m-1 0h0m-2 5h0m-4 10h0m-1-15h0m-1 5h0m-7 6h0m-2-8h0m-1 2h0m-1 0h0m-2-3h0m-3 13h0m-1-1h0m-19 1h0m-1-8h0m0 3h0m-2-9h0m0 5h0m-2 4h0m-5-2h0m-3 7h0m-2-8h0m-7 4h0m-4 1h0m-3 1h0m-4-12h0m-2 13h0m-2-1h0m-4-14h0m-3 12h0m-2 4h0m-3-15h0m-11 13h0m-6-1h0m-2 1h0m-2-10h0m-5-7h0m-3 18h0m-5-7h0m-3 6h0m-10-7h0m-2 6h0m-8-9h0m-2 8h0m-1-7h0m-4-7h0m0 10h0m-2-3h0m-7 7h0m0-2h0m-9-12h0m-1 13h0m-15 4h0m-5-16h0m-1 3h0m0 13h0m-2-2h0m-2 2h0m-5-12h0m-16 8h0m-4-3h0m-11-10h0m-4 1h0m0 1h0m-10 9h0m-32-12h0m-23 9h0m-1 10h0m-19-13h0m-2-2h0m-1 11h0m-1-15h0m-1 10h0m-17-8h0m0 5h0m-2 8h0m-4-2h0m-3 1h0m-2-11h0m-2 0h0m-5 16h0m-3-16h0m-2 0h0m-4-1h0m-2 3h0m0 5h0m-2-10h0m0 14h0m0 4h0m-2-8h0m-3-7h0m-1 2h0m0 4h0m-6-8h0m-1 17h0m-4-14h0m-1 11h0m-3-7h0m-1-7h0m-6-1h0m-1 3h0m-2-1h0m-5-1h0m0 6h0m-6-7h0m-2 1h0m-1 4h0m-8-2h0m-2-2h0m-1 4h0m-1 9h0m-5-2h0m-1-3h0m-2-8h0m-1 4h0m0 3h0m-1 5h0m0 6h0m4 12h0m1 5h0m1 1h0m6 0h0m3-7h0m2 8h0m9 1h0m3-7h0m7 1h0m3 3h0m3-5h0m4 2h0m0 3h0m2-5h0m1-1h0m6 6h0m1 0h0m12-2h0m3-6h0m2 8h0m0 3h0m2-8h0m0 3h0m1-5h0m1 0h0m4 0h0m0 9h0m1 1h0m1-15h0m1 5h0m0 6h0m12-12h0m1 1h0m1 4h0m2-4h0m3 2h0m2 9h0m1-12h0m4 4h0m0 9h0m2-11h0m0 12h0m1 2h0m1-18h0m0 18h0m2-4h0m2-10h0m0 14h0m2-10h0m1-3h0m1-5h0m20 15h0m3-7h0m1 9h0m5-3h0m32-3h0m53-6h0m8-3h0m6 14h0m9-4h0m0 3h0m5 3h0m15-4h0m1-8h0m5 6h0m2-9h0m4-1h0m2 8h0m1 7h0m3-13h0m1 12h0m2-7h0m5 8h0m5-9h0m3 0h0m5 8h0m1-14h0m4 7h0m4-3h0m1 7h0m1 0h0m2 3h0m10-12h0m0 14h0m4-8h0m7-8h0m5 10h0m5-10h0m1 15h0m1-11h0m3 4h0m2-3h0m0 5h0m3 6h0m13-19h0m1 6h0m5 2h0m1-1h0m9 11h0m2-16h0m0 11h0m2-12h0m3 13h0m3-7h0m2 2h0m1-8h0m6 5h0m4-6h0m4 1h0m4 12h0m5-8h0m6 6h0m0 5h0m4-7h0m2-5h0m0 5h0m3-2h0m2 8h0m3-3h0m2-7h0m8 12h0m15-15h0m1-1h0m17 5h0m0 8h0m0 3h0m2-8h0m3-9h0m49 35h0m-1-3h0m-6 1h0m-1 6h0m-2-7h0m-1 7h0m-2-3h0m0 2h0m-2-8h0m0 5h0m0-3h0m-2-4h0m-1 3h0m0 5h0m-1 3h0m-1-4h0m0 0h0m0 2h0m0 2h0m0-1h0m-1-10h0m0 9h0m-1-7h0m0 9h0m-1-9h0m0 4h0m0 2h0m-1-4h0m0 7h0m-25 0h0m-4-6h0m-2 6h0m-4-2h0m-6-11h0m-3-3h0m-1 9h0m-3-3h0m-2-7h0m-2 10h0m-3-5h0m-3 10h0m-7-9h0m-2 1h0m-2-1h0m-2 3h0m-6-10h0m-3 9h0m-1 9h0m-1-8h0m-3-2h0m-3-1h0m-17 8h0m-1-3h0m-2 5h0m-2-6h0m-2-3h0m-3 10h0m-1-11h0m-1 3h0m-2 4h0m-7 3h0m-2-1h0m-3 2h0m-12-9h0m-15 5h0m-4-3h0m-1-11h0m-4 2h0m0 7h0m-5-3h0m-2 8h0m-1-8h0m-7 12h0m-3-2h0m-7 2h0m-8-5h0m-1-5h0m-6 8h0m-1-16h0m0 4h0m0 14h0m-3-4h0m0 3h0m-10-7h0m0 8h0m-22-7h0m-4-2h0m-6 7h0m-14-17h0m-2 17h0m-6-17h0m-36 12h0m-50 1h0m-1 0h0m-32-8h0m-1 3h0m-1-8h0m0 8h0m-3 3h0m-3-1h0m-1 9h0m-3-16h0m-3 5h0m-3-5h0m-1 0h0m-8-3h0m-1 12h0m-2-3h0m-6-9h0m-8 4h0m-5-1h0m-1 6h0m-4-1h0m0 7h0m0 1h0m-1-7h0m-3 2h0m0 3h0m-1-6h0m0 9h0m-2-6h0m-4-2h0m-7 8h0m-1-4h0m-1-9h0m0 14h0m-1-8h0m0-1h0m-2 2h0m-1-11h0m-1 17h0m-2-6h0m-3-2h0m0 3h0m-3-11h0m-10 14h0m-4-7h0m-2 11h0m-8-3h0m-1-16h0m0 14h0m-2 1h0m-1 4h0m-1-12h0m-1 12h0m-1-9h0m0 7h0m-1-14h0m0 3h0m-1-1h0m0 6h0m-2-3h0m-1 5h0m0 6h0m-1-2h0m-2-14h0m-1 5h0m-1 25h0m2-11h0m0 8h0m2-8h0m0 5h0m1 8h0m1 1h0m2-12h0m2 8h0m0-3h0m1-7h0m1 4h0m0 0h0m0 12h0m2-17h0m0 3h0m0 13h0m5-15h0m0 2h0m0 14h0m2-7h0m0 0h0m1-11h0m0 16h0m3-10h0m5 1h0m0 11h0m3-5h0m0 6h0m6-5h0m0 5h0m1-1h0m1-17h0m0 7h0m2-4h0m2-2h0m1 3h0m3-5h0m0 9h0m1-8h0m0 1h0m1-2h0m0 4h0m1-2h0m2 9h0m1-9h0m0 6h0m0 8h0m2 0h0m4-9h0m1 3h0m1 9h0m3-9h0m0 2h0m0 3h0m1-13h0m0 13h0m1-6h0m1 8h0m3 1h0m1-7h0m0 3h0m1-3h0m1 0h0m1-3h0m1 4h0m2-2h0m1-1h0m2-9h0m0 6h0m0 13h0m3-3h0m6-2h0m0 2h0m2-5h0m0 5h0m2-11h0m0 0h0m0 4h0m0 1h0m5-5h0m1 9h0m15-9h0m4-3h0m3 5h0m0 9h0m2-14h0m1 14h0m7-7h0m1 1h0m3-5h0m8 8h0m0 0h0m10-5h0m15 9h0m9-17h0m20 12h0m24-8h0m48 12h0m1-12h0m1-2h0m3 11h0m2 2h0m4-8h0m0 7h0m5-14h0m2 0h0m0 12h0m1-7h0m2 2h0m12-1h0m1 13h0m1-3h0m1 1h0m1-17h0m1 1h0m12 11h0m2-3h0m1 3h0m3-2h0m4-4h0m0 1h0m3 0h0m2 0h0m1-7h0m2 0h0m1 10h0m7-8h0m3 3h0m17 7h0m4 3h0m5-12h0m14 6h0m4 9h0m4-5h0m4-6h0m4-6h0m0 13h0m3-6h0m1-6h0m2 13h0m6 4h0m9-6h0m5-10h0m1 15h0m5-5h0m1 3h0m4-4h0m2-8h0m3-1h0m0 13h0m1-4h0m1-5h0m3-2h0m1-3h0m3 0h0m1-2h0m5 11h0m4-2h0m1 1h0m1 8h0m3-5h0m5 3h0m1 0h0m1-13h0m5 6h0m1-9h0m0 2h0m0 5h0m0 4h0m2-10h0m0 5h0m2 11h0m1 1h0m1-5h0m1-13h0m0 15h0m2-8h0m2 8h0m0-1h0m1 4h0m1-15h0m4 11h0m1-12h0m3-2h0m0 12h0m5 1h0m4-8h0m2-4h0m4 3h0m1 4h0m2-4h0m0-3h0m0 5h0m0 4h0m1-9h0m1 0h0m0 1h0m0-1h0m5 3h0m3 10h0m5 4h0m1-18h0m3 16h0m6-2h0m2-13h0m0 3h0m4-4h0m2 15h0m1-6h0m6 0h0m2 6h0m1 3h0m2-3h0m6 4h0m6 20h0m-4-17h0m0 6h0m0 5h0m-2-11h0m0 14h0m-1-16h0m-4 2h0m-2 17h0m-8-18h0m0 15h0m-3 2h0m-3-6h0m-6-10h0m-1 3h0m-1 11h0m-2-14h0m0 2h0m-2 7h0m-1 0h0m-1-3h0m-1-6h0m0 5h0m-1-3h0m-2-3h0m-1 4h0m-1 2h0m0 6h0m-3-10h0m0 3h0m0 8h0m-1-14h0m0 12h0m-2-5h0m-3-2h0m-5 2h0m-7 2h0m-3-3h0m-8-5h0m-1 6h0m0-2h0m-1-3h0m0 12h0m-4-5h0m-2-5h0m-1 7h0m-2-9h0m-1 1h0m-1 5h0m-1-2h0m-1 0h0m0 6h0m-1-3h0m-1-3h0m-1-4h0m0 8h0m0-1h0m-1-2h0m-4 4h0m0 3h0m-2-4h0m-1 4h0m-2-14h0m-1 11h0m-1-7h0m0 2h0m-1 12h0m-2-4h0m-5 3h0m-3 0h0m-1-11h0m0 4h0m-1-7h0m-9 4h0m-2-6h0m-7 13h0m-3 2h0m-4-6h0m-2-9h0m0 8h0m-2-4h0m0 11h0m-1-9h0m-4 9h0m0-4h0m-2-11h0m-1 9h0m-6-4h0m-2 2h0m0 9h0m-4-15h0m-4 6h0m-5-7h0m-2 17h0m-2-14h0m-2 7h0m-5-5h0m-6-2h0m-5 6h0m0 4h0m-1-7h0m-1 6h0m-7-8h0m-4 6h0m-1 8h0m-3-6h0m-3 1h0m0-2h0m-2-4h0m-2 9h0m-19-8h0m-8 8h0m-15-6h0m-14-3h0m0 11h0m-7-1h0m-49-10h0m-28 0h0m-28 1h0m-7 4h0m-5-12h0m-10 15h0m-8-12h0m-8 7h0m-7-5h0m-5 12h0m-1-4h0m0 0h0m-4 0h0m-2-13h0m-1 14h0m-4-15h0m0 16h0m-2-1h0m-7 3h0m-2-9h0m-4-7h0m-2 3h0m0 2h0m-4 3h0m-1-10h0m0 11h0m-2-7h0m-14 13h0m-1 1h0m-1 1h0m-3-9h0m0 7h0m-2-5h0m-2 6h0m-1-16h0m-2 3h0m0 8h0m-3-5h0m-1-4h0m0 9h0m-4-11h0m0 17h0m-1-9h0m0 4h0m-1-12h0m0 7h0m0-1h0m-1-5h0m-1 6h0m-1-3h0m-3 10h0m-18-7h0m-1 3h0m-1-11h0m0 15h0m-1-7h0m-3 7h0m-1-9h0m-3 8h0m-10-14h0m-6 8h0m-3-3h0m-3 5h0m-3-8h0m5 25h0m2-6h0m1-1h0m0-1h0m2 12h0m2-8h0m1-4h0m0 13h0m2 0h0m1-1h0m1 7h0m1-8h0m0 8h0m4-8h0m0-3h0m1-2h0m0 6h0m1 0h0m1-1h0m1-7h0m1 10h0m5 4h0m1-18h0m0 14h0m1-13h0m0 5h0m0 5h0m3-4h0m2 4h0m1-1h0m2 6h0m3-13h0m4 6h0m4 10h0m3-18h0m0 8h0m5 9h0m1-15h0m2 5h0m0 11h0m3-19h0m8 8h0m2-1h0m1 8h0m6 4h0m8-2h0m4 1h0m10 1h0m3-14h0m0 9h0m2-9h0m16-4h0m9 5h0m2-2h0m1 6h0m3-6h0m0-3h0m0 3h0m2 2h0m0 9h0m2-8h0m1 1h0m1-8h0m0 2h0m2 5h0m2-2h0m0 9h0m1 2h0m1-9h0m4 1h0m2 2h0m5 4h0m2-10h0m0 4h0m1-2h0m1-6h0m0 8h0m1 8h0m1-9h0m3-7h0m1 7h0m18-5h0m36 6h0m45 5h0m5-1h0m7-7h0m3-4h0m34 0h0m2 10h0m3-9h0m18 14h0m16-15h0m0 5h0m1-5h0m9 18h0m1-4h0m9 3h0m6-2h0m2 3h0m1-8h0m1-2h0m2-4h0m2-4h0m0 6h0m1 10h0m1-10h0m1-1h0m3 3h0m3-9h0m2 6h0m3-3h0m2 4h0m7 12h0m2-4h0m0 3h0m1-4h0m1-10h0m17 15h0m5-17h0m1 12h0m1-5h0m3 5h0m2 2h0m2-15h0m13 13h0m4-4h0m6 9h0m4-10h0m1 2h0m4 1h0m11-10h0m1 12h0m1-3h0m2 3h0m5-8h0m0 5h0m1-7h0m3 14h0m1-11h0m2 3h0m2-2h0m1-4h0m5-3h0m4 15h0m4-9h0m2-3h0m0 10h0m2-7h0m1 2h0m5-3h0m1 6h0m2-3h0m9 2h0m2 5h0m1-7h0m1-9h0m6 13h0m0 6h0m2-13h0m10 1h0m0 1h0m1 6h0m3 7h0m-12 0h0m-1 6h0m-2-3h0m-1-3h0m0 11h0m-1-9h0m0 2h0m-1 1h0m0 5h0m-1-8h0m0 6h0m0 10h0m0-3h0m-1-7h0m0 8h0m-4-2h0m-3 2h0m-9-7h0m-13 9h0m-1-7h0m-1 7h0m-2-11h0m-3 10h0m-2-9h0m-2-2h0m-3 4h0m-4-11h0m0 19h0m-1-9h0m0 6h0m-9-16h0m-3 16h0m-3 3h0m-3-10h0m0 6h0m-9-4h0m0 3h0m-2-13h0m-1 7h0m0 0h0m-5 9h0m-13-5h0m-1-9h0m-4-3h0m-5 9h0m-2-4h0m-7 11h0m-1-9h0m0 5h0m-1-7h0m-1 0h0m-4 5h0m-4 5h0m-2 4h0m-1-12h0m0 0h0m-3-2h0m-1 1h0m0 3h0m-3 5h0m-4-10h0m0 2h0m-2 0h0m-2 8h0m-2 5h0m-1-7h0m-3-7h0m-1 4h0m-1-1h0m-6 2h0m-8-5h0m-3-4h0m0 7h0m-2 10h0m-4-10h0m-2-4h0m-2 0h0m-4 7h0m-5-11h0m-11 18h0m-8-11h0m-7 11h0m-29-11h0m-39 4h0m-54-7h0m-15 5h0m-6 8h0m-7 1h0m-5 1h0m-9-5h0m-3 0h0m-3-6h0m-1 5h0m-1-6h0m0 4h0m0 8h0m-1-19h0m-1 12h0m0 6h0m-4-16h0m0 17h0m-1-4h0m-1-8h0m0 5h0m0-1h0m0 4h0m-2-6h0m-1-7h0m-2-1h0m0 7h0m-3-5h0m-1 9h0m-3-10h0m-6 6h0m-2-7h0m-5 18h0m-3-7h0m0 0h0m0 4h0m-1-7h0m0 6h0m0-1h0m-2-3h0m-1 8h0m-1-2h0m-2 0h0m-1-16h0m-2 17h0m-2 1h0m-4-17h0m-1 2h0m-27 13h0m-2-13h0m0-2h0m0 6h0m0 10h0m0-2h0m-1-12h0m0 5h0m-3 1h0m-2-4h0m0 2h0m-1-5h0m0 16h0m-1-10h0m-1 5h0m-2-4h0m-1-10h0m-3 11h0m0 7h0m-7-4h0m-1-8h0m-2 8h0m-1 4h0m-4-2h0m-4-15h0m-2 1h0m-2 0h0m-3 4h0m-3 3h0m-4 7h0m-5 1h0m-16-4h0m-1-13h0m0 11h0m-6 3h0m-3 2h0m2 12h0m2-2h0m1-2h0m4-3h0m3 12h0m5-10h0m1 6h0m10 1h0m2 4h0m2-7h0m2 8h0m4-13h0m1 11h0m1-3h0m2-6h0m2 1h0m1 6h0m1-11h0m1 9h0m2 2h0m5 6h0m3-16h0m3 4h0m1 5h0m3 2h0m2 0h0m2-10h0m3-1h0m4 1h0m0 4h0m1 2h0m3 8h0m1 3h0m2-15h0m1-3h0m0 4h0m0 14h0m1-16h0m0 1h0m0 5h0m2-1h0m1 4h0m0 5h0m1-12h0m5 2h0m3 10h0m8-17h0m0 18h0m2-3h0m4-13h0m1 0h0m3 2h0m0-3h0m2-1h0m2 2h0m2 0h0m2 1h0m2 7h0m2-10h0m0 3h0m1 7h0m0 2h0m2-12h0m17 0h0m1 2h0m4 0h0m0 14h0m4-11h0m2-5h0m0 15h0m2-6h0m2 0h0m0 10h0m3-12h0m3-3h0m0-2h0m2 10h0m2 0h0m7-10h0m9-2h0m4 8h0m3 6h0m6 3h0m3-12h0m28 11h0m35 2h0m5-4h0m1 3h0m3-13h0m19 12h0m2-15h0m6 10h0m3-2h0m0 6h0m1-2h0m7 6h0m11-17h0m12 16h0m4-6h0m1-11h0m7 6h0m4 11h0m2-7h0m13-4h0m4 12h0m4-1h0m7-2h0m0 1h0m0-1h0m7 3h0m1-18h0m2 0h0m2 16h0m2-17h0m0 8h0m4-5h0m11 10h0m3-2h0m2 4h0m3-14h0m0 0h0m0 13h0m0 5h0m3-17h0m0 14h0m0 0h0m2-16h0m1 9h0m2 2h0m2 3h0m9-7h0m2 2h0m2 8h0m2-7h0m1-1h0m0 7h0m1 1h0m1 0h0m1 1h0m1-5h0m2-12h0m2 4h0m0 13h0m1-4h0m1-6h0m0 4h0m0 6h0m4-1h0m4-10h0m2-5h0m4-1h0m0 11h0m1-12h0m1 10h0m0 6h0m0 2h0m1-15h0m5 9h0m1-9h0m0 3h0m0 5h0m3-4h0m1 8h0m2-15h0m3 3h0m0 12h0m2 0h0m3-13h0m1 12h0m4 3h0m6-4h0m5-6h0m0 7h0m4 2h0m0 3h0m0-1h0m1-14h0m1 10h0m0-1h0m0 1h0m0 3h0m1-17h0m0 11h0m3-2h0m1-6h0m0 3h0m0 3h0m4 4h0m2-10h0m1 5h0m1-2h0m1-5h0m5 18h0m1-12h0m0 8h0m1-8h0m1 6h0m3 4h0m6-4h0m0 3h0m2-12h0m1 8h0m0-3h0m1-6h0m1 13h0m1-12h0m0 6h0m0 0h0m1 4h0m0 0h0m0 3h0m2-1h0m0 3h0m1-13h0m0 6h0m0 1h0m1-11h0m0 9h0m0-2h0m0 3h0m0 3h0m1-9h0m0 3h0m0 4h0m1 0h0m0 4h0m1-8h0m1 6h0m0-3h0m1 7h0m2-9h0m-4 10h0m-1 7h0m-2-6h0m0 4h0m-1 5h0m-1-4h0m-2 11h0m-4-4h0m-1-7h0m0 2h0m-1-8h0m-1 2h0m-6 11h0m-4-9h0m-2-1h0m-1 15h0m-1-16h0m-3 5h0m-4 10h0m-4-16h0m0 4h0m-2-1h0m-1-1h0m0 0h0m0 15h0m-2 1h0m-1-6h0m-2-12h0m-3-1h0m0 4h0m-8-3h0m-3 6h0m-1-6h0m-9 0h0m-4-1h0m-2 13h0m-3-5h0m-1 4h0m0-3h0m0 8h0m-1-15h0m-2 15h0m-1-13h0m0 15h0m-1-15h0m-4 15h0m-1-9h0m-8-6h0m-2-4h0m0 3h0m0 1h0m-2 8h0m-1-12h0m-4 3h0m0 2h0m0 0h0m0 5h0m-2 8h0m-1-8h0m0 0h0m-4 3h0m-3 1h0m-1-2h0m0 6h0m-2 1h0m-5-5h0m-1-10h0m0 14h0m-3-14h0m0 3h0m0 12h0m-1-2h0m-1-9h0m-2 10h0m-1-18h0m0 10h0m0 9h0m-1-18h0m0 2h0m-2 1h0m-1-3h0m0 6h0m-1 4h0m-8-4h0m0 11h0m-7-8h0m-4 9h0m-4-17h0m-7-2h0m-2 11h0m-3 5h0m-1-11h0m0 0h0m0 9h0m-5-12h0m-8 7h0m-2-7h0m-3 1h0m-10 1h0m-49-3h0m-14 18h0m-10-3h0m-78-11h0m0 10h0m-11-4h0m-9-7h0m0 5h0m-1-2h0m-2-2h0m-3 14h0m-1-16h0m-1 6h0m0 2h0m-2 7h0m-4-7h0m-3-2h0m-3-4h0m-5 11h0m-1-16h0m-2 1h0m-1 17h0m-1-17h0m-1 9h0m-4 3h0m-1-11h0m0 15h0m-1-14h0m0 14h0m-3-11h0m0 5h0m-1 6h0m-1 0h0m-3-8h0m-4-7h0m-1 1h0m-17 1h0m-1 0h0m0 11h0m-1-12h0m-1-3h0m0 4h0m0 4h0m0 0h0m0 6h0m-1 0h0m-2 4h0m-4-15h0m-2 3h0m-5 12h0m-1-1h0m-5-16h0m-3 7h0m-1 4h0m-1 1h0m-6-4h0m-3-9h0m0 1h0m-2 3h0m0 4h0m0 9h0m-1-9h0m0 7h0m-4-6h0m0 2h0m-1-8h0m0 0h0m0 10h0m0 2h0m-1-11h0m-1 14h0m-3 0h0m-1-8h0m-1-10h0m-1 15h0m-1-6h0m0 7h0m-2 2h0m-1-5h0m-5 5h0m-5-9h0m0 3h0m-3 0h0m-3 4h0m-2-15h0m-4 4h0m0 3h0m-2-1h0m-1 0h0m0 7h0m0 3h0m-1-8h0m-1-8h0m0 6h0m-1 9h0m-1-7h0m-2-9h0m0 3h0m-1 6h0m-2 10h0m-1-13h0m-1 10h0m-1 2h0m-1-8h0m-2 8h0m-2-5h0m-1 5h0m2 14h0m1-1h0m6-10h0m1 7h0m2-5h0m0-1h0m0 13h0m5-3h0m0 2h0m5-2h0m4-11h0m3 3h0m2-4h0m0 14h0m0 1h0m4-14h0m3 12h0m1-10h0m4 11h0m3-13h0m0 8h0m2-9h0m5 0h0m0 3h0m3 1h0m0 11h0m1-1h0m0 5h0m1-12h0m2-4h0m0 13h0m2-2h0m1-9h0m1 0h0m3 1h0m5 7h0m10 6h0m2-11h0m0 2h0m0 4h0m1-4h0m4 7h0m8-8h0m4-7h0m0 13h0m15-14h0m3 2h0m2 10h0m6-13h0m2 3h0m0 10h0m1-8h0m1-4h0m1 16h0m1-8h0m1 7h0m0 2h0m1-5h0m1-1h0m4-9h0m11 3h0m2-5h0m2 1h0m0 12h0m0 3h0m5-13h0m3-3h0m1 7h0m1 5h0m2-1h0m1-1h0m1-3h0m0 5h0m9-5h0m3 4h0m9 0h0m3-7h0m2 3h0m2-4h0m1-3h0m3 12h0m6-5h0m5 6h0m10-14h0m29 14h0m10-13h0m38 9h0m5 7h0m3 2h0m5-2h0m38-6h0m2 4h0m2 4h0m9-15h0m0 5h0m6 2h0m2-11h0m1 12h0m1-6h0m2 10h0m1-16h0m2 1h0m3 15h0m3 2h0m5-5h0m1-13h0m0 8h0m4 6h0m3-10h0m8 2h0m9 6h0m1 0h0m2-12h0m1 16h0m1-13h0m2 15h0m1-2h0m2 0h0m1 1h0m1-1h0m1 2h0m4-8h0m0 9h0m4-18h0m0 13h0m0 4h0m1-8h0m3-8h0m7 6h0m6 7h0m2-13h0m3 1h0m1 2h0m1-1h0m0-3h0m0 9h0m1 4h0m5-1h0m14-9h0m4 8h0m1-1h0m6-5h0m2-2h0m0 9h0m8-8h0m13 7h0m5-12h0m1 2h0m1 3h0m2 0h0m1 7h0m2 5h0m1-14h0m0 3h0m2-2h0m1-1h0m2-1h0m0 1h0m-9 24h0m-5 2h0m-3 0h0m-2 5h0m-2-2h0m-1-3h0m-1-4h0m-7 3h0m-2-3h0m-5 3h0m0 6h0m-1 5h0m-1-19h0m-1 8h0m-3 0h0m-1 8h0m-3-12h0m-4-3h0m-2 15h0m-8 1h0m-2 1h0m-1-13h0m-4-1h0m-2 2h0m-2-4h0m-2 2h0m-6 8h0m-5 5h0m-17-16h0m-2 8h0m-2-7h0m0-1h0m-1 3h0m-1 1h0m0 11h0m-2-9h0m-1-4h0m-2-1h0m0 12h0m-1-11h0m-2-2h0m-9 14h0m-11 4h0m-5-18h0m-3 2h0m-1 16h0m-1-12h0m-1 11h0m-4-15h0m-2 15h0m-1-14h0m-2 8h0m-1 0h0m-5 7h0m-5-3h0m-6-11h0m-1 8h0m-10 3h0m-1-8h0m-5-1h0m-1 4h0m-5-1h0m0 6h0m-1-14h0m-3 10h0m-8 5h0m-6-15h0m-3 3h0m-6-3h0m0 3h0m-1-1h0m-1 3h0m-8 0h0m-9-4h0m-20-1h0m-4 2h0m-2 0h0m-9 6h0m0 5h0m-12-7h0m-11-4h0m-11 11h0m-3-10h0m-9 9h0m-4 1h0m-3-7h0m-2-7h0m-10 17h0m-4-17h0m0 5h0m0 6h0m-4-7h0m0 11h0m-1-11h0m0 1h0m-1 5h0m-1-6h0m-1 11h0m-1-9h0m0 2h0m-5-7h0m-2 10h0m-6-12h0m-2 5h0m-1-1h0m-2-3h0m-2 3h0m-4 2h0m-1 0h0m0 4h0m-1 3h0m-1-7h0m-1 10h0m-1-15h0m0 10h0m0 0h0m-1-3h0m-2-4h0m-3 5h0m-3-3h0m-2 3h0m-2-4h0m-2-2h0m0 1h0m0 3h0m-2-5h0m0 11h0m-1-3h0m0 3h0m-3-12h0m0 6h0m-1-2h0m-3 6h0m-1-7h0m-3 7h0m0 1h0m0 4h0m-1-5h0m-6-1h0m-4-7h0m0 0h0m-11-1h0m-4 13h0m-2 3h0m-1-10h0m-1 0h0m0 3h0m-1 0h0m0-1h0m0 3h0m-2-1h0m-5 7h0m-2-17h0m0 11h0m-1 4h0m-6-3h0m-1-7h0m-6-1h0m0 1h0m-2 2h0m-1-2h0m-2-6h0m0 3h0m0 15h0m-1 0h0m-2-13h0m0 10h0m-8-6h0m0 3h0m-1-4h0m-2-4h0m0 12h0m-2-4h0m-2 1h0m-4-8h0m0 11h0m-1-6h0m-1 7h0m-1-13h0m-2-1h0m-5 7h0m-1-8h0m0 4h0m-1 0h0m-3-2h0m-2-3h0m0 6h0m-1-2h0m-4 0h0m31 17h0m1 8h0m1-4h0m0 4h0m0 1h0m1-1h0m3 1h0m4-2h0m1-10h0m3 8h0m0 11h0m6-13h0m3 2h0m1-5h0m1 11h0m2-1h0m4-10h0m1 6h0m2-8h0m4 5h0m1-5h0m1 5h0m0 11h0m2-10h0m4-3h0m0 10h0m7 2h0m8 1h0m6-2h0m1-13h0m0 4h0m5 2h0m1-8h0m3 7h0m4 12h0m3-5h0m1 3h0m1-13h0m4 15h0m3 0h0m4-8h0m2-11h0m0 15h0m3-3h0m1-2h0m6 6h0m2-8h0m9 10h0m1-9h0m7-7h0m1 6h0m1-1h0m2-7h0m0 2h0m0 17h0m1-9h0m2-10h0m0 5h0m0 4h0m1-6h0m0 9h0m4 4h0m0 0h0m2-1h0m0 3h0m3-8h0m1-4h0m7 7h0m3-7h0m51 11h0m4-11h0m5 7h0m0 4h0m1-2h0m3-6h0m8 8h0m16-6h0m1-9h0m2 3h0m0 0h0m0 0h0m6 4h0m3-8h0m1 11h0m2-2h0m4 3h0m3-2h0m1-6h0m1-5h0m1 19h0m2-10h0m3 10h0m13-3h0m5-4h0m3-12h0m1 2h0m2 2h0m0 15h0m4-8h0m4 4h0m3-12h0m1-2h0m3 15h0m0-3h0m1-12h0m2 12h0m4-12h0m0 8h0m0 3h0m4-6h0m0 5h0m0 3h0m4-1h0m1 0h0m7-5h0m0 11h0m3-6h0m1 0h0m1-4h0m0 3h0m0 4h0m1-6h0m0 3h0m1-9h0m1 1h0m1 2h0m1 1h0m2 3h0m3-5h0m0 9h0m2-9h0m1 2h0m4-3h0m0 9h0m1 5h0m8-11h0m1 7h0m4-15h0m3 15h0m2-8h0m1 0h0m2 3h0m0 2h0m9-9h0m3 0h0m2 9h0m1-12h0m3 15h0m1-15h0m0 10h0m1-6h0m0 6h0m0 0h0m2 4h0m0 4h0m1-5h0m0 0h0m1 6h0m1-12h0m0 1h0m0 1h0m1-2h0m0 2h0m1 5h0m0 0h0m1 5h0m0 0h0m3-14h0m10 0h0m1 0h0m6 4h0m1-7h0m2 4h0m2 7h0m1-7h0m2 10h0m1 3h0m1-17h0m8 6h0m2 2h0m5-3h0m420 26h0m-5-4h0m-1 8h0m-2-5h0m-1 5h0m-8 2h0m-1-5h0m-2-5h0m-5 10h0m-8-7h0m-11 7h0m-4-1h0m-2-7h0m-9-3h0m-2 3h0m0 4h0m-4-1h0m-2-6h0m-4 11h0m-1-1h0m-1-12h0m0 7h0m-2-7h0m-390 3h0m-1-8h0m0 1h0m-1-2h0m-2 4h0m0 2h0m0 4h0m-1-8h0m0 10h0m-1-7h0m0 4h0m-4-5h0m-1 3h0m0 0h0m0 0h0m-1-3h0m0 0h0m0 2h0m0 4h0m0 6h0m0 2h0m-2-9h0m0 8h0m-1-5h0m-3 0h0m-1-5h0m-1-3h0m0 7h0m0 8h0m-1-10h0m-3 0h0m-1 0h0m-7 3h0m-2 7h0m-1-11h0m-1-1h0m-1 2h0m-5 0h0m-2-7h0m-2 5h0m-1 3h0m-3 7h0m-5-1h0m-8 0h0m-1-8h0m-3 2h0m-1-1h0m-4-8h0m0 4h0m-1-3h0m0 1h0m-1 1h0m-1-4h0m0 5h0m-3-4h0m-2 2h0m-2 1h0m-3-1h0m-1 14h0m-3-1h0m-1-15h0m-3 7h0m-2-5h0m-4 8h0m-3 8h0m-1-3h0m-1-9h0m-2-2h0m0 9h0m0-1h0m-2-12h0m-3 11h0m-3-1h0m-6-9h0m-9 6h0m-1-2h0m0 0h0m0 3h0m-2-6h0m-3 13h0m-1-5h0m0 8h0m-2-17h0m-4 10h0m-3-1h0m-2-10h0m-3 18h0m-2-18h0m0 9h0m-1-1h0m0 1h0m0 6h0m-3-6h0m-1 3h0m-1-1h0m0 3h0m-1 2h0m-3-12h0m-12 11h0m-2-1h0m-8 2h0m-8-11h0m-2 2h0m-72-7h0m-12 9h0m-2-4h0m-19 1h0m-1-7h0m-1 2h0m-4-2h0m0 2h0m0 12h0m0 4h0m-1-5h0m-2-10h0m0 16h0m-1-16h0m0 2h0m0 8h0m-4-11h0m0 12h0m0 4h0m-1-3h0m-1 1h0m-1-14h0m0 7h0m-1-4h0m0 8h0m0 5h0m0-1h0m-18-14h0m-7 10h0m-8 0h0m-3-4h0m-1 8h0m-4-15h0m0-2h0m0 18h0m-1-16h0m-1 6h0m-4 5h0m0 0h0m-2-6h0m-2-2h0m0 2h0m-1 2h0m-2 2h0m-1-1h0m0 2h0m-3-12h0m0 12h0m0-1h0m-1-7h0m-3 6h0m-5-9h0m40 19h0m178 3h0m0 5h0m0-3h0m7-3h0m4 9h0m14-1h0m1 4h0m2 4h0m3-7h0m2 7h0m1-6h0m1 7h0m1-13h0m1 8h0m1-11h0m6-1h0m8 16h0m2-16h0m0 6h0m1 1h0m1-9h0m5 2h0m2 2h0m0 15h0m2-12h0m2 9h0m1 2h0m7-6h0m1-6h0m7 6h0m1 0h0m5-9h0m2 3h0m1 13h0m1-10h0m0 6h0m2-2h0m7-1h0m1 0h0m2-9h0m1 16h0m0-3h0m2-16h0m0 9h0m0 5h0m4-3h0m4-9h0m8-2h0m3 1h0m4 13h0m5-2h0m0 2h0m8-14h0m5 7h0m2-6h0m2 2h0m8-3h0m0 1h0m393 11h0m1-1h0m1 8h0m4-17h0m0 14h0m3-8h0m0 9h0m1-17h0m2 10h0m1-5h0m4-4h0m1 14h0m0-3h0m3-12h0m1 2h0m0 4h0m6 0h0m19 7h0m2-11h0m0 8h0m4-5h0m8 1h0m2 0h0m0 7h0m2-9h0m5-1h0m-47 17h0m-8 0h0m-3 5h0m-1 0h0m-4 4h0m-4-7h0m-3 1h0m-442 5h0m-5-8h0m0 7h0m-2-3h0m-1-3h0m0 2h0m-1-1h0m-1-1h0m-5 8h0m-3-5h0m-2 7h0m-1 0h0m-3-6h0m0 7h0m-1-5h0m-3-3h0m-30 5h0m-2 1h0m-5-8h0m0 6h0m-7-6h0m-5 1h0m50 17h0" stroke="#1c1c1c" stroke-width="14.8"/>
<path d="M1712 1259h0m1-8h0m1-3h0m2 1h0m3 6h0m4-7h0m0 8h0m2-8h0m0 5h0m10 3h0m7-10h0m4 7h0m0 5h0m4-1h0m3-17h0m0 17h0m1 0h0m1-15h0m2 10h0m2-10h0m0 5h0m2 10h0m3-3h0m1-11h0m2 12h0m1-7h0m2 2h0m1-4h0m4-3h0m0 11h0m2-14h0m3 12h0m1 3h0m2-2h0m1-11h0m12 4h0m4-5h0m0 13h0m2-14h0m3 17h0m1 1h0m6-12h0m9 0h0m0 11h0m4-12h0m3 13h0m1-8h0m11 3h0m2 2h0m3-2h0m7 4h0m47 19h0m-5 1h0m-5-3h0m-3 0h0m-1 3h0m-6-2h0m-2-5h0m-2 9h0m-1-14h0m-3 4h0m-3-5h0m0 12h0m-3-4h0m-2-7h0m-1 9h0m-7 0h0m-1 4h0m-3 0h0m-3-8h0m-11-4h0m-1 10h0m-1-4h0m-4-11h0m0 14h0m-1-6h0m-3-8h0m0 5h0m-5 10h0m-5-12h0m-4 11h0m-4 1h0m-1-6h0m-7-3h0m-4 9h0m-1-11h0m-6 10h0m-2-11h0m0 15h0m-3-10h0m-3 6h0m-2-11h0m-1 15h0m-3-8h0m0-1h0m-4 3h0m-7-11h0m0 11h0m-8 3h0m-7-4h0m-1 7h0m-2-7h0m-1-11h0m-5 11h0m-1-7h0m0 3h0m-6 10h0m-11-15h0m-2 3h0m-4-4h0m-4 9h0m-2-6h0m-1 5h0m-1 4h0m-4 2h0m-1-14h0m0 10h0m-1-6h0m-5 10h0m-5-16h0m0 2h0m-1 4h0m0 3h0m-2 3h0m-3-3h0m0 10h0m-2-16h0m-1 15h0m-7-6h0m-1-10h0m-7 12h0m-8 0h0m-1-5h0m0 7h0m-5-3h0m-2 2h0m-3-1h0m-6 3h0m-22 16h0m5 3h0m5-11h0m0 4h0m2 3h0m2 5h0m4-11h0m3 6h0m4-4h0m3-8h0m2 14h0m3-1h0m1 4h0m2-11h0m0 13h0m4 0h0m1-9h0m1 8h0m5-14h0m0 5h0m2-8h0m0 13h0m3 2h0m1-11h0m4 9h0m1-14h0m1 8h0m2-4h0m9-2h0m1 1h0m3-3h0m2 2h0m1 17h0m3-18h0m0 8h0m0 8h0m2-12h0m2 5h0m3 2h0m1 6h0m1-17h0m2 0h0m0 3h0m1 12h0m1-11h0m0 7h0m5-2h0m1-1h0m1-8h0m4 4h0m8 0h0m8 2h0m3-7h0m0 15h0m2 4h0m1-7h0m1-8h0m4 7h0m4-11h0m2 2h0m6-2h0m2 2h0m0 14h0m5-16h0m0 5h0m1 10h0m0-3h0m4-5h0m3 6h0m3 5h0m2-5h0m1-8h0m2-2h0m3 6h0m1-2h0m3 5h0m2-12h0m0 8h0m1-6h0m1 17h0m5-2h0m9-15h0m0 16h0m4-6h0m2 0h0m5-5h0m0 12h0m2-6h0m4-6h0m1-5h0m3 10h0m0 3h0m2-11h0m4 15h0m1-18h0m1 9h0m3 9h0m1-13h0m1 6h0m4-10h0m5 2h0m4 0h0m0 6h0m1 7h0m4-5h0m4-9h0m11 5h0m0 4h0m2-7h0m0 12h0m2-4h0m1 4h0m1-11h0m4-2h0m0 9h0m2-5h0m0 5h0m2 4h0m3-17h0m1 8h0m4-2h0m2 12h0m10 1h0m5-6h0m1-6h0m3 11h0m2-5h0m7-1h0m0 6h0m7-2h0m25 19h0m-2-3h0m-3-4h0m-2 10h0m-16-1h0m-1-15h0m-5-2h0m-2 12h0m-2-5h0m-7 12h0m-1-7h0m-1-8h0m-4 8h0m0 3h0m-5 4h0m-3-6h0m-1-12h0m-5-1h0m0 17h0m-1-7h0m-8-8h0m-2 10h0m-2-5h0m-2-5h0m-3 14h0m-1-4h0m-2-7h0m-4 8h0m-1-9h0m-3 10h0m-4-4h0m0 3h0m-3-2h0m-5-7h0m0 4h0m-6-5h0m-3-2h0m0 12h0m-2-10h0m0 7h0m-6-4h0m-2 4h0m-4-8h0m0 10h0m-3-2h0m-1 6h0m-2-13h0m-1 9h0m-1 5h0m-4-16h0m0 16h0m-2-14h0m-2 6h0m-2 10h0m-4-19h0m-9 12h0m-1-6h0m-3 11h0m-2-12h0m-1 13h0m-2-7h0m-1 1h0m-3-12h0m0 16h0m-11-14h0m0 7h0m-3-1h0m-3 9h0m-1-17h0m-3 6h0m-4-4h0m-4 11h0m-3 4h0m-1-4h0m-2-8h0m-3-2h0m-1 8h0m0 2h0m-2 5h0m-3-15h0m0 9h0m-4-3h0m-3-2h0m-4-6h0m-4 13h0m-4-6h0m-1 9h0m-4-5h0m-1 6h0m-2-3h0m-5-3h0m-2-10h0m0 15h0m-1-5h0m-4-1h0m0 8h0m-2-18h0m-1 17h0m-1-9h0m-2 5h0m-2 5h0m-1-11h0m-1-7h0m-4 9h0m-4 6h0m-3-7h0m-4 8h0m-6-4h0m-7-11h0m0 7h0m-3 6h0m-3-1h0m-1 2h0m-16-2h0m0 3h0m-2-10h0m-3 8h0m-4-15h0m0 6h0m-5 2h0m-5-7h0m-3 11h0m-7 6h0m-1-17h0m0-1h0m-5 7h0m0 6h0m-2 3h0m-2-15h0m-1 10h0m-3 8h0m-1-2h0m-7 0h0m-11 16h0m1-6h0m4 11h0m2-7h0m0-1h0m1 9h0m4-9h0m2-7h0m1 5h0m2 11h0m1-14h0m2 13h0m4-6h0m1-4h0m1-5h0m2 4h0m6-2h0m0 9h0m0 1h0m1-7h0m6 0h0m1-8h0m9 5h0m3 4h0m3-1h0m5 3h0m0 7h0m1-11h0m4-1h0m2 9h0m2-14h0m1 12h0m1 6h0m2-12h0m3 1h0m2 8h0m1-7h0m2-8h0m0 11h0m7 6h0m10-2h0m8-14h0m4 6h0m0 8h0m1-15h0m10 6h0m3 4h0m7-10h0m1 12h0m2-1h0m1-8h0m0 14h0m7-3h0m2 3h0m1-4h0m1-10h0m4 8h0m1 5h0m2-6h0m7-3h0m3 0h0m3-5h0m1 2h0m1-1h0m7-2h0m18 12h0m10-9h0m1-3h0m3 7h0m6-1h0m2 0h0m6 2h0m3 9h0m3-13h0m2-5h0m1 17h0m4-17h0m3 15h0m1-6h0m0 6h0m4-12h0m5 3h0m3-6h0m0 15h0m2-2h0m3-5h0m1 9h0m2-16h0m2 10h0m5-7h0m9 0h0m11 0h0m0 8h0m1-12h0m5-1h0m1 16h0m2-8h0m3 10h0m2-2h0m2 2h0m3-7h0m3 1h0m2-8h0m1-3h0m0 7h0m1 4h0m8-6h0m5 0h0m3-5h0m4 2h0m0 13h0m4-14h0m7 6h0m1 8h0m2-7h0m1-4h0m4 8h0m7-2h0m0 2h0m5-2h0m3-6h0m0 13h0m3-17h0m0 13h0m3-8h0m2 12h0m3-7h0m3-3h0m1 5h0m14 20h0m-5 3h0m-1-1h0m-10-9h0m-4 9h0m-1-14h0m-1 3h0m-4 5h0m-5-6h0m-2 6h0m-5-5h0m-13 6h0m-11-5h0m-7-4h0m0 9h0m0 6h0m-1-13h0m0 7h0m-8-4h0m0 2h0m-1 8h0m-4-5h0m-1-11h0m-6 15h0m-2-13h0m0 5h0m-8-3h0m-4 4h0m-1-7h0m-1 8h0m-5-3h0m-2-5h0m0 9h0m-3 9h0m-4-5h0m0 5h0m-4-17h0m0 10h0m-3-12h0m-4 0h0m-4 13h0m-2-8h0m0 12h0m-1-2h0m-3-5h0m-1-10h0m-4 10h0m-1-3h0m-1 11h0m-1-15h0m-1 9h0m-1 5h0m-2-13h0m-3 2h0m-2-2h0m-5 14h0m-3-16h0m-3 12h0m-2-8h0m-3 6h0m-3-5h0m-1-5h0m-2 9h0m-1 5h0m-5-14h0m-4 13h0m-1 2h0m-4-6h0m0 4h0m-3-8h0m-5-2h0m-7 3h0m-2 6h0m-4 1h0m-3-6h0m-2-6h0m-1 10h0m-1-5h0m-1 5h0m-5-12h0m-1 7h0m-3 7h0m-5 2h0m-2-8h0m0 10h0m-9-12h0m-4-2h0m-1-4h0m-4 11h0m0 7h0m-2-14h0m-1 8h0m-3-13h0m0 2h0m0 6h0m-4 1h0m-2-2h0m-11 6h0m-2-9h0m-1 2h0m-2 12h0m-2-17h0m-1 10h0m-3-10h0m-2 6h0m0 10h0m-5-17h0m0 12h0m-3-4h0m-6 2h0m0 8h0m-2-4h0m-1-13h0m-3 0h0m-5 8h0m-1-3h0m-2 0h0m-1 3h0m-2-9h0m-1 16h0m-1 2h0m-5 0h0m-2-18h0m-2 1h0m0 8h0m0 2h0m-2 2h0m-1-5h0m0 9h0m-5-9h0m-3 6h0m-1-13h0m-3 7h0m-5 9h0m-3-5h0m-2-6h0m-1 2h0m-3 10h0m-4-1h0m-1-8h0m-1 8h0m-3 0h0m-3-9h0m-1-5h0m0 13h0m-10-6h0m-9-10h0m-10 17h0m-2 1h0m-4 5h0m1 7h0m1-8h0m9 4h0m4-3h0m2 0h0m6 9h0m1-5h0m2 11h0m3-8h0m2-6h0m0-3h0m0 12h0m6-11h0m0 7h0m2-4h0m2 14h0m2-10h0m4-6h0m0 13h0m2-15h0m2 4h0m13 9h0m3-9h0m2 13h0m2-6h0m1 5h0m1-9h0m3 6h0m1-9h0m3 0h0m0 12h0m2-14h0m2 9h0m0 7h0m4-4h0m3 2h0m0 2h0m2-19h0m6 10h0m4-4h0m2-4h0m0 17h0m2-10h0m1-7h0m0 13h0m1-7h0m6-6h0m0 9h0m2 4h0m4-10h0m2 4h0m13 7h0m3-5h0m1 8h0m4 0h0m1-7h0m1-12h0m2 5h0m1-5h0m1 9h0m3 8h0m1-5h0m2-9h0m3 3h0m2-1h0m0 12h0m5 0h0m3-11h0m1-4h0m2 11h0m1-1h0m3-11h0m0 12h0m1-8h0m2 13h0m3-7h0m1-7h0m1 6h0m3-2h0m1-1h0m1-4h0m6 14h0m3-9h0m5-5h0m0 13h0m3-16h0m0 7h0m0 6h0m3-13h0m0 8h0m0 11h0m3-3h0m3-1h0m1-9h0m0 5h0m3-9h0m3 5h0m1 11h0m1-3h0m2-4h0m6-1h0m1-8h0m0 15h0m5-14h0m1 13h0m1-16h0m6 5h0m1-1h0m1 12h0m1 0h0m3-9h0m6 9h0m4-14h0m0 4h0m0 8h0m4 4h0m2-16h0m0 5h0m2 7h0m5 2h0m8 2h0m1-5h0m1-11h0m0 7h0m4-2h0m0 6h0m7-4h0m1 7h0m2-1h0m0 3h0m24-10h0m2 3h0m0 8h0m2-17h0m1 7h0m3 3h0m1 7h0m3-12h0m2 8h0m2-7h0m3 0h0m1 7h0m3-8h0m6-1h0m2 12h0m3-9h0m0 10h0m1-10h0m6-2h0m6-3h0m6-2h0m0 8h0m1-5h0m3 5h0m2-7h0m5 13h0m1-7h0m5-2h0m1 5h0m1-9h0m0 12h0m2-15h0m2 6h0m6 7h0m5-3h0m1-6h0m2 14h0m3-14h0m0 10h0m3-12h0m2 17h0m10 17h0m-1-3h0m-18 2h0m-4-3h0m-2-5h0m-3 12h0m-1-14h0m-12 1h0m0 11h0m-2-7h0m-1 9h0m-1-16h0m-3-2h0m-1 10h0m-4-8h0m0 4h0m-2 10h0m-4-6h0m-1-10h0m0 5h0m-5-4h0m-1 1h0m-10 15h0m-2-1h0m-12 0h0m-4-17h0m0 11h0m0 2h0m-5 6h0m-1-12h0m-2 5h0m-3-6h0m-5 11h0m-1-17h0m0 1h0m-3 11h0m-17 4h0m-2-14h0m-3 11h0m-1-5h0m-1 9h0m-2-17h0m-1 2h0m-2 9h0m-4-7h0m-8 0h0m-1 8h0m-1 1h0m-5-11h0m-2 11h0m-1-3h0m-3-8h0m0 9h0m-4 0h0m-1-5h0m-1-6h0m-6 3h0m-4 8h0m-1 2h0m-5-12h0m-2 7h0m0 6h0m-3-8h0m-1-6h0m-6 14h0m-2 3h0m-1-8h0m-4 6h0m-2-4h0m-8-8h0m-2 16h0m-2-9h0m-3-6h0m-3 7h0m-2-10h0m0 16h0m-1-9h0m-6-4h0m0 8h0m-4-3h0m-2-4h0m-2 14h0m-2-4h0m-5-5h0m-1-10h0m-2 0h0m-4 6h0m0 1h0m-3-1h0m-2-5h0m-3 13h0m-3-6h0m-1 0h0m-1-6h0m-3 10h0m-4-8h0m-1 8h0m0 1h0m-6-6h0m-1-3h0m0 12h0m-4-4h0m0 3h0m-16-4h0m-4-2h0m0 7h0m-2-14h0m-1 5h0m0 8h0m-6-5h0m-1-10h0m-1 18h0m-4-17h0m-2 16h0m-5-15h0m-3-2h0m-6 10h0m-5-1h0m-3 9h0m-1-14h0m-2 5h0m-1-6h0m-1 6h0m-2 6h0m-5-6h0m-18-9h0m-1 12h0m-2-7h0m-4 0h0m-1 5h0m-1 2h0m-1-12h0m-1 12h0m0 7h0m-4-15h0m-2 15h0m-1-8h0m-11 0h0m0-3h0m-2-5h0m0 9h0m-4-10h0m-7-1h0m-1 7h0m-4 1h0m-2 9h0m-3-9h0m-6 30h0m2-4h0m0 3h0m7 0h0m7-3h0m7-6h0m14-4h0m0 12h0m5 2h0m2-9h0m3-7h0m1 16h0m2-8h0m3 1h0m1-7h0m2 2h0m2 9h0m6-5h0m2-1h0m6-8h0m2 9h0m2-4h0m3-7h0m1 19h0m2-15h0m1 8h0m2-10h0m1 14h0m3-16h0m5 17h0m8 0h0m0 1h0m2-17h0m3 14h0m3-5h0m4-6h0m1 2h0m3 11h0m2-15h0m3 5h0m1 0h0m0 8h0m4 0h0m1 2h0m3-7h0m0 7h0m1-8h0m5-9h0m0 3h0m2 12h0m0-2h0m4-2h0m2 8h0m2-6h0m0 3h0m2-9h0m3-4h0m8 9h0m3-3h0m1 8h0m5-12h0m1 8h0m1 5h0m1-12h0m4 2h0m0 11h0m1-19h0m0 15h0m2-15h0m1 9h0m4-8h0m1 15h0m2-7h0m4-4h0m3-5h0m13 2h0m4 0h0m4 8h0m3 2h0m1-11h0m11-1h0m3 15h0m1-7h0m2 10h0m9-5h0m1 1h0m0 4h0m1 0h0m4-18h0m0 7h0m1 1h0m2 8h0m1-15h0m1 14h0m1-6h0m3-5h0m3-3h0m3 8h0m11 1h0m1-7h0m1-2h0m0 10h0m3 6h0m2 1h0m3-9h0m1-4h0m0 8h0m1-11h0m2 17h0m2-9h0m2-6h0m1 15h0m2-6h0m1-8h0m0 11h0m4-3h0m2-13h0m2 1h0m2-1h0m2 18h0m3-1h0m8-3h0m1-3h0m1-7h0m1 14h0m4-8h0m1 6h0m1-14h0m6 4h0m1 9h0m5 3h0m11 1h0m1-2h0m4-2h0m4 4h0m2-11h0m0 5h0m6-11h0m3 14h0m10-10h0m2 2h0m3-1h0m2 7h0m5 4h0m2-5h0m1 2h0m1-9h0m0 3h0m7 1h0m1 6h0m3-7h0m5-8h0m3 8h0m2 0h0m9 3h0m1 2h0m2 0h0m2-4h0m3 3h0m1-3h0m5 7h0m11 9h0m0 7h0m-1-12h0m-2-1h0m-3 16h0m-1-8h0m-3 5h0m-1-9h0m-3 1h0m-1-2h0m0 10h0m-6-8h0m0 5h0m-1 5h0m-2-10h0m-1-3h0m-1 15h0m-3-4h0m-5-4h0m-3 2h0m0 5h0m-3-3h0m-4 3h0m-4 0h0m-1-14h0m-4 14h0m-2-16h0m-4 8h0m0 3h0m-1-4h0m-12 1h0m-1 11h0m-11-15h0m-6 6h0m-2-6h0m-6-1h0m-3 16h0m-2-12h0m-8 3h0m-8-3h0m0 7h0m-1-10h0m-4 0h0m-2 7h0m-3-2h0m-2 2h0m-1-8h0m-2 7h0m-1-10h0m-4 2h0m0 7h0m-4 7h0m-2-11h0m-4-3h0m-3 15h0m-1 1h0m-5-8h0m-3-5h0m0 9h0m-1 4h0m-1-9h0m-3-7h0m-1 13h0m-2 4h0m-8-2h0m-2-8h0m-6 5h0m-3 2h0m-3-4h0m-1-5h0m-1 11h0m-1-6h0m-1-7h0m-5 1h0m0 11h0m-3-4h0m0 5h0m-11-11h0m-4-2h0m-9 5h0m-1-2h0m-7 5h0m-1-2h0m-1 8h0m-7-9h0m-1 6h0m-2-8h0m-2 7h0m-3-6h0m-4-9h0m-1 4h0m0 12h0m-2-6h0m-2 9h0m-3-13h0m-2 9h0m-6-5h0m-2-7h0m0 7h0m-8 0h0m0 6h0m-7-14h0m0 11h0m-1-10h0m-6-3h0m-3 15h0m-4-2h0m-1-11h0m-1 3h0m-2 11h0m-2-14h0m-8-1h0m-6 5h0m-1-5h0m-16 3h0m-1 3h0m-1 8h0m-1-8h0m-4-6h0m0 16h0m-4-11h0m-1-2h0m-8 9h0m-1 4h0m-4-13h0m-1 3h0m-1 10h0m-2-4h0m-1-9h0m-3 4h0m-1 9h0m-2-10h0m0 12h0m-2-7h0m-1-3h0m-3 4h0m-4-13h0m0 4h0m-2 3h0m-1 7h0m-2-8h0m-2 3h0m-3 6h0m-1-8h0m-1 5h0m-6-2h0m-1-8h0m0 11h0m-4-12h0m-1 8h0m-1 7h0m-5 2h0m-1-17h0m0 11h0m-2 1h0m-1-4h0m-4-7h0m-4 12h0m-2-7h0m0 6h0m-4-7h0m-3 12h0m-6 0h0m3 9h0m1 3h0m3 6h0m4-8h0m5 1h0m0 10h0m1-18h0m4 10h0m1-9h0m5 6h0m3 11h0m1-17h0m1 13h0m5-14h0m1 16h0m3-14h0m1 7h0m5 8h0m1-5h0m1-1h0m4 5h0m3-9h0m2-8h0m1 11h0m1-3h0m1 8h0m3-7h0m2-6h0m2 0h0m0 15h0m2-6h0m4 7h0m4-17h0m4 8h0m1-4h0m2 11h0m3-6h0m2-5h0m3-3h0m0 14h0m3-10h0m0 5h0m3-3h0m6-9h0m3 15h0m2-13h0m1 7h0m0 7h0m4-3h0m1-6h0m4-2h0m1 2h0m4 12h0m1-19h0m0 1h0m0 8h0m1-1h0m18 5h0m2-6h0m2 8h0m2-12h0m1 10h0m2 4h0m1-11h0m2-2h0m2 7h0m0 2h0m2-8h0m2-5h0m0 2h0m11 12h0m6-6h0m5 2h0m0 6h0m2-12h0m4 5h0m1-9h0m0 16h0m2-13h0m3 8h0m3-8h0m0 14h0m2-8h0m6 1h0m8 7h0m2-17h0m5 16h0m1-3h0m2-8h0m2 1h0m5 4h0m1-10h0m0 6h0m2 7h0m0 5h0m4 0h0m1-14h0m0 5h0m4-1h0m3-5h0m5 0h0m2 4h0m1 0h0m3-5h0m4 9h0m3 3h0m2-9h0m1 8h0m2-3h0m6-4h0m1-4h0m1 8h0m1 7h0m12-3h0m1 5h0m5-8h0m1-3h0m2-6h0m1 10h0m3-3h0m1 10h0m5-5h0m1-1h0m1-11h0m1 3h0m2 6h0m0 5h0m10-15h0m13 8h0m1-1h0m2 9h0m10-4h0m3-7h0m6-4h0m0 4h0m4 1h0m9-5h0m1-2h0m11 3h0m0 5h0m2-5h0m0 2h0m9-2h0m6 0h0m2 5h0m3 1h0m2-7h0m2 12h0m0 5h0m5-16h0m3 8h0m0 6h0m2-6h0m1-6h0m1 12h0m3-10h0m4-6h0m5 6h0m1-7h0m10 2h0m6 7h0m2-2h0m0 2h0m0 4h0m4 6h0m2 0h0m17 16h0m-19 3h0m-1-7h0m-2 6h0m-17-13h0m-1-2h0m-1 9h0m-5 7h0m-1-4h0m-6 4h0m-11-16h0m0 9h0m-1 4h0m-1-8h0m-5 6h0m-2-12h0m0 6h0m-3-6h0m0 6h0m-3-5h0m-6 6h0m-5 6h0m-2-1h0m-3-7h0m-2 8h0m-2-9h0m0 12h0m-1 0h0m-2-4h0m-1 1h0m-10 0h0m-5 3h0m-1-15h0m-17 12h0m-15 4h0m-3-2h0m-2-7h0m0 5h0m-5-3h0m-2-1h0m-11-10h0m-16 15h0m-6-4h0m-3 6h0m-1-1h0m-5-15h0m-1 7h0m-1-8h0m0 13h0m-1-2h0m-2 3h0m-8-9h0m0-1h0m-1 0h0m-9 6h0m-1-6h0m0 14h0m-3-9h0m-2 4h0m-3-10h0m-1 10h0m-2-9h0m-1 6h0m-4 8h0m-4-16h0m-1-1h0m0 6h0m-4 3h0m-1 9h0m-14 0h0m-1-5h0m-3-6h0m-4-6h0m0 13h0m-2-9h0m-2-6h0m0 14h0m-3-6h0m-3 9h0m-2-13h0m0 11h0m-1 2h0m-3-16h0m-5 17h0m-5-6h0m-1 6h0m-1-14h0m-3-4h0m0 16h0m-3-6h0m-2-3h0m-4-7h0m0 5h0m-4 9h0m-1-9h0m-2 7h0m-3-12h0m-2 8h0m0 3h0m-8 1h0m-6 4h0m-5-6h0m-4 0h0m-6-4h0m0-1h0m-4-2h0m-2 0h0m-5-2h0m-2 6h0m0 6h0m-3-2h0m-3 3h0m-16-9h0m0 14h0m-1-7h0m-6-1h0m-1-9h0m0 4h0m-1-3h0m-4 9h0m-8 1h0m-1-9h0m0 14h0m-2-12h0m-1 11h0m-1-14h0m-14-1h0m0 4h0m-4 4h0m-3-7h0m-2 10h0m-1-7h0m-4-3h0m-1 9h0m0 1h0m-5-3h0m-3-10h0m0 2h0m-1 4h0m-1 9h0m-1-3h0m-4-6h0m-1 6h0m-3-10h0m-12 0h0m-1 1h0m-5 8h0m-2-1h0m-1-4h0m3 29h0m5-3h0m3-9h0m13 9h0m3-7h0m8-4h0m0 3h0m2 13h0m1-6h0m3-4h0m0 9h0m3-7h0m4-5h0m0 12h0m3-4h0m4 1h0m1-2h0m7-3h0m10-6h0m4 17h0m3-10h0m0 3h0m2-12h0m2 3h0m0 8h0m0 7h0m4-13h0m2 7h0m6 3h0m16 2h0m1-7h0m4-3h0m2-2h0m0 9h0m5-11h0m0 6h0m0 5h0m2-12h0m3 3h0m0 5h0m3 6h0m2-2h0m5-12h0m9-2h0m1 18h0m1-8h0m0 2h0m3-5h0m3 4h0m1-5h0m0 12h0m6-2h0m2-6h0m6 4h0m0 4h0m1-14h0m1 4h0m2 7h0m1-5h0m2-6h0m1 1h0m4-1h0m1 8h0m1 1h0m5-7h0m2 1h0m4-4h0m3 10h0m4 1h0m1-7h0m1-6h0m0 6h0m1 11h0m3-3h0m1-15h0m2 8h0m2 8h0m2-8h0m0-3h0m6 8h0m7 3h0m10-1h0m1-10h0m7 7h0m2-4h0m4 7h0m1-12h0m2 2h0m3 4h0m1 8h0m3-11h0m2 1h0m0 3h0m1 7h0m1-16h0m6 16h0m3-11h0m2 10h0m1 0h0m1-1h0m2-8h0m14 4h0m3-10h0m4 5h0m0 5h0m1-9h0m2 2h0m11-3h0m6 1h0m5 5h0m2-3h0m1 14h0m1-9h0m3-6h0m1 12h0m5-2h0m1-7h0m0 10h0m3-11h0m3-4h0m3 9h0m4 3h0m1-3h0m1 5h0m8-13h0m1 16h0m2-16h0m4 16h0m1-9h0m1-3h0m6-5h0m2 4h0m1 3h0m2-1h0m3 4h0m3-5h0m3 6h0m1 5h0m5-10h0m7-1h0m4 5h0m6 6h0m1-8h0m5 2h0m0 1h0m1-8h0m2-3h0m2 3h0m3 0h0m5-3h0m4 1h0m3 16h0m2-5h0m3-4h0m10 8h0m1-13h0m3 4h0m8 7h0m2-8h0m1-5h0m17 8h0m1 9h0m7-10h0m1 7h0m17 20h0m-3-5h0m-2 0h0m0 6h0m-4-5h0m-1-2h0m-4-7h0m0 10h0m-1-13h0m-3 7h0m0 7h0m-6-4h0m-1-8h0m-3 0h0m0 16h0m-2-2h0m-3-11h0m-4-2h0m-2-3h0m-17 5h0m-7 9h0m-3-6h0m0 11h0m-1-8h0m-1-8h0m-3 13h0m-3-6h0m-1 9h0m-2-19h0m-5 19h0m-5-13h0m-5-1h0m0 7h0m-1-6h0m-2 4h0m-3 6h0m-4 1h0m-3-10h0m0 5h0m-4-11h0m0 13h0m-2-2h0m-1-12h0m-9 10h0m-7-1h0m-7 0h0m0 8h0m-2-17h0m0 15h0m-3-9h0m0 4h0m-9 7h0m-2-8h0m-2 8h0m-2-2h0m-1-14h0m0 15h0m-5-1h0m-3 4h0m-1-18h0m-4-1h0m-1 5h0m0 3h0m-4 6h0m-3-6h0m-1-6h0m-4 13h0m-1-12h0m-1 15h0m-2-7h0m-2-6h0m0 4h0m0 6h0m-1-15h0m-1 19h0m-7-15h0m0 12h0m-5-16h0m0 7h0m-5 7h0m-1-3h0m-2-7h0m-3 2h0m-2-6h0m-2 14h0m-1-13h0m0 18h0m-2-13h0m-2 4h0m-3 7h0m-5-4h0m-7 1h0m-2-6h0m-4 4h0m0 5h0m-2-15h0m-2 3h0m-3 7h0m-3-7h0m-1 12h0m-1-7h0m-4 5h0m-3 2h0m-4-13h0m-1 10h0m-2-13h0m-2 3h0m0-4h0m-1 17h0m-4-11h0m-3 13h0m-7-15h0m0 10h0m-3-13h0m-3 6h0m-1-3h0m-3 12h0m-17-9h0m0 6h0m-1-12h0m-2 5h0m-2 6h0m-1 5h0m-1-3h0m0 3h0m-3-14h0m-4 3h0m-7 6h0m0 5h0m-3-9h0m-4 5h0m0 5h0m-10-14h0m-1 9h0m-1-3h0m0 6h0m-4-6h0m-1-6h0m-1 10h0m-4-9h0m0 14h0m-3-6h0m-1-13h0m0 15h0m0 4h0m-1-14h0m-7 12h0m-9-17h0m-1 9h0m-1 3h0m-1 6h0m-3-18h0m-1 18h0m-3-9h0m-2-8h0m-3 10h0m-2-9h0m0 11h0m-2-3h0m-3 6h0m-2-7h0m-3 3h0m0 7h0m-11-7h0m-1 5h0m-1-17h0m0 7h0m-2 7h0m-1-7h0m-4-5h0m-1 16h0m-1-8h0m-4-4h0m0 7h0m-1-10h0m-12 11h0m-2-4h0m-5 4h0m-4-4h0m-4-3h0m-4-6h0m0 9h0m0 8h0m-6-13h0m0 7h0m-6-10h0m0 13h0m-2 2h0m-27-11h0m-5 11h0m18 14h0m4 2h0m3-7h0m2 5h0m0 4h0m5 2h0m2-6h0m1-9h0m2 11h0m1 6h0m1-14h0m2-5h0m1 18h0m2-9h0m3 7h0m1-10h0m1 4h0m1-10h0m3 3h0m1 11h0m2-7h0m5-6h0m1 12h0m2-2h0m3 0h0m2 4h0m2-6h0m3-2h0m2 8h0m1-14h0m2 4h0m3 7h0m2 7h0m3-13h0m1-4h0m0 11h0m2-4h0m1-7h0m0 15h0m4-6h0m1-9h0m2 4h0m4 6h0m3-5h0m2 5h0m2-9h0m2 3h0m4-6h0m1 7h0m0 5h0m4-9h0m5 7h0m6 1h0m1 2h0m5 5h0m19-11h0m0-1h0m8 2h0m6-2h0m0 12h0m1-12h0m5-5h0m3 12h0m0 6h0m10-3h0m1 2h0m1-12h0m0 6h0m1 1h0m6-6h0m3 5h0m4-6h0m1-6h0m1 11h0m2-2h0m3-3h0m11 5h0m9-3h0m7-5h0m7 6h0m1-1h0m1 6h0m2-14h0m3 5h0m0 3h0m2 10h0m1-11h0m4-5h0m4 1h0m1 2h0m1 9h0m4-11h0m1 5h0m1 11h0m3-7h0m2-6h0m1-4h0m1 17h0m1-14h0m2 12h0m1-16h0m0 12h0m7-10h0m0 12h0m11-13h0m11 13h0m1-9h0m1-6h0m0 9h0m0 8h0m1-3h0m2-11h0m4 3h0m2 5h0m1 3h0m3-12h0m3 7h0m1 3h0m6-10h0m0-1h0m4 5h0m13 0h0m13 11h0m4-3h0m9-3h0m7-8h0m2-2h0m13 12h0m1-12h0m6 11h0m1-8h0m0 8h0m5 5h0m5-15h0m12 3h0m3 2h0m5-7h0m3 5h0m7 1h0m4 2h0m1-7h0m2 3h0m0 12h0m11 2h0m13-3h0m3 3h0m9 1h0m1-9h0m2-2h0m4-5h0m0 12h0m4-9h0m5 4h0m1 1h0m9-5h0m7 13h0m2 0h0m9 19h0m-8-18h0m-4 12h0m-2 3h0m-1-6h0m-3-6h0m-1-3h0m-5 19h0m-8-18h0m-1 2h0m-2 3h0m-4 10h0m-1-16h0m0 11h0m-7-4h0m-4-6h0m-1 5h0m-3-5h0m-8 8h0m-2 0h0m-2 7h0m-11 3h0m-2-7h0m-3-8h0m-4 7h0m-4-10h0m0 17h0m-3-12h0m-1 8h0m-1-9h0m-2 12h0m-1-5h0m-3-7h0m-4 3h0m-17-4h0m-1 3h0m0 6h0m-2 4h0m-1-17h0m0 3h0m-2 10h0m-4-6h0m-1-2h0m0 6h0m-3 4h0m-2-11h0m0 13h0m-15-13h0m-1-1h0m-5 0h0m-3 2h0m-1 4h0m-1 4h0m-1-1h0m-5-8h0m0 11h0m-4-13h0m-2 5h0m-4 10h0m-9-13h0m0 1h0m-10 7h0m-3-5h0m-2 2h0m-4 4h0m-1-10h0m-1 14h0m-1-11h0m-5 7h0m-1-3h0m-3 8h0m-1-1h0m-8-11h0m-3-5h0m-5 9h0m-5-10h0m0 2h0m-2 4h0m-4 5h0m-1-3h0m0 8h0m-5-14h0m0 12h0m0 4h0m-3-17h0m-4 18h0m-14-17h0m-1 4h0m-1 12h0m-2-12h0m-4-1h0m0 13h0m-2-6h0m-5-6h0m0 2h0m-2-3h0m-22 2h0m-1 5h0m0 5h0m-4-6h0m-4 5h0m-4-13h0m-3 10h0m-2 5h0m-4-12h0m-2 4h0m-2 4h0m-1-13h0m-1 17h0m-3-13h0m-3 8h0m-5-7h0m-1 2h0m-3 10h0m-1-8h0m-4 8h0m-1-1h0m-6-7h0m0 3h0m-5 2h0m-2-12h0m-6 12h0m-14-11h0m-1 4h0m-12-8h0m-1 13h0m-3-11h0m0 12h0m-3-13h0m-2 5h0m-2-5h0m-4 9h0m0 4h0m-1-11h0m-5 6h0m0 7h0m-3-13h0m-2 7h0m-1 3h0m0 4h0m-9-1h0m-8-8h0m-4-5h0m0 2h0m0 10h0m-4-1h0m-2 0h0m-1-12h0m0 4h0m-5 1h0m-1 8h0m-1-9h0m0 8h0m-1 4h0m-4-3h0m-2-15h0m-3 11h0m-5 6h0m-4-6h0m-2-5h0m-1-3h0m-1 8h0m-1-2h0m-5 4h0m-3 3h0m-5-13h0m-5-1h0m0 4h0m-5 27h0m4-9h0m5-3h0m1 6h0m0 5h0m5-9h0m0 11h0m4-6h0m3-8h0m0 7h0m2 5h0m2 3h0m2-8h0m2 9h0m0-2h0m10-6h0m5 1h0m1 7h0m1-12h0m2 5h0m5-7h0m2 6h0m3 9h0m2-16h0m0 2h0m1 10h0m0 4h0m5-8h0m0 10h0m5 0h0m10-13h0m0 12h0m1-3h0m1-5h0m0 6h0m4-12h0m2 9h0m2-3h0m3-10h0m0 1h0m3 6h0m4-3h0m0 11h0m4-6h0m2-9h0m0 16h0m1-6h0m10-7h0m1 16h0m10-13h0m1-1h0m3 6h0m1-4h0m0 12h0m2-5h0m1-14h0m5 4h0m1 3h0m0 10h0m2-9h0m2-3h0m1-4h0m2 9h0m6 4h0m2-4h0m7 6h0m1-16h0m3 7h0m0 3h0m3-6h0m0 13h0m5-13h0m0-4h0m0 12h0m2 7h0m2-5h0m2-8h0m2-5h0m0 4h0m0 12h0m0 2h0m7-14h0m4 2h0m18 0h0m1 0h0m6-2h0m0 11h0m2-12h0m2 4h0m5 8h0m1-12h0m4 4h0m1-1h0m0 12h0m4-4h0m8-4h0m5-10h0m1 5h0m1 8h0m3-11h0m0 14h0m5-11h0m1 6h0m2-7h0m3 12h0m1-3h0m3-11h0m23 10h0m1-1h0m5-10h0m2 3h0m7 12h0m1-8h0m2 8h0m15-14h0m0 10h0m0 6h0m14-7h0m7-4h0m1-6h0m3 9h0m0 5h0m2-10h0m3 4h0m3-10h0m14 17h0m5 1h0m2-17h0m4 6h0m5 3h0m7 4h0m3-8h0m4 11h0m5-2h0m2-4h0m3-10h0m2 7h0m1-7h0m5 12h0m3 4h0m8 1h0m1-5h0m2-1h0m14-4h0m3-5h0m13 12h0m1-4h0m2 7h0m5-7h0m2-3h0m2-2h0m0 9h0m3-10h0m0 5h0m0 3h0m5-10h0m4 6h0m5-1h0m7 5h0m4-9h0m4 8h0m6-11h0m3 4h0m6-1h0m4 20h0m-1 1h0m0 7h0m-3-1h0m-2-11h0m-5 12h0m-13-8h0m-2 3h0m-3-5h0m-5 1h0m-6-1h0m0 4h0m-4-3h0m-2 14h0m-11-16h0m-4 3h0m-4 4h0m-1 2h0m-2-10h0m-18 2h0m-7 17h0m0-3h0m-6-8h0m-5-4h0m-19 12h0m-3-11h0m0 5h0m-2-5h0m0 3h0m0 7h0m-21 2h0m-6-3h0m-7-5h0m-4-7h0m-14 12h0m0 2h0m-4-10h0m-1 11h0m-1-17h0m-2 11h0m-3-7h0m-2 4h0m0 9h0m-7-12h0m-4 6h0m-12 6h0m-3-15h0m-1 3h0m-1-1h0m-3 14h0m-6-18h0m0 13h0m-2-9h0m-6-3h0m-3 10h0m0 4h0m-4-6h0m-12 4h0m-3-4h0m-6-3h0m0 7h0m-2-11h0m0 10h0m-6-5h0m-4 7h0m-2-10h0m0 3h0m-1-6h0m-4 18h0m-3-12h0m-6-2h0m-1 12h0m-1-16h0m-1 7h0m-3 2h0m-1-3h0m-2 8h0m-3-13h0m-1 9h0m-1 7h0m-3-9h0m-2-2h0m-1-6h0m-2 16h0m-11-4h0m-9 2h0m-2 0h0m-5-10h0m0 9h0m-1-6h0m-3 9h0m-2-9h0m-1 3h0m-2-8h0m-3 1h0m-1 10h0m-2 0h0m-1-10h0m0 6h0m-6 5h0m-3-13h0m0 2h0m0 3h0m-1-2h0m0 12h0m-1-17h0m0 12h0m-5 5h0m-1-4h0m-1-12h0m-2 4h0m-4 6h0m-1 6h0m-1-9h0m-2-8h0m-3 8h0m-2 4h0m-2-12h0m-3 5h0m0 9h0m-2-8h0m-4 3h0m-3-4h0m-1 7h0m-12 5h0m-4-8h0m0 3h0m-3-8h0m-1 13h0m-3-17h0m0 9h0m-1 6h0m-3-10h0m-1 13h0m-3 0h0m-1-7h0m-1-4h0m-4 7h0m-1-10h0m0 7h0m-13-8h0m-7-3h0m-11 5h0m-5-5h0m-1 5h0m-2 5h0m-5-7h0m-2 9h0m-1-1h0m-1 1h0m-25-8h0m-3 2h0m-3 3h0m-3 1h0m-1-2h0m-1 2h0m-1-2h0m7 17h0m104-4h0m21-1h0m2 18h0m4-11h0m0 4h0m2-6h0m6 6h0m2-9h0m5 4h0m12-4h0m7 11h0m6-9h0m4 3h0m2-2h0m0 10h0m1-7h0m1 4h0m3 6h0m2-14h0m2 15h0m2-7h0m13-9h0m1 14h0m3 1h0m3-9h0m3-6h0m7-3h0m0 3h0m6 7h0m11-2h0m1 8h0m2 1h0m4-2h0m1 1h0m2-6h0m2-6h0m3 0h0m1 9h0m8-7h0m1-2h0m1 12h0m7-16h0m2 4h0m1 11h0m2 0h0m5 2h0m1 0h0m1-16h0m5 13h0m2-2h0m1 3h0m4-6h0m3-8h0m0 8h0m5 9h0m2-14h0m1 7h0m7 8h0m0-1h0m1-11h0m4-5h0m2 8h0m2 7h0m10-3h0m1-1h0m2-11h0m9-1h0m24 1h0m0 12h0m17 3h0m1-2h0m7-2h0m3 5h0m6-17h0m14 10h0m3 6h0m11-6h0m7-6h0m8 0h0m1 8h0m3-11h0m6 12h0m15-11h0m2 16h0m14-6h0m5-7h0m6 5h0m1 2h0m9-2h0m2-1h0m4-6h0m3 12h0m2-12h0m4 5h0m6 12h0m-1 3h0m-5 6h0m-10 4h0m-1-6h0m0 10h0m-1-6h0m-4 6h0m-5-5h0m-1-4h0m-19-9h0m-10 15h0m-5-3h0m0 5h0m-2-14h0m-4 3h0m-1 13h0m-5 0h0m-3-17h0m-2-2h0m-2 13h0m-3-13h0m-8 11h0m0 6h0m-1-10h0m-4 5h0m-6-8h0m-3 7h0m-1 3h0m-1-12h0m-3 10h0m-2 4h0m-18-2h0m-11-13h0m-3 2h0m0 13h0m-16-10h0m-3-6h0m-9 8h0m-1-3h0m-4 3h0m-2 4h0m-2 5h0m-8-15h0m-1-2h0m-1 4h0m-3 5h0m-2-3h0m-1 4h0m-36-10h0m-12 3h0m-1 2h0m0 5h0m-8 2h0m-4-10h0m-12 11h0m-4 0h0m-6 5h0m-2-15h0m-4 4h0m-2 7h0m-7-12h0m-6 9h0m-4-5h0m-1-6h0m-7 17h0m-1-4h0m-6-8h0m0 4h0m-3 9h0m-5-1h0m-13-16h0m-4 8h0m-1 3h0m-3-5h0m-2-4h0m-2 3h0m-8 7h0m-1-7h0m-8 10h0m-3-11h0m-7 10h0m-2-6h0m-7 2h0m17 17h0m13 1h0m2 1h0m1 8h0m2 0h0m1-10h0m2 6h0m4 5h0m12-3h0m7-7h0m5 0h0m6-2h0m1-6h0m3 16h0m16-14h0m3 6h0m2 3h0m13-9h0m4 0h0m1 11h0m4-5h0m15-8h0m9 3h0m1 2h0m9-3h0m12 11h0m1 5h0m11-6h0m6 4h0m1-2h0m1 1h0m5-14h0m0 9h0m3-11h0m6 17h0m10-11h0m2 0h0m15-5h0m6 18h0m1-13h0m2 2h0m3 9h0m10-17h0m1 8h0m18-4h0m5-2h0m0-1h0m6 14h0m0 4h0m3-18h0m2 1h0m1 11h0m3 0h0m1-5h0m1-2h0m6 3h0m18-7h0m0 3h0m8 9h0m1-12h0m0 7h0m1 8h0m3-11h0m2-4h0m4 7h0m2-1h0m1 3h0m3 8h0m16-8h0m3-3h0m6 6h0m1-6h0m1-3h0m2-4h0m4 8h0m0 5h0m2-9h0m0 13h0m1-11h0m0 7h0m15-10h0m6 4h0m2 10h0m-14 9h0m0 6h0m-1-8h0m-1 9h0m-6 0h0m-6-10h0m-3 4h0m-8 0h0m-12-8h0m0 4h0m0 12h0m-21 1h0m-17-7h0m-22-10h0m-2 6h0m-2 5h0m-1-7h0m-4 9h0m-2-6h0m-2-5h0m-4 4h0m-3-2h0m-20-4h0m0 2h0m-2 9h0m-2-5h0m-4-1h0m-1-3h0m-10 12h0m-21-11h0m-2 13h0m-5-1h0m-30-13h0m-5 7h0m-2-5h0m-5 1h0m0 2h0m-4 3h0m-4-10h0m-16 2h0m-4 8h0m-2 1h0m-14-8h0m-5 1h0m-4 0h0m-6 5h0m-10 7h0m-6-5h0m-17 6h0m-24-14h0m0 9h0m33 9h0m0 10h0m4 1h0m3 3h0m3-7h0m4 6h0m5-6h0m14 5h0m16-4h0m1-8h0m13 6h0m26 6h0m13 5h0m16-4h0m6-2h0m7-11h0m0 4h0m0 3h0m1-6h0m1 12h0m2-4h0m4-3h0m3-6h0m17 13h0m1 5h0m4-2h0m5-8h0m2-8h0m1-1h0m0 18h0m13-14h0m10 9h0m2-5h0m2 11h0m2-8h0m4 1h0m10 2h0m28 0h0m1-11h0m0 13h0m8-7h0m3 0h0m2-5h0m18-3h0m6 8h0m1 2h0m2 8h0m22-13h0m7-5h0m-11 33h0m-8-1h0m-8-5h0m-10 8h0m-6-2h0m-5-10h0m0 12h0m-2-9h0m-1 7h0m-4-14h0m-2 8h0m-1 10h0m-1-11h0m-1 9h0m-5-7h0m-2 8h0m-3-13h0m-1 0h0m-2 5h0m-4 10h0m-1-15h0m-1 5h0m-7 6h0m-2-8h0m-2 2h0m-2-3h0m-3 13h0m-20 0h0m-1-8h0m0 3h0m-2-9h0m0 5h0m-2 4h0m-5-2h0m-3 7h0m-2-8h0m-7 4h0m-4 1h0m-3 1h0m-6 1h0m-2-1h0m-4-14h0m-3 12h0m-2 4h0m-3-15h0m-11 13h0m-6-1h0m-2 1h0m-2-10h0m-5-7h0m-3 18h0m-5-7h0m-3 6h0m-10-7h0m-2 6h0m-8-9h0m-2 8h0m-5-14h0m0 10h0m-2-3h0m-7 7h0m0-2h0m-9-12h0m-1 13h0m-15 4h0m-5-16h0m-1 3h0m0 13h0m-2-2h0m-2 2h0m-5-12h0m-16 8h0m-4-3h0m-11-10h0m-4 1h0m0 1h0m-10 9h0m-32-12h0m20 32h0m53-6h0m8-3h0m6 14h0m9-4h0m0 3h0m21-9h0m5 6h0m2-9h0m4-1h0m2 8h0m1 7h0m3-13h0m1 12h0m2-7h0m5 8h0m5-9h0m3 0h0m5 8h0m1-14h0m4 7h0m4-3h0m1 7h0m1 0h0m2 3h0m10-12h0m0 14h0m4-8h0m7-8h0m10 0h0m1 15h0m1-11h0m3 4h0m2-3h0m0 5h0m3 6h0m13-19h0m1 6h0m5 2h0m1-1h0m11-5h0m2-1h0m6 6h0m2 2h0m1-8h0m6 5h0m4-6h0m4 1h0m4 12h0m5-8h0m6 6h0m0 5h0m4-7h0m2-5h0m0 5h0m3-2h0m2 8h0m3-3h0m2-7h0m23-3h0m18 4h0m0 8h0m0 3h0m2-8h0m3-9h0m-16 26h0m-3-3h0m-1 9h0m-3-3h0m-2-7h0m-2 10h0m-3-5h0m-3 10h0m-7-9h0m-2 1h0m-2-1h0m-2 3h0m-6-10h0m-3 9h0m-1 9h0m-1-8h0m-3-2h0m-3-1h0m-17 8h0m-1-3h0m-2 5h0m-2-6h0m-2-3h0m-3 10h0m-1-11h0m-1 3h0m-2 4h0m-7 3h0m-2-1h0m-3 2h0m-12-9h0m-15 5h0m-4-3h0m-1-11h0m-4 2h0m0 7h0m-5-3h0m-2 8h0m-1-8h0m-7 12h0m-3-2h0m-7 2h0m-8-5h0m-1-5h0m-6 8h0m-1-16h0m0 18h0m-3-1h0m-10-7h0m-22 1h0m-4-2h0m-6 7h0m-14-17h0m-2 17h0m-6-17h0m-36 12h0m-211 21h0m179-13h0m44 4h0m48 12h0m1-12h0m1-2h0m3 11h0m2 2h0m4-8h0m0 7h0m5-14h0m2 0h0m0 12h0m3-5h0m12-1h0m1 13h0m1-3h0m1 1h0m1-17h0m1 1h0m12 11h0m2-3h0m1 3h0m7-6h0m0 1h0m5 0h0m1-7h0m2 0h0m1 10h0m7-8h0m3 3h0m17 7h0m4 3h0m5-12h0m14 6h0m4 9h0m4-5h0m4-6h0m4-6h0m0 13h0m3-6h0m1-6h0m2 13h0m6 4h0m9-6h0m5-10h0m1 15h0m5-5h0m1 3h0m4-4h0m2-8h0m3-1h0m0 13h0m1-4h0m1-5h0m3-2h0m1-3h0m3 0h0m1-2h0m-10 21h0m-16 0h0m0 8h0m-2-4h0m-1 2h0m-4 5h0m-2-11h0m-1 9h0m-6-4h0m-2 2h0m-4-6h0m-4 6h0m-5-7h0m-2 17h0m-2-14h0m-2 7h0m-5-5h0m-6-2h0m-5 6h0m0 4h0m-1-7h0m-1 6h0m-7-8h0m-4 6h0m-1 8h0m-3-6h0m-3-1h0m-2-4h0m-2 9h0m-19-8h0m-8 8h0m-15-6h0m-14-3h0m-7 10h0m-49-10h0m-28 0h0m20 20h0m133-7h0m1 0h0m-142 23h0m20 32h0m8 24h0m31 57h0m40-12h0m22 14h0m604 14h0m-6 4h0m-2-5h0m-1 5h0m-8 2h0m-1-5h0m-2-5h0m-5 10h0m-8-7h0m-11 7h0m-4-1h0m-2-7h0m-9-3h0m-2 3h0m0 4h0m-4-1h0m-2-6h0m-4 11h0m-1-1h0m-1-12h0m0 7h0m-2-7h0m-546 4h0m-1 3h0m545 19h0m1-1h0m1 8h0m4-3h0m3-8h0m0 9h0m1-17h0m2 10h0m1-5h0m4-4h0m1 14h0m0-3h0m4-10h0m0 4h0m6 0h0m19 7h0m2-11h0m0 8h0m4-5h0m8 1h0m2 0h0m0 7h0m2-9h0m5-1h0m-47 17h0m-8 0h0m-3 5h0m-1 0h0m-4 4h0m-4-7h0m-3 1h0" stroke="#F3F4E8" stroke-width="8.8"/>
<path d="M1823 1251h0m6 23h0m-47-12h0m-122 22h0m23 0h0m26 5h0m78 8h0m45-9h0m110 27h0m-23-11h0m-33 8h0m-54 0h0m-12-2h0m-53-8h0m-56 3h0m-42 5h0m174 27h0m54 20h0m-306-17h0m-11 12h0m23 9h0m371-1h0m-69 24h0m-220 9h0m-64-13h0m-3 18h0m-9-14h0m-1 8h0m-13-11h0m-17 0h0m-8 3h0m12 25h0m23 7h0m81-12h0m180 4h0m-32 30h0m-175-10h0m-77 6h0m-3 21h0m15-6h0m1 5h0m48 4h0m121-16h0m85 11h0m-241 10h0m0 14h0m-6 2h0m-1-14h0m-7-2h0m-17 1h0m5 31h0m112 3h0m-46 2h0m-51 17h0m-21 17h0m39-3h0m279-6h0m3 9h0m-70 8h0m-188-1h0m-38 14h0m-10 24h0m7-15h0m32-3h0m192 24h0m-225 6h0m-1 2h0m-3-9h0m2 17h0m93 18h0m7-14h0m311 20h0m-66 14h0m-328-9h0m0 2h0m90 27h0m238-14h0m63 34h0m-306-5h0m-27-7h0m-63-1h0m-11 3h0m45 12h0m27 3h0m302 21h0m-285 24h0m324 5h0m125 23h0m-211-12h0m-13 14h0m-270-4h0m-19 11h0m133 7h0m318-2h0m16-8h0m6 4h0m5 11h0m16-6h0m18-6h0m31-6h0m-55 34h0m-28-8h0m-113 8h0m-229-13h0m-64 13h0m-50 18h0m269 0h0m83-6h0m199 26h0m-87 5h0m-57-13h0m-29-3h0m41 20h0m36 11h0m101 9h0m-38 3h0m-483 3h0m442 27h0m19-10h0m-56 32h0m-192-12h0m-120 6h0m-24 1h0m203 20h0m13 1h0m11-12h0m42 1h0m65 14h0m27-1h0m6 15h0m-95-6h0m-16 9h0m-41-2h0m14 28h0m40 0h0m59-17h0m4 13h0m444-14h0m-463 28h0" stroke="#F8FAD2" stroke-width="8.8"/>
<path d="M1738 1261h0m-24 5h0m-2 0h0m-60 17h0m64-2h0m118 9h0m3-3h0m52 17h0m-93 14h0m-132 10h0m140 5h0m83 6h0m12-2h0m64 0h0m-24 9h0m-216 12h0m-122-12h0m-6 7h0m6 22h0m4-7h0m116 5h0m58 0h0m37-9h0m18 31h0m-209-8h0m-19 8h0m-6 0h0m-14-8h0m-7 1h0m-11 25h0m5-4h0m16 4h0m236-8h0m28 5h0m11-10h0m2 13h0m74-3h0m71 12h0m-48-2h0m-69 7h0m-71-6h0m-58 1h0m-168 8h0m-19 8h0m13 15h0m4 3h0m3 0h0m1-3h0m4 2h0m162 2h0m121-13h0m88-4h0m-198 35h0m-143-11h0m-36-1h0m-8 1h0m-8-1h0m-1-3h0m-11 5h0m19 23h0m12-2h0m4 12h0m83-13h0m33 8h0m68 2h0m122 16h0m-73 2h0m-98-5h0m-158 14h0m19 5h0m117-5h0m62 0h0m109 5h0m95 22h0m-54 6h0m-85-10h0m-25 0h0m-86 12h0m-131-5h0m-4 4h0m-2-16h0m5 35h0m3-14h0m3 9h0m168-7h0m125 15h0m99 4h0m-2 17h0m-10-17h0m-116 14h0m-12 0h0m-90-5h0m-93-9h0m-50 16h0m-19-18h0m-1 0h0m-3 15h0m-3-4h0m-3-8h0m59 20h0m42 18h0m-51 12h0m-33-11h0m448 28h0m39-1h0m-310 13h0m-75 6h0m-6 3h0m-11-8h0m-20 2h0m-10 11h0m-21-2h0m-4-1h0m-42-13h0m456 39h0m-9 7h0m-20 3h0m-7 9h0m-341 1h0m-49-12h0m-20-2h0m28 31h0m3-5h0m4 5h0m75-10h0m1-5h0m29 14h0m250 3h0m2-5h0m132 26h0m-1-2h0m-434-17h0m-14 9h0m-15 0h0m-9-5h0m-37 12h0m-1-2h0m-2 1h0m-8-7h0m-2 19h0m7-5h0m19 5h0m20-6h0m45 4h0m0 5h0m5-5h0m70 12h0m341-4h0m13-3h0m1-9h0m14 17h0m12-14h0m13 5h0m11 10h0m2 3h0m-36 9h0m-5-10h0m-23 8h0m-19-5h0m-30 13h0m-335-2h0m-64-7h0m-26 8h0m-28 12h0m3-8h0m31 11h0m99-7h0m1 6h0m184-9h0m23 15h0m44 3h0m9-13h0m108-2h0m14-3h0m37 35h0m-97-4h0m-12-7h0m-10 0h0m-89 2h0m-177 1h0m-8 11h0m-2-7h0m0 3h0m-12-13h0m-73 8h0m42 12h0m156 16h0m28-2h0m98-15h0m33 8h0m4 5h0m104 5h0m2-12h0m16 3h0m3 16h0m-26 1h0m-11-4h0m-106 15h0m-24-7h0m-228 5h0m-44-13h0m-55 10h0m-22-8h0m1 27h0m9 2h0m166-10h0m316 8h0m10 0h0m5-8h0m1-1h0m-37 17h0m-1 8h0m-62-7h0m-131 6h0m-9-4h0m-85 12h0m-5-14h0m-20 10h0m-10 1h0m-62-9h0m-17 15h0m-34-12h0m-22-1h0m-12 0h0m-2 3h0m49 20h0m113-5h0m81 12h0m128-8h0m1 1h0m7-2h0m14 2h0m5-8h0m22 12h0m5-2h0m4 3h0m50-6h0m-80 21h0m-1-1h0m-38-3h0m-19 4h0m-13-3h0m-2-4h0m-22 5h0m-178-3h0m-1 10h0m-6 3h0m-2 2h0m-58-6h0m209 11h0m33 15h0m4-4h0m46-2h0" stroke="#F5F9C7" stroke-width="8.8"/>
<path d="M1847 1304h0m-24 2h0m-55 2h0m-182 28h0m24-3h0m174-11h0m174 10h0m12 2h0m-207 18h0m-133 6h0m-25-5h0m-11-10h0m-14 6h0m-4 8h0m0 3h0m6 1h0m17 5h0m4 6h0m113 2h0m84 17h0m-146 3h0m-30-1h0m-52 6h0m-3-13h0m286 26h0m107-6h0m-356 30h0m-23-10h0m-13-5h0m7 32h0m7 6h0m7 0h0m11-18h0m41 9h0m85 22h0m-42 1h0m-31 1h0m-7-10h0m-42 12h0m-2-14h0m-2 0h0m-2 3h0m-3-1h0m-8-1h0m-10-3h0m20 20h0m3 4h0m1-4h0m2 17h0m127-13h0m276 15h0m-112 9h0m-205 10h0m-91-9h0m-2 1h0m-7 22h0m3 2h0m4-12h0m9 11h0m301-6h0m-236 29h0m-65-2h0m-4-6h0m-19-6h0m17 18h0m6 5h0m208 28h0m-154 4h0m-56 2h0m-1-3h0m21 4h0m37 5h0m66 6h0m36 13h0m-100 6h0m-4-1h0m-37 9h0m-5-3h0m-3-5h0m496 48h0m-391-6h0m-48-5h0m-73 9h0m19 12h0m75 25h0m-3 1h0m-12-11h0m-6-1h0m-2 8h0m-46-9h0m13 32h0m10 0h0m27 6h0m43-4h0m163 0h0m188 2h0m87 18h0m-23-1h0m-1-2h0m-396-4h0m-56 3h0m-16 7h0m-44-8h0m-8 12h0m8 10h0m4-11h0m59 10h0m22-2h0m28 7h0m76-4h0m335 2h0m-74 12h0m-385-1h0m-63 1h0m161 22h0m229-7h0m25 14h0m31 1h0m25 3h0m9-7h0m75 1h0m12-5h0m-16 29h0m-66-2h0m-70-1h0m-4-8h0m-35 2h0m-211 11h0m-8-8h0m-20-10h0m-54 3h0m-69 9h0m8 16h0m12 5h0m16-14h0m58 18h0m90-4h0m228 2h0m31 2h0m18-8h0m21-8h0m58 14h0m6-1h0m7-5h0m-16 16h0m-8 7h0m-83-1h0m-351-6h0m-11-5h0m-21 10h0m-27 13h0m2-4h0m22 3h0m9 11h0m35-5h0m35 8h0m33-4h0m134-3h0m51 1h0m25 5h0m15-16h0m29 3h0m17 7h0m76 24h0m-55-10h0m-30 5h0m-43 9h0m-70-13h0m-51-1h0m-107 0h0m-24 3h0m-71 0h0m-13 24h0m38-5h0m57 5h0m35 8h0m84-6h0m12 4h0m31-7h0m39 9h0m15-6h0m15 0h0m71-13h0m6 9h0m2 5h0m15-9h0m-18 21h0m-74-5h0m-26 6h0m-49 3h0m-41-2h0m121 21h0m0 6h0m56-8h0m-45 14h0m-10 3h0m-47 4h0m38 12h0" stroke="#F1F8BC" stroke-width="8.8"/>
<path d="M1643 1598h0m2 15h0m3 1h0m33-12h0m-38 20h0m-7 34h0m45 7h0m-75 8h0m16 19h0m24-9h0m22 37h0m-36-17h0m-29 0h0m13 29h0m103-5h0m429 28h0m-52 4h0m-377-14h0m-41 5h0m-16 1h0m-37-9h0m-3 19h0m8 12h0m1-11h0m133 8h0m313 2h0m10 6h0m48-15h0m49 21h0m-28 3h0m-87 5h0m-318-4h0m-5 12h0m-14-3h0m-9-6h0m-85 17h0m121 0h0m31 1h0m18-5h0m212-2h0m2 6h0m12 13h0m154-12h0m-13 16h0m-2 0h0m-5 12h0m-53-15h0m-60 5h0m-12 2h0m-50-3h0m-35 14h0m-68-7h0m-120-8h0m-72 5h0m11 15h0m27-1h0m46-2h0m12 12h0m106-8h0m92 3h0m23-6h0m21 12h0m54-11h0m4 10h0m46-1h0m19-4h0m2 6h0m20-2h0m0-2h0m1 0h0m2 0h0m-47 12h0m-24 0h0m-13 16h0m-15-13h0m-22 15h0m-14-9h0m-13-3h0m-233 12h0m-2-10h0m-32-3h0m-10-3h0m-18 12h0m-53-6h0m-13 0h0m-21-6h0m0 32h0m186-14h0m14 13h0m157-3h0m3 1h0m49 6h0m38-17h0m63 4h0m-28 29h0m-120-2h0m-39 4h0m-27-11h0m-127 0h0m-40 4h0m-63 4h0m-58-11h0m-5 4h0m99 16h0m31 13h0m33-13h0m13 8h0m66-4h0m42 3h0m3-8h0m18 18h0m32-4h0m7 1h0m23-8h0m4 5h0m18 1h0m34-11h0m6 12h0m2-5h0m4 9h0m2-12h0m2 12h0m25-6h0m15-3h0m-45 12h0m-5 2h0m-10 7h0m-53-9h0m-85 10h0m-4-7h0m-182 15h0m203 10h0m9 2h0m58 7h0m3-6h0m13-13h0m16 0h0" stroke="#EAF5B5" stroke-width="8.8"/>
<path d="M1615 1612h0m27-8h0m-4 17h0m-2 20h0m96 23h0m-45 9h0m-10-3h0m-74 28h0m129-7h0m-33 16h0m-73-7h0m-21 9h0m0 22h0m527 19h0m-1 9h0m-438-15h0m-14 10h0m-15-1h0m414 25h0m25-11h0m-5 21h0m-1-2h0m-4 3h0m-446 29h0m24-17h0m19 7h0m31 11h0m52-11h0m375-1h0m25 32h0m-64 0h0m-38-19h0m-25 15h0m-32-5h0m-229-10h0m-143 23h0m109-3h0m3 0h0m35 7h0m177-6h0m41 16h0m64 0h0m2 1h0m39-15h0m72 17h0m-110 18h0m-60-18h0m-360 23h0m0-1h0m427 0h0m79-2h0m8 6h0m5-4h0m-167 34h0m-56-14h0m-128 4h0m-42 0h0m54 20h0m99-4h0m22 3h0m74 4h0m1 4h0m9 2h0m55-6h0m31 10h0m-33 11h0m-8-6h0m-2 13h0m-115-9h0m-1-2h0m-23 3h0m-152-9h0m-66 11h0m212 11h0m28 17h0m21-19h0m7 4h0m12 8h0m29 11h0m-7 6h0m-5 2h0m-52-9h0" stroke="#DBF0B4" stroke-width="8.8"/>
<path d="M1619 1619h0m56 8h0m-1 15h0m56 25h0m-52 3h0m0 2h0m-1-7h0m-1 9h0m-38-1h0m63 8h0m17 34h0m-81-13h0m-35 6h0m498 51h0m-464-11h0m-16 11h0m-3 5h0m68 4h0m1 4h0m16-1h0m394-5h0m5 9h0m39-11h0m15 32h0m-12-9h0m-3-1h0m-44 0h0m-3-4h0m-1 5h0m-14 7h0m-31 2h0m-258-3h0m-94 5h0m68 2h0m22 16h0m212 2h0m10-9h0m6-2h0m12-4h0m103 7h0m46 16h0m-396 1h0m-9 5h0m-142 16h0m36-6h0m298 16h0m64-15h0m134 12h0m11-2h0m0 3h0m-14 6h0m-103 15h0m-284-6h0m-108-4h0m-3-6h0m0 6h0m124 16h0m223 1h0m96 6h0m66 7h0m-47 19h0m-11-11h0m-16 7h0m-65 7h0m-8-1h0m-320 1h0m13 15h0m107-14h0m10 15h0m129-6h0m49 3h0m21 0h0m37-5h0m24 11h0m36-16h0m-42 28h0m-7-3h0m-18 2h0m-35-4h0m-78 14h0m-234-18h0m272 21h0m54 7h0" stroke="#CCEAB4" stroke-width="8.8"/>
<path d="M1668 1616h0m-13 20h0m-55-2h0m42 13h0m14 20h0m-12-5h0m-3 8h0m-38-9h0m-5 7h0m131 23h0m-32 24h0m-9-12h0m-12 31h0m-17 6h0m19 37h0m403-4h0m17 4h0m9-14h0m26-2h0m42 14h0m15 24h0m-13 0h0m-34-6h0m-33-6h0m-22 7h0m-5-14h0m-3 18h0m-335-4h0m-101 2h0m-22 6h0m120-1h0m15 3h0m5 4h0m324 2h0m-80 15h0m-3 3h0m-350 22h0m6 5h0m6-5h0m48-5h0m425-1h0m15-3h0m24 13h0m4 11h0m-23-2h0m-16 15h0m-49-8h0m-90-8h0m-229 11h0m-86 3h0m-45-3h0m491 11h0m-33 18h0m-34-1h0m-94 11h0m-111 3h0m-188-11h0m48 17h0m12 3h0m90 8h0m188 2h0m17 2h0m48-13h0m11 1h0m21 1h0m-31 27h0m-7-3h0m-42 1h0m-8-10h0m-39 11h0m-22 8h0m8 4h0m16 5h0m1 1h0m21-3h0m60 6h0m-45 19h0" stroke="#B2E1B6" stroke-width="8.8"/>
<path d="M1644 1653h0m57 7h0m-45 8h0m-13-2h0m-10 32h0m34-5h0m30-8h0m20 15h0m-55 5h0m-12 25h0m490 25h0m-5 0h0m-459-4h0m410 25h0m20 2h0m6-16h0m19 6h0m17 19h0m-39-5h0m-10 1h0m-29 14h0m-353-12h0m-87-4h0m137 33h0m8-4h0m285-8h0m110-2h0m3 29h0m-151-4h0m-318 11h0m-48 0h0m8 17h0m44 6h0m21-19h0m14 2h0m82 15h0m196-9h0m155 2h0m3 9h0m4-6h0m-23 11h0m-167-2h0m-296 1h0m-38 6h0m84 26h0m353-13h0m5 2h0m60-2h0m1 3h0m-21 20h0m-5 3h0m-10-4h0m-16 14h0m-443-11h0m41 19h0m11-3h0m78 13h0m24-6h0m267 0h0m31-4h0m3 0h0m-60 33h0m-8-10h0m-8 8h0m-303-8h0m331 11h0m-60 24h0" stroke="#99D7B9" stroke-width="8.8"/>
<path d="M1604 1682h0m101 10h0m-19 11h0m-35 1h0m-12-1h0m-16 2h0m-10-4h0m-2 13h0m61 14h0m12-4h0m35 15h0m428 20h0m-2-7h0m-10 3h0m-479-4h0m-42 2h0m20 13h0m20-4h0m80 0h0m452 26h0m-17-7h0m-35 4h0m-32 6h0m-465 20h0m120-10h0m11 15h0m1-9h0m400 2h0m-94 14h0m-32 4h0m-310-3h0m-105 10h0m156 15h0m359 0h0m7-6h0m23 6h0m-124 11h0m-269 18h0m-83-3h0m96 11h0m4 8h0m234-1h0m63 2h0m31-3h0m9 1h0m-275 12h0m-157 23h0m281-8h0m19 1h0m6 8h0m-192 17h0" stroke="#7DCCBC" stroke-width="8.8"/>
<path d="M1676 1703h0m-27 28h0m8 5h0m21-7h0m19-6h0m443 27h0m-457-2h0m-33-7h0m-32 2h0m-7 27h0m31 3h0m0 6h0m33-4h0m25-1h0m43-4h0m409 6h0m-356 13h0m-164 30h0m92-14h0m0 9h0m79 25h0m-58-2h0m-49-8h0m-62-9h0m105 21h0m6 1h0m47 2h0m36 1h0m294 12h0m22-11h0m-45 33h0m-384-7h0m-35 6h0m-3 3h0m3 12h0m8-12h0m21 5h0m97 2h0m294-3h0m-112 23h0m-196 5h0m-28-2h0m-40 39h0" stroke="#61C2C0" stroke-width="8.8"/>
<path d="M1618 1738h0m97 1h0m-33 10h0m-24 8h0m18 18h0m24 1h0m419 10h0m-439-2h0m92 58h0m228 16h0m76-17h0m68 8h0m-90 15h0m-59 5h0m-194 2h0m-22-10h0m-76 3h0m-14 11h0m-47 3h0m155 19h0m35-5h0m227 11h0m-391 4h0m176 19h0m-98 27h0" stroke="#45B7C4" stroke-width="8.8"/>
<path d="M1619 1769h0m40-7h0m474 2h0m33 34h0m-15-7h0m-11 3h0m-366 2h0m-49 2h0m-12-8h0m-71 24h0m6 0h0m501-5h0m6 3h0m-340 25h0m-36-2h0m-29 1h0m-113 17h0m63-11h0m51 1h0m45 9h0m346 11h0m-418 14h0m-8-9h0m-44 4h0m-18-12h0m89 22h0m33 16h0m229-9h0m52 3h0m16 7h0m-44 4h0" stroke="#38ABC3" stroke-width="8.8"/>
<path d="M2144 1759h0m-2-3h0m-482-5h0m59 31h0m-79 13h0m-25-12h0m15 30h0m10-2h0m53 4h0m-64 31h0m38-2h0m82 6h0m43-8h0m252 17h0m28-2h0m7-3h0m23-2h0m37 2h0m-30 6h0m-6 17h0m-46 1h0m-7 0h0m-244-13h0m-138 16h0m120 27h0m-99 1h0m-20 2h0m-1-8h0m150 47h0m-36 5h0m-44 3h0" stroke="#2B9FC2" stroke-width="8.8"/>
<path d="M1666 1776h0m46 15h0m-81 21h0m80 6h0m419-10h0m6 30h0m-7-7h0m-343 0h0m-52-9h0m-43 30h0m80-12h0m5 2h0m238 17h0m33-3h0m50-13h0m36 11h0m-483 12h0m38 23h0m2-9h0m357 6h0m-220 26h0m-78-9h0m48 44h0m-14 7h0" stroke="#248FBD" stroke-width="8.8"/>
<path d="M1639 1778h0m37 21h0m-5-13h0m55 19h0m414 11h0m-390 16h0m-3-1h0m-66-5h0m-12 19h0m16 0h0m91 11h0m336-1h0m-43 18h0m-15-6h0m-9-6h0m-20 18h0m-253-2h0m-97-5h0m-8-11h0m348 25h0m58 4h0m-284 21h0m-104 2h0m56 23h0m-3 4h0m-11 9h0" stroke="#237BB5" stroke-width="8.8"/>
<path d="M1648 1781h0m0 19h0m486 29h0m-394 9h0m330 18h0m70-16h0m-38 22h0m-45 2h0m-12 3h0m-267 3h0m-76-2h0m-33 8h0m57 12h0m68 18h0m-23 7h0m-59-6h0m-11 12h0m33 15h0m82-12h0m7-2h0m7 18h0m-50 11h0m-19-6h0" stroke="#2267AC" stroke-width="8.8"/>
<path d="M1679 1819h0m24 5h0m400 45h0m-4-5h0m-400 30h0m3-11h0m91 23h0m-22 4h0m28 18h0m9 10h0m-25 20h0m-46-16h0" stroke="#2356A4" stroke-width="8.8"/>
<path d="M1664 1768h0m503 1h0m-483 24h0m-27 23h0m14-7h0m8-1h0m467-4h0m-22 32h0m-386 3h0m-75-13h0m104 79h0m-40 16h0" stroke="#24449C" stroke-width="8.8"/>
<path d="M2158 1774h0m2-13h0m-465 73h0m-29-12h0m383 57h0m-281-2h0m-71-4h0m-7-13h0m73 33h0m10-12h0m20 29h0m-15 29h0m13 15h0" stroke="#1E388D" stroke-width="8.8"/>
<path d="M1691 1797h0m-44-8h0m23 32h0m48 26h0m400 7h0m-404 19h0m-9 12h0m313-5h0" stroke="#172E7B" stroke-width="8.8"/>
<path d="M1689 1792h0m-15-10h0m8 18h0m108 116h0" stroke="#102467" stroke-width="8.8"/>
<path d="M1672 1789h0m10 45h0m-3 0h0m47 56h0" stroke="#0D1A4B" stroke-width="8.8"/>
<path d="M1664 1809h0m45 40h0m30 25h0m24 30h0m-4 7h0m24 31h0" stroke="#0A0D1E" stroke-width="8.8"/>
<path d="M1796 1282h0m135 24h0m-11 4h0m-32 4h0m-84 4h0m-181-17h0m-2 29h0m102-8h0m76-2h0m141 3h0m-172 25h0m-15 4h0m-4 2h0m-89 0h0m-53 3h0m-20-15h0m-1 6h0m-11 16h0m75 6h0m13 7h0m233 3h0m-104 4h0m-109-1h0m0 11h0m-2-1h0m-68-2h0m-8-8h0m-3 7h0m-36 20h0m44 9h0m9-8h0m186 3h0m164 3h0m-193 8h0m-9 7h0m-125-3h0m-54 17h0m11 1h0m67 12h0m63-14h0m7 1h0m32 2h0m-168 15h0m-3 9h0m-1-9h0m-22-1h0m-8 6h0m48 31h0m28-17h0m129 9h0m122-11h0m90 29h0m-50 8h0m-237 11h0m54 1h0m101-9h0m220 19h0m3 14h0m-314-4h0m-117 10h0m-39-10h0m-26 0h0m511 23h0m8 15h0m-358 1h0m-140-8h0m-2 29h0m89 3h0m419 25h0m-388-15h0m-23 15h0m-29-7h0m373 15h0m-180 16h0m-5 0h0m-150 9h0m-34 3h0m-72-2h0m8 23h0m485-10h0m-475 19h0m-2 34h0m72-2h0m13-11h0m49 14h0m118 1h0m272 12h0m-35 2h0m-182 2h0m-213-6h0m-29 8h0m11 12h0m15-4h0m195 0h0m37 5h0m7-3h0m158-7h0m52 22h0m-60 8h0m-70 7h0m-258 10h0m124 6h0m12-8h0m3-4h0m264 15h0m-124 23h0m-295-4h0m31 10h0m197 13h0m202-2h0m4 1h0m3 2h0m-16 3h0m-21 15h0m-169-13h0m-336 28h0m199 1h0m60-12h0m247 24h0m-7 3h0m-8 11h0m-118-7h0m-121 3h0m-73 10h0m161-3h0m28 4h0m56 4h0m488 19h0m-471-2h0m-1-1h0m-8-2h0m-26 3h0m-44-6h0m-46 10h0m-17 5h0m-6 1h0m-25 0h0m-124 2h0m142 9h0m11 3h0m78-8h0m23 8h0m24 3h0" stroke="#F8FAD2" stroke-width="8.8"/>
<path d="M1834 1263h0m-181 19h0m170 8h0m35-6h0m72 14h0m-33 5h0m-9-1h0m-67 0h0m-95 19h0m3 13h0m74-9h0m66 13h0m18-1h0m36 19h0m-134-9h0m-20-7h0m-37 2h0m-50 4h0m-29 9h0m-17 0h0m-28-2h0m-1 4h0m1 8h0m75 5h0m44-5h0m110 9h0m58 5h0m89 18h0m-219-15h0m-74 10h0m-40-7h0m-45 8h0m-29-6h0m-11 15h0m258 6h0m180 31h0m-64-18h0m-74 16h0m-285 2h0m-11-8h0m3 22h0m13 5h0m5-7h0m1 0h0m0 2h0m16-13h0m165 12h0m4 7h0m66-3h0m163-2h0m-39 9h0m-200 11h0m-38 2h0m-126-1h0m-12-15h0m-10 35h0m17-6h0m2-8h0m123 12h0m38-9h0m70-1h0m116 1h0m57-4h0m-46 23h0m-50 3h0m-12 13h0m-21-15h0m-20 5h0m-23 0h0m-96-3h0m-56 7h0m-28-13h0m-2 1h0m-10 10h0m-24 28h0m21-4h0m108 1h0m28-2h0m116-3h0m-136 19h0m-114 4h0m-48-14h0m-12 0h0m15 24h0m8-2h0m36 4h0m25 4h0m232 9h0m34-18h0m141 7h0m-77 23h0m-85-7h0m-168 11h0m-8 2h0m-97-1h0m-32-9h0m-3 9h0m-6-4h0m-4 0h0m77 14h0m433 25h0m-253 4h0m-208 3h0m13 9h0m71 4h0m197 4h0m108-5h0m-218 21h0m-137-7h0m-26-1h0m-8 0h0m60 32h0m8 2h0m175-4h0m225 25h0m-43-1h0m-170-9h0m-173-2h0m-5 4h0m-12 16h0m7 1h0m2-2h0m245 8h0m175 26h0m-27 0h0m-336-6h0m-38-2h0m-67 6h0m-46 0h0m-2-6h0m-6-8h0m-1 5h0m13 29h0m5-15h0m22-1h0m5 4h0m5-1h0m10 3h0m6-5h0m15 4h0m34-1h0m4-3h0m365-2h0m32 1h0m58 35h0m-5-14h0m-10 14h0m-21-14h0m-8 1h0m-40-1h0m-18 9h0m-407-1h0m-57 1h0m9 13h0m124 2h0m189 5h0m47 8h0m16-3h0m6-11h0m2 2h0m16 0h0m9 11h0m25-4h0m8-13h0m27 8h0m16-7h0m1 12h0m65-8h0m14 15h0m-13 6h0m-3-6h0m-34 11h0m-17-12h0m-19 9h0m-85 0h0m-20 9h0m-217 0h0m-11-10h0m-76-5h0m-19 15h0m-10-16h0m84 28h0m30 5h0m34-7h0m81 9h0m24-16h0m9 8h0m1 4h0m18-11h0m16 10h0m14-1h0m40 6h0m22-2h0m123 2h0m21-5h0m-40 13h0m-101 6h0m-23-9h0m-31 1h0m-73 16h0m-10-3h0m-89-5h0m-79-3h0m0 0h0m-3 10h0m-33-10h0m-47 1h0m-7 7h0m32 7h0m17 1h0m113 9h0m9-5h0m200-7h0m57 13h0m65-9h0m14 24h0m-179 1h0m-12 7h0m-81-9h0m-34 6h0m-28-9h0m-9-3h0m-8-2h0m-29 5h0m-2-2h0m-2 10h0m-71-12h0m-3 15h0m4 23h0m115-11h0m91 1h0m27-4h0m16 8h0m46-10h0m42 3h0m85 10h0m10-8h0m-39 13h0m-3 3h0m-7 3h0m0 0h0m-3 2h0m-18 3h0m-31 4h0m-10-13h0m-7 0h0m-22 16h0m-30-16h0m-15-2h0m-11 14h0m-18 0h0m-16-9h0m-109-4h0m-4 16h0m-4-15h0m-8 14h0m-43-9h0m-12 4h0m269 27h0m44 1h0" stroke="#F5F9C7" stroke-width="8.8"/>
<path d="M1844 1279h0m79 8h0m-83 20h0m-192-3h0m-57 23h0m9 10h0m286 0h0m-284 8h0m-2 33h0m3-16h0m89 12h0m25-4h0m6 17h0m-75 5h0m-73 5h0m209 40h0m-72-14h0m-104-2h0m-19 2h0m-13 10h0m-2-13h0m-2 11h0m-1 14h0m22 1h0m2 3h0m0 0h0m3 3h0m2 2h0m2 5h0m284-8h0m103 7h0m11 0h0m-152 6h0m-136 10h0m-98-11h0m-16 16h0m-13-17h0m-4-1h0m19 33h0m4-13h0m3 16h0m79 8h0m-82 4h0m-10 4h0m-20-11h0m18 18h0m13 9h0m33-3h0m130-2h0m-79 43h0m28-7h0m273 8h0m-389 15h0m-2 3h0m0 5h0m-3 5h0m1 20h0m20-11h0m48 1h0m114 6h0m340 19h0m-111-9h0m-339 8h0m-19 9h0m-55 2h0m42 11h0m5-11h0m41 1h0m394 24h0m-401 11h0m-70-15h0m28 20h0m52 1h0m-20 27h0m-11 8h0m-5-3h0m-3-7h0m-17 24h0m76 3h0m378-14h0m70 31h0m-19 7h0m-1-11h0m-365 5h0m-47-5h0m-69 1h0m-40 13h0m39 2h0m25 5h0m17 7h0m16-2h0m36-9h0m330 4h0m18 2h0m41-10h0m14-1h0m37 33h0m-37-5h0m-55-2h0m-13-2h0m-47 12h0m-361-13h0m-34 29h0m68 5h0m76-11h0m1 2h0m159-6h0m112 17h0m7-10h0m54 5h0m5-8h0m36 3h0m9 2h0m-127 18h0m-11 5h0m-2 5h0m-97-12h0m-299 17h0m27 3h0m36-5h0m15-1h0m4 16h0m29-17h0m155 14h0m34 1h0m8 4h0m69-3h0m87-15h0m2 15h0m18-1h0m25 2h0m42-5h0m1-6h0m-102 14h0m-7 10h0m-21-2h0m-23 2h0m-98-9h0m-102 4h0m-37 4h0m-9-9h0m-41 4h0m-34 5h0m-48 8h0m-9 2h0m-6 12h0m54 8h0m1-12h0m71 6h0m38-1h0m26-7h0m58 9h0m61 3h0m172-6h0m42-8h0m-4 24h0m-5 2h0m-8 0h0m-21-1h0m-8-7h0m-65 0h0m-38 3h0m-70 0h0m-1 3h0m-37-5h0m-15 8h0m-69-4h0m-8 10h0m-1-9h0m-131-2h0m-8 1h0m41 23h0m10-2h0m19 10h0m155 0h0m76-5h0m28-11h0m109 1h0m-23 18h0m-4 5h0m-9 7h0m-9-3h0m-23 1h0m-8 6h0m-17-15h0m-3 4h0m-67 7h0m-216-10h0m-10 5h0m233 24h0m21 7h0m508-16h0m-472 30h0m-34-3h0" stroke="#F1F8BC" stroke-width="8.8"/>
<path d="M1617 1604h0m10-3h0m46 26h0m-26 2h0m-41 14h0m47 8h0m3 6h0m30 11h0m-46-7h0m100 58h0m-21-15h0m-57 5h0m-6 27h0m13-2h0m42 2h0m431 22h0m-2-6h0m-415-9h0m-42 13h0m-62-9h0m0 19h0m27 8h0m15-3h0m12-1h0m6 8h0m1-4h0m414-13h0m4 12h0m5 1h0m78 6h0m-20 12h0m-16-8h0m-42 5h0m-9 3h0m-1-3h0m-7 2h0m-49 5h0m-131 3h0m-150-8h0m-24-11h0m-22 0h0m-69 7h0m9 20h0m47 12h0m83-15h0m255 10h0m152 0h0m-17 15h0m-75 5h0m-3-6h0m0 0h0m-38-1h0m-36 1h0m-271 6h0m-45-6h0m-1 1h0m-33 22h0m116-2h0m17-7h0m124 9h0m120-9h0m5 9h0m18-2h0m25-9h0m8 6h0m3 1h0m3-7h0m67 4h0m7 23h0m-11 1h0m-68 0h0m-50 11h0m-245-15h0m-1 3h0m-70 7h0m-33-13h0m-45 13h0m-13-4h0m79 24h0m35-11h0m185 14h0m3 2h0m110-19h0m48 13h0m45 19h0m-23 4h0m-17 1h0m-9-11h0m-41-3h0m-2-1h0m-12 13h0m-49-2h0m-179-8h0m-2 4h0m-50-2h0m-37 1h0m-5 18h0m209-1h0m96-1h0m34 3h0m34-2h0m-47 17h0m-38 2h0m-17 7h0m-39-9h0m-7 9h0m-7-10h0m-22 15h0m-142-14h0m-1 11h0m-62-3h0m239 24h0m58-2h0m18 0h0m3-9h0m46-2h0m-99 29h0m-17-7h0" stroke="#EAF5B5" stroke-width="8.8"/>
<path d="M1632 1599h0m-30 12h0m46-6h0m15-3h0m-21 35h0m-44 35h0m48 27h0m53-5h0m7-9h0m-100 27h0m0 24h0m21 3h0m511 9h0m-403-8h0m-25 0h0m-1 12h0m-75 7h0m-20 16h0m14 3h0m43-8h0m4 2h0m67-3h0m351 0h0m42-7h0m-50 32h0m-26-7h0m-9 7h0m-305 0h0m-4 0h0m-7 2h0m-110-7h0m9 30h0m151-19h0m2 7h0m202 8h0m18-4h0m6 6h0m5-8h0m80 2h0m80 13h0m-137 1h0m-51 6h0m-5-11h0m-11 18h0m-224-9h0m-52 10h0m-46-2h0m21 12h0m28-3h0m273 1h0m23 12h0m25-19h0m67 7h0m89 7h0m0 3h0m3-4h0m2 0h0m-37 8h0m-97 0h0m0 2h0m-39 13h0m-237-13h0m-31 1h0m-44-1h0m100 19h0m5 2h0m3-3h0m255 15h0m7 1h0m1-1h0m20-8h0m85-5h0m-110 24h0m-52 12h0m-29-8h0m-75-7h0m-80-3h0m-36 5h0m-17-2h0m-84 9h0m-3 4h0m-4-3h0m303 10h0m61 15h0m43 10h0m-15 0h0m-43-1h0m-39 8h0m-3-2h0m-29 2h0m-31 9h0m36 1h0m67 6h0m3 4h0m2-2h0m53-14h0m0 1h0m-54 26h0m-20 0h0" stroke="#DBF0B4" stroke-width="8.8"/>
<path d="M1619 1609h0m46 2h0m25-4h0m-39 34h0m45 2h0m-22 19h0m-29 15h0m-15-12h0m-27-3h0m29 18h0m16 2h0m93 27h0m-71-4h0m-24-4h0m-45 18h0m81 10h0m19-5h0m-80 54h0m7-14h0m32-4h0m24 11h0m7-11h0m11 16h0m413-16h0m14 27h0m-61-4h0m-382-1h0m-63 19h0m26 10h0m6-1h0m13 9h0m91-4h0m421 6h0m-6 10h0m-144-5h0m-35-2h0m-201 10h0m-3 0h0m-105 16h0m358-9h0m93 17h0m36-6h0m7 0h0m-7 21h0m-510-5h0m-12 13h0m120 2h0m225 16h0m103-16h0m-11 34h0m-23-12h0m-106-3h0m-156 3h0m-84 12h0m-40 0h0m139 10h0m136 4h0m21 5h0m29-3h0m23 0h0m3-3h0m2-5h0m4 6h0m6-3h0m51 0h0m2 14h0m-11 2h0m-56 5h0m-62 0h0m8 13h0m59 20h0m-1-1h0" stroke="#CCEAB4" stroke-width="8.8"/>
<path d="M1646 1633h0m-39 26h0m10-12h0m1-3h0m62 20h0m-7-3h0m-8 2h0m-32-1h0m-1 17h0m-22-4h0m-8-9h0m1 26h0m51-10h0m37 6h0m-23 12h0m-28 0h0m-39 13h0m75 18h0m1-2h0m66 7h0m390 14h0m-1 6h0m-403-6h0m-41-7h0m-58 28h0m494-6h0m42 10h0m-27 5h0m-96 10h0m-406 18h0m126-6h0m26-2h0m249 4h0m27 10h0m17 0h0m94 5h0m-1 6h0m-10 12h0m-22 2h0m-77-10h0m-10 3h0m-281-10h0m-36 22h0m364-1h0m82 12h0m-59 6h0m-43-1h0m-254 15h0m-48-14h0m-124 15h0m28 18h0m447-8h0m-27 18h0m-116 12h0m-267 3h0m-16-13h0m-18 17h0m3 8h0m137 5h0m218-11h0m10 10h0m27-15h0m8 13h0m2-6h0m23 2h0m-106 28h0m-282-12h0m267 22h0m41 12h0m10-17h0m-11 22h0m-17 1h0m-41-3h0" stroke="#B2E1B6" stroke-width="8.8"/>
<path d="M1613 1679h0m35 13h0m20 22h0m-5-11h0m-7-2h0m-54 4h0m5 32h0m75 1h0m1 1h0m16-11h0m8-5h0m6 14h0m15 22h0m-105 5h0m471-2h0m84 13h0m-502 7h0m0 36h0m104-4h0m334-3h0m11 7h0m19-11h0m-19 32h0m-30-18h0m-56 5h0m-14 6h0m-252-11h0m-20 18h0m-3-7h0m-44 5h0m-46-8h0m-35 7h0m64 16h0m18-8h0m373 4h0m92-4h0m2-1h0m6 3h0m1-4h0m-4 35h0m-20 1h0m-63 1h0m-11-16h0m-37 1h0m-38 1h0m-316 13h0m145 10h0m157 7h0m75 3h0m-9 16h0m-23 5h0m-237-18h0m-80 1h0m-43 16h0m313 13h0m22 0h0m5 2h0m7 6h0m71-5h0m1 5h0m-5 13h0m-7 4h0m0 2h0m-8 1h0m-65-16h0m-4 13h0m-17-3h0m-14-11h0m-146-1h0m161 21h0m6 14h0m24-10h0m62-3h0" stroke="#99D7B9" stroke-width="8.8"/>
<path d="M1688 1692h0m30-2h0m-19 12h0m15 37h0m423 17h0m-2 2h0m-399-10h0m-18-5h0m-100 3h0m70 24h0m417 5h0m6-1h0m0 7h0m-1 4h0m-24 5h0m-369-3h0m-7-3h0m-69 20h0m505 10h0m-34 22h0m-55 0h0m-7-6h0m-264-3h0m-2 5h0m-24-4h0m-68-8h0m-58 21h0m429 6h0m76 7h0m0-1h0m9 0h0m32 17h0m-9-10h0m-31 19h0m-42-15h0m-25 6h0m-271-7h0m-70 0h0m-41 7h0m-46 8h0m421 18h0m11-15h0m-55 22h0m-236 1h0m-96 23h0m0 5h0m4 0h0m97-2h0m277 2h0m-278 21h0m-48 4h0m-12-10h0" stroke="#7DCCBC" stroke-width="8.8"/>
<path d="M1674 1736h0m41-15h0m6 8h0m25 0h0m-9 16h0m-123 14h0m-1-2h0m2 19h0m35-8h0m85 8h0m395-12h0m-364 20h0m-138 29h0m10-1h0m119-8h0m10 1h0m9 24h0m-55 28h0m91-17h0m195 16h0m32-5h0m5 3h0m5-14h0m20 10h0m5 3h0m6 5h0m48-5h0m24-7h0m-29 21h0m-16 6h0m-334 4h0m-75-8h0m-3 9h0m-47 0h0m11 16h0m118-1h0m72-5h0m218 14h0m-1 2h0m-90-2h0m-145 16h0m-29-14h0m-13 7h0m-88-7h0m14 29h0m50-6h0m58 2h0m-91 24h0m-11-2h0" stroke="#61C2C0" stroke-width="8.8"/>
<path d="M1683 1755h0m-66-10h0m41 24h0m3-7h0m71 5h0m22 6h0m30 8h0m-135 11h0m-16 19h0m16-10h0m477 6h0m-339 26h0m-83 5h0m82 21h0m279-10h0m13-4h0m25 6h0m41-8h0m7 5h0m-75 15h0m-68 2h0m-248-3h0m-87 33h0m340-15h0m64 18h0m-45 3h0m-5 6h0m-44 0h0m-140 1h0m-20 8h0m-34-15h0m-29 11h0m-31 1h0m-39-3h0m151 23h0m-45 7h0m-17 5h0" stroke="#45B7C4" stroke-width="8.8"/>
<path d="M1662 1750h0m-9 2h0m-22 24h0m17 3h0m1-1h0m527 0h0m-485 12h0m465 40h0m-59 1h0m-276-2h0m-13 9h0m-104-16h0m-4 8h0m384 27h0m53 2h0m2 14h0m-17-12h0m-56 13h0m-267 4h0m-103-14h0m114 27h0m213 5h0m33-4h0m-56 13h0m-311 26h0m65 22h0m-33-13h0" stroke="#38ABC3" stroke-width="8.8"/>
<path d="M1664 1762h0m32 35h0m65 10h0m380 32h0m-361-17h0m354 38h0m-31 12h0m-38 6h0m-256-9h0m-156 0h0m-1 19h0m7 4h0m152-4h0m215 10h0m10-4h0m28 2h0m-326 6h0m-8 6h0m-17 6h0m-35-3h0m94 23h0m37-5h0m19 7h0m-96 17h0" stroke="#2B9FC2" stroke-width="8.8"/>
<path d="M1691 1779h0m453 6h0m-5 7h0m-511 8h0m526 6h0m-411 31h0m-109-6h0m433 26h0m9 8h0m-303-3h0m-9 7h0m-25-5h0m-37 11h0m70 10h0m23-4h0m-65 30h0m-3 1h0m54 27h0" stroke="#248FBD" stroke-width="8.8"/>
<path d="M1658 1760h0m25 11h0m438 40h0m-379 10h0m-63 36h0m73-5h0m355 3h0m26-8h0m4 9h0m-3 8h0m-339 7h0m-6-6h0m-22 12h0m-28-17h0m36 29h0m3 3h0m45 0h0m216-8h0m-267 18h0m-111 4h0m51 17h0m61 14h0m14 8h0m-67-1h0" stroke="#237BB5" stroke-width="8.8"/>
<path d="M2137 1787h0m-463 2h0m72 50h0m-37 5h0m367 26h0m-11 2h0m-340 6h0m-39 0h0m12 17h0m26 4h0m45-19h0m-40 30h0m-31 20h0m1-10h0m92 22h0" stroke="#2267AC" stroke-width="8.8"/>
<path d="M1687 1798h0m-19-2h0m463 8h0m1 23h0m-458 24h0m37-3h0m36-5h0m349 15h0m-13 6h0m-7 1h0m-68 9h0m-303-14h0m-3 36h0m4-11h0m70 11h0m-16 20h0m-54-9h0m-2 2h0m24 28h0" stroke="#2356A4" stroke-width="8.8"/>
<path d="M1650 1789h0m408 85h0m-363 6h0m19 13h0m17 4h0m301-9h0m-245 32h0" stroke="#24449C" stroke-width="8.8"/>
<path d="M1649 1806h0m490 22h0m-15 2h0m-366 51h0" stroke="#1E388D" stroke-width="8.8"/>
<path d="M2157 1782h0m-4 2h0m-459 15h0m-13-11h0m-7 48h0m22 5h0m35 14h0" stroke="#172E7B" stroke-width="8.8"/>
<path d="M1672 1779h0m17 59h0m72 90h0m29 4h0" stroke="#102467" stroke-width="8.8"/>
<path d="M1664 1776h0m25 55h0m19 14h0m-5 32h0m24 13h0m51 19h0m-23 26h0" stroke="#0D1A4B" stroke-width="8.8"/>
<path d="M1680 1793h0m-20 10h0m17 0h0m15 4h0m12 49h0m52 70h0m13 13h0" stroke="#0B1232" stroke-width="8.8"/>
<path d="M1698 1826h0m-16 15h0m19 7h0m4 11h0m7-7h0m56 49h0m-8 10h0m-26 4h0m28 5h0m12 4h0" stroke="#0A0D1E" stroke-width="8.8"/>
</g>
</g>
<defs><linearGradient id="gc" x1="0" x2="1" y1="0" y2="0"><stop offset="0%" stop-color="#F1F1EC"/><stop offset="6%" stop-color="#F5F6E2"/><stop offset="10%" stop-color="#F8FAD0"/><stop offset="20%" stop-color="#EEF7B5"/><stop offset="29%" stop-color="#CBEAB4"/><stop offset="38%" stop-color="#8FD3BA"/><stop offset="48%" stop-color="#45B7C4"/><stop offset="58%" stop-color="#2498C1"/><stop offset="67%" stop-color="#2268AD"/><stop offset="76%" stop-color="#24409A"/><stop offset="86%" stop-color="#10256B"/><stop offset="93%" stop-color="#0B1438"/><stop offset="100%" stop-color="#0A0A14"/></linearGradient></defs>
<rect x="76" y="526.8" width="188.6" height="9.6" fill="url(#gc)" stroke="#8a8a8a" stroke-width="0.7"/>
<path d="M94.5 526.8v2M94.5 536.4v-2" stroke="#fff" stroke-width="0.8"/><text x="94.5" y="546.3" font-size="7.4" fill="#444" text-anchor="middle">0</text>
<path d="M130.3 526.8v2M130.3 536.4v-2" stroke="#fff" stroke-width="0.8"/><text x="130.3" y="546.3" font-size="7.4" fill="#444" text-anchor="middle">0.5</text>
<path d="M166.1 526.8v2M166.1 536.4v-2" stroke="#fff" stroke-width="0.8"/><text x="166.1" y="546.3" font-size="7.4" fill="#444" text-anchor="middle">1</text>
<path d="M202.1 526.8v2M202.1 536.4v-2" stroke="#fff" stroke-width="0.8"/><text x="202.1" y="546.3" font-size="7.4" fill="#444" text-anchor="middle">1.5</text>
<path d="M238 526.8v2M238 536.4v-2" stroke="#fff" stroke-width="0.8"/><text x="238" y="546.3" font-size="7.4" fill="#444" text-anchor="middle">2</text>
<defs><linearGradient id="gd" x1="0" x2="1" y1="0" y2="0"><stop offset="0%" stop-color="#F1F1EC"/><stop offset="6%" stop-color="#F5F6E2"/><stop offset="10%" stop-color="#F8FAD0"/><stop offset="20%" stop-color="#EEF7B5"/><stop offset="29%" stop-color="#CBEAB4"/><stop offset="38%" stop-color="#8FD3BA"/><stop offset="48%" stop-color="#45B7C4"/><stop offset="58%" stop-color="#2498C1"/><stop offset="67%" stop-color="#2268AD"/><stop offset="76%" stop-color="#24409A"/><stop offset="86%" stop-color="#10256B"/><stop offset="93%" stop-color="#0B1438"/><stop offset="100%" stop-color="#0A0A14"/></linearGradient></defs>
<rect x="427" y="527.8" width="189.5" height="9.6" fill="url(#gd)" stroke="#8a8a8a" stroke-width="0.7"/>
<path d="M456.6 527.8v2M456.6 537.4v-2" stroke="#fff" stroke-width="0.8"/><text x="456.6" y="547.8" font-size="7.4" fill="#444" text-anchor="middle">0</text>
<path d="M499.9 527.8v2M499.9 537.4v-2" stroke="#fff" stroke-width="0.8"/><text x="499.9" y="547.8" font-size="7.4" fill="#444" text-anchor="middle">0.5</text>
<path d="M543.3 527.8v2M543.3 537.4v-2" stroke="#fff" stroke-width="0.8"/><text x="543.3" y="547.8" font-size="7.4" fill="#444" text-anchor="middle">1</text>
<path d="M586.6 527.8v2M586.6 537.4v-2" stroke="#fff" stroke-width="0.8"/><text x="586.6" y="547.8" font-size="7.4" fill="#444" text-anchor="middle">1.5</text>
</svg>
</body></html>
